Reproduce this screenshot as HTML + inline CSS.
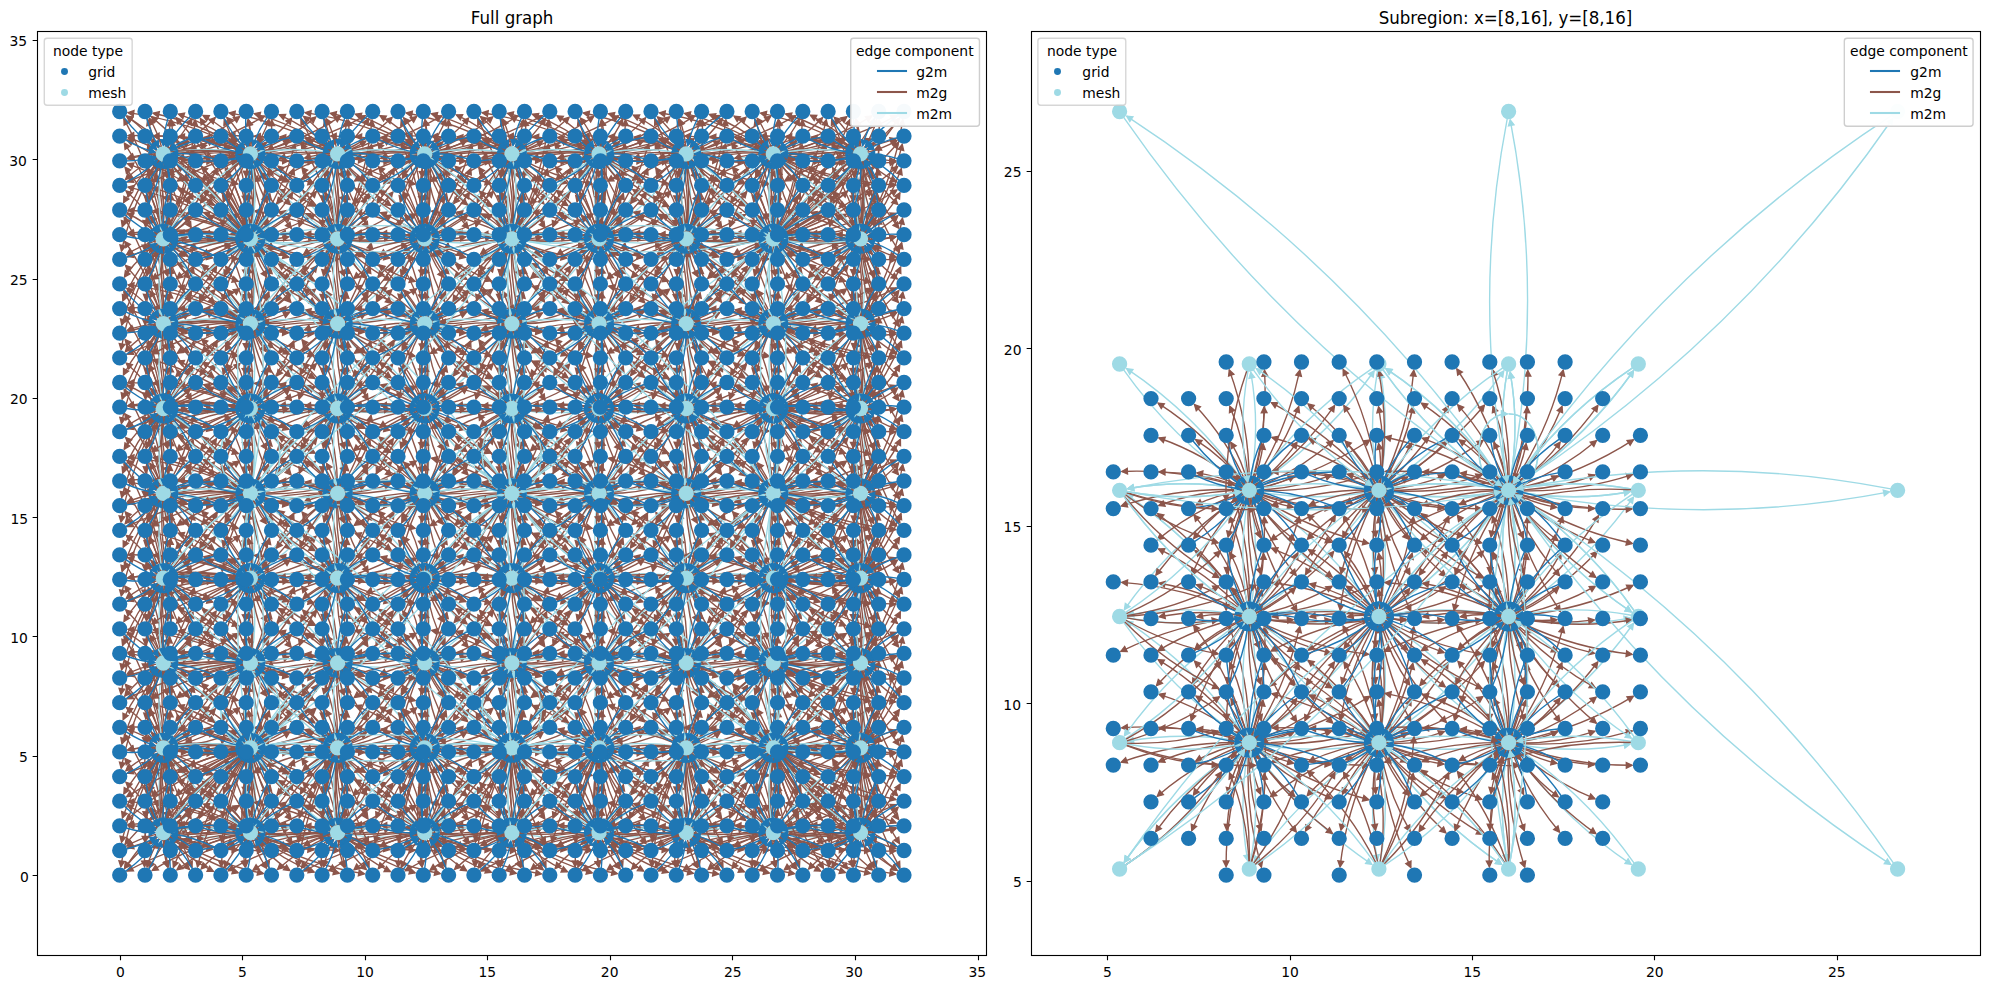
<!DOCTYPE html><html><head><meta charset="utf-8"><title>Graph</title><style>html,body{margin:0;padding:0;background:#fff}</style></head><body><svg width="1989" height="989" viewBox="0 0 1989 989" style="display:block"><defs><marker id="a" markerUnits="userSpaceOnUse" orient="auto" overflow="visible" markerWidth="20" markerHeight="20"><path d="M0 0L-5.56 2.78L-5.56 -2.78Z" fill="#1f77b4" stroke="#1f77b4" stroke-width="1.39" stroke-linejoin="miter"/></marker><marker id="b" markerUnits="userSpaceOnUse" orient="auto" overflow="visible" markerWidth="20" markerHeight="20"><path d="M0 0L-5.56 2.78L-5.56 -2.78Z" fill="#8c564b" stroke="#8c564b" stroke-width="1.39" stroke-linejoin="miter"/></marker><marker id="c" markerUnits="userSpaceOnUse" orient="auto" overflow="visible" markerWidth="20" markerHeight="20"><path d="M0 0L-5.56 2.78L-5.56 -2.78Z" fill="#9edae5" stroke="#9edae5" stroke-width="1.39" stroke-linejoin="miter"/></marker><clipPath id="k0"><rect x="37.35" y="31.33" width="949.05" height="923.94"/></clipPath><clipPath id="k1"><rect x="1030.95" y="31.33" width="949.05" height="923.94"/></clipPath></defs><style>.a{stroke:#1f77b4;marker-end:url(#a)}.ax{stroke:#1f77b4;fill:#1f77b4;stroke-linejoin:miter}.b{stroke:#8c564b;marker-end:url(#b)}.bx{stroke:#8c564b;fill:#8c564b;stroke-linejoin:miter}.c{stroke:#9edae5;marker-end:url(#c)}.cx{stroke:#9edae5;fill:#9edae5;stroke-linejoin:miter}.e{fill:none;stroke-width:1.39}.n{fill:none;stroke-width:15.28;stroke-linecap:round}text{font-family:"DejaVu Sans","Liberation Sans",sans-serif;fill:#000}.t{stroke:#000;stroke-width:1.11;fill:none}</style><rect width="1989" height="989" fill="#fff"/><g clip-path="url(#k0)"><g class="e"><g class="c"><path d="M164.5 825.9q6-35.6 .3-69.7"/><path d="M170.1 833.9q36.8 6.2 72 .3"/><path d="M169.1 828.8q45.3-30.8 76.4-74"/><path d="M169.1 828.8q45.3-30.8 76.4-74"/></g><g class="b"><path d="M157.5 836.6q-19.4 13.8-32.8 31.6"/><path d="M159.5 838.5q-8.5 14-12.4 28.4"/><path d="M163.3 839.6q.4 14.8 4.3 27.5"/><path d="M166.5 838.8q9.6 17.6 22.9 30.5"/><path d="M168 837.7q20.6 21 45.3 33.6"/><path d="M168.8 836.9q32.3 24.2 69.3 35.8"/><path d="M169.2 836.4q44.4 27.1 94 37.1"/><path d="M156.5 834.2q-16.3 4.1-29.6 11.8"/><path d="M157.7 836.8q-4.6 3.7-7.5 7"/></g><g class="bx"><path d="M165 839.4Q165.8 842 166.3 843M166.5 836.8L166.3 843 161.5 839.1Z"/></g><g class="b"><path d="M168.7 837q9.5 6.8 18.9 10.6"/><path d="M169.5 835.9q21.2 10.3 43 13.5"/><path d="M169.7 835.3q33.5 13.3 68 14.9"/><path d="M169.8 835q46 16.1 93.2 15.6"/><path d="M156.7 830.5q-14.7-4.5-28.5-4.7"/></g><g class="bx"><path d="M157.1 829.4Q154.5 828.3 153.2 827.9M157.7 832.2L153.2 827.9 159.4 826.9Z"/><path d="M168.5 828.1Q169.5 827 169.4 827.1M164 830.1L169.4 827.1 168.6 833.3Z"/></g><g class="b"><path d="M170.2 832.3q9.7-.9 17.5-3.5"/><path d="M170.2 833.1q22.4 .7 42.6-4.8"/><path d="M170.2 833.4q35.1 2.9 67.8-5.4"/><path d="M158.4 827.7q-14.5-14.1-31.1-22.7"/><path d="M160.8 826.2q-4.5-10.5-10.5-18.4"/><path d="M165.8 826.2q3.1-8.8 3.9-16.5"/><path d="M169 828.7q12.8-9.4 21.6-20.7"/><path d="M169.9 830.5q24.8-8.9 44.4-24"/><path d="M170.1 831.4q37.3-7.3 68.8-25.8"/><path d="M160.1 826.5q-14-25.5-34.1-44.2"/><path d="M162.3 825.8q-3.7-22.6-13.3-41.7"/><path d="M165.3 826q5.9-20.8 5.4-40.9"/><path d="M167.7 827.4q16.3-20.2 25-42.8"/><path d="M169 828.8q27.8-19.3 47-45.3"/><path d="M161.1 826.1q-12.6-37.5-36.1-67.5"/><path d="M163 825.7q-2-34.9-14.7-65.9"/><path d="M165.1 826q8.5-33.1 6-65.6"/><path d="M167 826.8q19.3-31.7 26.9-66.5"/><path d="M161.9 825.9q-11.1-49.8-37.6-91.5"/><path d="M163.4 825.7q0-47.3-15.4-90.4"/></g><g class="c"><path d="M251.7 825.9q6-35.6 .2-69.7"/><path d="M243.6 831.4q-36.7-6.2-72-.2"/><path d="M257.3 833.9q36.7 6.2 71.9 .3"/><path d="M256.2 828.8q45.4-30.8 76.5-74"/><path d="M246.4 827q-32-44.5-76.1-74.5"/><path d="M251.7 825.9q6-35.6 .2-69.7"/></g><g class="b"><path d="M243.5 833.6q-62.3 8.5-116.3 37.4"/><path d="M243.6 834q-49.6 10.5-91.4 36.5"/><path d="M243.8 834.8q-37.1 12.2-66.8 35"/><path d="M244.3 835.9q-24.8 13.5-43 32.9"/><path d="M245.5 837.6q-13.1 14-21 29.8"/><path d="M248.6 839.4q-3.4 14.2-2.9 27.2"/><path d="M252.4 839.3q5.4 16.2 14.1 28.9"/><path d="M254.6 838.2q15.6 19.4 35.1 32.3"/><path d="M255.7 837.2q27 22.8 58.5 34.9"/><path d="M256.2 836.6q39 25.8 82.9 36.6"/><path d="M256.4 836.1q51.4 28.8 107.9 37.7"/><path d="M243.5 832.3q-60-2.5-115.7 15.5"/><path d="M243.5 832.6q-47.4-.3-90.5 15"/><path d="M243.5 832.9q-34.6 1.9-65.4 14.3"/><path d="M243.5 833.6q-21.9 3.6-40.4 12.9"/><path d="M244 835.3q-9.5 4.3-16.6 9.7"/></g><g class="bx"><path d="M248 839.2Q247.4 841.3 247.2 842M251 837.1L247.2 842 245.5 836.1Z"/></g><g class="b"><path d="M255 837.9q4.9 5 9.3 8.1"/><path d="M256.4 836.2q15.9 8.9 32.1 12.6"/><path d="M256.8 835.5q28 12 56.8 14.4"/><path d="M256.9 835.2q40.5 14.8 82 15.3"/><path d="M243.7 831q-58-13.5-115.6-6.3"/><path d="M243.7 831q-45.4-11-90.3-6.2"/><path d="M243.7 830.9q-32.8-8.4-64.9-5.9"/><path d="M243.8 830.6q-20.2-5.6-39.7-5.1"/><path d="M244 830.1q-7.9-2.8-14.6-3.6"/></g><g class="bx"><path d="M246.9 826.7Q246.6 826.2 247.3 827M249 832.9L247.3 827 253.1 829.1Z"/></g><g class="b"><path d="M257.3 831.5q4.1-1 6.5-2"/><path d="M257.4 832.8q16.7-.1 31.3-4.4"/><path d="M257.3 833.3q29.5 1.9 56.6-5.2"/><path d="M257.3 833.5q42.2 4.2 81.9-5.5"/><path d="M244.1 829.8q-56.2-24.7-115.9-28.2"/><path d="M244.3 829.5q-43.8-21.9-90.8-27.4"/><path d="M244.5 829q-31.4-18.9-65.9-26.1"/><path d="M245.1 828.2q-19.5-15.7-41.5-24.1"/><path d="M246.6 826.9q-8.6-12.1-19-20.5"/><path d="M250.6 825.7q-.2-9-2-16.3"/><path d="M255.2 827.6q8-9.2 12.7-18.7"/><path d="M256.8 829.8q19.3-9.2 33.9-22.7"/><path d="M257.2 831.1q31.7-8.1 57.9-25.2"/><path d="M245.6 827.7q-30.4-30-67.6-47.6"/><path d="M246.5 826.9q-18.8-26.9-44-45.4"/><path d="M248.3 826.1q-8.1-23.9-22.2-42.8"/><path d="M251.1 825.8q1.6-21.5-2.8-41"/><path d="M254 826.7q11.4-20.4 15.9-41.8"/><path d="M255.7 828.2q22.6-19.7 36.9-44.2"/><path d="M256.6 829.5q34.5-18.7 59.9-46.6"/><path d="M249.3 825.8q-6.7-36-24.1-66.5"/><path d="M251.3 825.8q3.8-33.8-3.1-65.6"/><path d="M253.4 826.4q14.4-32.3 17.5-66"/><path d="M254.9 827.4q25.7-31.1 39.1-67.5"/></g><g class="c"><path d="M338.8 825.9q6-35.6 .3-69.7"/><path d="M330.7 831.4q-36.7-6.2-71.9-.2"/><path d="M344.4 833.9q36.7 6.2 72 .3"/><path d="M343.4 828.8q45.3-30.8 76.4-74"/><path d="M333.6 827q-32-44.5-76.1-74.5"/><path d="M333.6 827q-32-44.5-76.1-74.5"/></g><g class="b"><path d="M330.7 833.8q-55.3 9.6-102.5 37"/><path d="M330.8 834.4q-42.6 11.5-77.7 35.8"/><path d="M331.2 835.3q-30.2 13-53.5 34"/><path d="M332 836.8q-18.2 13.9-30.4 31.3"/><path d="M334.1 838.7q-7.4 14-10.4 28"/><path d="M338 839.6q1.4 15 6.2 27.6"/><path d="M341 838.7q10.8 17.9 25.3 30.9"/><path d="M342.5 837.6q21.8 21.3 47.8 33.9"/><path d="M343.1 836.8q33.7 24.5 72 36"/><path d="M343.5 836.3q45.8 27.5 96.8 37.3"/><path d="M330.6 832.4q-52.9-1.2-101.7 15.3"/><path d="M330.6 832.7q-40.2 1-76.5 14.7"/><path d="M330.7 833.3q-27.6 2.9-51.5 13.6"/><path d="M330.8 834.4q-14.9 4.2-26.8 11.5"/><path d="M332.3 837.2q-3.5 3.5-5.5 6.2"/></g><g class="bx"><path d="M340.1 839.1Q341.5 842.1 342.4 843.6M341.8 837.4L342.4 843.6 337.1 840.4Z"/></g><g class="b"><path d="M343.2 836.8q10.7 7.3 21.4 11.1"/><path d="M343.8 835.8q22.6 10.6 45.8 13.7"/><path d="M344 835.3q34.9 13.6 70.8 15"/><path d="M344.1 835q47.4 16.4 96 15.7"/><path d="M330.9 830.9q-38.4-9.5-76.2-6"/><path d="M330.9 830.8q-25.8-6.9-50.9-5.6"/><path d="M331 830.4q-13.3-4.1-25.7-4.5"/></g><g class="bx"><path d="M331.6 829.1Q330.2 828.5 330.2 828.5M334.3 833.1L330.2 828.5 336.4 827.9Z"/><path d="M343.6 829.2Q345.6 827.7 346.3 827M340.5 829L346.3 827 344.5 832.9Z"/></g><g class="b"><path d="M344.5 832.5q11.1-.8 20.2-3.8"/><path d="M344.5 833.1q23.8 1 45.4-4.9"/><path d="M344.5 833.4q36.5 3.2 70.6-5.4"/><path d="M331.5 829.3q-36.9-20.3-76.9-26.8"/><path d="M331.9 828.6q-24.7-17.1-52.2-25.1"/><path d="M332.9 827.6q-13.3-13.8-28.6-22.4"/><path d="M335.5 826q-3.5-10.1-8.5-17.8"/><path d="M340.7 826.5q3.9-8.9 5.4-16.9"/><path d="M343.5 829q14-9.4 23.9-21.2"/><path d="M344.2 830.6q26.2-8.7 47.1-24.2"/><path d="M344.4 831.5q38.8-7.2 71.6-26"/><path d="M333.2 827.3q-23.9-28.3-54.3-46.5"/><path d="M334.6 826.4q-12.8-25.1-31.7-43.9"/><path d="M336.9 825.8q-2.6-22.4-11.2-41.5"/><path d="M339.9 826.2q7-20.8 7.5-41.1"/><path d="M342.2 827.5q17.5-20 27.3-43.1"/><path d="M343.4 828.9q29.2-19.1 49.5-45.5"/><path d="M335.6 826q-11.5-37.2-33.7-67.3"/><path d="M337.5 825.7q-.8-34.7-12.3-65.8"/><path d="M339.6 826.1q9.7-33 8.3-65.7"/><path d="M341.5 826.9q20.6-31.6 29.3-66.7"/></g><g class="c"><path d="M426 825.9q6-35.6 .2-69.7"/><path d="M417.9 831.4q-36.7-6.2-72-.2"/><path d="M431.6 833.9q36.7 6.2 71.9 .3"/><path d="M430.5 828.8q45.4-30.8 76.5-74"/><path d="M420.7 827q-32-44.5-76.1-74.5"/><path d="M430.5 828.8q45.4-30.8 76.5-74"/></g><g class="b"><path d="M417.8 833.6q-60.9 8.7-113.6 37.4"/><path d="M417.9 834.1q-48.2 10.7-88.7 36.4"/><path d="M418.1 834.9q-35.7 12.4-64.1 34.8"/><path d="M418.7 836q-23.4 13.6-40.4 32.7"/><path d="M420.1 837.8q-12 14-18.8 29.5"/><path d="M423.4 839.5q-2.5 14.3-1.2 27.2"/><path d="M427.1 839.2q6.4 16.5 16.2 29.3"/><path d="M429.1 838.1q16.8 19.8 37.5 32.6"/><path d="M430 837.2q28.4 23 61.2 35.1"/><path d="M430.5 836.5q40.4 26.2 85.7 36.8"/><path d="M430.8 836.1q52.6 29.1 110.6 37.8"/><path d="M417.8 832.6q-45.9 0-87.7 14.9"/><path d="M417.8 833q-33.2 2.1-62.6 14.1"/><path d="M417.9 833.8q-20.6 3.7-37.7 12.6"/><path d="M418.4 835.6q-8.2 4.2-14.1 9.2"/></g><g class="bx"><path d="M423.3 839.5Q423.1 841.5 423.1 842M426 836.5L423.1 842 420.5 836.3Z"/></g><g class="b"><path d="M429.6 837.6q5.9 5.5 11.5 8.8"/><path d="M430.8 836.1q17.1 9.3 34.8 12.9"/><path d="M431.1 835.5q29.4 12.3 59.6 14.5"/><path d="M431.2 835.1q41.9 15.2 84.8 15.4"/><path d="M418 831q-44-10.7-87.4-6.1"/><path d="M418 830.8q-31.4-8-62.1-5.7"/><path d="M418.1 830.6q-18.9-5.4-36.9-5.1"/><path d="M418.3 830q-6.5-2.4-11.8-3.2"/></g><g class="bx"><path d="M423.3 825.9Q423.3 825.9 423.9 827.3M423.5 833.5L423.9 827.3 428.6 831.3Z"/></g><g class="b"><path d="M431.6 831.7q5.5-1 9.2-2.5"/><path d="M431.7 832.9q18.1 .1 34.1-4.5"/><path d="M431.6 833.3q30.9 2.2 59.4-5.2"/><path d="M431.6 833.5q43.6 4.5 84.7-5.6"/><path d="M418.9 828.9q-30.2-18.5-63.2-25.9"/><path d="M419.5 828.1q-18.3-15.3-38.9-23.8"/><path d="M421.2 826.7q-7.6-11.7-16.7-20"/><path d="M425.5 825.8q.6-8.9-.6-16.3"/><path d="M429.8 827.9q9.1-9.3 14.8-19.2"/><path d="M431.1 830q20.7-9.2 36.5-23.1"/><path d="M431.5 831.2q33.1-8 60.6-25.4"/><path d="M419.9 827.6q-29-29.7-64.8-47.4"/><path d="M421 826.8q-17.6-26.5-41.5-45.1"/><path d="M422.9 826q-7-23.5-20-42.5"/><path d="M425.8 825.8q2.6-21.3-.8-40.9"/><path d="M428.5 826.9q12.7-20.4 18.2-42.1"/><path d="M430.2 828.4q23.8-19.7 39.3-44.6"/><path d="M430.9 829.6q35.9-18.5 62.6-46.8"/><path d="M422.1 826.3q-16.4-38.5-43.6-68.2"/><path d="M423.8 825.8q-5.5-35.8-21.7-66.4"/><path d="M425.9 825.8q4.9-33.6-.9-65.5"/><path d="M427.9 826.5q15.6-32.2 19.8-66.1"/><path d="M429.4 827.5q26.9-30.9 41.5-67.6"/></g><g class="c"><path d="M513.1 825.9q6-35.6 .3-69.7"/><path d="M505 831.4q-36.7-6.2-71.9-.2"/><path d="M518.7 833.9q36.7 6.2 72 .3"/><path d="M517.7 828.8q45.3-30.8 76.4-74"/><path d="M507.9 827q-32-44.5-76.1-74.5"/><path d="M513.1 825.9q6-35.6 .3-69.7"/></g><g class="b"><path d="M505 833.9q-53.8 9.8-99.7 36.8"/><path d="M505.2 834.5q-41.3 11.7-75 35.6"/><path d="M505.5 835.5q-28.8 13.1-50.8 33.7"/><path d="M506.4 837q-16.8 13.9-28 30.9"/><path d="M508.8 838.9q-6.4 14.1-8.5 27.8"/><path d="M512.7 839.6q2.4 15.2 8.1 27.9"/><path d="M515.5 838.6q12 18.3 27.7 31.2"/><path d="M516.9 837.5q23 21.7 50.4 34.2"/><path d="M517.5 836.8q35 24.8 74.7 36.1"/><path d="M517.8 836.3q47.2 27.8 99.6 37.3"/><path d="M504.9 832.5q-51.5-1-98.9 15.1"/><path d="M504.9 832.8q-38.8 1.2-73.7 14.5"/><path d="M505 833.4q-26.2 3-48.7 13.4"/><path d="M505.2 834.5q-13.6 4.3-24.3 11.2"/><path d="M507.1 837.7q-2.6 3.2-3.9 5.3"/><path d="M515.1 838.8q2.1 3.5 3.7 5.4"/><path d="M517.6 836.6q12 7.7 24.1 11.5"/><path d="M518.1 835.7q24 11 48.6 13.9"/><path d="M518.3 835.3q36.3 13.9 73.6 15"/><path d="M518.4 835q48.8 16.7 98.8 15.7"/><path d="M505.2 830.9q-37-9.2-73.4-5.9"/><path d="M505.2 830.7q-24.4-6.6-48.1-5.4"/><path d="M505.3 830.4q-11.9-3.8-22.9-4.4"/></g><g class="bx"><path d="M506.1 828.8Q505.9 828.6 507 829.2M510.6 834.3L507 829.2 513.2 829.4Z"/><path d="M518.3 830Q518.5 829.9 517.4 830.5M511.2 830.8L517.4 830.5 513.9 835.6Z"/></g><g class="b"><path d="M518.8 832.6q12.5-.7 23-4"/><path d="M518.8 833.2q25.3 1.2 48.2-5"/><path d="M518.8 833.4q37.9 3.5 73.4-5.4"/><path d="M505.9 829.2q-35.6-19.9-74.2-26.6"/><path d="M506.3 828.5q-23.5-16.8-49.5-24.9"/><path d="M507.4 827.4q-12.1-13.3-26.1-21.9"/><path d="M510.3 825.9q-2.6-9.8-6.8-17.4"/><path d="M515.4 826.7q4.9-8.9 7.2-17.2"/><path d="M517.9 829.2q15.3-9.4 26.4-21.6"/><path d="M518.5 830.7q27.6-8.5 49.8-24.4"/><path d="M518.7 831.6q40.2-7 74.4-26.2"/><path d="M507.6 827.2q-22.6-28-51.7-46.2"/><path d="M509.1 826.3q-11.6-24.8-29.3-43.6"/><path d="M511.5 825.7q-1.5-22.1-9-41.3"/><path d="M514.6 826.3q8-20.7 9.5-41.2"/><path d="M516.7 827.7q18.7-20 29.7-43.4"/><path d="M517.8 829.1q30.5-19.1 52.1-45.9"/><path d="M510.1 826q-10.3-36.9-31.2-67.1"/><path d="M512.1 825.7q.3-34.5-10.1-65.7"/><path d="M514.2 826.1q10.8-32.7 10.5-65.7"/><path d="M515.9 827q21.9-31.4 31.7-66.8"/></g><g class="c"><path d="M600.3 825.9q6-35.6 .2-69.7"/><path d="M592.2 831.4q-36.8-6.2-72-.2"/><path d="M605.8 833.9q36.8 6.2 72 .3"/><path d="M604.8 828.8q45.4-30.8 76.5-74"/><path d="M595 827q-32-44.5-76.1-74.5"/><path d="M595 827q-32-44.5-76.1-74.5"/></g><g class="b"><path d="M592.1 833.6q-59.5 9-110.8 37.3"/><path d="M592.2 834.2q-46.8 10.9-85.9 36.2"/><path d="M592.5 835q-34.3 12.5-61.5 34.6"/><path d="M593 836.2q-22 13.7-37.8 32.3"/><path d="M594.6 838.1q-10.7 14-16.6 29"/><path d="M598.1 839.6q-1.5 14.4 .7 27.2"/><path d="M601.7 839.1q7.4 16.8 18.4 29.7"/><path d="M603.5 838q18.1 20.1 40.1 33"/><path d="M604.4 837.1q29.6 23.4 63.9 35.3"/><path d="M604.8 836.5q41.8 26.5 88.5 36.8"/><path d="M605.1 836.1q54 29.4 113.4 37.9"/><path d="M592.1 832.6q-44.5 .2-84.9 14.9"/><path d="M592.1 833.1q-31.8 2.2-59.8 14"/><path d="M592.2 833.9q-19.2 3.9-35 12.4"/><path d="M592.9 835.9q-7 4.1-11.8 8.6"/></g><g class="bx"><path d="M598.7 839.6Q598.8 841.6 598.8 842.1M600.9 836.3L598.8 842.1 595.4 837Z"/></g><g class="b"><path d="M604.1 837.4q7.1 5.9 13.9 9.5"/><path d="M605.1 836q18.5 9.6 37.5 13.1"/><path d="M605.4 835.4q30.8 12.7 62.4 14.7"/><path d="M605.5 835.1q43.3 15.5 87.6 15.5"/><path d="M592.3 830.9q-42.6-10.4-84.6-6"/><path d="M592.3 830.8q-30-7.8-59.3-5.7"/><path d="M592.4 830.6q-17.5-5.1-34.1-5"/><path d="M592.7 829.8q-5.2-2-9.2-2.7"/></g><g class="bx"><path d="M600.4 825.9Q600.4 825.9 600.4 827.4M597.6 832.9L600.4 827.4 603.2 833Z"/></g><g class="b"><path d="M605.9 832q6.9-1.1 12-2.9"/><path d="M606 833q19.6 .3 36.9-4.7"/><path d="M605.9 833.3q32.4 2.4 62.2-5.2"/><path d="M605.9 833.5q45 4.7 87.5-5.6"/><path d="M593.2 828.9q-28.8-18.3-60.4-25.8"/><path d="M593.9 828q-17-15-36.2-23.5"/><path d="M595.8 826.5q-6.5-11.3-14.5-19.4"/><path d="M600.4 825.9q1.4-8.9 .9-16.2"/><path d="M604.3 828.2q10.4-9.3 17-19.7"/><path d="M605.5 830.2q22-9.1 39.1-23.4"/><path d="M605.8 831.3q34.5-7.8 63.4-25.5"/><path d="M594.3 827.6q-27.7-29.4-62.2-47.2"/><path d="M595.4 826.7q-16.3-26.2-38.9-44.8"/><path d="M597.5 825.9q-5.9-23.2-17.8-42.2"/><path d="M600.4 825.9q3.7-21.2 1.3-40.9"/><path d="M603.1 827q13.8-20.2 20.3-42.2"/><path d="M604.6 828.5q25.1-19.5 41.8-44.8"/><path d="M605.3 829.7q37.2-18.4 65.2-47"/><path d="M596.6 826.2q-15.2-38.2-41.1-67.9"/><path d="M598.3 825.8q-4.4-35.5-19.3-66.3"/><path d="M600.4 825.9q6.1-33.5 1.4-65.6"/><path d="M602.4 826.6q16.9-32 22.1-66.2"/><path d="M603.8 827.6q28.2-30.8 44-67.8"/></g><g class="c"><path d="M687.4 825.9q6-35.6 .3-69.7"/><path d="M679.3 831.4q-36.7-6.2-71.9-.2"/><path d="M693 833.9q36.7 6.2 72 .3"/><path d="M692 828.8q45.3-30.8 76.4-74"/><path d="M682.2 827q-32-44.5-76.1-74.5"/><path d="M692 828.8q45.3-30.8 76.4-74"/></g><g class="b"><path d="M679.3 833.9q-52.4 10.1-96.9 36.8"/><path d="M679.5 834.6q-39.9 11.9-72.3 35.4"/><path d="M679.9 835.6q-27.5 13.3-48.2 33.5"/><path d="M680.9 837.2q-15.6 13.9-25.6 30.5"/><path d="M683.5 839.1q-5.4 14.1-6.6 27.5"/><path d="M687.4 839.5q3.4 15.5 10.1 28.2"/><path d="M690 838.4q13.2 18.7 30.1 31.7"/><path d="M691.2 837.4q24.4 22 53.2 34.4"/><path d="M691.8 836.7q36.3 25.2 77.5 36.3"/><path d="M692.1 836.2q48.6 28.1 102.4 37.5"/><path d="M679.2 832.5q-50.1-.8-96.1 15.1"/><path d="M679.2 832.8q-37.4 1.4-70.9 14.5"/><path d="M679.3 833.4q-24.8 3.3-45.9 13.3"/><path d="M679.5 834.8q-12.2 4.3-21.6 10.7"/></g><g class="bx"><path d="M682 838.3Q680.3 841 679.5 842.6M684.4 838.8L679.5 842.6 679.4 836.4Z"/></g><g class="b"><path d="M689.9 838.5q3 4 5.4 6.3"/><path d="M692 836.5q13.2 8.1 26.7 11.9"/><path d="M692.5 835.6q25.2 11.4 51.3 14.1"/><path d="M692.6 835.2q37.7 14.3 76.4 15.2"/><path d="M692.7 835q50.2 17 101.6 15.7"/><path d="M679.5 830.9q-35.6-9-70.6-5.9"/><path d="M679.5 830.7q-23-6.3-45.3-5.4"/><path d="M679.7 830.3q-10.6-3.5-20.2-4.1"/></g><g class="bx"><path d="M680.8 828.2Q678.7 826.9 677.8 826.5M681.7 831.2L677.8 826.5 684 826.1Z"/><path d="M692.8 830.6Q694.3 830.1 694.3 830.1M688.1 830L694.3 830.1 690.5 835Z"/></g><g class="b"><path d="M693.1 832.7q13.9-.5 25.8-4.1"/><path d="M693.1 833.2q26.7 1.4 51-5"/><path d="M693.1 833.4q39.3 3.7 76.2-5.4"/><path d="M680.2 829.1q-34.2-19.5-71.4-26.4"/><path d="M680.7 828.4q-22.2-16.4-46.9-24.6"/><path d="M681.9 827.2q-10.9-12.9-23.7-21.4"/><path d="M685.2 825.8q-1.8-9.5-5.2-17"/><path d="M690.2 827q5.9-9 8.9-17.7"/><path d="M692.3 829.4q16.7-9.3 28.9-22"/><path d="M692.9 830.9q28.9-8.5 52.4-24.8"/><path d="M693 831.7q41.6-6.8 77.1-26.3"/><path d="M682 827.1q-21.3-27.6-49.1-45.9"/><path d="M683.6 826.2q-10.4-24.4-26.9-43.3"/><path d="M686.2 825.7q-.5-21.9-7-41.1"/><path d="M689.2 826.4q9.2-20.5 11.6-41.4"/><path d="M691.2 827.9q20-19.9 32-43.7"/><path d="M692.2 829.2q31.8-18.9 54.6-46.1"/><path d="M684.6 825.9q-9.1-36.6-28.8-66.9"/><path d="M686.6 825.7q1.5-34.2-7.8-65.6"/><path d="M688.7 826.2q12-32.6 12.8-65.8"/><path d="M690.4 827.2q23.1-31.4 34.1-67.1"/></g><g class="c"><path d="M774.6 825.9q5.9-35.6 .2-69.7"/><path d="M766.5 831.4q-36.8-6.2-72-.2"/><path d="M780.1 833.9q36.8 6.2 72 .3"/><path d="M779.1 828.8q45.4-30.8 76.5-74"/><path d="M769.3 827q-32-44.5-76.1-74.5"/><path d="M774.6 825.9q5.9-35.6 .2-69.7"/></g><g class="b"><path d="M766.5 833.7q-58.1 9.2-108.1 37.2"/><path d="M766.6 834.2q-45.5 11.2-83.2 36.1"/><path d="M766.8 835.1q-32.9 12.7-58.7 34.4"/><path d="M767.5 836.4q-20.8 13.7-35.4 32"/><path d="M769.2 838.3q-9.6 14-14.5 28.7"/><path d="M772.9 839.6q-.6 14.6 2.5 27.3"/><path d="M776.3 839q8.5 17.2 20.6 30"/><path d="M778 837.8q19.2 20.6 42.6 33.3"/><path d="M778.8 837q30.9 23.8 66.5 35.5"/><path d="M779.2 836.4q43.1 26.8 91.2 37"/><path d="M779.4 836q55.4 29.7 116.2 38"/><path d="M766.4 832.7q-43.1 .4-82.1 14.8"/><path d="M766.4 833.1q-30.4 2.5-57 13.9"/><path d="M766.5 834q-17.7 4-32.2 12.2"/><path d="M767.4 836.3q-5.7 4-9.5 7.8"/></g><g class="bx"><path d="M774.1 839.6Q774.5 841.8 774.7 842.5M775.8 836.4L774.7 842.5 770.5 837.9Z"/></g><g class="b"><path d="M778.6 837.2q8.3 6.4 16.4 10"/><path d="M779.5 835.9q19.8 10 40.2 13.4"/><path d="M779.7 835.4q32.2 13 65.3 14.7"/><path d="M779.8 835.1q44.7 15.8 90.4 15.5"/><path d="M779.9 834.9q57.2 18.5 115.7 16"/><path d="M766.6 830.9q-41.2-10.1-81.8-6"/><path d="M766.6 830.8q-28.6-7.5-56.5-5.6"/><path d="M766.7 830.5q-16.1-4.7-31.3-4.8"/><path d="M767.1 829.7q-3.9-1.6-6.5-2.3"/></g><g class="bx"><path d="M777.1 826.9Q777.3 826.4 777 827.3M772.5 831.5L777 827.3 777.7 833.5Z"/></g><g class="b"><path d="M780.2 832.2q8.3-1 14.7-3.3"/><path d="M780.3 833q21 .6 39.7-4.7"/><path d="M780.2 833.3q33.8 2.7 65-5.3"/><path d="M780.2 833.5q46.4 5 90.3-5.6"/><path d="M780.2 833.6q59.1 7.4 115.6-5.8"/><path d="M767.6 828.8q-27.5-17.9-57.7-25.6"/><path d="M768.3 827.8q-15.7-14.5-33.6-23.1"/><path d="M770.4 826.4q-5.4-10.9-12.4-19"/><path d="M775.3 826q2.2-8.8 2.4-16.3"/><path d="M778.8 828.5q11.6-9.4 19.3-20.2"/><path d="M779.9 830.3q23.4-8.9 41.7-23.7"/><path d="M780.1 831.4q36-7.6 66.1-25.7"/><path d="M780.2 832q48.6-5.7 91-26.9"/><path d="M780.3 832.3q61.2-3.5 116-27.6"/><path d="M768.7 827.5q-26.4-29-59.5-47"/><path d="M769.9 826.6q-15.1-25.8-36.5-44.5"/><path d="M772 825.9q-4.7-23-15.5-42"/><path d="M775 826q4.8-21 3.3-41"/><path d="M777.6 827.2q15-20.2 22.6-42.5"/><path d="M779 828.7q26.4-19.5 44.4-45.1"/><path d="M779.6 829.8q38.7-18.2 67.9-47.2"/><path d="M771 826.1q-13.9-37.8-38.6-67.7"/><path d="M772.8 825.8q-3.2-35.3-17-66.1"/><path d="M774.9 825.9q7.4-33.2 3.7-65.5"/><path d="M776.8 826.7q18.2-31.9 24.6-66.4"/></g><g class="c"><path d="M861.7 825.9q6-35.6 .3-69.7"/><path d="M853.6 831.4q-36.7-6.2-71.9-.2"/><path d="M856.5 827q-32-44.5-76.1-74.5"/><path d="M856.5 827q-32-44.5-76.1-74.5"/></g><g class="b"><path d="M853.6 834q-51 10.3-94.2 36.6"/><path d="M853.8 834.7q-38.5 12-69.5 35.2"/><path d="M854.2 835.7q-26.1 13.4-45.5 33.2"/><path d="M855.4 837.4q-14.4 14-23.3 30.2"/><path d="M858.2 839.2q-4.4 14.2-4.7 27.4"/><path d="M862.1 839.4q4.3 15.9 12.1 28.6"/><path d="M864.5 838.3q14.4 19.1 32.5 32"/><path d="M853.5 832.5q-48.7-.5-93.3 15.1"/><path d="M853.5 832.9q-36 1.6-68.1 14.3"/><path d="M853.6 833.5q-23.4 3.5-43.2 13.1"/><path d="M853.9 835q-10.8 4.3-19 10.3"/></g><g class="bx"><path d="M857.1 838.8Q856 841.2 855.6 842.3M860 837.9L855.6 842.3 854.8 836.1Z"/></g><g class="b"><path d="M864.7 838.2q3.8 4.5 7.2 7.2"/><path d="M866.4 836.3q14.5 8.5 29.4 12.3"/><path d="M853.8 830.9q-34.2-8.7-67.8-5.9"/><path d="M853.8 830.7q-21.6-6-42.5-5.3"/><path d="M854 830.2q-9.2-3.1-17.4-3.9"/></g><g class="bx"><path d="M855.8 827.6Q854.7 826.6 854.7 826.7M857.9 832L854.7 826.7 860.9 827.4Z"/><path d="M867.2 831.1Q870 830.3 871.2 829.7M865 829.4L871.2 829.7 867.2 834.5Z"/></g><g class="b"><path d="M867.4 832.8q15.4-.3 28.6-4.3"/><path d="M854.5 829.1q-32.8-19.3-68.6-26.3"/><path d="M855.1 828.3q-20.9-16-44.2-24.4"/><path d="M856.4 827.1q-9.8-12.6-21.3-21"/><path d="M860 825.7q-1-9.2-3.5-16.6"/><path d="M864.9 827.3q6.9-9.1 10.8-18.2"/><path d="M866.7 829.6q18-9.3 31.4-22.3"/><path d="M856.4 827q-20-27.2-46.5-45.7"/><path d="M858.1 826.1q-9.2-24.1-24.5-43"/><path d="M860.8 825.7q.6-21.6-4.9-41"/><path d="M863.7 826.6q10.4-20.5 13.8-41.6"/><path d="M865.6 828q21.3-19.8 34.5-43.9"/><path d="M859.1 825.9q-7.9-36.4-26.4-66.8"/><path d="M861.1 825.8q2.7-34.1-5.4-65.7"/><path d="M863.2 826.3q13.3-32.4 15.2-65.9"/><path d="M864.8 827.3q24.4-31.2 36.6-67.3"/><path d="M862.9 826.2q16-44.6 15.9-90.4"/><path d="M864.3 826.9q27.3-43 38-91.3"/></g><g class="c"><path d="M162 754.7q-6 35.6-.2 69.6"/><path d="M164.5 741q6-35.6 .3-69.6"/><path d="M170.1 749.1q36.8 6.2 72 .3"/><path d="M169.1 744q45.3-30.8 76.4-74.1"/><path d="M167.3 753.5q32 44.6 76.1 74.5"/><path d="M170.1 749.1q36.8 6.2 72 .3"/></g><g class="b"><path d="M159.8 753.9q-29.8 53.6-38.9 112.8"/><path d="M161 754.4q-18.3 55.4-16.4 112.2"/><path d="M162.4 754.7q-7 57.4 5.9 112.1"/><path d="M163.7 754.8q4.3 59.6 28.3 112.6"/><path d="M159.4 753.6q-27 41.7-37.9 88.6"/><path d="M160.8 754.3q-15.7 43.2-15.8 87.7"/><path d="M162.5 754.7q-4.7 45.1 5.7 87.5"/><path d="M164.1 754.7q6.3 47.3 27.5 88.3"/><path d="M158.8 753.2q-24 29.9-36.3 64.6"/><path d="M160.5 754.2q-12.9 31.1-15.1 63.2"/><path d="M162.6 754.8q-2.4 32.6 5.5 62.8"/><path d="M164.7 754.6q8.1 35 26.3 64.1"/><path d="M166.3 754.1q19 37.7 48.4 65.9"/><path d="M158 752.4q-20.9 18.5-34.1 41.4"/><path d="M159.9 753.9q-10 19.2-13.5 38.9"/><path d="M163 754.8q-.4 20.3 4.8 38.3"/><path d="M165.8 754.3q9.3 22.8 24.2 40.5"/><path d="M167.4 753.4q20.2 26 46.4 43.2"/><path d="M156.9 750.6q-17.6 8.2-31 20.2"/><path d="M158.7 753q-6.5 8-10.3 15.8"/><path d="M163.9 754.8q1 7.9 3.2 13.9"/><path d="M167.6 753.2q9.7 11.4 20.8 18.8"/><path d="M168.8 752q21 14.9 44 22.1"/><path d="M169.3 751.3q33 18 68.5 24"/><path d="M156.4 747.3q-15.2-.6-28.5 2.5"/></g><g class="bx"><path d="M156.4 748.5Q153.9 748.9 153 749.2M159.1 750.3L153 749.2 157.6 745Z"/><path d="M169.2 751.5Q169.7 751.7 168.8 751.4M164.5 747L168.8 751.4 162.7 752.3Z"/></g><g class="b"><path d="M169.9 749.8q9.3 2.2 17.2 2.3"/><path d="M170 749.5q21.8 4.9 42.5 3.3"/><path d="M170 749.4q34.4 7.5 67.8 3.6"/><path d="M157.6 743.9q-14.6-9.6-29.7-14.3"/><path d="M159.5 742q-4.1-5.6-8-9.2"/><path d="M166.4 741.6q1.6-3.6 2.2-6"/><path d="M169.7 745.1q11.2-5.2 19.5-12.2"/><path d="M170.1 746.7q23.6-4.5 43.4-15.2"/><path d="M170.2 747.4q36.3-2.8 68.3-16.6"/><path d="M159.4 742.1q-14.3-20.4-32.8-34.4"/><path d="M161.8 741.1q-4.2-17.2-12.4-31.2"/><path d="M165.5 741.2q4.7-15.4 4.9-30"/><path d="M168.2 743q14.8-15.2 23.7-32.7"/><path d="M169.4 744.6q26.4-14.6 45.8-35.6"/><path d="M169.9 745.7q38.8-13.3 69.7-37.7"/><path d="M160.7 741.4q-13.3-32.2-35.3-57.1"/><path d="M162.7 740.9q-2.8-29.5-14.1-55.1"/><path d="M165.2 741.2q7.3-27.7 5.7-54.7"/><path d="M167.3 742.2q18-26.5 26.1-55.9"/><path d="M168.6 743.4q29.5-25.5 48.2-57.9"/><path d="M161.6 741.1q-11.8-44.3-37-80.7"/><path d="M163.2 740.9q-.9-41.9-15.1-79.6"/><path d="M165 741.1q10-39.9 6.2-79.2"/><path d="M162.1 741q-9.9-56.6-38.1-104.9"/></g><g class="c"><path d="M249.2 754.7q-6 35.6-.3 69.6"/><path d="M251.7 741q6-35.6 .2-69.6"/><path d="M243.6 746.6q-36.7-6.2-72-.3"/><path d="M257.3 749.1q36.7 6.2 71.9 .3"/><path d="M244.6 751.7q-45.3 30.8-76.4 74"/><path d="M256.2 744q45.4-30.8 76.5-74.1"/><path d="M246.4 742.2q-32-44.6-76.1-74.5"/><path d="M254.4 753.5q32 44.6 76.1 74.5"/><path d="M250.4 671.5C289.6 671.5 289.6 747.8 250.4 747.8 211.2 747.8 211.2 671.5 248.9 671.5"/></g><g class="b"><path d="M244.6 751.7q-71.3 47.6-120 116.4"/><path d="M245.1 752.3q-59.1 49.5-96 115.4"/><path d="M245.7 752.9q-47 51.3-72.3 114.3"/><path d="M246.5 753.6q-35 52.9-49 113.2"/><path d="M247.6 754.2q-23.4 54.6-26.3 112.4"/><path d="M248.9 754.6q-12 56.5-4 112.1"/><path d="M250.3 754.8q-.8 58.6 18.3 112.3"/><path d="M244.3 751q-68.7 36.1-119 93.1"/><path d="M244.6 751.7q-56.2 37.8-94.7 91.8"/><path d="M245.2 752.4q-44.1 39.5-71 90.5"/><path d="M246.1 753.2q-32.2 41.1-47.9 89.2"/><path d="M247.3 754q-20.7 42.6-25.6 88"/><path d="M248.9 754.6q-9.6 44.2-3.9 87.5"/><path d="M250.6 754.8q1.4 46.2 17.7 87.8"/><path d="M252.1 754.6q12.4 48.7 39.9 88.9"/><path d="M243.9 750.2q-66 24.7-117.8 70"/><path d="M244.2 750.9q-53.5 26.4-93.4 68.7"/><path d="M244.6 751.7q-41.1 28-69.4 67.2"/><path d="M245.5 752.7q-29.2 29.4-46.3 65.4"/><path d="M246.8 753.8q-17.8 30.5-24.3 63.7"/><path d="M248.8 754.6q-7 31.9-3.6 62.8"/><path d="M251 754.8q3.4 33.8 16.9 63.4"/><path d="M252.8 754.3q14.1 36.5 38.4 65.1"/><path d="M243.6 749.2q-63.4 13.5-116.8 47.4"/><path d="M243.8 749.8q-50.8 15.3-92 46.2"/><path d="M244 750.6q-38.3 17-67.6 44.7"/><path d="M244.7 751.7q-26.2 18.2-44.1 42.6"/><path d="M246.1 753.2q-14.7 19-22.4 40"/><path d="M248.7 754.6q-4.5 19.6-3.2 38.1"/><path d="M251.8 754.6q5 21.6 15.3 39.3"/><path d="M254 753.8q15.2 24.5 36.2 42.1"/><path d="M255.1 752.9q26.6 27.8 59.4 44.5"/><path d="M243.5 748q-61 2.4-116 25.2"/><path d="M243.5 748.4q-48.3 4.5-90.8 24.5"/><path d="M243.6 749q-35.7 6.4-65.9 23.3"/><path d="M243.8 749.9q-23.1 7.9-41.5 21.5"/><path d="M244.7 751.8q-11.1 8.3-18.7 18"/><path d="M248.4 754.5q-1.9 7.4-2.2 13.6"/><path d="M253.6 754q5.4 9.7 11.9 16.6"/><path d="M255.6 752.5q15.8 13.3 33.3 20.9"/><path d="M256.3 751.5q27.6 16.7 57.5 23.4"/><path d="M243.6 746.8q-58.9-8.7-115.6 3.3"/><path d="M243.6 746.8q-46.2-6.2-90.3 3.3"/><path d="M243.5 746.9q-33.5-3.8-64.9 3.1"/><path d="M243.5 747.2q-20.8-1.6-39.6 2.7"/><path d="M243.5 747.7q-8.1 .3-14.4 1.9"/></g><g class="bx"><path d="M250.4 747.8Q247.9 749.5 247.1 750.7M252.5 747.7L247.1 750.7 247.9 744.5Z"/></g><g class="b"><path d="M257 750.1q3.7 1 6 1.3"/><path d="M257.1 749.6q16.2 3.8 31.2 3"/><path d="M257.2 749.5q28.7 6.3 56.5 3.4"/><path d="M243.9 745.5q-57-19.7-115.7-18.4"/><path d="M244 745.3q-44.5-17-90.5-17.9"/><path d="M244.1 744.9q-32-14.1-65.3-17"/><path d="M244.4 744.3q-19.8-11.1-40.4-15.4"/><path d="M245.4 743q-8.3-7.5-16.9-12"/><path d="M249.9 740.9q-.4-3.6-1-5.5"/><path d="M256.1 743.8q6.2-4.9 10.2-9.8"/><path d="M257.2 746.1q18-5 32.5-14.1"/><path d="M257.3 747.1q30.7-3.6 57.2-16.1"/><path d="M257.4 747.7q43.3-1.7 82.2-17.2"/><path d="M244.7 744q-43-28.1-91.4-39.5"/><path d="M245.1 743.4q-30.8-25.1-66.8-37.9"/><path d="M245.9 742.5q-19.2-21.8-42.9-35.6"/><path d="M247.7 741.5q-8.5-18.5-21-32.6"/><path d="M250.9 740.9q.8-16-2.5-30"/><path d="M254.4 742.1q10-15.2 14.8-31.2"/><path d="M256.2 743.9q21.1-14.9 35.6-34.3"/><path d="M256.9 745.3q33.2-13.9 58.9-36.9"/><path d="M247.2 741.7q-18.2-33.5-45.2-58"/><path d="M248.9 741.1q-7.4-30.6-23.4-55.9"/><path d="M251.2 740.9q2.9-28.3-3-54.6"/><path d="M253.6 741.7q13.2-27 16.9-55.2"/><path d="M255.3 742.8q24.3-25.9 38.1-57"/><path d="M256.2 744q36.2-24.8 61-59"/><path d="M253.2 741.4q16-38.9 18-79.5"/></g><g class="c"><path d="M336.3 754.7q-6 35.6-.2 69.6"/><path d="M338.8 741q6-35.6 .3-69.6"/><path d="M330.7 746.6q-36.7-6.2-71.9-.3"/><path d="M344.4 749.1q36.7 6.2 72 .3"/><path d="M331.8 751.7q-45.4 30.8-76.5 74"/><path d="M343.4 744q45.3-30.8 76.4-74.1"/><path d="M333.6 742.2q-32-44.6-76.1-74.5"/><path d="M341.6 753.5q32 44.6 76.1 74.5"/><path d="M330.7 746.6q-36.7-6.2-71.9-.3"/></g><g class="b"><path d="M334.3 753.9q-28.6 53.9-36.4 112.8"/><path d="M335.5 754.5q-17.1 55.6-13.9 112.1"/><path d="M336.8 754.7q-5.7 57.7 8.4 112.2"/><path d="M338.1 754.8q5.6 59.8 30.9 112.7"/><path d="M333.9 753.7q-25.8 41.8-35.4 88.4"/><path d="M335.3 754.4q-14.5 43.4-13.5 87.6"/><path d="M337 754.8q-3.5 45.2 8.1 87.5"/><path d="M338.6 754.7q7.5 47.5 29.9 88.4"/><path d="M332.2 752.2q-34.5 28.9-56.5 66.3"/><path d="M333.3 753.3q-22.8 30-34 64.4"/><path d="M335 754.3q-11.7 31.2-12.7 63"/><path d="M337.2 754.8q-1.3 32.9 7.7 62.9"/><path d="M339.2 754.6q9.3 35.2 28.7 64.2"/><path d="M340.8 754q20.2 38.1 50.9 66.2"/><path d="M331.5 751.2q-31.5 17.7-54.4 43.6"/><path d="M332.5 752.5q-19.7 18.7-31.8 41.2"/><path d="M334.5 754.1q-8.8 19.2-11.4 38.7"/><path d="M337.6 754.8q.7 20.5 6.9 38.4"/><path d="M340.3 754.2q10.5 23.2 26.6 40.8"/><path d="M341.9 753.3q21.4 26.3 48.9 43.5"/><path d="M330.7 748.7q-41.3 5.6-77 23.9"/><path d="M330.8 749.4q-28.6 7.3-52.2 22.5"/><path d="M331.3 750.8q-16.3 8.3-28.4 19.8"/><path d="M333.4 753.4q-5.5 7.8-8.4 15.2"/><path d="M338.8 754.7q1.8 8.1 4.7 14.3"/><path d="M342.1 753.1q10.9 11.7 23.3 19.2"/><path d="M343.2 751.9q22.3 15.2 46.6 22.4"/><path d="M343.7 751.2q34.3 18.4 71.2 24.2"/><path d="M330.7 747q-26.5-2.5-50.9 3"/><path d="M330.6 747.4q-13.7-.5-25.6 2.4"/></g><g class="bx"><path d="M330.7 748.8Q329.6 749.1 330.1 749M336.2 750.1L330.1 749 334.6 744.7Z"/><path d="M343.8 751Q345.5 751.6 345.9 751.6M341 747.8L345.9 751.6 339.9 753.3Z"/></g><g class="b"><path d="M344.3 749.7q10.6 2.6 19.9 2.6"/><path d="M344.3 749.5q23.2 5.2 45.3 3.3"/><path d="M344.3 749.4q35.8 7.8 70.6 3.7"/><path d="M331.2 745.1q-37.5-15.4-76.5-17.4"/><path d="M331.4 744.6q-25.2-12.5-51.5-16.2"/><path d="M332 743.7q-13.3-9.2-27.1-13.9"/><path d="M334.2 741.7q-3.1-5.1-6.1-8.4"/><path d="M341.4 742q2.3-3.9 3.3-6.6"/><path d="M344.1 745.4q12.5-5.3 22.1-12.7"/><path d="M344.4 746.8q25.1-4.3 46.2-15.4"/><path d="M344.5 747.5q37.7-2.6 71-16.8"/><path d="M332.6 742.9q-24.2-23.2-53.3-36.7"/><path d="M333.9 741.9q-13.1-19.9-30.4-34"/><path d="M336.5 741q-3.2-16.9-10.4-30.8"/><path d="M340.2 741.4q5.7-15.4 6.8-30.2"/><path d="M342.7 743.2q16-15.2 26-33"/><path d="M343.8 744.7q27.8-14.4 48.4-35.8"/><path d="M344.2 745.8q40.2-13.1 72.4-37.9"/><path d="M333.8 742q-23.2-34.8-55.4-58.9"/><path d="M335.2 741.3q-12.1-31.8-32.9-56.8"/><path d="M337.3 740.9q-1.7-29.2-11.9-55"/><path d="M339.8 741.2q8.5-27.4 7.9-54.7"/><path d="M341.8 742.3q19.2-26.4 28.5-56.1"/><path d="M343 743.5q30.8-25.3 50.7-58.1"/><path d="M337.7 740.9q.3-41.6-12.7-79.5"/><path d="M339.5 741.2q11.2-39.7 8.6-79.3"/></g><g class="c"><path d="M423.5 754.7q-6 35.6-.3 69.6"/><path d="M426 741q6-35.6 .2-69.6"/><path d="M417.9 746.6q-36.7-6.2-72-.3"/><path d="M431.6 749.1q36.7 6.2 71.9 .3"/><path d="M418.9 751.7q-45.3 30.8-76.4 74"/><path d="M430.5 744q45.4-30.8 76.5-74.1"/><path d="M420.7 742.2q-32-44.6-76.1-74.5"/><path d="M428.7 753.5q32 44.6 76.1 74.5"/><path d="M431.6 749.1q36.7 6.2 71.9 .3"/></g><g class="b"><path d="M422.1 754.2q-22.2 54.9-23.9 112.4"/><path d="M423.4 754.6q-10.8 56.7-1.6 112.1"/><path d="M424.7 754.8q.5 58.8 20.8 112.4"/><path d="M420.5 753.3q-30.9 41.2-45.4 89"/><path d="M421.8 754.1q-19.5 42.7-23.2 87.9"/><path d="M423.4 754.6q-8.4 44.4-1.5 87.5"/><path d="M425 754.8q2.7 46.5 20.2 87.9"/><path d="M426.5 754.5q13.7 49 42.4 89.1"/><path d="M419.9 752.8q-27.9 29.5-43.8 65.2"/><path d="M421.3 753.9q-16.5 30.7-22 63.5"/><path d="M423.4 754.6q-5.9 32.1-1.4 62.8"/><path d="M425.5 754.7q4.6 34.2 19.2 63.6"/><path d="M427.3 754.3q15.3 36.8 40.9 65.3"/><path d="M418.4 750.7q-36.9 17.1-65 44.5"/><path d="M419.1 751.9q-24.8 18.3-41.6 42.3"/><path d="M420.6 753.4q-13.5 19-20.1 39.7"/><path d="M423.4 754.6q-3.5 19.8-1.3 38.2"/><path d="M426.4 754.6q6 21.8 17.5 39.5"/><path d="M428.4 753.7q16.5 24.9 38.8 42.4"/><path d="M429.5 752.8q27.9 28.1 62 44.8"/><path d="M417.9 749q-34.3 6.6-63.2 23.2"/><path d="M418.2 750.1q-21.8 8-38.9 21.2"/><path d="M419.2 752.1q-9.9 8.2-16.4 17.4"/><path d="M423.3 754.6q-1.1 7.5-.8 13.5"/><path d="M428.2 753.8q6.5 10.1 14 17.2"/><path d="M430 752.3q17.1 13.8 36 21.3"/><path d="M430.6 751.5q28.9 17 60.3 23.5"/><path d="M417.8 747q-32.1-3.6-62.1 3"/><path d="M417.8 747.2q-19.4-1.3-36.8 2.7"/><path d="M417.8 747.9q-6.7 .3-11.6 1.6"/></g><g class="bx"><path d="M424.7 747.8Q423.6 749.7 423.5 750.4M427 745.3L423.5 750.4 421.5 744.5Z"/></g><g class="b"><path d="M431.3 750q5.1 1.3 8.8 1.6"/><path d="M431.4 749.6q17.6 4 34.1 3"/><path d="M431.5 749.5q30.1 6.6 59.3 3.5"/><path d="M418.4 744.9q-30.6-13.9-62.5-16.9"/><path d="M418.8 744.2q-18.5-10.7-37.8-15.1"/><path d="M420 742.8q-7.2-7-14.5-11.4"/></g><g class="bx"><path d="M425.2 740.9Q425.2 737.5 424.9 735.7M422.9 741.5L424.9 735.7 428.4 740.8Z"/></g><g class="b"><path d="M430.6 744.2q7.4-5.1 12.5-10.5"/><path d="M431.5 746.3q19.4-4.9 35.2-14.5"/><path d="M431.6 747.2q32.1-3.4 60-16.2"/><path d="M419.5 743.3q-29.6-24.7-64.1-37.7"/><path d="M420.4 742.4q-18-21.4-40.4-35.4"/><path d="M422.3 741.3q-7.4-18.1-18.8-32.1"/><path d="M425.7 741q1.7-15.8-.7-30"/><path d="M429 742.3q11.1-15.2 16.9-31.6"/><path d="M430.6 744.1q22.4-14.8 38.1-34.7"/><path d="M431.2 745.4q34.6-13.8 61.7-37.1"/><path d="M421.7 741.6q-17-33.1-42.8-57.8"/><path d="M423.4 741q-6.2-30.3-21-55.7"/><path d="M425.8 741q4-28.2-.8-54.6"/><path d="M428.1 741.8q14.4-26.9 19.2-55.4"/><path d="M429.7 743q25.6-25.9 40.6-57.2"/><path d="M427.6 741.5q17.3-38.8 20.5-79.6"/></g><g class="c"><path d="M510.6 754.7q-6 35.6-.2 69.6"/><path d="M513.1 741q6-35.6 .3-69.6"/><path d="M505 746.6q-36.7-6.2-71.9-.3"/><path d="M518.7 749.1q36.7 6.2 72 .3"/><path d="M506.1 751.7q-45.4 30.8-76.5 74"/><path d="M517.7 744q45.3-30.8 76.4-74.1"/><path d="M507.9 742.2q-32-44.6-76.1-74.5"/><path d="M515.9 753.5q32 44.6 76.1 74.5"/><path d="M511.9 671.5C551.1 671.5 551.1 747.8 511.9 747.8 472.7 747.8 472.7 671.5 510.3 671.5"/></g><g class="b"><path d="M508.7 754q-27.3 54-33.9 112.6"/><path d="M509.9 754.5q-15.8 55.8-11.4 112.1"/><path d="M511.3 754.8q-4.5 57.8 10.8 112.1"/><path d="M512.6 754.7q6.8 60.2 33.3 112.8"/><path d="M508.3 753.8q-24.5 42-32.9 88.3"/><path d="M509.8 754.5q-13.2 43.5-11.1 87.5"/><path d="M511.4 754.8q-2.2 45.5 10.6 87.6"/><path d="M513 754.7q8.8 47.8 32.5 88.5"/><path d="M506.6 752.3q-33.2 29-53.9 66.1"/><path d="M507.8 753.4q-21.6 30.2-31.6 64.3"/><path d="M509.5 754.4q-10.5 31.4-10.4 62.9"/><path d="M511.7 754.8q-.1 33.1 10 63"/><path d="M513.7 754.5q10.5 35.6 31.1 64.5"/><path d="M515.2 753.9q21.5 38.5 53.5 66.4"/><path d="M505.8 751.3q-30.1 17.9-51.8 43.4"/><path d="M506.9 752.7q-18.3 18.7-29.3 40.8"/><path d="M509.1 754.2q-7.7 19.3-9.3 38.5"/><path d="M512.3 754.8q1.7 20.7 8.9 38.6"/><path d="M514.8 754.1q11.7 23.5 29 41.1"/><path d="M516.3 753.2q22.7 26.7 51.5 43.8"/><path d="M505 748.7q-39.9 5.9-74.2 23.8"/><path d="M505.1 749.5q-27.2 7.5-49.5 22.3"/><path d="M505.7 751q-15 8.3-25.9 19.4"/><path d="M508.1 753.7q-4.4 7.7-6.6 14.7"/><path d="M513.7 754.6q2.6 8.4 6.3 14.8"/><path d="M516.6 752.9q12.1 12.2 25.7 19.7"/><path d="M517.6 751.8q23.5 15.6 49.3 22.7"/><path d="M518 751.1q35.7 18.8 74 24.3"/><path d="M505 746.9q-37.8-4.6-73.4 3.1"/><path d="M505 747.1q-25.1-2.3-48.1 2.8"/><path d="M504.9 747.5q-12.3-.3-22.8 2.2"/></g><g class="bx"><path d="M505.1 749.3Q502.1 750.3 500.6 751.2M506.8 750.9L500.6 751.2 504.1 746Z"/><path d="M518.2 750.6Q521.3 751.6 523 751.8M517.8 748.4L523 751.8 517.1 753.9Z"/></g><g class="b"><path d="M518.6 749.7q12 2.9 22.7 2.7"/><path d="M518.6 749.5q24.6 5.5 48.1 3.4"/><path d="M518.6 749.4q37.2 8.1 73.4 3.7"/><path d="M505.5 745.1q-36.1-15.2-73.7-17.4"/><path d="M505.7 744.6q-23.8-12.2-48.7-16.1"/><path d="M506.4 743.6q-12-8.8-24.5-13.5"/><path d="M509.1 741.5q-2.3-4.7-4.5-7.6"/><path d="M516.3 742.5q3.1-4.2 4.8-7.4"/><path d="M518.4 745.6q14-5.2 24.7-13.1"/><path d="M518.8 746.9q26.4-4.2 48.8-15.6"/><path d="M518.8 747.5q39.1-2.3 73.8-16.8"/><path d="M507 742.8q-23-22.9-50.7-36.5"/><path d="M508.4 741.8q-11.9-19.6-28-33.6"/><path d="M511.2 740.9q-2.3-16.6-8.4-30.5"/><path d="M514.8 741.6q6.8-15.4 8.8-30.5"/><path d="M517.2 743.4q17.2-15.1 28.3-33.4"/><path d="M518.2 744.9q29.1-14.3 51-36.1"/><path d="M508.2 741.9q-21.9-34.4-52.8-58.7"/><path d="M509.7 741.2q-10.9-31.5-30.5-56.5"/><path d="M511.9 740.9q-.6-29-9.7-54.9"/><path d="M514.3 741.3q9.7-27.3 10.2-54.8"/><path d="M516.2 742.4q20.5-26.3 31-56.3"/><path d="M517.4 743.6q32.1-25.2 53.2-58.3"/><path d="M512.2 740.9q1.5-41.4-10.4-79.4"/><path d="M514 741.2q12.4-39.5 10.9-79.3"/></g><g class="c"><path d="M597.8 754.7q-6 35.6-.3 69.6"/><path d="M600.3 741q6-35.6 .2-69.6"/><path d="M592.2 746.6q-36.8-6.2-72-.3"/><path d="M605.8 749.1q36.8 6.2 72 .3"/><path d="M593.2 751.7q-45.3 30.8-76.4 74"/><path d="M604.8 744q45.4-30.8 76.5-74.1"/><path d="M595 742.2q-32-44.6-76.1-74.5"/><path d="M603 753.5q32 44.6 76.1 74.5"/><path d="M592.2 746.6q-36.8-6.2-72-.3"/></g><g class="b"><path d="M596.5 754.3q-20.9 55-21.4 112.3"/><path d="M597.8 754.7q-9.5 56.9 1 112.1"/><path d="M599.2 754.8q1.7 59.1 23.3 112.4"/><path d="M594.9 753.4q-29.6 41.4-42.9 88.9"/><path d="M596.2 754.2q-18.1 42.9-20.7 87.8"/><path d="M597.8 754.7q-7.1 44.6 1 87.4"/><path d="M599.5 754.8q3.8 46.7 22.6 88"/><path d="M601 754.5q14.9 49.3 44.9 89.2"/><path d="M594.3 752.9q-26.6 29.7-41.3 65.1"/><path d="M595.8 754q-15.3 30.8-19.7 63.4"/><path d="M597.9 754.7q-4.7 32.3 .9 62.8"/><path d="M600.1 754.7q5.7 34.4 21.5 63.7"/><path d="M601.8 754.2q16.5 37.1 43.3 65.5"/><path d="M592.7 750.8q-35.5 17.3-62.3 44.3"/><path d="M593.5 752q-23.5 18.4-39.1 42"/><path d="M595.1 753.6q-12.3 19-17.9 39.4"/><path d="M598 754.7q-2.4 19.9 .8 38.2"/><path d="M601 754.5q7.1 22.1 19.7 39.9"/><path d="M602.9 753.6q17.7 25.3 41.2 42.7"/><path d="M603.9 752.8q29.2 28.4 64.7 44.9"/><path d="M592.2 749.1q-32.8 6.8-60.4 23.1"/><path d="M592.5 750.2q-20.3 8.1-36.2 20.9"/><path d="M593.8 752.4q-8.7 8.1-14.3 16.9"/><path d="M598.3 754.7q-.4 7.6 .5 13.5"/><path d="M602.9 753.6q7.4 10.5 16.1 17.7"/><path d="M604.4 752.2q18.3 14.1 38.6 21.6"/><path d="M605 751.4q30.2 17.4 63 23.7"/><path d="M592.1 747q-30.7-3.3-59.3 3"/><path d="M592.1 747.2q-18-1.1-34 2.6"/><path d="M592.1 748q-5.3 .5-8.9 1.4"/></g><g class="bx"><path d="M599 747.8Q599.3 750 599.6 750.6M599.3 744.4L599.6 750.6 594.5 747.2Z"/></g><g class="b"><path d="M605.7 749.9q6.4 1.6 11.5 1.9"/><path d="M605.8 749.6q18.9 4.3 36.8 3.1"/><path d="M605.8 749.4q31.5 7 62.1 3.6"/><path d="M592.8 744.8q-29.3-13.5-59.8-16.7"/><path d="M593.2 744.1q-17.2-10.3-35.1-14.9"/><path d="M594.5 742.5q-6.1-6.5-12.2-10.7"/></g><g class="bx"><path d="M600.4 741Q600.9 737.6 600.9 735.8M598.1 741.3L600.9 735.8 603.6 741.4Z"/></g><g class="b"><path d="M605.1 744.5q8.7-5.1 14.7-11.1"/><path d="M605.8 746.4q20.8-4.7 38-14.7"/><path d="M605.9 747.3q33.5-3.2 62.7-16.4"/><path d="M593.8 743.2q-28.2-24.3-61.3-37.5"/><path d="M594.8 742.3q-16.7-21.1-37.8-35"/><path d="M596.9 741.2q-6.4-17.8-16.6-31.8"/><path d="M600.4 741q2.7-15.6 1.1-29.9"/><path d="M603.5 742.6q12.4-15.3 19.2-32"/><path d="M605 744.3q23.7-14.8 40.7-35"/><path d="M605.6 745.5q36-13.6 64.3-37.3"/><path d="M596.1 741.5q-15.7-32.8-40.2-57.5"/><path d="M598 741q-5.1-30-18.8-55.5"/><path d="M600.4 741q5.1-27.9 1.3-54.6"/><path d="M602.6 741.9q15.6-26.7 21.5-55.5"/><path d="M604.1 743.1q26.9-25.7 43.2-57.4"/></g><g class="c"><path d="M684.9 754.7q-6 35.6-.2 69.6"/><path d="M687.4 741q6-35.6 .3-69.6"/><path d="M679.3 746.6q-36.7-6.2-71.9-.3"/><path d="M693 749.1q36.7 6.2 72 .3"/><path d="M680.4 751.7q-45.4 30.8-76.5 74"/><path d="M692 744q45.3-30.8 76.4-74.1"/><path d="M682.2 742.2q-32-44.6-76.1-74.5"/><path d="M690.2 753.5q32 44.6 76.1 74.5"/><path d="M693 749.1q36.7 6.2 72 .3"/></g><g class="b"><path d="M683.1 754.1q-26 54.2-31.4 112.5"/><path d="M684.4 754.5q-14.6 56.1-9 112.2"/><path d="M685.7 754.8q-3.2 58.1 13.4 112.2"/><path d="M687 754.7q8.1 60.4 35.9 112.9"/><path d="M682.8 753.9q-23.3 42.2-30.5 88.2"/><path d="M684.3 754.5q-12 43.8-8.7 87.5"/><path d="M685.9 754.8q-1 45.7 13 87.6"/><path d="M687.5 754.7q10 48.1 34.9 88.6"/><path d="M681 752.5q-31.8 29.1-51.4 65.8"/><path d="M682.2 753.5q-20.3 30.3-29.1 64.1"/><path d="M684.1 754.5q-9.4 31.5-8.2 62.9"/><path d="M686.3 754.8q1 33.3 12.2 63.1"/><path d="M688.2 754.5q11.7 35.8 33.5 64.6"/><path d="M689.6 753.9q22.8 38.7 56.1 66.6"/><path d="M680.2 751.4q-28.8 18-49.2 43.1"/><path d="M681.4 752.9q-17.1 18.8-27 40.5"/><path d="M683.8 754.3q-6.7 19.5-7.4 38.4"/><path d="M686.9 754.7q2.8 21 11 38.9"/><path d="M689.3 754q12.9 23.8 31.4 41.4"/><path d="M690.7 753.1q24 27 54.1 44"/><path d="M679.3 748.8q-38.5 6-71.4 23.7"/><path d="M679.5 749.7q-25.9 7.6-46.8 22"/><path d="M680.1 751.3q-13.6 8.3-23.5 18.9"/><path d="M682.9 754q-3.5 7.6-5 14.2"/><path d="M688.5 754.4q3.5 8.8 8 15.4"/><path d="M691.1 752.7q13.3 12.6 28.2 20.2"/><path d="M691.9 751.7q24.9 16 52.1 22.9"/><path d="M692.3 751.1q37.1 19 76.8 24.4"/><path d="M679.3 746.9q-36.3-4.3-70.6 3.1"/><path d="M679.3 747.1q-23.7-2-45.3 2.8"/><path d="M679.2 747.5q-10.9 0-20 2.2"/></g><g class="bx"><path d="M679.6 750.1Q677.9 750.9 677.6 751.1M683.8 750.3L677.6 751.1 680.7 745.7Z"/><path d="M692.6 750.4Q693.7 750.7 693.3 750.6M688.5 746.6L693.3 750.6 687.2 752Z"/></g><g class="b"><path d="M692.9 749.7q13.4 3.1 25.6 2.7"/><path d="M692.9 749.5q26 5.8 50.9 3.4"/><path d="M692.9 749.4q38.6 8.4 76.2 3.7"/><path d="M679.8 745q-34.7-14.8-70.9-17.2"/><path d="M680.1 744.5q-22.5-11.8-46-15.9"/><path d="M680.8 743.4q-10.7-8.4-21.9-13"/><path d="M684.1 741.2q-1.7-4.2-3.2-6.8"/><path d="M691.1 743q4.1-4.5 6.4-8.3"/><path d="M692.8 745.8q15.3-5.2 27.3-13.5"/><path d="M693.1 747q27.8-4 51.6-15.8"/><path d="M693.1 747.6q40.5-2.1 76.6-17"/><path d="M680.7 743.5q-33.5-25.7-72.2-38.3"/><path d="M681.4 742.8q-21.7-22.6-48.1-36.3"/><path d="M682.9 741.7q-10.7-19.2-25.6-33.3"/><path d="M685.9 740.9q-1.3-16.4-6.4-30.3"/><path d="M689.5 741.7q7.8-15.3 10.7-30.6"/><path d="M691.7 743.6q18.5-15.1 30.7-33.7"/><path d="M692.5 745q30.5-14.2 53.7-36.4"/><path d="M682.7 741.8q-20.7-34.1-50.3-58.4"/><path d="M684.2 741.2q-9.7-31.2-28.1-56.4"/><path d="M686.4 740.9q.6-28.8-7.4-54.8"/><path d="M688.9 741.4q10.8-27.2 12.4-54.9"/><path d="M690.7 742.6q21.8-26.2 33.3-56.6"/><path d="M691.8 743.7q33.5-25 55.8-58.5"/><path d="M688.5 741.3q13.6-39.3 13.3-79.4"/></g><g class="c"><path d="M772.1 754.7q-6 35.6-.3 69.6"/><path d="M774.6 741q5.9-35.6 .2-69.6"/><path d="M766.5 746.6q-36.8-6.2-72-.3"/><path d="M780.1 749.1q36.8 6.2 72 .3"/><path d="M767.5 751.7q-45.3 30.8-76.4 74"/><path d="M779.1 744q45.4-30.8 76.5-74.1"/><path d="M769.3 742.2q-32-44.6-76.1-74.5"/><path d="M777.3 753.5q32 44.6 76.1 74.5"/></g><g class="cx"><path d="M773.3 747.8Q773.3 747.8 771.8 747.8M766.2 745.1L771.8 747.8 766.2 750.6Z"/></g><g class="b"><path d="M770.9 754.4q-19.6 55.2-18.8 112.2"/><path d="M772.3 754.7q-8.3 57.1 3.4 112.1"/><path d="M773.6 754.8q3 59.3 25.8 112.5"/><path d="M774.8 754.6q14.4 61.8 48.6 113.5"/><path d="M775.9 754.3q25.9 64.5 71.8 114.6"/><path d="M776.7 753.9q37.6 67.3 95.5 115.8"/><path d="M777.3 753.5q49.6 70.1 119.7 116.9"/><path d="M769.3 753.5q-28.3 41.5-40.3 88.7"/><path d="M770.7 754.3q-16.9 43-18.3 87.7"/><path d="M772.3 754.7q-5.9 44.8 3.4 87.5"/><path d="M774 754.8q5 47 25 88.1"/><path d="M775.4 754.5q16.2 49.5 47.4 89.3"/><path d="M776.5 754q27.6 52.4 70.6 90.8"/><path d="M777.3 753.5q39.4 55.3 94.4 92.3"/><path d="M777.9 753.1q51.3 58.1 118.6 93.5"/><path d="M768.7 753.1q-25.3 29.7-38.8 64.8"/><path d="M770.3 754.1q-14.1 31-17.3 63.3"/><path d="M772.4 754.7q-3.5 32.5 3.2 62.9"/><path d="M774.6 754.7q6.9 34.6 23.9 63.9"/><path d="M776.2 754.2q17.8 37.4 45.9 65.7"/><path d="M777.3 753.5q29.2 40.4 69.1 67.6"/><path d="M778 752.9q41 43.4 93.1 69.2"/><path d="M778.5 752.5q53.1 46.3 117.6 70.4"/><path d="M767.1 750.9q-34.2 17.5-59.7 44.1"/><path d="M767.9 752.2q-22.2 18.5-36.6 41.7"/><path d="M769.7 753.8q-11.1 19.1-15.7 39.1"/><path d="M772.7 754.7q-1.4 20.1 2.8 38.3"/><path d="M775.6 754.4q8.2 22.5 21.9 40.2"/><path d="M777.3 753.5q19 25.6 43.8 42.9"/><path d="M778.3 752.7q30.4 28.8 67.3 45.1"/><path d="M778.8 752.1q42.5 31.8 91.8 46.7"/><path d="M779.1 751.6q54.7 34.8 116.6 47.9"/><path d="M766.5 749.2q-31.4 7-57.7 22.9"/><path d="M766.9 750.4q-19 8.2-33.6 20.5"/><path d="M768.4 752.7q-7.6 8-12.2 16.3"/><path d="M773.3 754.8q.3 7.7 1.8 13.6"/><path d="M777.4 753.4q8.6 10.9 18.5 18.3"/><path d="M778.8 752.1q19.6 14.5 41.2 21.9"/><path d="M779.3 751.3q31.6 17.7 65.8 23.9"/><path d="M779.6 750.9q43.9 20.6 90.7 25"/><path d="M779.7 750.6q56.4 23.4 115.8 25.7"/><path d="M766.4 747q-29.3-3-56.5 3"/><path d="M766.4 747.3q-16.6-.9-31.2 2.5"/><path d="M766.4 748.2q-3.9 .5-6.1 1.1"/></g><g class="bx"><path d="M773.3 747.8Q775 750.3 776.2 751.1M773.1 745.7L776.2 751.1 770.1 750.4Z"/></g><g class="b"><path d="M780 749.8q7.8 2 14.3 2.2"/><path d="M780.1 749.5q20.3 4.7 39.6 3.2"/><path d="M780.1 749.4q32.9 7.3 64.9 3.6"/><path d="M780.1 749.4q45.6 9.8 90.2 3.8"/><path d="M780.1 749.3q58.2 12.4 115.5 3.9"/><path d="M766.9 745.2q-40.3-16.1-82.1-17.7"/><path d="M767.1 744.8q-27.9-13.2-57-16.6"/><path d="M767.5 744q-15.8-10-32.3-14.6"/><path d="M769.1 742.3q-5-6.1-10-10"/><path d="M775.6 741.3q1-3.5 1.3-5.5"/><path d="M779.6 744.8q9.9-5.2 17.1-11.6"/><path d="M780.2 746.6q22.2-4.7 40.6-15"/><path d="M780.3 747.4q34.8-3 65.4-16.6"/><path d="M780.3 747.8q47.5-.9 90.5-17.4"/><path d="M780.3 748.1q60.2 1.3 115.7-17.9"/><path d="M768.2 743.1q-26.9-23.9-58.7-37.2"/><path d="M769.3 742.2q-15.5-20.7-35.3-34.7"/><path d="M771.5 741.1q-5.3-17.5-14.4-31.4"/><path d="M775.1 741.1q3.7-15.5 3-29.9"/><path d="M778.1 742.8q13.5-15.2 21.3-32.3"/><path d="M779.4 744.4q25.1-14.6 43.2-35.3"/><path d="M779.9 745.6q37.4-13.4 67-37.5"/><path d="M780.1 746.3q49.9-11.7 91.6-38.9"/><path d="M769.3 742.2q-25.7-35.5-60.6-59.4"/><path d="M770.6 741.5q-14.5-32.5-37.8-57.3"/><path d="M772.5 740.9q-3.9-29.7-16.4-55.3"/><path d="M775 741.1q6.2-27.8 3.5-54.6"/><path d="M777.1 742q16.8-26.6 23.9-55.7"/><path d="M778.5 743.2q28.2-25.6 45.7-57.6"/><path d="M773.1 740.9q-2.1-42.1-17.5-79.7"/></g><g class="c"><path d="M859.2 754.7q-6 35.6-.2 69.6"/><path d="M861.7 741q6-35.6 .3-69.6"/><path d="M853.6 746.6q-36.7-6.2-71.9-.3"/><path d="M854.7 751.7q-45.4 30.8-76.5 74"/><path d="M856.5 742.2q-32-44.6-76.1-74.5"/><path d="M853.6 746.6q-36.7-6.2-71.9-.3"/></g><g class="b"><path d="M857.5 754.1q-24.7 54.5-28.8 112.5"/><path d="M858.8 754.6q-13.3 56.2-6.5 112.1"/><path d="M860.2 754.8q-2 58.3 15.8 112.3"/><path d="M861.5 754.7q9.3 60.7 38.4 113"/><path d="M857.2 754q-21.9 42.3-28 88"/><path d="M858.7 754.6q-10.7 43.9-6.2 87.4"/><path d="M860.4 754.8q.2 46 15.4 87.7"/><path d="M862 754.6q11.2 48.4 37.4 88.8"/><path d="M855.4 752.6q-30.5 29.2-48.8 65.6"/><path d="M856.7 753.7q-19 30.4-26.8 63.8"/><path d="M858.6 754.5q-8.2 31.7-5.9 62.9"/><path d="M860.8 754.8q2.2 33.6 14.6 63.2"/><path d="M862.7 754.4q12.9 36.2 35.9 64.9"/><path d="M854.6 751.6q-27.4 18.1-46.6 42.8"/><path d="M855.9 753.1q-15.9 18.8-24.7 40.2"/><path d="M858.4 754.5q-5.6 19.5-5.3 38.2"/><path d="M861.5 754.7q3.9 21.3 13.2 39"/><path d="M863.8 753.9q14.1 24.2 33.8 41.8"/><path d="M853.6 748.9q-37.1 6.2-68.7 23.5"/><path d="M853.8 749.8q-24.5 7.7-44.1 21.7"/><path d="M854.6 751.5q-12.4 8.3-21.1 18.5"/><path d="M857.8 754.3q-2.7 7.5-3.5 13.8"/><path d="M863.2 754.2q4.5 9.2 10 16"/><path d="M865.5 752.6q14.5 13 30.8 20.5"/><path d="M853.6 746.9q-34.9-4.1-67.8 3.1"/><path d="M853.6 747.1q-22.3-1.8-42.5 2.8"/><path d="M853.5 747.6q-9.5 .1-17.2 2"/></g><g class="bx"><path d="M854.4 751.2Q853.9 751.5 854.6 750.9M860.6 749.3L854.6 750.9 856.9 745.1Z"/><path d="M867 750.2Q869.4 750.9 870.3 751M865.3 747.4L870.3 751 864.4 752.8Z"/></g><g class="b"><path d="M867.2 749.6q14.8 3.5 28.4 2.9"/><path d="M854.1 745q-33.3-14.5-68.1-17.2"/><path d="M854.4 744.4q-21.1-11.4-43.2-15.7"/><path d="M855.3 743.2q-9.5-7.9-19.4-12.5"/><path d="M859.1 741q-1-3.8-1.9-6.1"/><path d="M865.8 743.4q5.1-4.7 8.2-9"/><path d="M867.2 746q16.6-5.1 29.9-13.9"/><path d="M855.1 743.5q-32.2-25.4-69.5-38.2"/><path d="M855.9 742.6q-20.5-22.1-45.6-35.9"/><path d="M857.5 741.6q-9.7-18.9-23.3-32.9"/><path d="M860.6 740.9q-.3-16.2-4.5-30.2"/><path d="M864.1 741.9q8.9-15.3 12.8-30.9"/><path d="M866.1 743.8q19.8-15 33.2-34.1"/><path d="M857.1 741.8q-19.4-33.8-47.8-58.3"/><path d="M858.7 741.1q-8.5-30.9-25.7-56.1"/><path d="M861 740.9q1.7-28.5-5.2-54.7"/><path d="M863.4 741.5q12-27 14.7-55"/><path d="M865.2 742.7q23-26.1 35.7-56.8"/><path d="M861.2 740.9q3.9-40.9-5.6-79.3"/><path d="M863 741.4q14.8-39.2 15.7-79.5"/><path d="M864.5 742.2q26-37.8 37.4-80.6"/><path d="M864 741.9q29-49.7 38.6-104.7"/></g><g class="c"><path d="M162 669.8q-6 35.6-.2 69.7"/><path d="M164.5 656.2q6-35.6 .3-69.7"/><path d="M170.1 664.3q36.8 6.1 72 .2"/><path d="M169.1 659.2q45.3-30.8 76.4-74.1"/><path d="M167.3 668.7q32 44.5 76.1 74.4"/><path d="M167.3 668.7q32 44.5 76.1 74.4"/></g><g class="b"><path d="M159.6 668.9q-28.3 47-38.4 99.3"/><path d="M160.9 669.5q-16.8 48.7-16.1 98.6"/><path d="M159.1 668.6q-25.4 35.1-37.1 75.2"/><path d="M160.7 669.4q-14.2 36.5-15.5 74"/><path d="M162.6 669.9q-3.4 38.2 5.5 73.8"/><path d="M164.4 669.8q7.3 40.5 26.9 74.8"/><path d="M158.4 668q-22.3 23.5-35.2 51.5"/><path d="M160.2 669.2q-11.3 24.5-14.3 49.7"/><path d="M162.8 669.9q-1.2 25.8 5.1 49.2"/><path d="M165.2 669.7q8.9 28.1 25.3 50.8"/><path d="M166.9 668.9q19.7 31.2 47.3 53.2"/><path d="M157.4 666.7q-19.1 12.7-32.5 29.3"/><path d="M159.4 668.7q-8.2 12.8-12.1 25.8"/><path d="M163.4 669.9q.5 13.4 4.1 24.8"/><path d="M166.7 669q9.7 16.3 22.5 28.1"/><path d="M168.2 667.9q20.6 19.7 45 31.3"/><path d="M168.9 667.1q32.4 22.9 69.1 33.3"/><path d="M156.4 664.1q-16 3.2-29.2 9.9"/><path d="M157.4 666.6q-4.1 2.8-6.6 5.2"/></g><g class="bx"><path d="M165.5 669.6Q166 670.9 166 670.7M165.9 664.5L166 670.7 161 667.1Z"/></g><g class="b"><path d="M169 666.9q9.4 5.8 18.4 8.8"/><path d="M169.6 665.9q21.3 9.2 42.8 11.4"/><path d="M169.8 665.4q33.7 12.2 67.9 12.6"/><path d="M156.8 660.4q-14.6-5.4-28.6-6.5"/></g><g class="bx"><path d="M157.6 659Q154.7 657.2 152.9 656.4M156.9 661.2L152.9 656.4 159.2 656.1Z"/><path d="M167.8 657.8Q169.2 655.7 169.7 654.8M164.8 658.7L169.7 654.8 169.8 661Z"/></g><g class="b"><path d="M170.2 662.1q9.9-1.7 17.7-5.1"/><path d="M170.2 663.1q22.7-.3 42.7-6.9"/><path d="M170.2 663.5q35.4 1.8 67.9-7.6"/><path d="M158.6 657.8q-14.4-15.3-31.4-25"/><path d="M161 656.4q-4.4-11.8-10.9-20.8"/><path d="M165.7 656.5q3.4-10.1 4.2-19.2"/><path d="M168.8 658.8q13.2-10.5 22.1-23"/><path d="M169.8 660.6q25.1-10 44.7-26.3"/><path d="M170.1 661.6q37.6-8.6 69-28.2"/><path d="M160.2 656.8q-13.8-26.8-34.3-46.8"/><path d="M162.4 656.1q-3.5-24-13.5-44.4"/><path d="M165.3 656.3q6.2-22.2 5.4-43.7"/><path d="M167.6 657.6q16.6-21.4 25.3-45.4"/><path d="M169 659q28.1-20.5 47.1-47.8"/><path d="M161.2 656.4q-12.5-38.9-36.3-70.2"/><path d="M163 656.1q-1.7-36.4-14.7-68.7"/><path d="M165.1 656.3q8.8-34.4 6-68.3"/><path d="M166.9 657.1q19.7-33.1 27.1-69.2"/><path d="M161.9 656.2q-10.8-51.1-37.6-94.2"/><path d="M163.4 656.1q.3-48.8-15.5-93.2"/></g><g class="c"><path d="M249.2 669.8q-6 35.6-.3 69.7"/><path d="M251.7 656.2q6-35.6 .2-69.7"/><path d="M243.6 661.7q-36.7-6.2-72-.2"/><path d="M257.3 664.3q36.7 6.1 71.9 .2"/><path d="M244.6 666.8q-45.3 30.8-76.4 74.1"/><path d="M256.2 659.2q45.4-30.8 76.5-74.1"/><path d="M246.4 657.3q-32-44.5-76.1-74.4"/><path d="M254.4 668.7q32 44.5 76.1 74.4"/><path d="M249.2 669.8q-6 35.6-.3 69.7"/></g><g class="b"><path d="M247.1 669.1q-19.1 35.8-25 74.4"/><path d="M248.8 669.8q-8.1 37.3-3.7 73.7"/><path d="M250.8 669.9q2.5 39.4 17.3 74.3"/><path d="M244.3 666.3q-39.6 21.8-68.4 54.6"/><path d="M245 667.4q-27.5 23.1-45.1 52.6"/><path d="M246.5 668.7q-16.1 24-23.4 50.4"/><path d="M248.8 669.7q-5.7 25.1-3.5 49.2"/><path d="M251.4 669.9q4.3 27 16.1 49.9"/><path d="M253.4 669.3q14.8 29.8 37.3 52.1"/><path d="M254.7 668.5q26 32.9 60.2 54.4"/><path d="M243.5 663.7q-62 7.3-116.3 35"/><path d="M243.6 664.2q-49.4 9.3-91.3 34.1"/><path d="M243.7 664.9q-36.7 11.1-66.6 32.7"/><path d="M244.2 666q-24.4 12.3-42.7 30.6"/><path d="M245.4 667.8q-12.8 12.8-20.6 27.3"/><path d="M248.6 669.7q-3.1 12.8-2.8 24.5"/><path d="M252.6 669.6q5.4 14.8 13.8 26.3"/><path d="M254.8 668.4q15.6 18.1 34.7 29.9"/><path d="M255.8 667.4q27.1 21.5 58.3 32.5"/><path d="M243.5 662.5q-59.8-3.8-115.7 13"/><path d="M243.5 662.7q-47.1-1.5-90.4 12.6"/><path d="M243.5 663q-34.4 .7-65.3 12"/><path d="M243.5 663.6q-21.7 2.6-40.2 10.8"/><path d="M243.8 665.1q-9.1 3.4-16 8"/></g><g class="bx"><path d="M247.8 669.4Q247.6 670.3 247.7 669.7M251.8 665L247.7 669.7 246.4 663.6Z"/></g><g class="b"><path d="M255.4 667.8q4.6 4 8.6 6.3"/><path d="M256.6 666.2q15.9 7.8 31.8 10.6"/><path d="M256.9 665.6q28.1 10.9 56.7 12.2"/><path d="M257 665.3q40.6 13.7 81.9 13"/><path d="M243.7 661.2q-57.8-14.8-115.6-8.7"/><path d="M243.7 661.1q-45.1-12.2-90.2-8.5"/><path d="M243.8 660.9q-32.6-9.5-65-8"/><path d="M243.9 660.6q-20.1-6.7-39.8-7.2"/><path d="M244.2 659.9q-7.9-3.6-14.9-5.1"/></g><g class="bx"><path d="M248.1 656.5Q247.2 654.9 247.1 654.7M248 660.8L247.1 654.7 252.6 657.6Z"/></g><g class="b"><path d="M257.1 661q4.4-1.6 7.2-3.1"/><path d="M257.4 662.8q16.9-1.1 31.5-6.3"/><path d="M257.4 663.3q29.7 .8 56.6-7.3"/><path d="M244.2 660q-56-25.9-116-30.6"/><path d="M244.3 659.7q-43.6-23.1-90.9-29.8"/><path d="M244.6 659.2q-31.3-20.2-66-28.5"/><path d="M245.3 658.3q-19.5-16.9-41.8-26.3"/><path d="M246.8 657q-8.6-13.3-19.4-22.8"/><path d="M250.7 656.1q-.1-10.5-2.2-19.1"/><path d="M255 657.8q8.4-10.4 13.3-21.2"/><path d="M256.6 659.9q19.7-10.3 34.3-25"/><path d="M257.1 661.2q32.1-9.3 58.1-27.5"/><path d="M245.7 657.9q-30.2-31.3-67.7-50"/><path d="M246.7 657.1q-18.7-28.2-44.3-47.9"/><path d="M248.5 656.3q-8-25.1-22.5-45.3"/><path d="M251.1 656.1q1.9-22.9-2.8-43.7"/><path d="M253.9 657q11.8-21.7 16.2-44.5"/><path d="M255.6 658.4q22.9-21 37.2-46.8"/><path d="M256.5 659.6q34.9-19.8 60.1-49"/><path d="M249.3 656.1q-6.5-37.4-24.2-69.2"/><path d="M251.3 656.1q4.1-35.2-3.2-68.3"/><path d="M253.3 656.7q14.8-33.6 17.6-68.7"/><path d="M254.9 657.6q26-32.3 39.2-70"/></g><g class="c"><path d="M336.3 669.8q-6 35.6-.2 69.7"/><path d="M338.8 656.2q6-35.6 .3-69.7"/><path d="M330.7 661.7q-36.7-6.2-71.9-.2"/><path d="M344.4 664.3q36.7 6.1 72 .2"/><path d="M331.8 666.8q-45.4 30.8-76.5 74.1"/><path d="M343.4 659.2q45.3-30.8 76.4-74.1"/><path d="M333.6 657.3q-32-44.5-76.1-74.4"/><path d="M341.6 668.7q32 44.5 76.1 74.4"/><path d="M331.8 666.8q-45.4 30.8-76.5 74.1"/></g><g class="b"><path d="M335.2 669.5q-13 36.6-13.2 73.9"/><path d="M337.1 669.9q-2.2 38.4 7.9 73.9"/><path d="M331.8 666.8q-32.8 22.7-55.4 53.6"/><path d="M332.9 668.1q-21.1 23.6-32.9 51.3"/><path d="M334.8 669.4q-10.2 24.5-12.2 49.4"/><path d="M337.4 669.9q-.1 26 7.3 49.4"/><path d="M339.8 669.6q10 28.5 27.6 51.1"/><path d="M341.3 668.8q21 31.5 49.9 53.5"/><path d="M331.1 665.4q-29.9 11.9-53.2 31.7"/><path d="M331.8 666.9q-17.7 12.7-30 28.9"/><path d="M334 669q-7.1 12.7-10.1 25.4"/><path d="M338.1 669.9q1.5 13.6 6 25"/><path d="M341.2 668.9q10.9 16.7 24.9 28.4"/><path d="M342.6 667.8q21.9 20 47.6 31.5"/><path d="M343.2 667q33.8 23.3 71.9 33.6"/><path d="M330.6 662.9q-40-.3-76.4 12.3"/><path d="M330.6 663.3q-27.3 1.8-51.3 11.4"/><path d="M330.8 664.3q-14.7 3.2-26.6 9.6"/><path d="M332 667.1q-3 2.5-4.6 4.3"/></g><g class="bx"><path d="M340.6 669.2Q341.7 671 342 671.5M341 665.4L342 671.5 336.5 668.6Z"/></g><g class="b"><path d="M343.4 666.7q10.7 6.3 21.1 9.3"/><path d="M343.9 665.8q22.7 9.6 45.6 11.6"/><path d="M344.1 665.4q35.1 12.5 70.7 12.7"/><path d="M330.9 661q-38.2-10.7-76.2-8.2"/><path d="M331 660.8q-25.7-8-51-7.6"/><path d="M331.2 660.3q-13.3-5.1-25.9-6.3"/></g><g class="bx"><path d="M332.2 658.6Q330.4 657.4 329.8 657.1M333.3 662.2L329.8 657.1 336 657.3Z"/><path d="M343 658.7Q345.4 656.3 346.5 654.7M341.1 657.7L346.5 654.7 345.7 660.8Z"/></g><g class="b"><path d="M344.5 662.3q11.3-1.7 20.5-5.4"/><path d="M344.5 663.1q24.1-.1 45.5-6.9"/><path d="M344.5 663.5q36.8 2 70.7-7.7"/><path d="M332.1 658.7q-24.7-18.3-52.5-27.4"/><path d="M333.1 657.7q-13.3-15-29-24.6"/><path d="M335.8 656.3q-3.6-11.5-9-20.4"/><path d="M340.5 656.7q4.4-10.1 5.8-19.5"/><path d="M343.3 659.1q14.4-10.5 24.4-23.5"/><path d="M344.1 660.7q26.5-9.8 47.4-26.5"/><path d="M344.4 661.6q39-8.3 71.7-28.3"/><path d="M333.3 657.5q-23.7-29.6-54.5-48.9"/><path d="M334.7 656.7q-12.6-26.5-31.9-46.5"/><path d="M337 656.1q-2.4-23.8-11.4-44.2"/><path d="M339.9 656.5q7.3-22.1 7.6-43.9"/><path d="M342.1 657.8q17.9-21.3 27.6-45.7"/><path d="M343.3 659.1q29.5-20.4 49.8-48"/><path d="M335.7 656.3q-11.3-38.6-33.8-69.9"/><path d="M337.6 656q-.6-36.1-12.5-68.5"/><path d="M339.6 656.4q10-34.3 8.3-68.4"/><path d="M341.4 657.2q20.9-32.9 29.5-69.4"/></g><g class="c"><path d="M423.5 669.8q-6 35.6-.3 69.7"/><path d="M426 656.2q6-35.6 .2-69.7"/><path d="M417.9 661.7q-36.7-6.2-72-.2"/><path d="M431.6 664.3q36.7 6.1 71.9 .2"/><path d="M418.9 666.8q-45.3 30.8-76.4 74.1"/><path d="M430.5 659.2q45.4-30.8 76.5-74.1"/><path d="M420.7 657.3q-32-44.5-76.1-74.4"/><path d="M428.7 668.7q32 44.5 76.1 74.4"/><path d="M428.7 668.7q32 44.5 76.1 74.4"/></g><g class="b"><path d="M421.5 669.2q-17.8 36-22.5 74.3"/><path d="M425.3 669.9q3.7 39.6 19.7 74.4"/><path d="M419.5 667.5q-26.2 23.2-42.7 52.4"/><path d="M421 668.8q-14.9 24.2-21.1 50.2"/><path d="M423.4 669.8q-4.6 25.2-1.4 49.1"/><path d="M426 669.8q5.4 27.3 18.3 50.2"/><path d="M427.9 669.2q16 30.1 39.7 52.4"/><path d="M429.1 668.4q27.3 33.2 62.8 54.6"/><path d="M418.1 665q-35.4 11.2-63.9 32.5"/><path d="M418.6 666.2q-23.1 12.4-40.1 30.2"/><path d="M419.9 668q-11.5 12.8-18.4 26.9"/><path d="M423.3 669.8q-2.1 12.9-1 24.4"/><path d="M427.3 669.5q6.4 15.1 15.8 26.7"/><path d="M429.3 668.2q16.8 18.6 37.2 30.4"/><path d="M430.2 667.3q28.4 21.9 60.9 32.8"/><path d="M417.8 663.1q-33 .9-62.5 11.9"/><path d="M417.8 663.7q-20.3 2.8-37.4 10.6"/><path d="M418.2 665.4q-7.8 3.4-13.5 7.4"/></g><g class="bx"><path d="M423.3 669.8Q423.3 670.5 423.3 669.6M426.5 664.2L423.3 669.6 421 663.8Z"/></g><g class="b"><path d="M430 667.5q5.7 4.5 10.9 7.1"/><path d="M430.9 666.1q17.3 8.2 34.6 10.8"/><path d="M431.2 665.6q29.5 11.1 59.5 12.3"/><path d="M431.3 665.3q42 13.9 84.7 13"/><path d="M418.1 660.9q-31.2-9.2-62.2-7.9"/><path d="M418.2 660.6q-18.7-6.4-37-7.1"/><path d="M418.6 659.7q-6.6-3.2-12.3-4.6"/></g><g class="bx"><path d="M424.1 656.1Q423.8 654.7 423.8 654.9M423.1 661L423.8 654.9 428.3 659.2Z"/></g><g class="b"><path d="M431.5 661.4q5.8-1.7 9.7-3.8"/><path d="M431.7 662.8q18.4-.8 34.3-6.4"/><path d="M431.7 663.4q31.1 1 59.4-7.4"/><path d="M419 659.1q-30-19.8-63.3-28.3"/><path d="M419.7 658.2q-18.2-16.5-39.2-26"/><path d="M421.4 656.9q-7.5-13-17.1-22.3"/><path d="M425.5 656.1q.8-10.3-.6-19"/><path d="M429.6 658q9.6-10.4 15.3-21.6"/><path d="M431 660.1q21.1-10.3 36.9-25.3"/><path d="M431.5 661.3q33.4-9.1 60.8-27.7"/><path d="M420.1 657.8q-28.9-30.9-65.1-49.8"/><path d="M421.1 657q-17.4-27.8-41.7-47.6"/><path d="M423 656.3q-6.9-24.9-20.2-45.1"/><path d="M425.8 656.1q2.9-22.6-.8-43.6"/><path d="M428.4 657.1q13-21.6 18.4-44.6"/><path d="M430.1 658.6q24.2-20.9 39.6-47.1"/><path d="M430.9 659.8q36.2-19.8 62.7-49.3"/><path d="M423.8 656.1q-5.3-37.1-21.8-69.1"/><path d="M425.9 656.1q5.2-35-.9-68.3"/><path d="M427.8 656.8q16-33.5 20-68.8"/></g><g class="c"><path d="M510.6 669.8q-6 35.6-.2 69.7"/><path d="M513.1 656.2q6-35.6 .3-69.7"/><path d="M505 661.7q-36.7-6.2-71.9-.2"/><path d="M518.7 664.3q36.7 6.1 72 .2"/><path d="M506.1 666.8q-45.4 30.8-76.5 74.1"/><path d="M517.7 659.2q45.3-30.8 76.4-74.1"/><path d="M507.9 657.3q-32-44.5-76.1-74.4"/><path d="M515.9 668.7q32 44.5 76.1 74.4"/><path d="M510.6 669.8q-6 35.6-.2 69.7"/></g><g class="b"><path d="M509.7 669.6q-11.8 36.8-10.8 73.9"/><path d="M511.6 669.9q-1 38.7 10.2 74"/><path d="M506.2 667q-31.5 22.7-52.8 53.3"/><path d="M507.3 668.2q-19.8 23.8-30.4 51.2"/><path d="M509.4 669.5q-9.1 24.6-10 49.3"/><path d="M512 669.9q1 26.3 9.5 49.5"/><path d="M514.3 669.5q11.2 28.8 30 51.4"/><path d="M515.8 668.7q22.2 31.9 52.4 53.7"/><path d="M505.4 665.6q-28.5 12-50.5 31.4"/><path d="M506.3 667.1q-16.5 12.8-27.6 28.5"/><path d="M508.7 669.2q-6 12.7-8.2 25.1"/><path d="M512.9 669.9q2.4 13.9 7.8 25.2"/><path d="M515.7 668.8q12 17 27.3 28.8"/><path d="M517 667.7q23.2 20.4 50.2 31.8"/><path d="M504.9 662.9q-38.6 0-73.6 12.2"/><path d="M504.9 663.4q-25.9 2-48.5 11.3"/><path d="M505.1 664.5q-13.3 3.3-23.9 9.2"/></g><g class="bx"><path d="M506.8 667.7Q504.7 669.8 503.9 670.9M509.4 668.1L503.9 670.9 505 664.8Z"/><path d="M515.6 668.8Q517.4 671.2 518.3 672.2M516.5 666.3L518.3 672.2 512.5 670.1Z"/></g><g class="b"><path d="M517.8 666.6q12 6.7 23.7 9.6"/><path d="M518.2 665.8q24.1 9.9 48.4 11.7"/><path d="M518.4 665.4q36.5 12.7 73.5 12.7"/><path d="M505.2 661q-36.8-10.4-73.4-8.2"/><path d="M505.3 660.8q-24.3-7.7-48.2-7.6"/><path d="M505.5 660.2q-11.9-4.7-23.1-6"/></g><g class="bx"><path d="M506.8 658.2Q506 657.6 506.5 657.9M509.4 663.4L506.5 657.9 512.6 658.8Z"/><path d="M517.8 659.4Q518.7 658.8 518.3 659.2M512.2 660.5L518.3 659.2 515.7 664.8Z"/></g><g class="b"><path d="M518.8 662.4q12.7-1.5 23.2-5.6"/><path d="M518.8 663.2q25.5 .1 48.3-7.1"/><path d="M518.8 663.5q38.2 2.3 73.5-7.7"/><path d="M506 659.3q-35.4-21.1-74.3-28.9"/><path d="M506.5 658.7q-23.4-18-49.8-27.2"/><path d="M507.6 657.5q-12.1-14.5-26.5-24.2"/><path d="M510.5 656.2q-2.6-11.2-7.1-20"/><path d="M515.3 657q5.3-10.2 7.5-19.9"/><path d="M517.8 659.3q15.7-10.5 26.7-23.9"/><path d="M518.5 660.8q27.8-9.7 50-26.7"/><path d="M518.7 661.7q40.4-8.1 74.5-28.5"/><path d="M507.7 657.4q-22.4-29.2-51.9-48.7"/><path d="M509.2 656.6q-11.5-26.2-29.5-46.2"/><path d="M511.6 656.1q-1.4-23.5-9.2-44.1"/><path d="M514.5 656.6q8.4-22 9.7-44"/><path d="M516.6 657.9q19.1-21.2 29.9-45.9"/><path d="M517.7 659.3q30.8-20.3 52.3-48.3"/><path d="M510.2 656.3q-10.1-38.3-31.4-69.8"/><path d="M512.1 656.1q.6-35.9-10.1-68.5"/><path d="M514.1 656.4q11.2-34.1 10.7-68.4"/><path d="M515.9 657.3q22.1-32.8 31.9-69.5"/></g><g class="c"><path d="M597.8 669.8q-6 35.6-.3 69.7"/><path d="M600.3 656.2q6-35.6 .2-69.7"/><path d="M592.2 661.7q-36.8-6.2-72-.2"/><path d="M605.8 664.3q36.8 6.1 72 .2"/><path d="M593.2 666.8q-45.3 30.8-76.4 74.1"/><path d="M604.8 659.2q45.4-30.8 76.5-74.1"/><path d="M595 657.3q-32-44.5-76.1-74.4"/><path d="M603 668.7q32 44.5 76.1 74.4"/><path d="M593.2 666.8q-45.3 30.8-76.4 74.1"/></g><g class="b"><path d="M596 669.3q-16.6 36.1-20.2 74.2"/><path d="M599.8 669.9q4.9 39.9 22.1 74.5"/><path d="M593 666.5q-36.8 22.2-63.2 54.2"/><path d="M593.9 667.7q-24.9 23.3-40.2 52.1"/><path d="M595.5 669q-13.7 24.2-18.8 49.9"/><path d="M598 669.9q-3.5 25.4 .8 49.1"/><path d="M600.5 669.8q6.6 27.5 20.7 50.3"/><path d="M602.3 669.1q17.3 30.5 42.3 52.7"/><path d="M592.4 665.1q-34 11.4-61.2 32.3"/><path d="M592.9 666.3q-21.7 12.6-37.5 30"/><path d="M594.5 668.3q-10.4 12.7-16.2 26.5"/><path d="M598.1 669.9q-1.2 13 .7 24.4"/><path d="M601.9 669.3q7.5 15.6 18 27.2"/><path d="M603.7 668.1q18.1 19 39.8 30.7"/><path d="M604.5 667.2q29.8 22.2 63.7 33"/><path d="M592.1 662.8q-44.3-1-84.8 12.5"/><path d="M592.1 663.1q-31.6 1.2-59.7 11.8"/><path d="M592.1 663.9q-18.8 2.8-34.7 10.3"/><path d="M592.7 665.8q-6.6 3.2-11.1 6.7"/></g><g class="bx"><path d="M598.9 669.9Q599 670.6 598.9 669.7M601 663.9L598.9 669.7 595.5 664.5Z"/></g><g class="b"><path d="M604.5 667.3q6.9 5 13.3 7.7"/><path d="M605.3 666q18.6 8.6 37.3 11.1"/><path d="M605.5 665.5q30.9 11.5 62.3 12.4"/><path d="M592.4 660.9q-29.8-8.9-59.4-7.9"/><path d="M592.5 660.5q-17.3-6.1-34.2-6.9"/><path d="M593 659.5q-5.3-2.8-9.6-4"/></g><g class="bx"><path d="M600.4 656.2Q600.5 654.8 600.5 655M598 660.7L600.5 655 603.6 660.4Z"/></g><g class="b"><path d="M605.8 661.7q7.2-1.8 12.4-4.3"/><path d="M606 662.9q19.8-.7 37-6.6"/><path d="M606 663.4q32.5 1.3 62.2-7.5"/><path d="M593.3 659q-28.6-19.4-60.5-28.1"/><path d="M594.1 658.1q-16.9-16.1-36.6-25.7"/><path d="M596 656.7q-6.4-12.5-15-21.8"/><path d="M600.4 656.2q1.7-10.2 1-19"/><path d="M604.1 658.3q10.8-10.5 17.5-22.1"/><path d="M605.4 660.3q22.4-10.2 39.4-25.7"/><path d="M605.8 661.4q34.8-8.9 63.5-27.9"/><path d="M594.4 657.8q-27.5-30.7-62.4-49.7"/><path d="M595.6 657q-16.2-27.5-39.3-47.4"/><path d="M597.6 656.2q-5.8-24.6-18-44.8"/><path d="M600.4 656.2q4-22.5 1.3-43.6"/><path d="M603 657.3q14.1-21.6 20.6-44.9"/><path d="M604.5 658.7q25.5-20.8 42.1-47.3"/><path d="M605.2 659.9q37.6-19.6 65.4-49.5"/><path d="M598.4 656.1q-4.2-36.9-19.5-69"/><path d="M600.4 656.2q6.4-34.8 1.4-68.3"/><path d="M602.3 656.9q17.2-33.4 22.3-69"/></g><g class="c"><path d="M684.9 669.8q-6 35.6-.2 69.7"/><path d="M687.4 656.2q6-35.6 .3-69.7"/><path d="M679.3 661.7q-36.7-6.2-71.9-.2"/><path d="M693 664.3q36.7 6.1 72 .2"/><path d="M680.4 666.8q-45.4 30.8-76.5 74.1"/><path d="M692 659.2q45.3-30.8 76.4-74.1"/><path d="M682.2 657.3q-32-44.5-76.1-74.4"/><path d="M690.2 668.7q32 44.5 76.1 74.4"/><path d="M690.2 668.7q32 44.5 76.1 74.4"/></g><g class="b"><path d="M684.2 669.6q-10.6 37-8.5 73.9"/><path d="M686.1 669.9q.2 38.9 12.6 74.1"/><path d="M680.6 667.1q-30.2 22.9-50.3 53.1"/><path d="M681.8 668.4q-18.5 23.8-28.1 50.9"/><path d="M683.9 669.6q-7.9 24.8-7.8 49.2"/><path d="M686.6 669.9q2.1 26.5 11.6 49.6"/><path d="M688.8 669.4q12.4 29.2 32.4 51.6"/><path d="M690.2 668.7q23.5 32.2 55 53.9"/><path d="M679.4 664.7q-39.5 10.7-72 33.1"/><path d="M679.8 665.7q-27.1 12.1-47.9 31.1"/><path d="M680.7 667.3q-15.2 12.8-25.2 28.2"/><path d="M683.4 669.4q-5 12.7-6.4 24.8"/><path d="M687.6 669.8q3.4 14.2 9.7 25.6"/><path d="M690.2 668.6q13.2 17.4 29.7 29.3"/><path d="M691.4 667.6q24.5 20.8 52.9 32.1"/><path d="M679.2 662.9q-37.2 .3-70.8 12.2"/><path d="M679.2 663.5q-24.5 2.2-45.7 11.1"/><path d="M679.4 664.7q-11.9 3.3-21.2 8.8"/></g><g class="bx"><path d="M681.7 668.3Q680.5 670 680.2 670.5M685.4 667.1L680.2 670.5 680.6 664.3Z"/></g><g class="b"><path d="M690.4 668.5q2.7 2.9 4.5 4.4"/><path d="M692.2 666.4q13.2 7.1 26.4 10"/><path d="M692.6 665.7q25.4 10.2 51.1 11.9"/><path d="M692.7 665.4q37.9 13 76.3 12.8"/><path d="M679.5 661q-35.4-10.1-70.6-8.2"/><path d="M679.6 660.7q-22.9-7.3-45.4-7.4"/><path d="M679.9 660.1q-10.6-4.3-20.4-5.7"/></g><g class="bx"><path d="M681.7 657.7Q679.3 655.3 677.6 654.3M680.8 659.6L677.6 654.3 683.8 654.9Z"/><path d="M692.5 660.1Q694.4 659 694.9 658.7M688.8 659.5L694.9 658.7 691.9 664.1Z"/></g><g class="b"><path d="M693.1 662.5q14.2-1.3 26-5.9"/><path d="M693.1 663.2q26.9 .4 51.1-7.1"/><path d="M693.1 663.5q39.6 2.6 76.3-7.7"/><path d="M680.3 659.3q-34-20.8-71.5-28.8"/><path d="M680.8 658.6q-22-17.7-47.1-27"/><path d="M682.1 657.4q-10.9-14.2-24.1-23.8"/><path d="M685.3 656.1q-1.7-10.9-5.4-19.6"/><path d="M690 657.2q6.3-10.2 9.4-20.2"/><path d="M692.2 659.5q17-10.5 29.2-24.2"/><path d="M692.8 661q29.3-9.6 52.7-27"/><path d="M693 661.8q41.8-8 77.2-28.7"/><path d="M682.2 657.3q-21.2-28.9-49.4-48.4"/><path d="M683.7 656.5q-10.3-25.8-27.1-45.9"/><path d="M686.2 656.1q-.3-23.3-7.1-43.9"/><path d="M689.1 656.7q9.5-21.9 11.8-44.1"/><path d="M691.1 658.1q20.3-21.2 32.3-46.2"/><path d="M692.1 659.4q32.1-20.2 54.9-48.6"/><path d="M684.7 656.2q-8.9-38-29-69.6"/><path d="M686.6 656.1q1.8-35.7-7.8-68.5"/><path d="M688.7 656.5q12.3-33.9 12.9-68.5"/><path d="M690.3 657.4q23.5-32.6 34.3-69.7"/></g><g class="c"><path d="M772.1 669.8q-6 35.6-.3 69.7"/><path d="M774.6 656.2q5.9-35.6 .2-69.7"/><path d="M766.5 661.7q-36.8-6.2-72-.2"/><path d="M780.1 664.3q36.8 6.1 72 .2"/><path d="M767.5 666.8q-45.3 30.8-76.4 74.1"/><path d="M779.1 659.2q45.4-30.8 76.5-74.1"/><path d="M769.3 657.3q-32-44.5-76.1-74.4"/><path d="M777.3 668.7q32 44.5 76.1 74.4"/><path d="M772.1 669.8q-6 35.6-.3 69.7"/></g><g class="b"><path d="M770.5 669.3q-15.4 36.3-17.8 74.2"/><path d="M774.3 669.9q6.1 40.1 24.5 74.6"/><path d="M767.4 666.6q-35.5 22.3-60.6 54"/><path d="M768.3 667.8q-23.6 23.4-37.7 51.8"/><path d="M770 669.1q-12.5 24.3-16.6 49.8"/><path d="M772.5 669.9q-2.3 25.6 3 49.2"/><path d="M775.1 669.7q7.7 27.9 22.9 50.6"/><path d="M776.8 669q18.5 30.8 44.8 52.9"/><path d="M777.8 668.3q29.9 33.9 68.2 55"/><path d="M766.7 665.2q-32.6 11.6-58.5 32.1"/><path d="M767.3 666.5q-20.4 12.6-34.9 29.6"/><path d="M769.1 668.5q-9.3 12.8-14.1 26.1"/><path d="M772.9 669.9q-.3 13.2 2.4 24.6"/><path d="M776.5 669.2q8.6 15.9 20.2 27.6"/><path d="M778.1 668q19.4 19.3 42.4 31"/><path d="M778.9 667.2q31.1 22.5 66.4 33.1"/><path d="M779.3 666.6q43.2 25.6 91.1 34.6"/><path d="M779.5 666.2q55.6 28.5 116.1 35.6"/><path d="M766.4 662.8q-42.9-.7-82 12.4"/><path d="M766.4 663.2q-30.2 1.4-56.9 11.7"/><path d="M766.4 664q-17.4 3-31.9 10.1"/><path d="M767.1 666.2q-5.2 3-8.7 6"/></g><g class="bx"><path d="M774.4 669.8Q774.7 670.7 774.5 670.1M775.5 664L774.5 670.1 770.2 665.6Z"/></g><g class="b"><path d="M778.9 667.1q8.2 5.4 15.9 8.3"/><path d="M779.6 666q19.9 8.8 40.1 11.2"/><path d="M779.8 665.5q32.3 11.8 65.1 12.5"/><path d="M779.9 665.2q44.8 14.6 90.4 13.2"/><path d="M780 665.1q57.3 17.2 115.6 13.5"/><path d="M766.7 661.1q-41-11.3-81.9-8.4"/><path d="M766.7 660.9q-28.4-8.6-56.6-7.9"/><path d="M766.9 660.5q-16.1-5.8-31.5-6.8"/><path d="M767.5 659.3q-4.2-2.3-7.1-3.4"/></g><g class="bx"><path d="M776.5 656.8Q777.1 655.2 777.2 654.9M773.3 659.8L777.2 654.9 778.7 661Z"/></g><g class="b"><path d="M780.2 661.9q8.5-1.8 15-4.7"/><path d="M780.3 663q21.2-.5 39.8-6.7"/><path d="M780.3 663.4q33.9 1.6 65-7.5"/><path d="M780.2 663.6q46.7 3.9 90.4-7.9"/><path d="M780.2 663.8q59.3 6.2 115.6-8.2"/><path d="M767.7 658.9q-27.3-19.1-57.9-27.9"/><path d="M768.5 658q-15.7-15.8-34-25.4"/><path d="M770.7 656.6q-5.5-12.2-12.9-21.4"/><path d="M775.2 656.3q2.6-10.1 2.6-19"/><path d="M778.7 658.6q11.9-10.5 19.7-22.6"/><path d="M779.8 660.4q23.7-10.1 42-25.9"/><path d="M780.1 661.5q36.2-8.8 66.3-28"/><path d="M780.2 662.1q48.9-6.9 91.1-29.3"/><path d="M780.3 662.5q61.5-4.8 116.1-30.1"/><path d="M768.8 657.7q-26.2-30.3-59.7-49.4"/><path d="M770.1 656.9q-15.1-27.2-36.8-47.1"/><path d="M772.2 656.1q-4.7-24.2-15.8-44.6"/><path d="M775 656.3q5.1-22.4 3.4-43.7"/><path d="M777.5 657.4q15.4-21.4 22.9-45.1"/><path d="M778.9 658.8q26.8-20.6 44.6-47.5"/><path d="M779.6 660q38.9-19.4 68-49.7"/><path d="M771.1 656.4q-13.7-39.2-38.8-70.3"/><path d="M772.9 656.1q-3-36.6-17.1-68.9"/><path d="M774.9 656.2q7.6-34.6 3.7-68.3"/><path d="M776.8 657q18.4-33.2 24.7-69.1"/></g><g class="c"><path d="M859.2 669.8q-6 35.6-.2 69.7"/><path d="M861.7 656.2q6-35.6 .3-69.7"/><path d="M853.6 661.7q-36.7-6.2-71.9-.2"/><path d="M854.7 666.8q-45.4 30.8-76.5 74.1"/><path d="M856.5 657.3q-32-44.5-76.1-74.4"/><path d="M854.7 666.8q-45.4 30.8-76.5 74.1"/></g><g class="b"><path d="M860.3 669.9q-.8 51.5 15.6 98.7"/><path d="M861.7 669.8q10.4 53.9 37.9 99.5"/><path d="M856.9 669q-20.3 35.7-27.3 74.6"/><path d="M858.7 669.7q-9.4 37.2-6.1 73.8"/><path d="M860.6 669.9q1.3 39.1 15 74.2"/><path d="M862.3 669.7q12.2 41.6 36.7 75.4"/><path d="M855 667.2q-28.8 23-47.7 52.9"/><path d="M856.3 668.5q-17.3 24-25.7 50.7"/><path d="M858.5 669.7q-6.8 24.9-5.6 49.1"/><path d="M861.2 669.9q3.2 26.7 13.8 49.8"/><path d="M863.3 669.3q13.6 29.5 34.8 51.9"/><path d="M853.8 664.8q-38.2 10.9-69.4 32.9"/><path d="M854.1 665.9q-25.7 12.2-45.2 30.8"/><path d="M855.2 667.6q-13.9 12.8-22.9 27.7"/><path d="M858.2 669.5q-4.1 12.8-4.6 24.7"/><path d="M862.3 669.7q4.4 14.5 11.7 25.9"/><path d="M864.7 668.5q14.4 17.8 32.2 29.6"/><path d="M853.5 663q-35.8 .5-68 12.1"/><path d="M853.5 663.5q-23 2.4-42.9 11"/><path d="M853.8 664.9q-10.5 3.4-18.6 8.4"/></g><g class="bx"><path d="M856.8 668.9Q856.2 670.2 856.2 670M861 666L856.2 670 855.9 663.8Z"/></g><g class="b"><path d="M865.2 668.1q3.5 3.5 6.3 5.4"/><path d="M866.6 666.3q14.5 7.5 29.1 10.3"/><path d="M853.8 661q-34-9.8-67.8-8.1"/><path d="M853.9 660.7q-21.5-7.1-42.6-7.3"/><path d="M854.2 660q-9.3-4-17.6-5.4"/></g><g class="bx"><path d="M856.8 657.1Q855.3 655.1 854.6 654.5M856.8 660.3L854.6 654.5 860.6 656.2Z"/><path d="M867 660.6Q870.1 659.2 871.7 658.2M865.6 658.8L871.7 658.2 868.5 663.5Z"/></g><g class="b"><path d="M867.4 662.7q15.6-1.3 28.8-6.1"/><path d="M854.6 659.2q-32.7-20.4-68.8-28.6"/><path d="M855.2 658.4q-20.8-17.2-44.4-26.6"/><path d="M856.6 657.2q-9.7-13.7-21.7-23.3"/><path d="M860.2 656.1q-.9-10.7-3.8-19.4"/><path d="M864.7 657.5q7.3-10.3 11.3-20.7"/><path d="M866.6 659.7q18.3-10.4 31.7-24.6"/><path d="M856.6 657.2q-20-28.5-46.8-48.1"/><path d="M858.3 656.4q-9.2-25.5-24.8-45.6"/><path d="M860.9 656.1q.7-23.1-5-43.8"/><path d="M863.7 656.8q10.6-21.8 13.9-44.2"/><path d="M865.5 658.2q21.6-21 34.8-46.4"/><path d="M859.2 656.2q-7.7-37.7-26.6-69.4"/><path d="M861.1 656.1q3-35.4-5.5-68.4"/><path d="M863.2 656.6q13.5-33.8 15.2-68.6"/><path d="M864.8 657.5q24.7-32.5 36.7-69.9"/><path d="M862.9 656.5q16.3-45.9 16-93.1"/><path d="M864.2 657.1q27.7-44.3 38.2-93.9"/></g><g class="c"><path d="M162 585q-6 35.6-.2 69.6"/><path d="M164.5 571.3q6-35.6 .3-69.6"/><path d="M170.1 579.4q36.8 6.2 72 .3"/><path d="M169.1 574.3q45.3-30.8 76.4-74.1"/><path d="M167.3 583.8q32 44.6 76.1 74.5"/><path d="M169.1 574.3q45.3-30.8 76.4-74.1"/></g><g class="b"><path d="M159.8 584.2q-29.5 52.3-38.8 110.1"/><path d="M159.4 583.9q-26.7 40.4-37.8 85.9"/><path d="M160.8 584.6q-15.4 41.9-15.8 84.9"/><path d="M162.5 585q-4.4 43.7 5.7 84.8"/><path d="M158.8 583.4q-23.7 28.7-36.2 62"/><path d="M160.5 584.5q-12.7 29.7-15 60.4"/><path d="M162.7 585.1q-2.2 31.3 5.3 60.1"/><path d="M164.8 584.9q8.3 33.6 26.1 61.4"/><path d="M166.4 584.3q19.2 36.5 48.2 63.4"/><path d="M157.9 582.5q-20.5 17.4-33.9 39"/><path d="M159.8 584.2q-9.6 17.8-13.3 36.2"/><path d="M163 585.1q-.1 18.9 4.8 35.6"/><path d="M165.9 584.6q9.5 21.4 24 37.9"/><path d="M167.6 583.6q20.3 24.7 46 40.8"/><path d="M168.4 582.8q31.9 27.9 69.9 42.9"/><path d="M156.8 580.6q-17.3 7.2-30.6 18"/><path d="M158.5 583.1q-6.1 6.8-9.7 13.5"/><path d="M164.1 585q1.1 6.6 2.9 11.3"/><path d="M167.9 583.3q9.7 10.2 20.3 16.6"/><path d="M169 582.1q21 13.7 43.7 19.9"/><path d="M169.4 581.4q33.1 16.8 68.4 21.7"/><path d="M156.4 577.2q-15-1.6-28.4 .7"/></g><g class="bx"><path d="M156.3 577.8Q154.1 577.9 153.4 578M159.2 580L153.4 578 158.5 574.5Z"/><path d="M170.1 579.5Q170.2 579.5 168.8 579.5M163.2 576.8L168.8 579.5 163.2 582.3Z"/></g><g class="b"><path d="M170.1 579.5q9.3 1.5 17.1 .9"/><path d="M170.1 579.5q21.9 3.9 42.4 1.3"/><path d="M170.1 579.5q34.5 6.4 67.7 1.4"/><path d="M157.8 573.9q-14.5-10.7-30-16.3"/><path d="M159.9 572.1q-4.3-6.8-8.7-11.4"/><path d="M166.2 571.9q2-5 2.7-8.6"/><path d="M169.5 575.1q11.6-6.3 20.1-14.2"/><path d="M170.1 576.7q23.9-5.5 43.6-17.3"/><path d="M170.2 577.5q36.5-3.9 68.4-18.9"/><path d="M159.6 572.3q-14.2-21.6-33.2-36.8"/><path d="M161.9 571.3q-4.1-18.5-12.6-33.7"/><path d="M165.4 571.5q5-16.8 5.1-32.7"/><path d="M168.1 573.2q15.1-16.4 24-35.2"/><path d="M169.3 574.7q26.8-15.7 46.1-38"/><path d="M169.8 575.8q39.1-14.4 69.9-40"/><path d="M160.8 571.6q-13.1-33.4-35.5-59.6"/><path d="M162.8 571.2q-2.6-30.8-14.3-57.8"/><path d="M165.2 571.5q7.6-29 5.8-57.4"/><path d="M167.2 572.4q18.4-27.8 26.4-58.5"/><path d="M168.5 573.6q29.9-26.7 48.4-60.5"/><path d="M161.6 571.4q-11.6-45.7-37.1-83.4"/><path d="M163.3 571.2q-.7-43.2-15.2-82.3"/><path d="M165 571.4q10.2-41.2 6.2-82"/><path d="M162.2 571.3q-9.7-58-38.2-107.6"/></g><g class="c"><path d="M249.2 585q-6 35.6-.3 69.6"/><path d="M251.7 571.3q6-35.6 .2-69.6"/><path d="M243.6 576.9q-36.7-6.2-72-.3"/><path d="M257.3 579.4q36.7 6.2 71.9 .3"/><path d="M244.6 582q-45.3 30.8-76.4 74.1"/><path d="M256.2 574.3q45.4-30.8 76.5-74.1"/><path d="M246.4 572.5q-32-44.6-76.1-74.5"/><path d="M254.4 583.8q32 44.6 76.1 74.5"/><path d="M251.7 571.3q6-35.6 .2-69.6"/></g><g class="b"><path d="M245.4 582.9q-28.9 28.1-46.1 62.9"/><path d="M246.8 584.1q-17.5 29.2-24.2 61"/><path d="M248.8 584.9q-6.8 30.5-3.6 60.1"/><path d="M251.1 585.1q3.5 32.5 16.7 60.7"/><path d="M252.9 584.6q14.3 35.2 38.2 62.5"/><path d="M243.7 579.9q-50.5 14.2-91.8 43.9"/><path d="M244 580.7q-38 15.8-67.4 42.3"/><path d="M244.6 581.9q-25.8 17-43.9 40.1"/><path d="M245.9 583.4q-14.3 17.7-22 37.4"/><path d="M248.7 584.9q-4.3 18.2-3.2 35.4"/><path d="M252 584.9q5 20.2 15 36.7"/><path d="M254.1 584q15.4 23.3 36 39.6"/><path d="M255.3 583.1q26.6 26.5 59.1 42.1"/><path d="M243.5 578.2q-60.8 1.1-115.9 22.8"/><path d="M243.5 578.5q-48.1 3.3-90.8 22.1"/><path d="M243.5 579.1q-35.3 5.2-65.7 21"/><path d="M243.7 580q-22.8 6.8-41.2 19.3"/><path d="M244.5 581.8q-10.7 7.2-18.2 15.8"/><path d="M248.3 584.8q-1.6 6.1-1.9 10.9"/><path d="M253.9 584.2q5.3 8.4 11.3 14.2"/><path d="M255.8 582.5q15.8 12.2 33 18.8"/><path d="M256.4 581.6q27.7 15.5 57.3 21.1"/><path d="M243.6 576.9q-58.7-9.8-115.6 1"/><path d="M243.6 577q-46-7.4-90.3 .9"/><path d="M243.6 577q-33.3-4.9-65 .9"/><path d="M243.6 577.1q-20.7-2.6-39.7 .8"/><path d="M243.5 577.4q-7.9-.5-14.2 .5"/></g><g class="bx"><path d="M250.4 578.1Q248.2 578.4 247.6 578.8M253.8 578.5L247.6 578.8 251.1 573.6Z"/></g><g class="b"><path d="M257.2 579.5q3.7 .5 5.8 .5"/><path d="M257.2 579.5q16.3 2.8 31.2 1.2"/><path d="M257.2 579.5q29 5.3 56.5 1.3"/><path d="M243.9 575.7q-56.7-21-115.7-20.9"/><path d="M244 575.4q-44.2-18.2-90.5-20.2"/><path d="M244.2 575q-31.9-15.3-65.4-19.2"/><path d="M244.6 574.4q-19.7-12.3-40.7-17.6"/><path d="M245.7 573q-8.4-8.6-17.4-14"/><path d="M250.2 571.2q-.5-4.9-1.4-8.2"/><path d="M255.8 573.8q6.7-5.9 11-11.9"/><path d="M257.1 576.1q18.3-6 32.9-16.2"/><path d="M257.3 577.2q30.9-4.7 57.3-18.3"/><path d="M257.4 577.8q43.6-2.8 82.2-19.5"/><path d="M244.7 574.2q-42.7-29.4-91.4-41.9"/><path d="M245.2 573.6q-30.7-26.3-66.9-40.4"/><path d="M246.1 572.7q-19.1-23-43.2-38.1"/><path d="M247.9 571.7q-8.5-19.8-21.4-35.1"/><path d="M251 571.2q.9-17.3-2.7-32.7"/><path d="M254.3 572.4q10.4-16.6 15.1-33.9"/><path d="M256.1 574.1q21.4-16.1 35.9-36.8"/><path d="M256.8 575.4q33.6-15.1 59.2-39.2"/><path d="M247.3 571.9q-18-34.7-45.4-60.5"/><path d="M249 571.4q-7.2-32-23.6-58.6"/><path d="M251.3 571.3q3-29.8-3.1-57.4"/><path d="M253.5 571.9q13.5-28.3 17.1-57.8"/><path d="M255.2 573.1q24.6-27.3 38.4-59.6"/></g><g class="c"><path d="M336.3 585q-6 35.6-.2 69.6"/><path d="M338.8 571.3q6-35.6 .3-69.6"/><path d="M330.7 576.9q-36.7-6.2-71.9-.3"/><path d="M344.4 579.4q36.7 6.2 72 .3"/><path d="M331.8 582q-45.4 30.8-76.5 74.1"/><path d="M343.4 574.3q45.3-30.8 76.4-74.1"/><path d="M333.6 572.5q-32-44.6-76.1-74.5"/><path d="M341.6 583.8q32 44.6 76.1 74.5"/><path d="M333.6 572.5q-32-44.6-76.1-74.5"/></g><g class="b"><path d="M333.2 583.6q-22.4 28.7-33.7 61.7"/><path d="M335 584.6q-11.5 29.9-12.7 60.3"/><path d="M337.2 585.1q-1 31.5 7.6 60.2"/><path d="M339.3 584.9q9.5 33.9 28.5 61.6"/><path d="M340.9 584.3q20.4 36.7 50.7 63.6"/><path d="M331.4 581.3q-31.2 16.6-54.2 41.2"/><path d="M332.3 582.7q-19.2 17.5-31.4 38.6"/><path d="M334.4 584.3q-8.5 18-11.2 36.1"/><path d="M337.7 585.1q.9 19.1 6.7 35.7"/><path d="M340.5 584.5q10.6 21.8 26.2 38.2"/><path d="M342 583.5q21.5 25.1 48.6 41.1"/><path d="M330.7 578.8q-41.1 4.4-76.9 21.6"/><path d="M330.8 579.5q-28.4 6.2-52 20.2"/><path d="M331.2 580.8q-16 7.3-28.1 17.7"/><path d="M333.2 583.5q-5 6.6-7.8 12.8"/><path d="M339 584.9q1.9 6.9 4.3 11.8"/><path d="M342.4 583.2q10.8 10.5 22.8 17.1"/><path d="M343.4 582q22.3 14.1 46.4 20.2"/><path d="M343.7 581.3q34.5 17.2 71.2 21.9"/><path d="M330.7 577.1q-26.3-3.6-50.8 .8"/><path d="M330.7 577.2q-13.6-1.3-25.6 .7"/></g><g class="bx"><path d="M330.6 578Q329.8 578.1 330.5 578M336.3 580.1L330.5 578 335.7 574.6Z"/><path d="M344.4 579.5Q345.9 579.6 345.9 579.6M340.2 577.2L345.9 579.6 340.5 582.7Z"/></g><g class="b"><path d="M344.4 579.5q10.7 1.7 19.9 1"/><path d="M344.4 579.5q23.3 4.2 45.2 1.3"/><path d="M344.4 579.5q35.9 6.7 70.5 1.4"/><path d="M331.3 575.2q-37.4-16.6-76.6-19.7"/><path d="M331.5 574.7q-25-13.6-51.6-18.4"/><path d="M332.2 573.7q-13.3-10.2-27.4-15.9"/><path d="M334.6 571.9q-3.3-6.4-6.8-10.7"/><path d="M341.2 572.2q2.7-5.1 4-9.1"/><path d="M343.9 575.3q12.9-6.2 22.6-14.7"/><path d="M344.4 576.8q25.3-5.4 46.3-17.5"/><path d="M344.5 577.6q37.9-3.7 71.1-19.1"/><path d="M332.8 573.1q-24.2-24.5-53.6-39.2"/><path d="M334.1 572.2q-13-21.3-30.7-36.5"/><path d="M336.6 571.3q-3.1-18.3-10.6-33.5"/><path d="M340.1 571.7q6-16.8 7-33"/><path d="M342.6 573.3q16.4-16.3 26.3-35.4"/><path d="M343.7 574.9q28.1-15.6 48.7-38.3"/><path d="M333.9 572.2q-23-36.1-55.6-61.4"/><path d="M335.3 571.6q-11.9-33.2-33.1-59.4"/><path d="M337.4 571.2q-1.5-30.6-12.1-57.7"/><path d="M339.7 571.5q8.8-28.8 8.1-57.4"/><path d="M341.7 572.5q19.6-27.6 28.7-58.7"/><path d="M342.9 573.7q31.2-26.6 50.9-60.7"/><path d="M337.8 571.2q.5-43-12.9-82.2"/></g><g class="c"><path d="M423.5 585q-6 35.6-.3 69.6"/><path d="M426 571.3q6-35.6 .2-69.6"/><path d="M417.9 576.9q-36.7-6.2-72-.3"/><path d="M431.6 579.4q36.7 6.2 71.9 .3"/><path d="M418.9 582q-45.3 30.8-76.4 74.1"/><path d="M430.5 574.3q45.4-30.8 76.5-74.1"/><path d="M420.7 572.5q-32-44.6-76.1-74.5"/><path d="M428.7 583.8q32 44.6 76.1 74.5"/><path d="M430.5 574.3q45.4-30.8 76.5-74.1"/></g><g class="b"><path d="M419.8 583q-27.6 28.3-43.6 62.7"/><path d="M421.3 584.2q-16.3 29.3-21.9 60.8"/><path d="M423.4 585q-5.7 30.7-1.4 60"/><path d="M425.6 585q4.7 32.8 19.1 60.9"/><path d="M427.4 584.6q15.5 35.4 40.7 62.6"/><path d="M418.3 580.8q-36.6 16-64.7 42.1"/><path d="M419 582q-24.5 17.2-41.3 39.9"/><path d="M420.5 583.6q-13.1 17.8-19.8 37.1"/><path d="M423.4 585q-3.3 18.4-1.3 35.4"/><path d="M426.6 584.8q6.1 20.5 17.1 37"/><path d="M428.6 583.9q16.5 23.6 38.4 39.9"/><path d="M429.7 583q27.9 26.9 61.8 42.3"/><path d="M417.8 579.1q-33.9 5.5-62.9 21"/><path d="M418.1 580.1q-21.4 6.9-38.5 19"/><path d="M419 582.1q-9.5 7.2-15.9 15.3"/><path d="M423.3 585q-.9 6.1-.7 10.7"/><path d="M428.6 583.9q6.3 8.9 13.4 14.9"/><path d="M430.2 582.4q17.1 12.6 35.6 19.1"/><path d="M430.8 581.6q29 15.8 60 21.2"/><path d="M417.9 577q-31.9-4.7-62.2 .9"/><path d="M417.9 577.1q-19.3-2.3-36.8 .8"/><path d="M417.8 577.5q-6.5-.3-11.4 .4"/></g><g class="bx"><path d="M424.7 578.1Q423.9 578.7 424.2 578.2M429.6 575.2L424.2 578.2 425.1 572.1Z"/></g><g class="b"><path d="M431.5 579.5q5.1 .7 8.6 .6"/><path d="M431.5 579.5q17.7 3.1 34 1.2"/><path d="M431.5 579.5q30.4 5.5 59.3 1.4"/><path d="M418.5 575q-30.5-15-62.6-19.1"/><path d="M419 574.3q-18.4-11.9-38.1-17.3"/><path d="M420.3 572.8q-7.3-8.1-15.1-13.4"/><path d="M425.3 571.2q.1-4.8-.4-8"/><path d="M430.4 574.1q7.8-6 13.1-12.4"/><path d="M431.4 576.3q19.7-5.9 35.6-16.5"/><path d="M431.6 577.3q32.3-4.5 60.1-18.5"/><path d="M419.6 573.5q-29.4-26-64.3-40.1"/><path d="M420.5 572.6q-17.8-22.7-40.6-37.8"/><path d="M422.4 571.6q-7.3-19.5-19.1-34.7"/><path d="M425.7 571.3q1.9-17.2-.7-32.7"/><path d="M428.8 572.6q11.6-16.5 17.4-34.2"/><path d="M430.5 574.3q22.8-16.1 38.5-37.2"/><path d="M431.2 575.5q34.9-14.9 61.8-39.4"/><path d="M421.8 571.9q-16.9-34.5-43-60.4"/><path d="M423.5 571.3q-6-31.7-21.2-58.3"/><path d="M425.8 571.3q4.2-29.5-.8-57.3"/><path d="M428 572.1q14.7-28.2 19.4-58.1"/><path d="M429.6 573.2q25.9-27.1 40.9-59.8"/></g><g class="c"><path d="M510.6 585q-6 35.6-.2 69.6"/><path d="M513.1 571.3q6-35.6 .3-69.6"/><path d="M505 576.9q-36.7-6.2-71.9-.3"/><path d="M518.7 579.4q36.7 6.2 72 .3"/><path d="M506.1 582q-45.4 30.8-76.5 74.1"/><path d="M517.7 574.3q45.3-30.8 76.4-74.1"/><path d="M507.9 572.5q-32-44.6-76.1-74.5"/><path d="M515.9 583.8q32 44.6 76.1 74.5"/><path d="M513.1 571.3q6-35.6 .3-69.6"/></g><g class="b"><path d="M507.7 583.7q-21.2 28.9-31.4 61.6"/><path d="M509.5 584.7q-10.3 30-10.4 60.2"/><path d="M511.8 585.1q.1 31.7 9.9 60.3"/><path d="M513.8 584.8q10.6 34.2 30.9 61.8"/><path d="M515.3 584.2q21.6 37.1 53.3 63.8"/><path d="M505.8 581.4q-29.8 16.7-51.6 41"/><path d="M506.8 582.9q-18 17.5-29 38.3"/><path d="M509.1 584.5q-7.5 18-9.2 35.8"/><path d="M512.4 585.1q1.9 19.3 8.7 35.9"/><path d="M515 584.4q11.8 22.1 28.6 38.6"/><path d="M516.4 583.4q22.8 25.4 51.3 41.3"/><path d="M505 578.9q-39.6 4.6-74.1 21.4"/><path d="M505.1 579.6q-27 6.4-49.3 20"/><path d="M505.6 581.1q-14.6 7.2-25.5 17.2"/><path d="M507.9 583.9q-4 6.4-6.1 12.2"/><path d="M513.9 584.8q2.6 7.2 5.9 12.3"/><path d="M516.9 583q12 11 25.2 17.5"/><path d="M517.7 581.9q23.7 14.4 49.1 20.4"/><path d="M518.1 581.3q35.8 17.5 73.9 22"/><path d="M505 577q-37.5-5.8-73.3 .9"/><path d="M505 577.1q-24.9-3.4-48 .8"/><path d="M505 577.3q-12.2-1.1-22.7 .6"/></g><g class="bx"><path d="M504.9 578.3Q502 578.6 500.7 579.1M506.8 580L500.7 579.1 505.2 574.7Z"/><path d="M518.7 579.5Q521.6 579.8 523 579.7M517.2 577.4L523 579.7 517.7 582.9Z"/></g><g class="b"><path d="M518.7 579.5q12.1 2 22.7 1"/><path d="M518.7 579.5q24.7 4.4 48 1.3"/><path d="M518.7 579.5q37.3 6.9 73.3 1.4"/><path d="M505.6 575.2q-36-16.3-73.8-19.7"/><path d="M505.9 574.6q-23.7-13.3-48.9-18.2"/><path d="M506.6 573.6q-12-9.9-24.8-15.5"/><path d="M509.5 571.6q-2.5-5.9-5.2-9.9"/><path d="M516 572.6q3.6-5.3 5.5-9.8"/><path d="M518.3 575.6q14.3-6.3 25.1-15.2"/><path d="M518.7 576.9q26.7-5.2 49.1-17.7"/><path d="M518.8 577.6q39.4-3.4 73.9-19.1"/><path d="M507.2 573q-22.9-24.1-51-38.9"/><path d="M508.6 572q-11.9-20.8-28.3-36.1"/><path d="M511.3 571.2q-2.1-18-8.6-33.2"/><path d="M514.8 571.8q7-16.6 8.9-33.1"/><path d="M517.1 573.5q17.6-16.3 28.7-35.8"/><path d="M518.1 575q29.4-15.5 51.3-38.5"/><path d="M508.3 572.2q-21.8-35.8-53-61.3"/><path d="M509.8 571.5q-10.8-32.8-30.7-59.2"/><path d="M511.9 571.2q-.3-30.4-9.8-57.6"/><path d="M514.3 571.6q9.9-28.7 10.3-57.5"/><path d="M516.2 572.7q20.8-27.6 31.1-59"/><path d="M517.3 573.8q32.5-26.4 53.5-60.9"/></g><g class="c"><path d="M597.8 585q-6 35.6-.3 69.6"/><path d="M600.3 571.3q6-35.6 .2-69.6"/><path d="M592.2 576.9q-36.8-6.2-72-.3"/><path d="M605.8 579.4q36.8 6.2 72 .3"/><path d="M593.2 582q-45.3 30.8-76.4 74.1"/><path d="M604.8 574.3q45.4-30.8 76.5-74.1"/><path d="M595 572.5q-32-44.6-76.1-74.5"/><path d="M603 583.8q32 44.6 76.1 74.5"/><path d="M595 572.5q-32-44.6-76.1-74.5"/></g><g class="b"><path d="M594.2 583.2q-26.2 28.4-41.1 62.4"/><path d="M595.8 584.3q-15.1 29.5-19.6 60.7"/><path d="M597.9 585q-4.5 30.9 .9 60.1"/><path d="M600.1 585q5.9 33 21.4 61"/><path d="M601.9 584.5q16.6 35.8 43.1 62.9"/><path d="M592.7 580.9q-35.3 16.2-62.1 41.9"/><path d="M593.4 582.2q-23.2 17.2-38.8 39.6"/><path d="M595 583.8q-11.9 17.8-17.6 36.8"/><path d="M598 585q-2.2 18.6 .8 35.4"/><path d="M601.1 584.8q7.3 20.8 19.5 37.2"/><path d="M603.1 583.8q17.7 24 40.9 40.2"/><path d="M604 582.9q29.3 27.2 64.5 42.6"/><path d="M592.2 579.2q-32.6 5.7-60.3 20.8"/><path d="M592.4 580.3q-20 7-35.8 18.7"/><path d="M593.6 582.5q-8.3 7-13.7 14.6"/><path d="M598.4 585.1q-.3 6.1 .4 10.7"/><path d="M603.2 583.7q7.4 9.3 15.6 15.5"/><path d="M604.6 582.3q18.4 13 38.3 19.4"/><path d="M605.1 581.5q30.4 16.2 62.8 21.4"/><path d="M592.2 577q-30.5-4.4-59.3 .9"/><path d="M592.1 577.2q-17.8-2.1-33.9 .7"/><path d="M592.1 577.6q-5.1-.2-8.6 .3"/></g><g class="bx"><path d="M599 578.1Q599.6 579 599.1 578.7M596 573.3L599.1 578.7 593 578Z"/></g><g class="b"><path d="M605.8 579.5q6.5 1 11.5 .8"/><path d="M605.8 579.5q19.1 3.3 36.8 1.2"/><path d="M605.8 579.5q31.8 5.8 62.1 1.4"/><path d="M592.9 574.9q-29.2-14.6-59.9-19"/><path d="M593.4 574.1q-17.2-11.4-35.4-16.9"/><path d="M594.9 572.6q-6.3-7.7-12.9-12.8"/><path d="M600.4 571.3q.7-4.7 .6-7.9"/><path d="M604.9 574.5q9.1-6.1 15.3-13.1"/><path d="M605.8 576.5q21.1-5.9 38.2-16.9"/><path d="M605.9 577.4q33.7-4.4 62.9-18.7"/><path d="M594 573.4q-28.1-25.6-61.6-39.9"/><path d="M595 572.5q-16.6-22.3-38.1-37.5"/><path d="M597 571.5q-6.2-19.2-16.9-34.4"/><path d="M600.4 571.3q2.9-17 1.2-32.6"/><path d="M603.4 572.8q12.7-16.5 19.5-34.5"/><path d="M604.9 574.4q24.1-15.9 41-37.4"/><path d="M605.5 575.6q36.3-14.7 64.5-39.6"/><path d="M596.2 571.8q-15.6-34.1-40.4-60.1"/><path d="M598.1 571.3q-5-31.4-18.9-58.2"/><path d="M600.4 571.3q5.3-29.3 1.4-57.3"/><path d="M602.6 572.2q15.9-28.1 21.6-58.2"/><path d="M604 573.3q27.3-26.9 43.4-60"/></g><g class="c"><path d="M684.9 585q-6 35.6-.2 69.6"/><path d="M687.4 571.3q6-35.6 .3-69.6"/><path d="M679.3 576.9q-36.7-6.2-71.9-.3"/><path d="M693 579.4q36.7 6.2 72 .3"/><path d="M680.4 582q-45.4 30.8-76.5 74.1"/><path d="M692 574.3q45.3-30.8 76.4-74.1"/><path d="M682.2 572.5q-32-44.6-76.1-74.5"/><path d="M690.2 583.8q32 44.6 76.1 74.5"/><path d="M692 574.3q45.3-30.8 76.4-74.1"/></g><g class="b"><path d="M680.9 582.7q-31.5 27.8-51.1 63.2"/><path d="M682.1 583.8q-19.9 29-28.9 61.4"/><path d="M684.1 584.8q-9.1 30.2-8.2 60.1"/><path d="M686.3 585.1q1.3 32 12.2 60.4"/><path d="M688.3 584.8q11.8 34.5 33.3 62"/><path d="M680.1 581.6q-28.4 16.8-48.9 40.7"/><path d="M681.3 583.1q-16.8 17.5-26.7 38"/><path d="M683.7 584.6q-6.3 18.1-7.2 35.7"/><path d="M687 585q3 19.7 10.8 36.2"/><path d="M689.5 584.2q12.9 22.6 31 39"/><path d="M690.8 583.3q24.1 25.8 53.9 41.6"/><path d="M679.3 578.9q-38.2 4.9-71.3 21.4"/><path d="M679.4 579.7q-25.6 6.5-46.6 19.8"/><path d="M680 581.3q-13.3 7.3-23 16.8"/><path d="M682.8 584.2q-3.2 6.3-4.6 11.7"/><path d="M688.8 584.6q3.4 7.6 7.5 13"/><path d="M691.3 582.8q13.3 11.4 27.8 18"/><path d="M692.1 581.8q25 14.8 51.8 20.7"/><path d="M692.4 581.2q37.2 17.9 76.7 22.1"/><path d="M679.3 577q-36.1-5.5-70.5 .9"/><path d="M679.3 577.1q-23.5-3.1-45.2 .8"/><path d="M679.3 577.3q-10.8-.9-19.9 .6"/></g><g class="bx"><path d="M679.2 578.7Q677.8 579 677.8 579M684 579.8L677.8 579 682.1 574.6Z"/><path d="M693 579.5Q693.8 579.6 693.1 579.6M687.8 576.4L693.1 579.6 687.4 582Z"/></g><g class="b"><path d="M693 579.5q13.5 2.3 25.5 1.1"/><path d="M693 579.5q26.1 4.7 50.8 1.3"/><path d="M679.9 575.1q-34.6-15.9-71-19.5"/><path d="M680.2 574.6q-22.4-13-46.1-18.1"/><path d="M681.1 573.4q-10.8-9.4-22.3-15"/><path d="M684.4 571.4q-1.7-5.5-3.7-9.2"/><path d="M690.8 573q4.6-5.5 7.2-10.5"/><path d="M692.7 575.8q15.6-6.2 27.6-15.6"/><path d="M693 577q28.1-5 51.8-17.9"/><path d="M693.1 577.7q40.8-3.3 76.7-19.3"/><path d="M681.6 572.9q-21.6-23.8-48.4-38.6"/><path d="M683.1 571.9q-10.7-20.5-26-35.8"/><path d="M685.9 571.2q-1-17.7-6.5-33"/><path d="M689.4 572q8.2-16.6 11-33.3"/><path d="M691.5 573.7q18.9-16.2 31.1-36.1"/><path d="M692.4 575.2q30.9-15.4 53.9-38.8"/><path d="M682.8 572.1q-20.6-35.4-50.5-61"/><path d="M684.3 571.5q-9.6-32.6-28.3-59"/><path d="M686.5 571.2q.8-30.1-7.6-57.5"/><path d="M688.8 571.7q11.1-28.5 12.5-57.6"/><path d="M690.6 572.8q22.1-27.5 33.6-59.2"/><path d="M691.7 574q33.8-26.4 56-61.2"/><path d="M688.5 571.6q13.9-40.7 13.3-82.1"/></g><g class="c"><path d="M772.1 585q-6 35.6-.3 69.6"/><path d="M774.6 571.3q5.9-35.6 .2-69.6"/><path d="M766.5 576.9q-36.8-6.2-72-.3"/><path d="M780.1 579.4q36.8 6.2 72 .3"/><path d="M767.5 582q-45.3 30.8-76.4 74.1"/><path d="M779.1 574.3q45.4-30.8 76.5-74.1"/><path d="M769.3 572.5q-32-44.6-76.1-74.5"/><path d="M777.3 583.8q32 44.6 76.1 74.5"/><path d="M774.6 571.3q5.9-35.6 .2-69.6"/></g><g class="b"><path d="M768.7 583.3q-25 28.5-38.7 62.2"/><path d="M770.3 584.4q-13.8 29.6-17.3 60.6"/><path d="M772.5 585q-3.4 31.1 3.1 60.1"/><path d="M774.7 585q7 33.3 23.7 61.2"/><path d="M776.3 584.4q17.9 36.1 45.7 63.2"/><path d="M767 581.1q-33.9 16.2-59.4 41.6"/><path d="M767.8 582.4q-21.8 17.3-36.3 39.2"/><path d="M769.6 584q-10.8 17.8-15.5 36.5"/><path d="M772.7 585.1q-1.2 18.7 2.7 35.4"/><path d="M775.7 584.7q8.4 21.1 21.7 37.6"/><path d="M777.5 583.7q19 24.3 43.5 40.5"/><path d="M778.4 582.9q30.6 27.5 67.2 42.7"/><path d="M778.9 582.3q42.6 30.5 91.6 44.3"/><path d="M766.5 579.3q-31.2 5.8-57.5 20.6"/><path d="M766.8 580.5q-18.7 7-33.3 18.3"/><path d="M768.2 582.8q-7.2 6.9-11.7 14"/><path d="M773.4 585.1q.4 6.3 1.6 10.9"/><path d="M777.7 583.5q8.5 9.8 18 16.1"/><path d="M779 582.2q19.7 13.3 41 19.7"/><path d="M779.4 581.5q31.8 16.5 65.6 21.5"/><path d="M779.6 581q44.1 19.4 90.7 22.7"/><path d="M779.8 580.7q56.5 22.3 115.8 23.4"/><path d="M766.5 577q-29.1-4.1-56.5 .9"/><path d="M766.4 577.2q-16.4-1.8-31.1 .7"/><path d="M766.4 577.7q-3.7 0-5.8 .2"/></g><g class="bx"><path d="M773.3 578.1Q775.3 579.3 776 579.3M770.8 575.9L776 579.3 770.2 581.5Z"/></g><g class="b"><path d="M780.1 579.5q7.9 1.2 14.3 .8"/><path d="M780.1 579.5q20.5 3.6 39.6 1.2"/><path d="M780.1 579.5q33.2 6.1 65 1.4"/><path d="M780.1 579.5q45.8 8.6 90.3 1.5"/><path d="M780.1 579.5q58.5 11.1 115.6 1.5"/><path d="M767 575.3q-40.1-17.2-82.2-20"/><path d="M767.2 574.9q-27.8-14.4-57.2-18.9"/><path d="M767.7 574q-15.8-11.1-32.6-16.6"/><path d="M769.5 572.3q-5.2-7.2-10.7-12"/><path d="M775.5 571.6q1.3-4.8 1.6-8.2"/><path d="M779.4 574.8q10.3-6.2 17.7-13.7"/><path d="M780.1 576.6q22.5-5.7 40.9-17.1"/><path d="M780.2 577.4q35.2-4.1 65.6-18.7"/><path d="M780.3 577.9q47.8-2.1 90.6-19.7"/><path d="M780.3 578.2q60.5 .1 115.8-20.3"/><path d="M768.3 573.3q-26.7-25.2-58.9-39.7"/><path d="M769.4 572.4q-15.4-22-35.6-37.2"/><path d="M771.7 571.4q-5.2-18.8-14.8-34"/><path d="M775.1 571.4q3.9-16.9 3.1-32.7"/><path d="M777.9 573q13.9-16.5 21.8-34.9"/><path d="M779.3 574.6q25.4-15.8 43.5-37.7"/><path d="M779.8 575.7q37.7-14.6 67.2-39.8"/><path d="M780.1 576.5q50.2-12.9 91.7-41.4"/><path d="M770.7 571.7q-14.4-33.8-38-59.9"/><path d="M772.6 571.2q-3.8-31.1-16.6-58"/><path d="M775 571.4q6.4-29.2 3.5-57.3"/><path d="M777.1 572.3q17.1-27.9 24-58.4"/><path d="M778.4 573.5q28.6-26.9 45.9-60.3"/></g><g class="c"><path d="M859.2 585q-6 35.6-.2 69.6"/><path d="M861.7 571.3q6-35.6 .3-69.6"/><path d="M853.6 576.9q-36.7-6.2-71.9-.3"/><path d="M854.7 582q-45.4 30.8-76.5 74.1"/><path d="M856.5 572.5q-32-44.6-76.1-74.5"/><path d="M856.5 572.5q-32-44.6-76.1-74.5"/></g><g class="b"><path d="M861.5 585q9.5 59.3 38.3 110.3"/><path d="M858.7 584.9q-10.5 42.6-6.2 84.7"/><path d="M860.4 585.1q.5 44.6 15.3 85"/><path d="M862 584.9q11.4 47 37.3 86.1"/><path d="M855.3 582.8q-30.2 28-48.6 63"/><path d="M856.6 583.9q-18.7 29.1-26.5 61.2"/><path d="M858.6 584.8q-7.9 30.4-5.9 60.1"/><path d="M860.9 585.1q2.4 32.2 14.4 60.5"/><path d="M862.8 584.7q13 34.8 35.7 62.2"/><path d="M854.5 581.7q-27.1 16.9-46.4 40.4"/><path d="M855.8 583.3q-15.5 17.6-24.4 37.6"/><path d="M858.4 584.8q-5.3 18.1-5.2 35.5"/><path d="M861.7 585q4 19.9 12.9 36.4"/><path d="M864 584.1q14.1 22.9 33.5 39.3"/><path d="M853.6 579q-36.8 5.1-68.5 21.2"/><path d="M853.7 579.8q-24.1 6.7-43.8 19.6"/><path d="M854.4 581.6q-12 7.2-20.6 16.2"/><path d="M857.7 584.5q-2.4 6.2-3.2 11.2"/><path d="M863.5 584.4q4.4 8 9.4 13.6"/><path d="M865.7 582.7q14.6 11.8 30.4 18.4"/><path d="M853.6 577q-34.7-5.2-67.7 .9"/><path d="M853.6 577.1q-22.1-2.8-42.4 .8"/><path d="M853.6 577.4q-9.4-.7-17.1 .5"/></g><g class="bx"><path d="M853.6 579.4Q853.5 579.5 854.9 578.9M861.1 579.4L854.9 578.9 859 574.2Z"/><path d="M867.3 579.5Q869.5 579.8 870.3 579.8M864.8 576.9L870.3 579.8 864.6 582.5Z"/></g><g class="b"><path d="M867.3 579.5q14.9 2.5 28.3 1.1"/><path d="M854.2 575.1q-33.2-15.7-68.2-19.4"/><path d="M854.6 574.5q-21.1-12.6-43.5-17.8"/><path d="M855.6 573.2q-9.6-9-19.9-14.5"/><path d="M859.4 571.3q-1.1-5.2-2.5-8.7"/><path d="M865.5 573.4q5.6-5.7 9-11.1"/><path d="M867.1 576q16.9-6.2 30.2-15.9"/><path d="M855.2 573.6q-32-26.6-69.7-40.5"/><path d="M856 572.8q-20.3-23.4-45.8-38.3"/><path d="M857.6 571.8q-9.5-20.2-23.6-35.4"/><path d="M860.6 571.2q0-17.5-4.6-32.9"/><path d="M864 572.2q9.3-16.6 13.1-33.6"/><path d="M866 573.9q20.1-16.2 33.5-36.5"/><path d="M857.2 572q-19.3-35.1-48-60.8"/><path d="M858.8 571.4q-8.4-32.2-25.9-58.7"/><path d="M861 571.2q2-29.9-5.3-57.4"/><path d="M863.3 571.8q12.4-28.4 14.8-57.7"/><path d="M865.1 572.9q23.3-27.3 35.9-59.3"/><path d="M861.2 571.2q4.2-42.2-5.6-82"/><path d="M863 571.7q15.1-40.5 15.7-82.2"/><path d="M864.4 572.4q26.4-39 37.6-83.2"/><path d="M864 572.2q29.2-51 38.7-107.5"/></g><g class="c"><path d="M162 500.1q-6 35.6-.2 69.7"/><path d="M164.5 486.5q6-35.6 .3-69.7"/><path d="M170.1 494.6q36.8 6.2 72 .2"/><path d="M169.1 489.5q45.3-30.8 76.4-74.1"/><path d="M167.3 499q32 44.5 76.1 74.4"/><path d="M170.1 494.6q36.8 6.2 72 .2"/></g><g class="b"><path d="M159.6 499.2q-28 45.6-38.3 96.6"/><path d="M160.9 499.8q-16.6 47.3-16.1 95.9"/><path d="M159.1 498.8q-25.1 33.8-37 72.6"/><path d="M160.6 499.7q-13.8 35.1-15.3 71.3"/><path d="M162.6 500.2q-3.2 36.8 5.5 71.1"/><path d="M164.5 500.1q7.5 39.1 26.7 72.1"/><path d="M158.3 498.2q-22 22.3-35 49"/><path d="M160.2 499.5q-11 23.1-14.2 46.9"/><path d="M162.8 500.2q-1 24.5 5.1 46.5"/><path d="M165.4 499.9q9 26.9 25 48.3"/><path d="M167 499.1q19.9 29.9 47.1 50.7"/><path d="M157.3 496.8q-18.7 11.5-32.1 26.9"/><path d="M159.2 498.9q-7.7 11.6-11.7 23.2"/><path d="M163.5 500.2q.7 12.1 3.9 22.1"/><path d="M166.9 499.2q9.7 15 22.1 25.7"/><path d="M168.4 498q20.7 18.5 44.7 29"/><path d="M169 497.2q32.6 21.7 69 31"/><path d="M156.4 494q-15.8 2.2-29 8"/><path d="M157 496.4q-3.6 2-5.6 3.6"/></g><g class="bx"><path d="M166.1 499.7Q166.2 499.8 165.5 498.6M165.1 492.4L165.5 498.6 160.3 495.2Z"/></g><g class="b"><path d="M169.3 496.8q9.3 4.9 18 7"/><path d="M169.7 495.9q21.4 8.1 42.7 9.4"/><path d="M169.8 495.5q33.9 11 67.9 10.4"/><path d="M157 490.3q-14.6-6.4-28.9-8.4"/><path d="M158.1 488.7q-3.3-2.6-5.5-3.9"/></g><g class="bx"><path d="M167.3 487.7Q167.4 487.5 166.7 488.7M161.6 492.2L166.7 488.7 166.4 494.9Z"/></g><g class="b"><path d="M170.1 491.9q10.2-2.5 18.1-6.7"/><path d="M170.2 493.1q22.9-1.4 42.8-8.9"/><path d="M170.2 493.5q35.6 .7 68-9.8"/><path d="M158.8 488q-14.4-16.6-31.8-27.3"/><path d="M161.3 486.7q-4.5-13.2-11.4-23.4"/><path d="M165.7 486.8q3.7-11.5 4.3-22"/><path d="M168.7 488.9q13.6-11.6 22.4-25.3"/><path d="M169.7 490.7q25.4-11.1 45-28.6"/><path d="M170 491.7q37.9-9.7 69.2-30.5"/><path d="M160.3 487q-13.7-28.1-34.5-49.3"/><path d="M162.5 486.4q-3.4-25.4-13.7-47.1"/><path d="M165.3 486.7q6.4-23.6 5.5-46.5"/><path d="M167.5 487.8q17-22.6 25.5-48"/><path d="M168.9 489.2q28.4-21.8 47.4-50.3"/><path d="M161.3 486.6q-12.3-40.2-36.5-72.7"/><path d="M163.1 486.4q-1.6-37.8-14.9-71.4"/><path d="M165.1 486.6q9.1-35.8 6-71"/><path d="M166.9 487.4q20-34.4 27.2-71.9"/><path d="M162 486.5q-10.6-52.5-37.8-96.8"/><path d="M163.4 486.4q.6-50.1-15.5-95.9"/></g><g class="c"><path d="M249.2 500.1q-6 35.6-.3 69.7"/><path d="M251.7 486.5q6-35.6 .2-69.7"/><path d="M243.6 492q-36.7-6.2-72-.2"/><path d="M257.3 494.6q36.7 6.2 71.9 .2"/><path d="M244.6 497.1q-45.3 30.8-76.4 74.1"/><path d="M256.2 489.5q45.4-30.8 76.5-74.1"/><path d="M246.4 487.6q-32-44.5-76.1-74.4"/><path d="M254.4 499q32 44.5 76.1 74.4"/><path d="M250.4 416.9C289.6 416.9 289.6 493.3 250.4 493.3 211.2 493.3 211.2 416.9 248.9 416.9"/></g><g class="b"><path d="M247 499.4q-18.8 34.5-24.8 71.7"/><path d="M248.8 500.1q-7.8 36-3.7 71"/><path d="M250.8 500.2q2.8 38 17.2 71.6"/><path d="M244.2 496.5q-39.2 20.6-68.2 52.1"/><path d="M244.9 497.6q-27.1 21.8-44.9 50"/><path d="M246.4 498.9q-15.8 22.8-23.2 47.8"/><path d="M248.7 500q-5.3 23.8-3.4 46.4"/><path d="M251.5 500.2q4.5 25.6 15.9 47.2"/><path d="M253.5 499.5q15 28.5 37.1 49.6"/><path d="M254.8 498.7q26.1 31.6 60 51.9"/><path d="M243.5 493.9q-61.8 6.1-116.2 32.6"/><path d="M243.6 494.4q-49.2 8-91.2 31.6"/><path d="M243.7 495q-36.5 9.9-66.4 30.4"/><path d="M244.1 496.1q-24.1 11.2-42.4 28.3"/><path d="M245.2 497.9q-12.3 11.7-20.1 24.9"/><path d="M248.5 500q-2.8 11.5-2.6 21.8"/><path d="M252.8 499.8q5.5 13.5 13.4 23.8"/><path d="M255 498.5q15.7 17 34.4 27.7"/><path d="M255.9 497.5q27.2 20.3 58.1 30.3"/><path d="M243.5 492.7q-59.5-5-115.6 10.6"/><path d="M243.5 492.8q-46.9-2.6-90.4 10.3"/><path d="M243.5 493.1q-34.2-.4-65.2 9.8"/><path d="M243.5 493.6q-21.5 1.6-40 8.8"/><path d="M243.7 495q-8.8 2.5-15.5 6.2"/></g><g class="bx"><path d="M247.6 499.6Q246.6 502.5 246.4 504.1M249.9 498.9L246.4 504.1 244.4 498.2Z"/></g><g class="b"><path d="M255.9 497.6q4.3 3.1 7.8 4.7"/><path d="M256.7 496.2q16 6.8 31.7 8.6"/><path d="M257 495.7q28.2 9.7 56.6 10"/><path d="M257 495.4q40.8 12.5 81.9 10.7"/><path d="M243.8 491.4q-57.6-16-115.6-11.2"/><path d="M243.8 491.2q-45-13.3-90.3-10.8"/><path d="M243.9 491q-32.5-10.6-65.1-10.2"/><path d="M244 490.6q-20-7.8-39.9-9.2"/><path d="M244.5 489.7q-8-4.5-15.4-6.6"/></g><g class="bx"><path d="M248.8 486.6Q247.8 483.7 247 482.3M247.4 488.5L247 482.3 252.2 485.7Z"/></g><g class="b"><path d="M256.9 490.7q4.8-2.3 7.9-4.5"/><path d="M257.3 492.7q17.3-2 31.8-8.2"/><path d="M257.4 493.4q29.9-.3 56.7-9.5"/><path d="M257.4 493.7q42.6 1.9 81.9-10.1"/><path d="M244.2 490.2q-55.8-27.2-116-33.1"/><path d="M244.4 489.8q-43.4-24.3-91-32.1"/><path d="M244.8 489.3q-31.3-21.3-66.3-30.8"/><path d="M245.4 488.5q-19.4-18.1-42-28.7"/><path d="M247.1 487.2q-8.7-14.6-19.9-25.2"/><path d="M250.8 486.4q.1-11.9-2.3-21.8"/><path d="M254.8 487.9q8.9-11.5 13.7-23.6"/><path d="M256.5 490q20.1-11.5 34.7-27.3"/><path d="M257.1 491.3q32.3-10.4 58.3-29.8"/><path d="M245.8 488.1q-30-32.6-67.9-52.5"/><path d="M246.8 487.4q-18.6-29.5-44.5-50.4"/><path d="M248.6 486.6q-7.9-26.5-22.7-48"/><path d="M251.2 486.4q2.1-24.2-3-46.4"/><path d="M253.8 487.2q12.2-23 16.4-47.1"/><path d="M255.5 488.6q23.3-22.2 37.5-49.3"/><path d="M256.4 489.8q35.2-21.1 60.4-51.5"/><path d="M249.4 486.4q-6.3-38.7-24.3-71.9"/><path d="M251.3 486.4q4.4-36.6-3.2-71"/><path d="M253.3 487q15.1-35 17.7-71.4"/></g><g class="c"><path d="M336.3 500.1q-6 35.6-.2 69.7"/><path d="M338.8 486.5q6-35.6 .3-69.7"/><path d="M330.7 492q-36.7-6.2-71.9-.2"/><path d="M344.4 494.6q36.7 6.2 72 .2"/><path d="M331.8 497.1q-45.4 30.8-76.5 74.1"/><path d="M343.4 489.5q45.3-30.8 76.4-74.1"/><path d="M333.6 487.6q-32-44.5-76.1-74.4"/><path d="M341.6 499q32 44.5 76.1 74.4"/><path d="M330.7 492q-36.7-6.2-71.9-.2"/></g><g class="b"><path d="M335.1 499.8q-12.6 35.3-13 71.2"/><path d="M337.1 500.2q-2 37.1 7.9 71.2"/><path d="M339 500.1q8.7 39.3 29.1 72.3"/><path d="M331.7 497q-32.5 21.4-55.1 51.1"/><path d="M332.8 498.3q-20.7 22.4-32.6 48.8"/><path d="M334.7 499.6q-9.8 23.2-12 46.8"/><path d="M337.5 500.3q0 24.6 7.2 46.6"/><path d="M339.9 499.9q10.2 27.1 27.4 48.5"/><path d="M341.5 499.1q21 30.2 49.6 50.9"/><path d="M331 495.6q-29.5 10.7-52.9 29.3"/><path d="M331.7 497q-17.4 11.6-29.6 26.6"/><path d="M333.9 499.2q-6.7 11.5-9.8 22.8"/><path d="M338.3 500.2q1.6 12.3 5.7 22.3"/><path d="M341.4 499.1q10.9 15.4 24.5 26.1"/><path d="M342.8 497.9q21.9 18.9 47.3 29.3"/><path d="M343.3 497.2q34 22 71.7 31.1"/><path d="M330.6 493q-39.8-1.4-76.3 10"/><path d="M330.6 493.4q-27.1 .7-51.1 9.2"/><path d="M330.7 494.2q-14.4 2.3-26.2 7.7"/></g><g class="bx"><path d="M331.6 496.9Q329.2 498.6 328.1 499.6M334.1 497.9L328.1 499.6 330.4 493.8Z"/><path d="M341.3 499.2Q341.9 500 341.5 499.5M340.1 493.5L341.5 499.5 335.8 497.1Z"/></g><g class="b"><path d="M343.7 496.6q10.6 5.3 20.7 7.5"/><path d="M344 495.9q22.8 8.4 45.5 9.5"/><path d="M344.2 495.5q35.2 11.3 70.6 10.4"/><path d="M331 491.1q-38-11.8-76.3-10.5"/><path d="M331.1 490.8q-25.6-9.1-51.1-9.7"/><path d="M331.4 490.2q-13.3-6-26.2-8.1"/></g><g class="bx"><path d="M332.7 488.3Q330.5 486.3 329.3 485.5M332.3 490.9L329.3 485.5 335.5 486.4Z"/><path d="M342.5 488.4Q343.1 487.6 342.8 488.1M337.2 490.8L342.8 488.1 341.6 494.2Z"/></g><g class="b"><path d="M344.4 492.1q11.6-2.5 20.8-7.1"/><path d="M344.5 493.1q24.3-1.1 45.6-9"/><path d="M344.5 493.6q37 .9 70.8-9.9"/><path d="M332.2 488.9q-24.6-19.6-52.7-29.8"/><path d="M333.3 487.8q-13.2-16.2-29.3-26.9"/><path d="M336 486.5q-3.5-12.8-9.4-22.9"/><path d="M340.4 487q4.7-11.5 6.1-22.2"/><path d="M343.2 489.2q14.8-11.7 24.8-25.8"/><path d="M344.1 490.8q26.7-11 47.6-28.8"/><path d="M344.3 491.8q39.3-9.6 71.9-30.7"/><path d="M333.4 487.7q-23.6-30.9-54.7-51.4"/><path d="M334.8 486.9q-12.5-27.8-32.1-49"/><path d="M337.1 486.4q-2.3-25.1-11.5-46.9"/><path d="M339.9 486.7q7.6-23.4 7.6-46.5"/><path d="M342 488q18.2-22.6 27.9-48.3"/><path d="M343.3 489.3q29.8-21.6 49.9-50.5"/><path d="M337.6 486.4q-.4-37.5-12.5-71.3"/><path d="M339.6 486.7q10.3-35.7 8.4-71.1"/><path d="M341.3 487.5q21.3-34.3 29.7-72.1"/></g><g class="c"><path d="M423.5 500.1q-6 35.6-.3 69.7"/><path d="M426 486.5q6-35.6 .2-69.7"/><path d="M417.9 492q-36.7-6.2-72-.2"/><path d="M431.6 494.6q36.7 6.2 71.9 .2"/><path d="M418.9 497.1q-45.3 30.8-76.4 74.1"/><path d="M430.5 489.5q45.4-30.8 76.5-74.1"/><path d="M420.7 487.6q-32-44.5-76.1-74.4"/><path d="M428.7 499q32 44.5 76.1 74.4"/><path d="M431.6 494.6q36.7 6.2 71.9 .2"/></g><g class="b"><path d="M421.5 499.5q-17.5 34.6-22.5 71.6"/><path d="M425.3 500.2q4 38.3 19.6 71.7"/><path d="M419.4 497.7q-25.9 22-42.4 49.8"/><path d="M420.9 499.1q-14.6 22.8-20.9 47.5"/><path d="M423.4 500.1q-4.3 23.9-1.3 46.4"/><path d="M426.1 500.1q5.6 25.9 18.1 47.5"/><path d="M428 499.4q16.1 28.8 39.5 49.9"/><path d="M429.2 498.6q27.4 32 62.6 52.1"/><path d="M418 495.1q-35.1 10.1-63.7 30.2"/><path d="M418.4 496.3q-22.7 11.3-39.7 27.9"/><path d="M419.8 498.2q-11.2 11.6-18 24.5"/><path d="M423.3 500.1q-1.9 11.6-1 21.7"/><path d="M427.5 499.7q6.4 13.8 15.4 24.3"/><path d="M429.5 498.4q16.9 17.3 36.9 28"/><path d="M430.3 497.5q28.5 20.6 60.8 30.4"/><path d="M417.8 493.1q-32.8-.1-62.4 9.7"/><path d="M417.8 493.7q-20 1.7-37.3 8.6"/><path d="M418.1 495.2q-7.5 2.5-13 5.8"/></g><g class="bx"><path d="M423.3 500.1Q423.1 502.8 423.2 504.1M425.5 498.3L423.2 504.1 420 498.8Z"/></g><g class="b"><path d="M430.4 497.4q5.5 3.5 10.2 5.4"/><path d="M431.1 496.1q17.3 7.1 34.4 8.9"/><path d="M431.3 495.6q29.6 10.1 59.4 10.1"/><path d="M418.2 491q-31.1-10.4-62.3-10.2"/><path d="M418.3 490.6q-18.6-7.5-37.1-9.1"/><path d="M418.9 489.5q-6.7-4.1-12.7-6.1"/></g><g class="bx"><path d="M424.5 486.4Q424.2 483.7 423.8 482.5M422.9 488.6L423.8 482.5 428.1 486.9Z"/></g><g class="b"><path d="M431.3 491.1q6.1-2.5 10.4-5.2"/><path d="M431.7 492.8q18.6-1.9 34.4-8.4"/><path d="M431.7 493.4q31.3 0 59.5-9.6"/><path d="M431.7 493.7q44 2.2 84.7-10.2"/><path d="M419.1 489.2q-29.9-21-63.5-30.6"/><path d="M419.9 488.4q-18.2-17.8-39.5-28.4"/><path d="M421.7 487.1q-7.6-14.3-17.7-24.8"/><path d="M425.6 486.4q1-11.7-.7-21.7"/><path d="M429.4 488.2q10-11.6 15.8-24.1"/><path d="M430.9 490.2q21.4-11.4 37.2-27.7"/><path d="M431.4 491.4q33.7-10.2 61-30"/><path d="M420.2 488.1q-28.8-32.3-65.3-52.4"/><path d="M421.3 487.3q-17.4-29.2-42-50.2"/><path d="M423.1 486.5q-6.7-26.2-20.4-47.7"/><path d="M425.8 486.4q3.2-24-.8-46.3"/><path d="M428.3 487.4q13.4-22.9 18.7-47.3"/><path d="M430 488.7q24.5-22 39.9-49.5"/><path d="M430.8 489.9q36.5-20.9 63-51.7"/><path d="M423.9 486.4q-5.1-38.5-22-71.8"/><path d="M425.9 486.5q5.5-36.4-.9-71.1"/><path d="M427.8 487.1q16.3-34.8 20.1-71.5"/></g><g class="c"><path d="M510.6 500.1q-6 35.6-.2 69.7"/><path d="M513.1 486.5q6-35.6 .3-69.7"/><path d="M505 492q-36.7-6.2-71.9-.2"/><path d="M518.7 494.6q36.7 6.2 72 .2"/><path d="M506.1 497.1q-45.4 30.8-76.5 74.1"/><path d="M517.7 489.5q45.3-30.8 76.4-74.1"/><path d="M507.9 487.6q-32-44.5-76.1-74.4"/><path d="M515.9 499q32 44.5 76.1 74.4"/><path d="M511.9 416.9C551.1 416.9 551.1 493.3 511.9 493.3 472.7 493.3 472.7 416.9 510.3 416.9"/></g><g class="b"><path d="M508 499q-22.6 34.1-32.1 72.3"/><path d="M509.6 499.9q-11.4 35.4-10.7 71.1"/><path d="M511.6 500.2q-.8 37.3 10.2 71.3"/><path d="M513.5 500.1q9.9 39.6 31.6 72.4"/><path d="M506.1 497.2q-31.1 21.5-52.5 50.8"/><path d="M507.2 498.5q-19.4 22.4-30.2 48.5"/><path d="M509.3 499.8q-8.7 23.3-9.8 46.6"/><path d="M512.1 500.2q1.1 24.9 9.3 46.8"/><path d="M514.4 499.8q11.3 27.4 29.8 48.7"/><path d="M515.9 499q22.3 30.5 52.2 51.1"/><path d="M505.1 494.8q-40.7 9.3-74.7 30.8"/><path d="M505.3 495.7q-28.1 10.8-50.2 29.1"/><path d="M506.1 497.2q-16.1 11.6-27.2 26.2"/><path d="M508.6 499.4q-5.7 11.5-7.9 22.5"/><path d="M513 500.2q2.6 12.5 7.5 22.5"/><path d="M515.9 498.9q12.1 15.8 26.9 26.5"/><path d="M517.2 497.8q23.2 19.2 50 29.5"/><path d="M517.7 497.1q35.2 22.4 74.4 31.3"/><path d="M504.9 493q-38.4-1.1-73.5 10"/><path d="M504.9 493.4q-25.7 .9-48.3 9.2"/><path d="M505 494.3q-13 2.4-23.5 7.5"/></g><g class="bx"><path d="M506.3 497.5Q504.9 498.8 504.6 499.1M510.5 496.9L504.6 499.1 506.4 493.1Z"/><path d="M516.2 498.7Q517.6 500.1 517.8 500.4M515.5 494.6L517.8 500.4 511.8 498.8Z"/></g><g class="b"><path d="M518 496.5q12 5.7 23.4 7.8"/><path d="M518.4 495.8q24.1 8.8 48.2 9.7"/><path d="M518.5 495.5q36.6 11.6 73.4 10.5"/><path d="M505.3 491.1q-36.6-11.6-73.5-10.5"/><path d="M505.4 490.8q-24.2-8.8-48.3-9.6"/><path d="M505.7 490.1q-11.9-5.7-23.4-7.8"/></g><g class="bx"><path d="M507.5 487.9Q506.2 486.5 505.9 486.2M508.2 492L505.9 486.2 511.9 487.9Z"/><path d="M517.4 489.1Q518.8 487.8 519.1 487.5M513.3 489.7L519.1 487.5 517.3 493.5Z"/></g><g class="b"><path d="M518.7 492.3q13-2.4 23.6-7.4"/><path d="M518.8 493.2q25.7-.9 48.4-9.2"/><path d="M518.8 493.6q38.4 1.2 73.6-10"/><path d="M506.1 489.5q-35.3-22.4-74.5-31.3"/><path d="M506.6 488.8q-23.3-19.2-50-29.5"/><path d="M507.8 487.7q-12-15.8-26.9-26.5"/><path d="M510.7 486.5q-2.5-12.6-7.5-22.6"/><path d="M515.2 487.2q5.6-11.5 7.9-22.5"/><path d="M517.6 489.4q16.1-11.6 27.2-26.2"/><path d="M518.4 490.9q28.2-10.8 50.3-29"/><path d="M518.7 491.8q40.7-9.3 74.6-30.8"/><path d="M507.9 487.6q-22.4-30.5-52.2-51.1"/><path d="M509.3 486.8q-11.3-27.4-29.7-48.7"/><path d="M511.7 486.4q-1.2-24.9-9.4-46.8"/><path d="M514.4 486.9q8.8-23.4 9.9-46.7"/><path d="M516.5 488.1q19.5-22.4 30.2-48.5"/><path d="M517.6 489.4q31.2-21.5 52.6-50.8"/><path d="M510.3 486.5q-9.9-39.6-31.6-72.4"/><path d="M512.1 486.4q.8-37.3-10.2-71.3"/><path d="M514.1 486.7q11.5-35.4 10.7-71.1"/><path d="M515.8 487.6q22.5-34.1 32.1-72.2"/></g><g class="c"><path d="M597.8 500.1q-6 35.6-.3 69.7"/><path d="M600.3 486.5q6-35.6 .2-69.7"/><path d="M592.2 492q-36.8-6.2-72-.2"/><path d="M605.8 494.6q36.8 6.2 72 .2"/><path d="M593.2 497.1q-45.3 30.8-76.4 74.1"/><path d="M604.8 489.5q45.4-30.8 76.5-74.1"/><path d="M595 487.6q-32-44.5-76.1-74.4"/><path d="M603 499q32 44.5 76.1 74.4"/><path d="M592.2 492q-36.8-6.2-72-.2"/></g><g class="b"><path d="M596 499.5q-16.3 34.9-20.1 71.6"/><path d="M599.8 500.2q5.2 38.5 22 71.8"/><path d="M593 496.7q-36.6 20.9-63 51.7"/><path d="M593.8 497.9q-24.6 22.1-39.9 49.5"/><path d="M595.4 499.2q-13.3 22.9-18.6 47.4"/><path d="M598 500.2q-3.2 24 .8 46.4"/><path d="M600.6 500.1q6.7 26.2 20.5 47.7"/><path d="M602.5 499.3q17.3 29.2 42 50.2"/><path d="M592.3 495.2q-33.7 10.3-61 30"/><path d="M592.8 496.4q-21.3 11.4-37.2 27.7"/><path d="M594.3 498.4q-9.9 11.6-15.8 24.1"/><path d="M598.2 500.2q-1.1 11.7 .6 21.7"/><path d="M602.1 499.5q7.5 14.3 17.6 24.8"/><path d="M603.9 498.3q18.1 17.7 39.5 28.3"/><path d="M604.6 497.4q29.9 21 63.5 30.6"/><path d="M592.1 492.9q-44.1-2.2-84.8 10.2"/><path d="M592.1 493.2q-31.4 0-59.6 9.6"/><path d="M592.1 493.8q-18.6 1.9-34.5 8.4"/><path d="M592.4 495.5q-6.1 2.5-10.3 5.2"/></g><g class="bx"><path d="M599.2 500.2Q599.6 503 600 504.1M600.9 498L600 504.1 595.6 499.7Z"/></g><g class="b"><path d="M604.8 497.1q6.8 4.1 12.8 6.1"/><path d="M605.4 496q18.7 7.5 37.2 9.1"/><path d="M605.6 495.6q31 10.4 62.2 10.2"/><path d="M592.4 491.2q-42.2-12.8-84.7-10.7"/><path d="M592.5 491q-29.7-10.1-59.5-10.1"/><path d="M592.7 490.5q-17.3-7.1-34.4-8.8"/><path d="M593.4 489.2q-5.6-3.5-10.3-5.4"/></g><g class="bx"><path d="M600.4 486.5Q600.7 483.8 600.6 482.5M598.3 488.3L600.6 482.5 603.8 487.8Z"/></g><g class="b"><path d="M605.7 491.4q7.5-2.5 12.9-5.8"/><path d="M606 492.9q20-1.7 37.2-8.6"/><path d="M606 493.5q32.7 .1 62.3-9.7"/><path d="M593.5 489.1q-28.6-20.6-60.8-30.4"/><path d="M594.3 488.2q-16.9-17.3-36.9-28"/><path d="M596.3 486.9q-6.5-13.8-15.5-24.2"/><path d="M600.4 486.5q1.9-11.6 1-21.7"/><path d="M604 488.4q11.1-11.6 17.9-24.4"/><path d="M605.3 490.3q22.7-11.3 39.8-27.9"/><path d="M605.7 491.5q35.1-10.1 63.7-30.2"/><path d="M594.6 488q-27.5-32-62.7-52.1"/><path d="M595.7 487.2q-16.1-28.8-39.5-49.9"/><path d="M597.7 486.5q-5.6-25.9-18.2-47.5"/><path d="M600.4 486.5q4.3-23.9 1.3-46.4"/><path d="M602.9 487.5q14.5-22.8 20.9-47.5"/><path d="M604.4 488.9q25.8-22 42.4-49.8"/><path d="M598.4 486.4q-3.9-38.3-19.6-71.7"/><path d="M600.4 486.5q6.7-36.2 1.4-71"/><path d="M602.2 487.2q17.6-34.7 22.5-71.7"/></g><g class="c"><path d="M684.9 500.1q-6 35.6-.2 69.7"/><path d="M687.4 486.5q6-35.6 .3-69.7"/><path d="M679.3 492q-36.7-6.2-71.9-.2"/><path d="M693 494.6q36.7 6.2 72 .2"/><path d="M680.4 497.1q-45.4 30.8-76.5 74.1"/><path d="M692 489.5q45.3-30.8 76.4-74.1"/><path d="M682.2 487.6q-32-44.5-76.1-74.4"/><path d="M690.2 499q32 44.5 76.1 74.4"/><path d="M693 494.6q36.7 6.2 72 .2"/></g><g class="b"><path d="M682.4 499.2q-21.2 34.2-29.6 72"/><path d="M684.1 499.9q-10.2 35.7-8.3 71.1"/><path d="M686.1 500.3q.4 37.4 12.6 71.3"/><path d="M680.5 497.3q-29.8 21.6-50 50.6"/><path d="M681.7 498.6q-18.2 22.6-27.8 48.3"/><path d="M683.9 499.9q-7.6 23.4-7.7 46.5"/><path d="M686.7 500.2q2.2 25.1 11.5 46.9"/><path d="M688.9 499.7q12.5 27.8 32.2 49"/><path d="M690.3 498.9q23.6 30.9 54.8 51.4"/><path d="M679.4 494.8q-39.3 9.6-71.9 30.7"/><path d="M679.7 495.8q-26.8 11-47.6 28.8"/><path d="M680.6 497.4q-14.8 11.7-24.8 25.8"/><path d="M683.3 499.6q-4.7 11.5-6.1 22.2"/><path d="M687.8 500.1q3.5 12.8 9.4 22.9"/><path d="M690.4 498.8q13.3 16.2 29.4 26.9"/><path d="M691.5 497.7q24.6 19.6 52.7 29.8"/><path d="M679.2 493q-37-.9-70.7 9.9"/><path d="M679.2 493.5q-24.2 1.1-45.6 9"/><path d="M679.3 494.5q-11.6 2.5-20.8 7.1"/></g><g class="bx"><path d="M681.3 498.2Q680.6 499 681 498.5M686.5 495.8L681 498.5 682.1 492.4Z"/><path d="M691 498.3Q693.2 500.3 694.4 501.1M691.5 495.7L694.4 501.1 688.3 500.2Z"/></g><g class="b"><path d="M692.4 496.4q13.3 6 26.1 8.1"/><path d="M692.7 495.8q25.5 9.1 51 9.7"/><path d="M692.8 495.5q38 11.8 76.3 10.5"/><path d="M679.6 491.1q-35.2-11.3-70.7-10.4"/><path d="M679.7 490.7q-22.8-8.4-45.5-9.5"/><path d="M680.1 490q-10.6-5.3-20.7-7.5"/></g><g class="bx"><path d="M682.5 487.4Q681.9 486.6 682.2 487.1M683.7 493.1L682.2 487.1 687.9 489.6Z"/><path d="M692.1 489.7Q694.6 488 695.7 487M689.7 488.7L695.7 487 693.4 492.8Z"/></g><g class="b"><path d="M693.1 492.4q14.4-2.3 26.2-7.7"/><path d="M693.1 493.3q27.1-.8 51.2-9.3"/><path d="M693.1 493.6q39.8 1.4 76.4-10"/><path d="M680.4 489.4q-33.9-22-71.7-31.1"/><path d="M681 488.7q-22-18.9-47.4-29.2"/><path d="M682.3 487.5q-10.9-15.4-24.5-26"/><path d="M685.5 486.4q-1.6-12.3-5.7-22.3"/><path d="M689.9 487.4q6.6-11.5 9.7-22.8"/><path d="M692 489.6q17.4-11.6 29.7-26.6"/><path d="M692.7 491.1q29.6-10.7 53-29.4"/><path d="M682.3 487.6q-21.1-30.2-49.6-51"/><path d="M683.9 486.8q-10.2-27.2-27.4-48.5"/><path d="M686.3 486.4q-.1-24.7-7.2-46.6"/><path d="M689 487q9.9-23.2 12-46.8"/><path d="M691 488.3q20.7-22.4 32.6-48.8"/><path d="M692 489.6q32.5-21.4 55.2-51.1"/><path d="M684.8 486.5q-8.7-39.3-29.2-72.2"/><path d="M686.6 486.4q2-37-7.8-71.2"/><path d="M688.6 486.8q12.7-35.3 13.1-71.2"/></g><g class="c"><path d="M772.1 500.1q-6 35.6-.3 69.7"/><path d="M774.6 486.5q5.9-35.6 .2-69.7"/><path d="M766.5 492q-36.8-6.2-72-.2"/><path d="M780.1 494.6q36.8 6.2 72 .2"/><path d="M767.5 497.1q-45.3 30.8-76.4 74.1"/><path d="M779.1 489.5q45.4-30.8 76.5-74.1"/><path d="M769.3 487.6q-32-44.5-76.1-74.4"/><path d="M777.3 499q32 44.5 76.1 74.4"/></g><g class="cx"><path d="M773.3 493.3Q773.3 493.3 771.8 493.3M766.2 490.5L771.8 493.3 766.2 496.1Z"/></g><g class="b"><path d="M770.5 499.6q-15.1 35-17.8 71.4"/><path d="M772.4 500.2q-4.3 36.6 3.2 71"/><path d="M774.3 500.2q6.4 38.8 24.4 71.9"/><path d="M767.3 496.8q-35.2 21.1-60.3 51.5"/><path d="M768.2 498q-23.2 22.2-37.4 49.3"/><path d="M769.9 499.4q-12.1 23-16.3 47.1"/><path d="M772.6 500.2q-2.1 24.2 2.9 46.4"/><path d="M775.2 500q7.8 26.5 22.7 48"/><path d="M776.9 499.2q18.6 29.5 44.6 50.4"/><path d="M778 498.5q30 32.6 67.9 52.5"/><path d="M766.7 495.3q-32.3 10.4-58.3 29.8"/><path d="M767.2 496.6q-20 11.5-34.6 27.3"/><path d="M768.9 498.7q-8.8 11.5-13.7 23.6"/><path d="M773 500.2q-.2 11.9 2.3 21.9"/><path d="M776.7 499.4q8.6 14.6 19.8 25.2"/><path d="M778.3 498.1q19.4 18.1 42.1 28.7"/><path d="M779 497.3q31.2 21.3 66.2 30.8"/><path d="M779.3 496.8q43.5 24.3 91 32.2"/><path d="M779.5 496.4q55.8 27.2 116.1 33.1"/><path d="M766.4 492.9q-42.6-1.9-82 10.1"/><path d="M766.4 493.2q-29.9 .3-56.8 9.5"/><path d="M766.4 493.9q-17.2 2.1-31.7 8.2"/><path d="M766.9 495.9q-4.9 2.3-8 4.5"/></g><g class="bx"><path d="M774.9 500.1Q776 502.9 776.8 504.3M776.4 498.1L776.8 504.3 771.6 500.9Z"/></g><g class="b"><path d="M779.2 496.9q8.1 4.5 15.4 6.6"/><path d="M779.7 496q20.1 7.8 40 9.2"/><path d="M779.9 495.6q32.4 10.6 65.1 10.2"/><path d="M780 495.4q44.9 13.3 90.3 10.8"/><path d="M780 495.2q57.6 16 115.6 11.2"/><path d="M766.7 491.2q-40.8-12.5-81.9-10.7"/><path d="M766.8 490.9q-28.3-9.7-56.7-10"/><path d="M767 490.4q-15.9-6.8-31.6-8.6"/><path d="M767.9 489q-4.4-3.1-7.8-4.7"/></g><g class="bx"><path d="M776.2 487Q777.1 484.1 777.3 482.5M773.8 487.7L777.3 482.5 779.4 488.4Z"/></g><g class="b"><path d="M780.1 491.7q8.8-2.6 15.5-6.3"/><path d="M780.3 493q21.4-1.5 40-8.8"/><path d="M780.3 493.5q34.1 .4 65.1-9.8"/><path d="M780.2 493.8q46.9 2.6 90.4-10.3"/><path d="M780.2 494q59.6 4.9 115.7-10.7"/><path d="M767.8 489.1q-27.2-20.3-58-30.2"/><path d="M768.7 488.1q-15.6-17-34.3-27.7"/><path d="M770.9 486.8q-5.4-13.5-13.3-23.8"/><path d="M775.2 486.6q2.8-11.5 2.7-21.8"/><path d="M778.5 488.7q12.4-11.6 20.2-24.9"/><path d="M779.7 490.5q24-11.2 42.3-28.2"/><path d="M780.1 491.6q36.4-9.9 66.4-30.4"/><path d="M780.2 492.3q49.1-8.1 91.2-31.7"/><path d="M780.2 492.7q61.8-6 116.2-32.6"/><path d="M769 487.9q-26.2-31.6-60-51.9"/><path d="M770.2 487.1q-14.9-28.5-37-49.6"/><path d="M772.3 486.4q-4.5-25.6-16-47.2"/><path d="M775 486.6q5.4-23.7 3.4-46.4"/><path d="M777.4 487.7q15.7-22.8 23.2-47.8"/><path d="M778.8 489q27.2-21.8 44.9-50"/><path d="M779.5 490.2q39.3-20.7 68.3-52.2"/><path d="M772.9 486.4q-2.7-38-17.2-71.5"/><path d="M774.9 486.5q7.9-35.9 3.7-71"/><path d="M776.7 487.3q18.8-34.6 24.9-71.8"/></g><g class="c"><path d="M859.2 500.1q-6 35.6-.2 69.7"/><path d="M861.7 486.5q6-35.6 .3-69.7"/><path d="M853.6 492q-36.7-6.2-71.9-.2"/><path d="M854.7 497.1q-45.4 30.8-76.5 74.1"/><path d="M856.5 487.6q-32-44.5-76.1-74.4"/><path d="M853.6 492q-36.7-6.2-71.9-.2"/></g><g class="b"><path d="M860.3 500.2q-.5 50.1 15.6 96"/><path d="M861.8 500.1q10.6 52.5 37.7 96.8"/><path d="M856.9 499.3q-20 34.3-27.3 71.9"/><path d="M858.7 500q-9.1 35.8-6.1 71.1"/><path d="M860.7 500.2q1.5 37.8 14.8 71.5"/><path d="M862.4 500q12.4 40.2 36.5 72.7"/><path d="M854.9 497.4q-28.5 21.8-47.5 50.3"/><path d="M856.2 498.8q-17 22.6-25.5 48"/><path d="M858.5 500q-6.5 23.5-5.6 46.4"/><path d="M861.2 500.2q3.4 25.4 13.8 47.1"/><path d="M863.4 499.6q13.7 28.1 34.6 49.3"/><path d="M853.7 494.9q-37.9 9.7-69.1 30.6"/><path d="M854.1 496q-25.5 11.1-45 28.5"/><path d="M855.1 497.7q-13.6 11.6-22.5 25.3"/><path d="M858.1 499.8q-3.7 11.5-4.4 22"/><path d="M862.5 500q4.4 13.1 11.3 23.3"/><path d="M864.9 498.6q14.4 16.6 31.8 27.3"/><path d="M853.5 493.1q-35.5-.7-67.9 9.8"/><path d="M853.5 493.6q-22.8 1.3-42.8 8.9"/><path d="M853.7 494.7q-10.2 2.6-18.2 6.7"/></g><g class="bx"><path d="M856.4 499Q856.3 499.1 857 497.9M862.2 494.4L857 497.9 857.3 491.7Z"/></g><g class="b"><path d="M865.6 497.9q3.3 2.6 5.6 3.9"/><path d="M866.7 496.3q14.6 6.4 28.9 8.4"/><path d="M853.9 491.1q-33.8-11-67.9-10.4"/><path d="M854 490.7q-21.4-8.1-42.7-9.4"/><path d="M854.5 489.8q-9.4-4.9-18.1-7"/></g><g class="bx"><path d="M857.7 487Q857.6 486.8 858.3 488M858.6 494.2L858.3 488 863.4 491.4Z"/></g><g class="b"><path d="M866.7 490.2q3.6-2 5.6-3.6"/><path d="M867.4 492.6q15.8-2.2 29-8"/><path d="M854.7 489.4q-32.5-21.7-68.9-31"/><path d="M855.4 488.6q-20.7-18.5-44.7-29"/><path d="M856.9 487.4q-9.8-15-22.2-25.7"/><path d="M860.3 486.4q-.8-12.1-4-22"/><path d="M864.5 487.7q7.8-11.5 11.7-23.2"/><path d="M866.5 489.8q18.7-11.5 32.1-26.9"/><path d="M856.7 487.5q-19.8-29.9-47-50.7"/><path d="M858.4 486.7q-9-26.8-25.1-48.3"/><path d="M860.9 486.4q1-24.4-5.1-46.5"/><path d="M863.6 487.1q11-23.1 14.2-46.9"/><path d="M865.4 488.4q22-22.2 35-49"/><path d="M859.3 486.5q-7.6-39.1-26.8-72.1"/><path d="M861.2 486.4q3.1-36.8-5.6-71.1"/><path d="M863.1 486.9q13.9-35.1 15.4-71.3"/><path d="M864.7 487.8q25-33.8 36.9-72.6"/><path d="M862.8 486.8q16.6-47.3 16.1-95.8"/><path d="M864.2 487.4q27.9-45.6 38.2-96.6"/></g><g class="c"><path d="M162 415.3q-6 35.6-.2 69.6"/><path d="M164.5 401.6q6-35.6 .3-69.6"/><path d="M170.1 409.7q36.8 6.2 72 .3"/><path d="M169.1 404.6q45.3-30.8 76.4-74"/><path d="M167.3 414.1q32 44.6 76.1 74.5"/><path d="M167.3 414.1q32 44.6 76.1 74.5"/></g><g class="b"><path d="M159.8 414.5q-29.3 50.9-38.8 107.4"/><path d="M159.3 414.2q-26.4 39-37.6 83.2"/><path d="M160.8 414.9q-15.1 40.5-15.8 82.2"/><path d="M162.5 415.4q-4.2 42.3 5.7 82"/><path d="M158.7 413.7q-23.4 27.3-36 59.3"/><path d="M160.4 414.8q-12.3 28.4-14.8 57.7"/><path d="M162.7 415.4q-1.9 29.9 5.3 57.4"/><path d="M164.9 415.2q8.4 32.2 25.9 58.8"/><path d="M166.5 414.6q19.3 35.1 48 60.8"/><path d="M157.8 412.7q-20.2 16.2-33.5 36.5"/><path d="M159.7 414.4q-9.2 16.6-13 33.6"/><path d="M163.1 415.4q.1 17.5 4.6 32.9"/><path d="M166.1 414.8q9.6 20.2 23.6 35.4"/><path d="M167.7 413.8q20.4 23.4 45.8 38.4"/><path d="M168.6 413q32 26.6 69.6 40.5"/><path d="M156.7 410.6q-17 6.2-30.3 15.9"/><path d="M158.2 413.2q-5.6 5.7-9 11.2"/><path d="M164.3 415.3q1.1 5.2 2.5 8.7"/><path d="M168.2 413.4q9.6 9 19.8 14.5"/><path d="M169.2 412.2q21 12.5 43.4 17.7"/><path d="M169.5 411.5q33.3 15.7 68.3 19.4"/><path d="M156.5 407.1q-14.9-2.5-28.4-1.1"/></g><g class="bx"><path d="M156.5 407.1Q154.2 406.8 153.5 406.8M159 409.7L153.5 406.8 159.1 404.2Z"/><path d="M170.1 407.2Q170.2 407.1 168.9 407.7M162.7 407.2L168.9 407.7 164.8 412.4Z"/></g><g class="b"><path d="M170.2 409.3q9.3 .6 17.1-.6"/><path d="M170.1 409.5q22.1 2.8 42.5-.8"/><path d="M170.1 409.6q34.8 5.2 67.8-.9"/><path d="M158 403.9q-14.5-11.8-30.4-18.4"/><path d="M160.2 402.2q-4.3-7.9-9.3-13.6"/><path d="M166.1 402.1q2.3-6.2 3.1-11.2"/><path d="M169.3 405.1q12-7.3 20.6-16.3"/><path d="M170 406.8q24.2-6.7 43.9-19.6"/><path d="M170.2 407.6q36.8-5 68.5-21.2"/><path d="M159.7 402.5q-14.1-22.9-33.4-39.3"/><path d="M162.1 401.6q-4-19.9-12.9-36.4"/><path d="M165.4 401.8q5.3-18.1 5.2-35.5"/><path d="M168 403.4q15.5-17.7 24.3-37.7"/><path d="M169.2 404.9q27.1-16.9 46.4-40.4"/><path d="M169.8 406q39.3-15.6 70.1-42.5"/><path d="M160.9 401.9q-13-34.8-35.7-62.2"/><path d="M162.9 401.5q-2.4-32.2-14.5-60.5"/><path d="M165.2 401.8q7.9-30.4 5.8-60.1"/><path d="M167.1 402.7q18.7-29.1 26.6-61.2"/><path d="M168.4 403.8q30.2-28 48.6-63"/><path d="M161.7 401.7q-11.4-47-37.2-86.1"/><path d="M163.3 401.5q-.4-44.6-15.3-85"/><path d="M165 401.7q10.5-42.6 6.3-84.7"/><path d="M162.2 401.6q-9.5-59.3-38.3-110.3"/></g><g class="c"><path d="M249.2 415.3q-6 35.6-.3 69.6"/><path d="M251.7 401.6q6-35.6 .2-69.6"/><path d="M243.6 407.2q-36.7-6.2-72-.3"/><path d="M257.3 409.7q36.7 6.2 71.9 .3"/><path d="M244.6 412.3q-45.3 30.8-76.4 74.1"/><path d="M256.2 404.6q45.4-30.8 76.5-74"/><path d="M246.4 402.8q-32-44.6-76.1-74.5"/><path d="M254.4 414.1q32 44.6 76.1 74.5"/><path d="M249.2 415.3q-6 35.6-.3 69.6"/></g><g class="b"><path d="M245.3 413.1q-28.5 26.9-45.9 60.3"/><path d="M246.7 414.3q-17.1 27.9-24 58.4"/><path d="M248.8 415.2q-6.5 29.2-3.6 57.4"/><path d="M251.1 415.4q3.8 31.1 16.6 58"/><path d="M253 414.9q14.4 33.8 38 59.9"/><path d="M243.7 410.1q-50.2 12.9-91.7 41.4"/><path d="M243.9 410.9q-37.7 14.6-67.2 39.9"/><path d="M244.5 412q-25.5 15.9-43.6 37.7"/><path d="M245.8 413.7q-13.9 16.4-21.7 34.8"/><path d="M248.7 415.2q-4 16.9-3.1 32.7"/><path d="M252.1 415.2q5.2 18.8 14.7 34.1"/><path d="M254.3 414.2q15.4 22 35.6 37.2"/><path d="M255.4 413.3q26.8 25.2 58.9 39.7"/><path d="M243.5 408.4q-60.5-.1-115.8 20.3"/><path d="M243.5 408.7q-47.8 2.1-90.7 19.7"/><path d="M243.5 409.2q-35.1 4.1-65.6 18.7"/><path d="M243.7 410q-22.5 5.7-41 17.1"/><path d="M244.4 411.8q-10.4 6.2-17.7 13.7"/><path d="M248.2 415.1q-1.2 4.7-1.6 8.1"/><path d="M254.2 414.3q5.2 7.2 10.7 12"/><path d="M256 412.6q15.8 11.1 32.7 16.6"/><path d="M256.5 411.8q27.8 14.3 57.2 18.8"/><path d="M243.6 407.1q-58.4-11.1-115.5-1.5"/><path d="M243.6 407.1q-45.8-8.6-90.2-1.4"/><path d="M243.6 407.1q-33.1-6.1-64.9-1.4"/><path d="M243.6 407.1q-20.5-3.6-39.6-1.2"/><path d="M243.6 407.1q-7.8-1.2-14.2-.8"/></g><g class="bx"><path d="M250.4 408.5Q248.5 407.4 247.8 407.3M252.9 410.7L247.8 407.3 253.6 405.2Z"/></g><g class="b"><path d="M257.4 408.9q3.6 .1 5.8-.2"/><path d="M257.3 409.4q16.4 1.9 31.2-.7"/><path d="M257.3 409.6q29.1 4.1 56.5-.9"/><path d="M244 405.9q-56.6-22.2-115.8-23.3"/><path d="M244.1 405.6q-44.1-19.4-90.6-22.6"/><path d="M244.3 405.2q-31.7-16.6-65.6-21.6"/><path d="M244.8 404.4q-19.7-13.3-41-19.7"/><path d="M246 403.1q-8.5-9.7-17.9-16.1"/><path d="M250.3 401.5q-.4-6.3-1.6-10.9"/><path d="M255.6 403.8q7.1-6.9 11.6-14"/><path d="M257 406.2q18.6-7.1 33.2-18.4"/><path d="M257.3 407.3q31.1-5.8 57.5-20.6"/><path d="M244.8 404.3q-42.6-30.5-91.6-44.3"/><path d="M245.3 403.7q-30.5-27.5-67.1-42.7"/><path d="M246.2 402.9q-19-24.3-43.4-40.5"/><path d="M248 401.9q-8.3-21.1-21.6-37.6"/><path d="M251 401.5q1.2-18.7-2.7-35.4"/><path d="M254.2 402.6q10.7-17.8 15.4-36.5"/><path d="M256 404.3q21.8-17.3 36.2-39.3"/><path d="M256.7 405.6q33.9-16.3 59.5-41.7"/><path d="M247.4 402.2q-17.9-36.1-45.6-63.1"/><path d="M249.1 401.6q-7.1-33.3-23.7-61.2"/><path d="M251.3 401.6q3.3-31.1-3.1-60.1"/><path d="M253.5 402.2q13.8-29.6 17.2-60.5"/><path d="M255.1 403.3q25-28.5 38.6-62.2"/></g><g class="c"><path d="M336.3 415.3q-6 35.6-.2 69.6"/><path d="M338.8 401.6q6-35.6 .3-69.6"/><path d="M330.7 407.2q-36.7-6.2-71.9-.3"/><path d="M344.4 409.7q36.7 6.2 72 .3"/><path d="M331.8 412.3q-45.4 30.8-76.5 74.1"/><path d="M343.4 404.6q45.3-30.8 76.4-74"/><path d="M333.6 402.8q-32-44.6-76.1-74.5"/><path d="M341.6 414.1q32 44.6 76.1 74.5"/><path d="M331.8 412.3q-45.4 30.8-76.5 74.1"/></g><g class="b"><path d="M335.2 415q-13.8 40.7-13.3 82.1"/><path d="M332 412.7q-33.8 26.3-56 61.1"/><path d="M333.1 413.8q-22.1 27.5-33.5 59.2"/><path d="M334.9 414.9q-11.1 28.5-12.5 57.6"/><path d="M337.3 415.4q-.8 30.1 7.5 57.5"/><path d="M339.4 415.2q9.6 32.5 28.3 58.9"/><path d="M341 414.5q20.5 35.5 50.5 61"/><path d="M331.3 411.5q-30.8 15.3-53.9 38.7"/><path d="M332.2 412.9q-18.9 16.2-31.1 36.1"/><path d="M334.3 414.6q-8.1 16.6-10.9 33.3"/><path d="M337.8 415.4q1.1 17.8 6.6 33"/><path d="M340.6 414.7q10.7 20.5 26 35.8"/><path d="M342.2 413.7q21.6 23.8 48.3 38.6"/><path d="M330.6 408.9q-40.7 3.3-76.7 19.3"/><path d="M330.7 409.6q-28.1 5.1-51.8 18"/><path d="M331.1 410.8q-15.7 6.2-27.7 15.6"/><path d="M332.9 413.6q-4.5 5.5-7.1 10.5"/><path d="M339.3 415.2q1.8 5.5 3.8 9.2"/><path d="M342.7 413.2q10.8 9.5 22.3 15"/><path d="M343.5 412.1q22.4 12.9 46.2 18"/><path d="M343.8 411.5q34.7 16 71.1 19.5"/><path d="M330.8 407.1q-26.1-4.7-50.9-1.3"/><path d="M330.8 407.1q-13.5-2.3-25.6-1.1"/></g><g class="bx"><path d="M330.8 407.1Q329.9 407 330.6 407M336 410.2L330.6 407 336.3 404.6Z"/><path d="M344.5 407.9Q346 407.6 345.9 407.6M339.8 406.8L345.9 407.6 341.6 412.1Z"/></g><g class="b"><path d="M344.5 409.3q10.7 .9 19.9-.6"/><path d="M344.4 409.5q23.5 3.1 45.3-.8"/><path d="M344.4 409.6q36.2 5.5 70.6-.9"/><path d="M331.4 405.4q-37.3-17.9-76.7-22.1"/><path d="M331.7 404.8q-25-14.8-51.9-20.7"/><path d="M332.4 403.8q-13.2-11.4-27.8-18"/><path d="M335 402q-3.5-7.5-7.5-12.9"/><path d="M341 402.4q3.1-6.3 4.6-11.6"/><path d="M343.8 405.3q13.3-7.3 23-16.8"/><path d="M344.3 406.9q25.6-6.5 46.6-19.8"/><path d="M344.5 407.7q38.2-4.9 71.3-21.4"/><path d="M332.9 403.3q-24.1-25.8-53.8-41.6"/><path d="M334.2 402.4q-12.9-22.6-31-39"/><path d="M336.7 401.6q-2.9-19.7-10.8-36.2"/><path d="M340 402q6.4-18.1 7.2-35.7"/><path d="M342.5 403.5q16.7-17.5 26.6-38"/><path d="M343.6 405q28.5-16.8 49-40.6"/><path d="M335.4 401.9q-11.8-34.5-33.3-62.1"/><path d="M337.4 401.5q-1.2-32-12.1-60.4"/><path d="M339.7 401.8q9.1-30.1 8.1-60.1"/><path d="M341.6 402.8q19.9-29 28.9-61.4"/><path d="M342.8 403.9q31.5-27.8 51.2-63.2"/></g><g class="c"><path d="M423.5 415.3q-6 35.6-.3 69.6"/><path d="M426 401.6q6-35.6 .2-69.6"/><path d="M417.9 407.2q-36.7-6.2-72-.3"/><path d="M431.6 409.7q36.7 6.2 71.9 .3"/><path d="M418.9 412.3q-45.3 30.8-76.4 74.1"/><path d="M430.5 404.6q45.4-30.8 76.5-74"/><path d="M420.7 402.8q-32-44.6-76.1-74.5"/><path d="M428.7 414.1q32 44.6 76.1 74.5"/><path d="M428.7 414.1q32 44.6 76.1 74.5"/></g><g class="b"><path d="M419.7 413.3q-27.2 27-43.3 60"/><path d="M421.2 414.4q-15.9 28.1-21.7 58.2"/><path d="M423.4 415.3q-5.4 29.3-1.4 57.3"/><path d="M425.7 415.3q4.9 31.4 18.9 58.2"/><path d="M427.5 414.8q15.6 34.1 40.5 60.1"/><path d="M418.3 411q-36.4 14.8-64.6 39.7"/><path d="M418.9 412.2q-24.1 15.9-41 37.4"/><path d="M420.3 413.9q-12.7 16.4-19.5 34.4"/><path d="M423.4 415.3q-3 17-1.2 32.6"/><path d="M426.7 415.1q6.3 19.2 16.9 34.4"/><path d="M428.8 414.1q16.6 22.3 38.1 37.5"/><path d="M429.8 413.2q28.1 25.6 61.6 39.9"/><path d="M417.8 409.2q-33.7 4.4-62.8 18.7"/><path d="M418 410.2q-21.1 5.8-38.2 16.8"/><path d="M418.8 412.1q-9 6.2-15.3 13.1"/><path d="M423.3 415.3q-.6 4.7-.6 7.9"/><path d="M428.9 414q6.2 7.7 12.8 12.8"/><path d="M430.4 412.5q17.1 11.4 35.3 16.9"/><path d="M430.9 411.7q29.1 14.7 59.9 19"/><path d="M417.9 407.1q-31.7-5.8-62.1-1.4"/><path d="M417.9 407.1q-19.1-3.3-36.8-1.2"/><path d="M417.9 407.1q-6.4-1-11.4-.7"/></g><g class="bx"><path d="M424.7 408.5Q424.2 407.6 424.6 407.9M427.8 413.3L424.6 407.9 430.8 408.6Z"/></g><g class="b"><path d="M431.6 409q5.2 .2 8.7-.3"/><path d="M431.6 409.5q17.8 2 34-.8"/><path d="M431.6 409.6q30.5 4.4 59.3-.9"/><path d="M418.6 405.1q-30.3-16.2-62.8-21.4"/><path d="M419.1 404.3q-18.3-13-38.3-19.4"/><path d="M420.6 402.9q-7.4-9.3-15.7-15.5"/><path d="M425.4 401.5q.2-6.1-.5-10.7"/><path d="M430.2 404.2q8.3-7.1 13.7-14.7"/><path d="M431.3 406.3q20.1-7 35.9-18.7"/><path d="M431.6 407.4q32.6-5.7 60.2-20.8"/><path d="M419.7 403.7q-29.3-27.2-64.5-42.6"/><path d="M420.7 402.8q-17.8-24-41-40.2"/><path d="M422.6 401.9q-7.2-20.9-19.4-37.3"/><path d="M425.7 401.6q2.2-18.6-.7-35.4"/><path d="M428.7 402.8q11.9-17.8 17.6-36.8"/><path d="M430.4 404.4q23.1-17.2 38.8-39.5"/><path d="M431.1 405.7q35.2-16.1 62.1-41.9"/><path d="M421.9 402.1q-16.7-35.8-43.2-62.9"/><path d="M423.6 401.6q-5.9-33-21.4-61"/><path d="M425.8 401.6q4.5-30.9-.8-60.1"/><path d="M428 402.3q15-29.5 19.5-60.7"/><path d="M429.5 403.4q26.3-28.3 41.1-62.4"/></g><g class="c"><path d="M510.6 415.3q-6 35.6-.2 69.6"/><path d="M513.1 401.6q6-35.6 .3-69.6"/><path d="M505 407.2q-36.7-6.2-71.9-.3"/><path d="M518.7 409.7q36.7 6.2 72 .3"/><path d="M506.1 412.3q-45.4 30.8-76.5 74.1"/><path d="M517.7 404.6q45.3-30.8 76.4-74"/><path d="M507.9 402.8q-32-44.6-76.1-74.5"/><path d="M515.9 414.1q32 44.6 76.1 74.5"/><path d="M510.6 415.3q-6 35.6-.2 69.6"/></g><g class="b"><path d="M511.5 415.4q-1.8 42.7 10.4 82.1"/><path d="M506.4 412.8q-32.4 26.4-53.4 60.9"/><path d="M507.6 413.9q-20.8 27.6-31.1 59"/><path d="M509.5 415q-10 28.7-10.3 57.5"/><path d="M511.8 415.4q.4 30.4 9.8 57.6"/><path d="M513.9 415.1q10.8 32.8 30.7 59.2"/><path d="M515.4 414.4q21.8 35.8 53.1 61.3"/><path d="M505.7 411.6q-29.5 15.5-51.3 38.5"/><path d="M506.7 413.1q-17.6 16.3-28.7 35.8"/><path d="M509 414.8q-7.1 16.6-9 33.1"/><path d="M512.5 415.4q2 18 8.5 33.2"/><path d="M515.2 414.6q11.8 20.8 28.3 36.1"/><path d="M516.6 413.6q22.9 24.1 51 38.9"/><path d="M505 409q-39.4 3.5-74 19.1"/><path d="M505 409.7q-26.7 5.2-49 17.8"/><path d="M505.4 411.1q-14.2 6.2-25 15.1"/><path d="M507.7 414q-3.6 5.3-5.5 9.8"/><path d="M514.3 415q2.5 5.9 5.2 9.9"/><path d="M517.1 413q12 9.9 24.9 15.5"/><path d="M517.9 412q23.7 13.3 48.9 18.2"/><path d="M518.2 411.4q35.9 16.3 73.8 19.7"/><path d="M505.1 407.1q-24.7-4.4-48.1-1.3"/><path d="M505.1 407.1q-12.1-2-22.7-1"/></g><g class="bx"><path d="M505.1 407.1Q502.2 406.8 500.8 407M506.6 409.2L500.8 407 506.1 403.7Z"/><path d="M518.8 408.3Q521.7 408 523 407.6M516.9 406.6L523 407.6 518.6 411.9Z"/></g><g class="b"><path d="M518.8 409.3q12.1 1.2 22.7-.6"/><path d="M518.7 409.5q24.9 3.4 48.1-.8"/><path d="M505.7 405.3q-35.9-17.5-73.9-21.9"/><path d="M506 404.7q-23.6-14.4-49.1-20.4"/><path d="M506.9 403.6q-12.1-11-25.3-17.5"/><path d="M509.8 401.8q-2.6-7.1-5.8-12.3"/><path d="M515.8 402.7q4.1-6.4 6.1-12.1"/><path d="M518.2 405.6q14.6-7.3 25.5-17.3"/><path d="M518.7 407q26.9-6.4 49.2-20"/><path d="M518.8 407.8q39.6-4.7 74-21.5"/><path d="M507.3 403.2q-22.8-25.4-51.2-41.3"/><path d="M508.7 402.3q-11.7-22.2-28.6-38.6"/><path d="M511.4 401.5q-1.9-19.3-8.8-35.9"/><path d="M514.7 402.1q7.4-18 9.2-35.8"/><path d="M517 403.7q17.9-17.5 29-38.3"/><path d="M518 405.2q29.8-16.7 51.5-41"/><path d="M509.9 401.8q-10.6-34.2-30.9-61.8"/><path d="M512 401.5q-.2-31.7-9.9-60.3"/><path d="M514.2 401.9q10.3-30 10.4-60.2"/><path d="M516.1 402.9q21.2-28.8 31.3-61.6"/></g><g class="c"><path d="M597.8 415.3q-6 35.6-.3 69.6"/><path d="M600.3 401.6q6-35.6 .2-69.6"/><path d="M592.2 407.2q-36.8-6.2-72-.3"/><path d="M605.8 409.7q36.8 6.2 72 .3"/><path d="M593.2 412.3q-45.3 30.8-76.4 74.1"/><path d="M604.8 404.6q45.4-30.8 76.5-74"/><path d="M595 402.8q-32-44.6-76.1-74.5"/><path d="M603 414.1q32 44.6 76.1 74.5"/><path d="M593.2 412.3q-45.3 30.8-76.4 74.1"/></g><g class="b"><path d="M594.1 413.4q-25.9 27.1-40.8 59.8"/><path d="M595.7 414.6q-14.7 28.1-19.4 58"/><path d="M597.9 415.3q-4.2 29.5 .9 57.4"/><path d="M600.2 415.3q6.1 31.7 21.2 58.4"/><path d="M602 414.7q16.8 34.5 42.9 60.4"/><path d="M592.6 411.1q-34.9 14.9-61.9 39.5"/><path d="M593.3 412.3q-22.8 16.1-38.5 37.2"/><path d="M594.9 414.1q-11.5 16.5-17.3 34.1"/><path d="M598.1 415.3q-2 17.2 .7 32.7"/><path d="M601.3 415q7.3 19.5 19.1 34.7"/><path d="M603.2 414q17.9 22.7 40.7 37.8"/><path d="M604.2 413.1q29.4 26 64.2 40.1"/><path d="M592.1 409.3q-32.3 4.5-60 18.5"/><path d="M592.3 410.3q-19.7 6-35.5 16.6"/><path d="M593.3 412.5q-7.8 6-13 12.5"/><path d="M598.5 415.4q-.1 4.8 .3 8"/><path d="M603.5 413.8q7.3 8.1 15 13.4"/><path d="M604.8 412.4q18.4 11.8 38 17.2"/><path d="M605.2 411.6q30.5 15 62.7 19.2"/><path d="M592.2 407.1q-30.3-5.5-59.3-1.3"/><path d="M592.2 407.1q-17.7-3.1-34-1.2"/><path d="M592.2 407.1q-5-.7-8.6-.6"/></g><g class="bx"><path d="M599 408.5Q599.9 407.9 599.5 408.4M594.1 411.4L599.5 408.4 598.7 414.5Z"/></g><g class="b"><path d="M605.9 409.1q6.6 .3 11.5-.4"/><path d="M605.9 409.5q19.2 2.3 36.8-.8"/><path d="M605.9 409.6q31.9 4.7 62.1-.9"/><path d="M593 405q-29-15.8-60.1-21.2"/><path d="M593.5 404.2q-17-12.6-35.6-19.1"/><path d="M595.2 402.7q-6.3-8.9-13.4-14.9"/><path d="M600.4 401.7q.9-6.1 .7-10.8"/><path d="M604.7 404.5q9.5-7.2 15.9-15.2"/><path d="M605.7 406.5q21.4-6.9 38.5-19"/><path d="M605.9 407.5q34-5.5 63-20.9"/><path d="M594.1 403.6q-28-26.9-61.8-42.3"/><path d="M595.1 402.7q-16.5-23.6-38.4-39.9"/><path d="M597.2 401.8q-6.1-20.5-17.2-37"/><path d="M600.4 401.7q3.2-18.4 1.2-35.5"/><path d="M603.3 403q13.1-17.7 19.8-37.1"/><path d="M604.8 404.6q24.4-17.1 41.3-39.9"/><path d="M605.4 405.8q36.6-16 64.8-42.1"/><path d="M596.3 402.1q-15.4-35.5-40.6-62.7"/><path d="M598.1 401.6q-4.7-32.8-19-60.9"/><path d="M600.4 401.7q5.6-30.8 1.4-60.1"/><path d="M602.5 402.4q16.2-29.3 21.8-60.8"/><path d="M603.9 403.6q27.6-28.3 43.6-62.7"/></g><g class="c"><path d="M684.9 415.3q-6 35.6-.2 69.6"/><path d="M687.4 401.6q6-35.6 .3-69.6"/><path d="M679.3 407.2q-36.7-6.2-71.9-.3"/><path d="M693 409.7q36.7 6.2 72 .3"/><path d="M680.4 412.3q-45.4 30.8-76.5 74.1"/><path d="M692 404.6q45.3-30.8 76.4-74"/><path d="M682.2 402.8q-32-44.6-76.1-74.5"/><path d="M690.2 414.1q32 44.6 76.1 74.5"/><path d="M690.2 414.1q32 44.6 76.1 74.5"/></g><g class="b"><path d="M686 415.4q-.6 43 12.8 82.2"/><path d="M680.8 412.9q-31.1 26.6-50.9 60.7"/><path d="M682.1 414.1q-19.6 27.7-28.8 58.7"/><path d="M684 415.1q-8.8 28.8-8 57.4"/><path d="M686.4 415.4q1.5 30.6 12 57.7"/><path d="M688.4 415q12 33.2 33.1 59.4"/><path d="M689.8 414.4q23.1 36.1 55.7 61.4"/><path d="M680 411.7q-28.1 15.6-48.6 38.3"/><path d="M681.1 413.3q-16.3 16.3-26.3 35.5"/><path d="M683.6 414.9q-6 16.8-7 33"/><path d="M687.1 415.3q3.1 18.3 10.6 33.5"/><path d="M689.7 414.5q13 21.2 30.7 36.4"/><path d="M691 413.5q24.1 24.5 53.6 39.2"/><path d="M679.3 409q-38 3.7-71.2 19.1"/><path d="M679.4 409.8q-25.3 5.4-46.4 17.6"/><path d="M679.8 411.3q-12.9 6.2-22.5 14.7"/><path d="M682.6 414.4q-2.8 5.1-4 9.1"/><path d="M689.1 414.8q3.3 6.3 6.9 10.6"/><path d="M691.5 412.9q13.3 10.3 27.5 15.9"/><path d="M692.2 411.9q25.1 13.6 51.7 18.4"/><path d="M692.5 411.4q37.3 16.6 76.6 19.7"/><path d="M679.4 407.1q-36-6.6-70.6-1.4"/><path d="M679.4 407.1q-23.3-4.2-45.3-1.3"/><path d="M679.4 407.1q-10.7-1.7-19.9-1"/></g><g class="bx"><path d="M679.4 407.1Q677.9 407 677.9 407M683.6 409.4L677.9 407 683.3 403.9Z"/><path d="M693.1 408.6Q694 408.6 693.3 408.6M687.5 406.5L693.3 408.6 688.1 412Z"/></g><g class="b"><path d="M693.1 409.4q13.6 1.3 25.5-.7"/><path d="M693 409.5q26.3 3.7 50.9-.8"/><path d="M680 405.3q-34.5-17.2-71.1-21.9"/><path d="M680.4 404.6q-22.3-14.1-46.4-20.2"/><path d="M681.4 403.5q-10.9-10.6-22.8-17.2"/><path d="M684.7 401.7q-1.8-6.9-4.3-11.8"/><path d="M690.6 403.1q5-6.6 7.8-12.8"/><path d="M692.6 405.8q15.9-7.3 28-17.7"/><path d="M693 407.1q28.4-6.2 52-20.2"/><path d="M693.1 407.8q41-4.4 76.8-21.6"/><path d="M681.7 403.1q-21.5-25-48.6-41"/><path d="M683.3 402.2q-10.6-21.9-26.3-38.3"/><path d="M686 401.5q-.8-19.1-6.7-35.7"/><path d="M689.3 402.3q8.5-18 11.2-36"/><path d="M691.4 403.9q19.3-17.4 31.4-38.6"/><path d="M692.4 405.3q31.1-16.5 54.1-41.2"/><path d="M682.9 402.3q-20.4-36.7-50.7-63.5"/><path d="M684.4 401.7q-9.4-33.9-28.5-61.6"/><path d="M686.5 401.5q1-31.5-7.6-60.2"/><path d="M688.8 402q11.4-29.9 12.6-60.3"/><path d="M690.5 403.1q22.5-28.8 33.8-61.8"/></g><g class="c"><path d="M772.1 415.3q-6 35.6-.3 69.6"/><path d="M774.6 401.6q5.9-35.6 .2-69.6"/><path d="M766.5 407.2q-36.8-6.2-72-.3"/><path d="M780.1 409.7q36.8 6.2 72 .3"/><path d="M767.5 412.3q-45.3 30.8-76.4 74.1"/><path d="M779.1 404.6q45.4-30.8 76.5-74"/><path d="M769.3 402.8q-32-44.6-76.1-74.5"/><path d="M777.3 414.1q32 44.6 76.1 74.5"/><path d="M772.1 415.3q-6 35.6-.3 69.6"/></g><g class="b"><path d="M768.6 413.5q-24.7 27.3-38.4 59.6"/><path d="M770.2 414.7q-13.5 28.3-17.1 57.8"/><path d="M772.5 415.4q-3.1 29.7 3.1 57.3"/><path d="M774.7 415.3q7.3 31.9 23.6 58.5"/><path d="M776.4 414.7q18.1 34.7 45.5 60.5"/><path d="M766.9 411.2q-33.5 15.1-59.2 39.3"/><path d="M767.7 412.5q-21.5 16.1-36 36.8"/><path d="M769.5 414.2q-10.4 16.6-15.2 33.9"/><path d="M772.8 415.4q-1 17.3 2.6 32.7"/><path d="M775.9 414.9q8.4 19.8 21.3 35.1"/><path d="M777.6 413.9q19.2 23.1 43.3 38.1"/><path d="M778.5 413.1q30.7 26.2 67 40.3"/><path d="M779 412.5q42.8 29.3 91.5 41.8"/><path d="M766.4 408.8q-43.6 2.8-82.3 19.5"/><path d="M766.4 409.4q-30.9 4.7-57.3 18.3"/><path d="M766.7 410.5q-18.4 6-32.9 16.2"/><path d="M767.9 412.8q-6.7 5.9-10.9 11.9"/><path d="M773.6 415.4q.5 4.9 1.3 8.2"/><path d="M778 413.6q8.4 8.6 17.4 14"/><path d="M779.1 412.2q19.8 12.3 40.8 17.6"/><path d="M779.5 411.6q31.9 15.3 65.5 19.2"/><path d="M779.7 411.2q44.3 18.2 90.6 20.2"/><path d="M779.8 410.9q56.8 21 115.7 20.9"/><path d="M766.5 407.1q-28.9-5.3-56.5-1.3"/><path d="M766.5 407.1q-16.3-2.8-31.1-1.1"/><path d="M766.5 407.1q-3.6-.5-5.8-.5"/></g><g class="bx"><path d="M773.3 408.5Q775.6 408.2 776.2 407.9M770 408.1L776.2 407.9 772.7 413Z"/></g><g class="b"><path d="M780.2 409.2q8 .5 14.3-.5"/><path d="M780.2 409.5q20.6 2.6 39.6-.8"/><path d="M780.2 409.6q33.3 4.9 64.9-.9"/><path d="M780.2 409.7q46 7.3 90.2-1"/><path d="M780.2 409.7q58.6 9.9 115.5-1"/><path d="M767.3 405q-27.6-15.5-57.3-21.1"/><path d="M767.9 404.1q-15.8-12.2-33-18.8"/><path d="M769.8 402.4q-5.3-8.4-11.3-14.2"/><path d="M775.4 401.8q1.6-6.1 1.9-10.8"/><path d="M779.2 404.8q10.7-7.2 18.2-15.8"/><path d="M780 406.6q22.8-6.8 41.2-19.2"/><path d="M780.2 407.5q35.4-5.2 65.8-21"/><path d="M780.3 408.1q48-3.3 90.7-22.1"/><path d="M780.3 408.4q60.7-1.1 115.9-22.8"/><path d="M768.5 403.5q-26.7-26.5-59.2-42.1"/><path d="M769.6 402.6q-15.3-23.3-35.9-39.6"/><path d="M771.8 401.7q-5.1-20.2-15-36.7"/><path d="M775.1 401.7q4.2-18.2 3.1-35.4"/><path d="M777.8 403.2q14.3-17.7 22.1-37.4"/><path d="M779.2 404.7q25.8-17 43.8-40.1"/><path d="M779.8 405.9q38-15.8 67.4-42.3"/><path d="M780 406.7q50.5-14.2 91.9-43.9"/><path d="M770.8 402q-14.2-35.1-38.2-62.5"/><path d="M772.7 401.5q-3.6-32.4-16.8-60.7"/><path d="M774.9 401.7q6.8-30.5 3.7-60.1"/><path d="M777 402.6q17.4-29.3 24.2-61.1"/><path d="M778.4 403.7q28.8-28.1 46.1-62.8"/></g><g class="c"><path d="M859.2 415.3q-6 35.6-.2 69.6"/><path d="M861.7 401.6q6-35.6 .3-69.6"/><path d="M853.6 407.2q-36.7-6.2-71.9-.3"/><path d="M854.7 412.3q-45.4 30.8-76.5 74.1"/><path d="M856.5 402.8q-32-44.6-76.1-74.5"/><path d="M854.7 412.3q-45.4 30.8-76.5 74.1"/></g><g class="b"><path d="M861.6 415.3q9.7 58 38.2 107.6"/><path d="M858.7 415.2q-10.2 41.2-6.2 82"/><path d="M860.5 415.4q.6 43.2 15.2 82.3"/><path d="M862.1 415.2q11.6 45.7 37.1 83.4"/><path d="M855.2 413q-29.8 26.7-48.4 60.5"/><path d="M856.5 414.2q-18.3 27.8-26.3 58.5"/><path d="M858.6 415.1q-7.7 29-5.8 57.4"/><path d="M860.9 415.4q2.7 30.9 14.4 57.8"/><path d="M862.9 415q13.2 33.4 35.5 59.6"/><path d="M853.9 410.8q-39.1 14.4-69.9 40.1"/><path d="M854.4 411.9q-26.7 15.7-46.1 38"/><path d="M855.6 413.5q-15.1 16.4-24 35.1"/><path d="M858.3 415.1q-5 16.8-5 32.8"/><path d="M861.8 415.3q4.1 18.5 12.6 33.7"/><path d="M864.2 414.3q14.2 21.6 33.1 36.9"/><path d="M853.6 409.1q-36.6 3.9-68.4 18.9"/><path d="M853.7 409.9q-23.9 5.6-43.6 17.3"/><path d="M854.2 411.5q-11.6 6.3-20 14.2"/><path d="M857.5 414.8q-1.9 4.9-2.7 8.5"/><path d="M863.9 414.5q4.2 6.8 8.7 11.4"/><path d="M865.9 412.7q14.6 10.7 30.1 16.3"/><path d="M853.7 407.1q-34.6-6.4-67.8-1.4"/><path d="M853.7 407.1q-21.9-3.9-42.5-1.2"/><path d="M853.7 407.1q-9.3-1.5-17.1-.9"/></g><g class="bx"><path d="M853.7 407.1Q853.6 407.1 855 407.1M860.6 409.8L855 407.1 860.5 404.3Z"/><path d="M867.4 408.8Q869.7 408.7 870.4 408.7M864.5 406.6L870.4 408.7 865.2 412.1Z"/></g><g class="b"><path d="M867.3 409.4q15.1 1.6 28.4-.7"/><path d="M854.3 405.2q-33.1-16.8-68.3-21.7"/><path d="M854.7 404.5q-20.9-13.7-43.6-19.9"/><path d="M855.8 403.3q-9.6-10.2-20.3-16.6"/><path d="M859.7 401.6q-1.1-6.6-2.9-11.3"/><path d="M865.3 403.5q6-6.8 9.6-13.4"/><path d="M867 406q17.3-7.2 30.6-18"/><path d="M856.2 403q-20.3-24.7-46.1-40.8"/><path d="M857.8 402q-9.5-21.4-23.9-37.9"/><path d="M860.7 401.5q.1-18.9-4.7-35.6"/><path d="M863.9 402.4q9.6-17.8 13.3-36.2"/><path d="M865.9 404.1q20.5-17.4 33.8-39"/><path d="M857.3 402.3q-19.1-36.5-48.2-63.4"/><path d="M858.9 401.7q-8.2-33.6-26.1-61.4"/><path d="M861.1 401.5q2.1-31.3-5.4-60.1"/><path d="M863.3 402.1q12.6-29.7 14.9-60.4"/><path d="M865 403.2q23.7-28.6 36.2-62"/><path d="M861.3 401.6q4.4-43.7-5.7-84.8"/><path d="M863 402q15.3-41.9 15.8-84.9"/><path d="M864.4 402.7q26.7-40.3 37.7-85.9"/><path d="M863.9 402.4q29.6-52.3 38.9-110.1"/></g><g class="c"><path d="M162 330.4q-6 35.6-.2 69.7"/><path d="M164.5 316.8q6-35.6 .3-69.7"/><path d="M170.1 324.9q36.8 6.2 72 .2"/><path d="M169.1 319.8q45.3-30.8 76.4-74.1"/><path d="M167.3 329.3q32 44.5 76.1 74.5"/><path d="M169.1 319.8q45.3-30.8 76.4-74.1"/></g><g class="b"><path d="M159.5 329.5q-27.6 44.3-38.1 93.9"/><path d="M160.9 330.1q-16.3 46-16 93.1"/><path d="M159 329.1q-24.7 32.5-36.8 69.9"/><path d="M160.6 330q-13.6 33.8-15.3 68.6"/><path d="M162.6 330.5q-2.9 35.5 5.5 68.4"/><path d="M164.6 330.4q7.7 37.7 26.6 69.4"/><path d="M158.2 328.4q-21.6 21-34.7 46.5"/><path d="M160.1 329.8q-10.7 21.8-14 44.2"/><path d="M162.9 330.6q-.8 23 5 43.7"/><path d="M165.5 330.2q9.1 25.5 24.8 45.6"/><path d="M167.2 329.4q19.9 28.5 46.8 48.1"/><path d="M157.2 326.9q-18.4 10.4-31.8 24.6"/><path d="M159.1 329.1q-7.4 10.3-11.3 20.7"/><path d="M163.6 330.6q.9 10.6 3.8 19.3"/><path d="M167.1 329.4q9.8 13.8 21.7 23.3"/><path d="M168.5 328.2q20.8 17.2 44.5 26.6"/><path d="M169.1 327.4q32.7 20.5 68.8 28.6"/><path d="M156.3 324q-15.5 1.2-28.7 6.1"/></g><g class="bx"><path d="M156.8 326Q153.6 327.4 152 328.4M158.2 327.8L152 328.4 155.3 323.1Z"/><path d="M166.9 329.5Q168.4 331.5 169.2 332.2M166.9 326.4L169.2 332.2 163.2 330.5Z"/></g><g class="b"><path d="M169.5 326.6q9.3 4 17.7 5.4"/><path d="M169.8 325.9q21.5 7.1 42.6 7.3"/><path d="M169.9 325.6q34 9.9 67.8 8.1"/><path d="M157.2 320.3q-14.6-7.5-29.1-10.3"/><path d="M158.6 318.5q-3.6-3.5-6.4-5.4"/></g><g class="bx"><path d="M166.9 317.7Q167.6 316.5 167.5 316.6M162.8 320.6L167.5 316.6 167.9 322.8Z"/></g><g class="b"><path d="M170 321.7q10.5-3.4 18.5-8.4"/><path d="M170.2 323.1q23.1-2.4 43-11"/><path d="M170.2 323.6q35.8-.4 68.1-12.1"/><path d="M159 318.1q-14.4-17.8-32.1-29.6"/><path d="M161.5 316.9q-4.4-14.5-11.7-25.9"/><path d="M165.6 317.1q4-12.8 4.6-24.7"/><path d="M168.5 319.1q14-12.8 22.9-27.8"/><path d="M169.6 320.8q25.8-12.3 45.3-30.9"/><path d="M170 321.8q38.2-10.9 69.3-32.9"/><path d="M160.5 317.3q-13.6-29.5-34.9-51.9"/><path d="M162.6 316.7q-3.2-26.7-13.9-49.8"/><path d="M165.2 317q6.8-25 5.7-49.2"/><path d="M167.5 318.1q17.3-24 25.7-50.7"/><path d="M168.8 319.4q28.8-23 47.7-52.9"/><path d="M161.4 316.9q-12.2-41.6-36.6-75.4"/><path d="M163.1 316.7q-1.3-39.1-14.9-74.1"/><path d="M165.1 316.9q9.3-37.2 6.1-73.8"/><path d="M166.8 317.6q20.3-35.7 27.4-74.6"/><path d="M162 316.8q-10.4-53.9-37.8-99.5"/><path d="M163.5 316.7q.7-51.5-15.6-98.7"/></g><g class="c"><path d="M249.2 330.4q-6 35.6-.3 69.7"/><path d="M251.7 316.8q6-35.6 .2-69.7"/><path d="M243.6 322.4q-36.7-6.2-72-.3"/><path d="M257.3 324.9q36.7 6.2 71.9 .2"/><path d="M244.6 327.5q-45.3 30.8-76.4 74"/><path d="M256.2 319.8q45.4-30.8 76.5-74.1"/><path d="M246.4 317.9q-32-44.5-76.1-74.4"/><path d="M254.4 329.3q32 44.5 76.1 74.5"/><path d="M251.7 316.8q6-35.6 .2-69.7"/></g><g class="b"><path d="M247 329.6q-18.5 33.2-24.7 69.1"/><path d="M248.8 330.4q-7.6 34.6-3.7 68.3"/><path d="M250.9 330.5q2.9 36.7 17.1 68.9"/><path d="M252.6 330.2q13.8 39.2 38.8 70.3"/><path d="M244.2 326.6q-39 19.5-68.1 49.7"/><path d="M244.9 327.8q-26.9 20.6-44.7 47.5"/><path d="M246.3 329.2q-15.4 21.4-23 45.1"/><path d="M248.7 330.4q-5.1 22.3-3.3 43.6"/><path d="M251.6 330.5q4.6 24.2 15.7 44.6"/><path d="M253.7 329.8q15 27.1 36.8 47"/><path d="M254.9 328.9q26.3 30.3 59.8 49.4"/><path d="M243.5 324.1q-61.5 4.8-116.1 30.1"/><path d="M243.5 324.5q-48.8 6.9-91 29.3"/><path d="M243.7 325.1q-36.3 8.8-66.3 28.1"/><path d="M244 326.2q-23.8 10.1-42.1 26"/><path d="M245.1 328q-12 10.5-19.8 22.6"/><path d="M248.5 330.3q-2.5 10.1-2.5 19"/><path d="M253.1 330q5.4 12.2 12.9 21.4"/><path d="M255.2 328.7q15.7 15.7 34 25.3"/><path d="M256.1 327.7q27.3 19.1 57.8 27.9"/><path d="M243.5 322.8q-59.3-6.2-115.6 8.2"/><path d="M243.5 323q-46.6-3.9-90.3 7.9"/><path d="M243.5 323.2q-33.9-1.6-65.1 7.5"/><path d="M243.5 323.6q-21.2 .5-39.9 6.7"/><path d="M243.6 324.7q-8.6 1.8-15.1 4.7"/></g><g class="bx"><path d="M247.2 329.8Q246.6 331.4 246.5 331.7M250.5 326.9L246.5 331.7 245 325.7Z"/></g><g class="b"><path d="M256.3 327.3q4.1 2.3 7.1 3.4"/><path d="M256.9 326.1q16 5.8 31.4 6.8"/><path d="M257 325.7q28.5 8.7 56.6 7.9"/><path d="M243.8 321.6q-57.4-17.3-115.6-13.6"/><path d="M243.8 321.4q-44.8-14.6-90.3-13.2"/><path d="M243.9 321.1q-32.3-11.8-65.1-12.5"/><path d="M244.2 320.6q-20-8.8-40.1-11.2"/><path d="M244.8 319.5q-8.1-5.4-15.8-8.2"/></g><g class="bx"><path d="M249.3 316.8Q249.1 315.9 249.3 316.5M248.2 322.6L249.3 316.5 253.5 321Z"/></g><g class="b"><path d="M256.6 320.4q5.3-3 8.7-6"/><path d="M257.3 322.6q17.5-3 32-10.1"/><path d="M257.4 323.4q30.1-1.4 56.8-11.7"/><path d="M257.4 323.8q42.8 .7 82-12.4"/><path d="M244.3 320.4q-55.6-28.5-116.1-35.5"/><path d="M244.5 320q-43.3-25.6-91.1-34.6"/><path d="M244.9 319.5q-31.1-22.6-66.4-33.2"/><path d="M245.6 318.6q-19.3-19.3-42.3-31"/><path d="M247.3 317.4q-8.6-15.9-20.3-27.6"/><path d="M250.8 316.7q.4-13.2-2.4-24.6"/><path d="M254.7 318.1q9.2-12.8 14.1-26.1"/><path d="M256.4 320.1q20.4-12.6 35-29.6"/><path d="M257 321.4q32.6-11.6 58.5-32.1"/><path d="M245.9 318.4q-29.9-34-68.1-55.1"/><path d="M247 317.6q-18.5-30.8-44.8-52.9"/><path d="M248.7 316.9q-7.7-27.9-23-50.6"/><path d="M251.2 316.7q2.3-25.6-3-49.1"/><path d="M253.7 317.5q12.5-24.3 16.6-49.8"/><path d="M255.4 318.8q23.6-23.4 37.7-51.8"/><path d="M256.4 320q35.5-22.3 60.5-54"/><path d="M249.5 316.7q-6.1-40.1-24.5-74.6"/><path d="M251.4 316.7q4.6-37.9-3.3-73.8"/><path d="M253.2 317.3q15.4-36.3 17.9-74.1"/></g><g class="c"><path d="M336.3 330.4q-6 35.6-.2 69.7"/><path d="M338.8 316.8q6-35.6 .3-69.7"/><path d="M330.7 322.4q-36.7-6.2-71.9-.3"/><path d="M344.4 324.9q36.7 6.2 72 .2"/><path d="M331.8 327.5q-45.4 30.8-76.5 74"/><path d="M343.4 319.8q45.3-30.8 76.4-74.1"/><path d="M333.6 317.9q-32-44.5-76.1-74.4"/><path d="M341.6 329.3q32 44.5 76.1 74.5"/><path d="M333.6 317.9q-32-44.5-76.1-74.4"/></g><g class="b"><path d="M333.4 329.2q-23.4 32.6-34.3 69.7"/><path d="M335.1 330.1q-12.4 33.9-13 68.5"/><path d="M337.1 330.5q-1.7 35.7 7.8 68.5"/><path d="M339.1 330.4q8.9 38 29 69.6"/><path d="M331.6 327.2q-32.1 20.2-54.9 48.6"/><path d="M332.7 328.5q-20.4 21.2-32.3 46.2"/><path d="M334.7 329.9q-9.6 21.9-11.9 44.1"/><path d="M337.5 330.6q.3 23.2 7.1 43.8"/><path d="M340 330.1q10.3 25.8 27.2 45.9"/><path d="M341.6 329.3q21.2 28.9 49.4 48.4"/><path d="M330.9 325.7q-29.2 9.5-52.6 27"/><path d="M331.6 327.1q-17.1 10.5-29.3 24.3"/><path d="M333.7 329.4q-6.3 10.2-9.3 20.2"/><path d="M338.4 330.5q1.7 10.9 5.4 19.6"/><path d="M341.7 329.2q10.8 14.2 24 23.8"/><path d="M342.9 328.1q22.1 17.6 47.1 26.9"/><path d="M343.4 327.3q34.1 20.8 71.6 28.8"/><path d="M330.7 323.1q-39.6-2.6-76.3 7.7"/><path d="M330.6 323.4q-26.8-.4-51 7.1"/><path d="M330.6 324.1q-14.1 1.3-25.9 5.9"/></g><g class="bx"><path d="M331.3 326.5Q329.3 327.6 328.8 328M334.9 327.1L328.8 328 331.8 322.5Z"/><path d="M342 328.9Q344.5 331.3 346.1 332.4M343 327L346.1 332.4 339.9 331.7Z"/></g><g class="b"><path d="M343.9 326.5q10.6 4.3 20.4 5.7"/><path d="M344.1 325.9q22.9 7.4 45.4 7.4"/><path d="M344.2 325.6q35.4 10.1 70.6 8.2"/><path d="M331 321.3q-37.8-13.1-76.3-12.9"/><path d="M331.2 320.9q-25.4-10.2-51.2-11.9"/><path d="M331.6 320.2q-13.3-7.1-26.4-10"/><path d="M333.3 318.1q-2.6-2.9-4.4-4.4"/></g><g class="bx"><path d="M342.1 318.3Q343.3 316.6 343.6 316.1M338.4 319.5L343.6 316.1 343.1 322.3Z"/></g><g class="b"><path d="M344.3 322q11.9-3.4 21.2-8.9"/><path d="M344.5 323.1q24.5-2.1 45.7-11.1"/><path d="M344.5 323.7q37.2-.3 70.8-12.2"/><path d="M332.4 319q-24.5-20.8-53-32"/><path d="M333.5 318q-13.2-17.4-29.7-29.3"/><path d="M336.2 316.8q-3.5-14.2-9.8-25.5"/><path d="M340.3 317.2q5.1-12.7 6.4-24.8"/><path d="M343 319.3q15.2-12.8 25.2-28.2"/><path d="M344 320.9q27.1-12.1 47.8-31.1"/><path d="M344.3 321.9q39.6-10.7 72.1-33.1"/><path d="M333.6 317.9q-23.5-32.1-55-53.9"/><path d="M335 317.2q-12.4-29.2-32.4-51.6"/><path d="M337.2 316.7q-2.1-26.5-11.7-49.6"/><path d="M339.8 317q7.9-24.7 7.8-49.2"/><path d="M341.9 318.2q18.6-23.8 28.1-50.8"/><path d="M343.2 319.5q30.1-22.9 50.2-53.1"/><path d="M337.6 316.7q-.1-38.9-12.6-74.1"/><path d="M339.6 317q10.5-37 8.4-73.9"/><path d="M341.3 317.7q21.6-35.5 29.8-74.7"/></g><g class="c"><path d="M423.5 330.4q-6 35.6-.3 69.7"/><path d="M426 316.8q6-35.6 .2-69.7"/><path d="M417.9 322.4q-36.7-6.2-72-.3"/><path d="M431.6 324.9q36.7 6.2 71.9 .2"/><path d="M418.9 327.5q-45.3 30.8-76.4 74"/><path d="M430.5 319.8q45.4-30.8 76.5-74.1"/><path d="M420.7 317.9q-32-44.5-76.1-74.4"/><path d="M428.7 329.3q32 44.5 76.1 74.5"/><path d="M430.5 319.8q45.4-30.8 76.5-74.1"/></g><g class="b"><path d="M421.4 329.7q-17.2 33.4-22.3 69"/><path d="M423.4 330.4q-6.5 34.8-1.4 68.3"/><path d="M425.4 330.5q4.1 36.9 19.5 69"/><path d="M418.5 326.7q-37.5 19.6-65.4 49.5"/><path d="M419.3 327.9q-25.5 20.8-42.2 47.3"/><path d="M420.8 329.3q-14.2 21.6-20.7 44.9"/><path d="M423.4 330.4q-4.1 22.5-1.3 43.7"/><path d="M426.2 330.4q5.7 24.6 17.9 44.9"/><path d="M428.2 329.7q16.2 27.5 39.2 47.3"/><path d="M429.3 328.8q27.6 30.7 62.4 49.7"/><path d="M418 325.2q-34.8 8.9-63.6 27.9"/><path d="M418.3 326.4q-22.3 10.1-39.4 25.6"/><path d="M419.6 328.3q-10.7 10.5-17.5 22.1"/><path d="M423.3 330.4q-1.6 10.2-.9 19"/><path d="M427.7 329.9q6.5 12.6 15 21.8"/><path d="M429.6 328.5q17 16.1 36.6 25.7"/><path d="M430.4 327.6q28.7 19.4 60.6 28.1"/><path d="M417.8 323.2q-32.5-1.3-62.3 7.5"/><path d="M417.8 323.7q-19.8 .7-37.1 6.6"/><path d="M417.9 325q-7.1 1.7-12.4 4.2"/></g><g class="bx"><path d="M423.3 330.4Q423.2 331.8 423.2 331.6M425.7 326L423.2 331.6 420.2 326.2Z"/></g><g class="b"><path d="M430.7 327.1q5.4 2.8 9.7 4"/><path d="M431.2 326.1q17.4 6.1 34.2 6.9"/><path d="M431.3 325.7q29.9 8.9 59.4 7.9"/><path d="M418.3 321.1q-31-11.5-62.4-12.4"/><path d="M418.5 320.6q-18.6-8.6-37.3-11.1"/><path d="M419.3 319.3q-6.9-4.9-13.4-7.7"/></g><g class="bx"><path d="M424.8 316.7Q424.8 316 424.9 316.9M422.7 322.7L424.9 316.9 428.3 322.1Z"/></g><g class="b"><path d="M431.1 320.8q6.5-3.2 11-6.7"/><path d="M431.6 322.8q18.9-2.9 34.7-10.4"/><path d="M431.7 323.5q31.5-1.2 59.6-11.8"/><path d="M431.7 323.9q44.2 .9 84.8-12.6"/><path d="M419.2 319.4q-29.7-22.2-63.7-33"/><path d="M420 318.5q-18.1-19-39.7-30.7"/><path d="M421.9 317.3q-7.5-15.5-18-27.2"/><path d="M425.6 316.7q1.3-13-.6-24.4"/><path d="M429.3 318.4q10.3-12.8 16.2-26.6"/><path d="M430.8 320.3q21.7-12.6 37.5-30"/><path d="M431.3 321.5q34.1-11.4 61.3-32.3"/><path d="M421.4 317.5q-17.2-30.5-42.3-52.6"/><path d="M423.2 316.8q-6.5-27.5-20.6-50.3"/><path d="M425.8 316.8q3.4-25.5-.8-49.2"/><path d="M428.3 317.6q13.7-24.2 18.8-49.9"/><path d="M429.9 319q24.9-23.4 40.1-52.1"/><path d="M430.7 320.1q36.9-22.2 63.2-54.2"/><path d="M424 316.7q-4.9-39.9-22.1-74.5"/><path d="M427.7 317.4q16.6-36.2 20.2-74.3"/></g><g class="c"><path d="M510.6 330.4q-6 35.6-.2 69.7"/><path d="M513.1 316.8q6-35.6 .3-69.7"/><path d="M505 322.4q-36.7-6.2-71.9-.3"/><path d="M518.7 324.9q36.7 6.2 72 .2"/><path d="M506.1 327.5q-45.4 30.8-76.5 74"/><path d="M517.7 319.8q45.3-30.8 76.4-74.1"/><path d="M507.9 317.9q-32-44.5-76.1-74.4"/><path d="M515.9 329.3q32 44.5 76.1 74.5"/><path d="M513.1 316.8q6-35.6 .3-69.7"/></g><g class="b"><path d="M507.9 329.3q-22.2 32.8-31.9 69.6"/><path d="M509.6 330.2q-11.2 34.1-10.6 68.4"/><path d="M511.7 330.6q-.6 35.8 10.1 68.4"/><path d="M513.5 330.4q10.2 38.2 31.5 69.7"/><path d="M506 327.4q-30.8 20.2-52.3 48.3"/><path d="M507.1 328.7q-19 21.2-29.9 45.9"/><path d="M509.3 330q-8.5 22-9.7 44"/><path d="M512.1 330.6q1.4 23.5 9.2 44"/><path d="M514.5 330q11.5 26.2 29.5 46.2"/><path d="M516 329.2q22.5 29.2 52 48.7"/><path d="M505 324.9q-40.4 8.2-74.4 28.5"/><path d="M505.3 325.8q-27.9 9.7-50 26.7"/><path d="M506 327.3q-15.7 10.5-26.8 23.9"/><path d="M508.5 329.7q-5.3 10.1-7.6 19.8"/><path d="M513.2 330.4q2.6 11.2 7.2 20"/><path d="M516.2 329.1q12 14.5 26.5 24.2"/><path d="M517.3 328q23.4 18 49.8 27.2"/><path d="M517.8 327.3q35.4 21.1 74.3 28.9"/><path d="M504.9 323.1q-38.1-2.3-73.4 7.7"/><path d="M504.9 323.4q-25.4-.1-48.2 7.1"/><path d="M504.9 324.2q-12.7 1.5-23.2 5.7"/></g><g class="bx"><path d="M505.9 327.2Q505.1 327.8 505.5 327.4M511.5 326.1L505.5 327.4 508.1 321.8Z"/><path d="M516.9 328.4Q517.7 329.1 517.3 328.8M514.4 323.3L517.3 328.8 511.2 327.8Z"/></g><g class="b"><path d="M518.2 326.4q12 4.7 23.2 6"/><path d="M518.5 325.9q24.2 7.6 48.1 7.5"/><path d="M518.5 325.6q36.8 10.4 73.5 8.2"/><path d="M505.4 321.2q-36.5-12.7-73.6-12.7"/><path d="M505.5 320.8q-24-9.8-48.4-11.7"/><path d="M505.9 320q-11.9-6.6-23.7-9.6"/></g><g class="bx"><path d="M508.1 317.8Q506.4 315.4 505.4 314.4M507.2 320.3L505.4 314.4 511.2 316.5Z"/><path d="M517 318.9Q519 316.8 519.9 315.7M514.3 318.5L519.9 315.7 518.8 321.8Z"/></g><g class="b"><path d="M518.7 322.2q13.2-3.4 23.8-9.3"/><path d="M518.8 323.2q25.9-2 48.5-11.3"/><path d="M518.8 323.7q38.6 0 73.6-12.2"/><path d="M506.7 318.9q-23.1-20.4-50.2-31.8"/><path d="M508 317.8q-12-17-27.3-28.8"/><path d="M510.9 316.7q-2.5-13.8-7.8-25.2"/><path d="M515 317.4q6.1-12.7 8.3-25.1"/><path d="M517.5 319.5q16.5-12.8 27.6-28.5"/><path d="M518.3 321q28.5-11.9 50.5-31.4"/><path d="M508 317.9q-22.2-31.9-52.4-53.7"/><path d="M509.5 317.1q-11.2-28.8-30-51.4"/><path d="M511.8 316.7q-1-26.3-9.5-49.5"/><path d="M514.4 317.1q9-24.6 9.9-49.3"/><path d="M516.4 318.4q19.8-23.8 30.5-51.1"/><path d="M517.6 319.6q31.4-22.7 52.8-53.3"/><path d="M512.2 316.7q1-38.6-10.3-74"/><path d="M514.1 317q11.7-36.8 10.8-73.8"/></g><g class="c"><path d="M597.8 330.4q-6 35.6-.3 69.7"/><path d="M600.3 316.8q6-35.6 .2-69.7"/><path d="M592.2 322.4q-36.8-6.2-72-.3"/><path d="M605.8 324.9q36.8 6.2 72 .2"/><path d="M593.2 327.5q-45.3 30.8-76.4 74"/><path d="M604.8 319.8q45.4-30.8 76.5-74.1"/><path d="M595 317.9q-32-44.5-76.1-74.4"/><path d="M603 329.3q32 44.5 76.1 74.5"/><path d="M595 317.9q-32-44.5-76.1-74.4"/></g><g class="b"><path d="M595.9 329.8q-16 33.5-19.9 68.8"/><path d="M597.9 330.5q-5.3 35 .9 68.3"/><path d="M599.9 330.5q5.3 37.1 21.8 69.1"/><path d="M592.9 326.9q-36.2 19.7-62.8 49.2"/><path d="M593.7 328.1q-24.2 20.8-39.7 47"/><path d="M595.3 329.5q-13 21.6-18.4 44.7"/><path d="M598 330.5q-3 22.7 .8 43.6"/><path d="M600.7 330.3q6.9 24.9 20.2 45.1"/><path d="M602.6 329.6q17.5 27.8 41.8 47.6"/><path d="M603.7 328.8q28.9 31 65.1 49.8"/><path d="M592.3 325.3q-33.4 9.1-60.8 27.7"/><path d="M592.7 326.5q-21 10.3-36.8 25.4"/><path d="M594.2 328.6q-9.6 10.4-15.4 21.6"/><path d="M598.2 330.5q-.8 10.3 .6 19"/><path d="M602.3 329.7q7.6 13 17.2 22.4"/><path d="M604.1 328.4q18.2 16.5 39.1 26"/><path d="M604.8 327.5q30 19.8 63.3 28.3"/><path d="M592.1 323.3q-31.1-1.1-59.5 7.4"/><path d="M592.1 323.8q-18.4 .8-34.3 6.4"/><path d="M592.3 325.2q-5.8 1.8-9.8 3.8"/></g><g class="bx"><path d="M599.6 330.5Q600 331.9 599.9 331.7M600.7 325.6L599.9 331.7 595.4 327.4Z"/></g><g class="b"><path d="M605.1 326.9q6.7 3.2 12.3 4.6"/><path d="M605.5 326q18.8 6.4 37 7.1"/><path d="M605.7 325.7q31.2 9.2 62.1 8"/><path d="M592.5 321.3q-42.1-13.9-84.8-13"/><path d="M592.6 321q-29.6-11.1-59.6-12.2"/><path d="M592.8 320.5q-17.2-8.2-34.5-10.8"/><path d="M593.8 319.1q-5.8-4.5-10.9-7.1"/></g><g class="bx"><path d="M600.4 316.8Q600.5 316.2 600.4 317.1M597.2 322.4L600.4 317.1 602.8 322.8Z"/></g><g class="b"><path d="M605.5 321.2q7.9-3.4 13.5-7.4"/><path d="M605.9 322.9q20.3-2.8 37.5-10.6"/><path d="M606 323.5q32.9-.9 62.4-11.9"/><path d="M593.6 319.3q-28.4-21.9-61-32.8"/><path d="M594.5 318.4q-16.9-18.6-37.2-30.3"/><path d="M596.5 317.2q-6.5-15.2-15.9-26.8"/><path d="M600.4 316.8q2.2-12.9 1.1-24.4"/><path d="M603.8 318.6q11.6-12.8 18.4-26.9"/><path d="M605.2 320.4q23.1-12.4 40.1-30.2"/><path d="M605.7 321.6q35.4-11.2 63.9-32.5"/><path d="M594.7 318.2q-27.3-33.2-62.8-54.6"/><path d="M595.9 317.4q-16-30.1-39.8-52.4"/><path d="M597.8 316.8q-5.4-27.3-18.4-50.2"/><path d="M600.4 316.8q4.5-25.2 1.3-49.1"/><path d="M602.8 317.8q14.9-24.1 21.1-50.2"/><path d="M604.3 319.1q26.2-23.2 42.6-52.3"/><path d="M598.5 316.7q-3.8-39.6-19.7-74.4"/><path d="M602.2 317.4q17.9-35.9 22.6-74.3"/></g><g class="c"><path d="M684.9 330.4q-6 35.6-.2 69.7"/><path d="M687.4 316.8q6-35.6 .3-69.7"/><path d="M679.3 322.4q-36.7-6.2-71.9-.3"/><path d="M693 324.9q36.7 6.2 72 .2"/><path d="M680.4 327.5q-45.4 30.8-76.5 74"/><path d="M692 319.8q45.3-30.8 76.4-74.1"/><path d="M682.2 317.9q-32-44.5-76.1-74.4"/><path d="M690.2 329.3q32 44.5 76.1 74.5"/><path d="M692 319.8q45.3-30.8 76.4-74.1"/></g><g class="b"><path d="M682.4 329.4q-21 32.9-29.5 69.4"/><path d="M684.1 330.3q-9.9 34.2-8.3 68.3"/><path d="M686.2 330.6q.6 36.1 12.4 68.5"/><path d="M688 330.3q11.3 38.6 33.9 70"/><path d="M680.4 327.5q-29.5 20.4-49.7 48"/><path d="M681.6 328.9q-17.8 21.3-27.5 45.6"/><path d="M683.9 330.2q-7.3 22.1-7.6 43.8"/><path d="M686.7 330.5q2.5 23.8 11.4 44.2"/><path d="M689 329.9q12.7 26.5 32 46.5"/><path d="M690.4 329.1q23.8 29.6 54.6 48.9"/><path d="M679.4 325q-39.1 8.3-71.8 28.3"/><path d="M679.6 325.9q-26.5 9.9-47.3 26.5"/><path d="M680.4 327.6q-14.4 10.5-24.3 23.4"/><path d="M683.2 329.9q-4.3 10.1-5.8 19.5"/><path d="M688 330.3q3.5 11.5 9 20.4"/><path d="M690.6 328.9q13.3 15 29 24.6"/><path d="M691.7 327.9q24.7 18.3 52.4 27.4"/><path d="M692.1 327.2q36.8 21.5 77.1 29.1"/><path d="M679.2 323.1q-36.7-2-70.6 7.7"/><path d="M679.2 323.5q-24 .1-45.4 7"/><path d="M679.3 324.3q-11.4 1.7-20.5 5.4"/></g><g class="bx"><path d="M680.7 327.9Q678.3 330.3 677.2 331.9M682.6 328.9L677.2 331.9 678.1 325.8Z"/><path d="M691.6 328Q693.4 329.2 694 329.5M690.5 324.4L694 329.5 687.8 329.3Z"/></g><g class="b"><path d="M692.6 326.3q13.3 5.1 25.9 6.3"/><path d="M692.8 325.8q25.6 8 50.9 7.7"/><path d="M692.8 325.6q38.2 10.7 76.3 8.2"/><path d="M679.7 321.2q-35.1-12.4-70.8-12.7"/><path d="M679.8 320.8q-22.6-9.6-45.6-11.6"/><path d="M680.3 319.9q-10.6-6.3-21-9.2"/></g><g class="bx"><path d="M683.1 317.4Q682 315.6 681.7 315.1M682.7 321.3L681.7 315.1 687.2 318Z"/></g><g class="b"><path d="M691.8 319.5q3-2.5 4.5-4.3"/><path d="M693 322.3q14.7-3.2 26.5-9.5"/><path d="M693.1 323.3q27.3-1.8 51.3-11.4"/><path d="M693.1 323.8q40.1 .2 76.4-12.4"/><path d="M680.5 319.6q-33.8-23.2-71.8-33.5"/><path d="M681.1 318.8q-21.9-20-47.6-31.5"/><path d="M682.5 317.7q-10.8-16.6-24.9-28.4"/><path d="M685.6 316.7q-1.5-13.6-5.9-24.9"/><path d="M689.7 317.7q7.1-12.8 10.2-25.5"/><path d="M691.9 319.7q17.8-12.7 30-28.9"/><path d="M692.7 321.2q29.8-11.9 53.1-31.7"/><path d="M682.4 317.8q-20.9-31.5-49.8-53.4"/><path d="M684 317q-10.1-28.5-27.7-51.1"/><path d="M686.3 316.7q.2-26-7.3-49.3"/><path d="M689 317.3q10.1-24.6 12.1-49.5"/><path d="M690.9 318.5q21-23.6 32.8-51.3"/><path d="M691.9 319.8q32.9-22.6 55.4-53.6"/><path d="M684.8 316.8q-8.5-40.7-29.3-74.9"/><path d="M686.7 316.7q2.2-38.4-7.9-73.9"/><path d="M688.6 317.1q13-36.6 13.1-73.9"/></g><g class="c"><path d="M772.1 330.4q-6 35.6-.3 69.7"/><path d="M774.6 316.8q5.9-35.6 .2-69.7"/><path d="M766.5 322.4q-36.8-6.2-72-.3"/><path d="M780.1 324.9q36.8 6.2 72 .2"/><path d="M767.5 327.5q-45.3 30.8-76.4 74"/><path d="M779.1 319.8q45.4-30.8 76.5-74.1"/><path d="M769.3 317.9q-32-44.5-76.1-74.4"/><path d="M777.3 329.3q32 44.5 76.1 74.5"/><path d="M774.6 316.8q5.9-35.6 .2-69.7"/></g><g class="b"><path d="M768.9 329q-26 32.3-39.2 70"/><path d="M770.4 329.9q-14.8 33.7-17.6 68.7"/><path d="M772.4 330.5q-4.1 35.2 3.2 68.3"/><path d="M774.4 330.5q6.5 37.4 24.2 69.2"/><path d="M767.2 327q-34.8 19.8-60.1 49"/><path d="M768.1 328.2q-22.9 21-37.2 46.8"/><path d="M769.9 329.6q-11.9 21.7-16.2 44.5"/><path d="M772.6 330.5q-1.8 22.9 2.9 43.7"/><path d="M775.3 330.3q8 25.1 22.5 45.3"/><path d="M777.1 329.5q18.7 28.2 44.2 47.9"/><path d="M778.1 328.7q30.1 31.3 67.7 50.1"/><path d="M766.6 325.4q-32 9.3-58.1 27.5"/><path d="M767.1 326.7q-19.7 10.4-34.3 25"/><path d="M768.8 328.9q-8.5 10.3-13.3 21.1"/><path d="M773.1 330.6q0 10.4 2.1 19"/><path d="M776.9 329.6q8.6 13.3 19.4 22.8"/><path d="M778.5 328.3q19.5 16.9 41.8 26.3"/><path d="M779.1 327.5q31.4 20.1 66.1 28.4"/><path d="M779.4 326.9q43.6 23.1 90.9 29.8"/><path d="M779.6 326.6q56 25.9 116 30.6"/><path d="M766.4 323q-42.4-3-81.9 7.9"/><path d="M766.4 323.3q-29.7-.8-56.7 7.3"/><path d="M766.4 323.9q-17 1-31.5 6.2"/><path d="M766.7 325.6q-4.5 1.6-7.2 3.1"/></g><g class="bx"><path d="M775.7 330.1Q776.5 331.7 776.6 331.9M775.7 325.8L776.6 331.9 771.2 329Z"/></g><g class="b"><path d="M779.5 326.8q8 3.5 15 5"/><path d="M779.8 326q20.2 6.7 39.8 7.2"/><path d="M780 325.7q32.6 9.5 65 8"/><path d="M780 325.5q45.2 12.2 90.3 8.5"/><path d="M780 325.4q57.8 14.8 115.6 8.8"/><path d="M766.8 321.3q-40.7-13.7-82-13"/><path d="M766.9 321q-28.2-10.9-56.8-12.2"/><path d="M767.2 320.4q-15.9-7.8-31.9-10.6"/><path d="M768.3 318.8q-4.6-4-8.5-6.3"/></g><g class="bx"><path d="M775.9 317.2Q776.2 316.3 776 316.9M772 321.6L776 316.9 777.4 323Z"/></g><g class="b"><path d="M779.9 321.5q9.2-3.4 16-8"/><path d="M780.2 323q21.7-2.6 40.2-10.8"/><path d="M780.3 323.6q34.4-.7 65.2-12"/><path d="M780.3 323.9q47.1 1.5 90.4-12.6"/><path d="M780.2 324.1q59.8 3.8 115.7-13"/><path d="M768 319.2q-27.2-21.5-58.3-32.5"/><path d="M768.9 318.3q-15.6-18.2-34.7-30"/><path d="M771.1 317q-5.4-14.8-13.7-26.3"/><path d="M775.2 316.9q3.1-12.8 2.8-24.5"/><path d="M778.4 318.8q12.7-12.8 20.6-27.3"/><path d="M779.6 320.6q24.4-12.3 42.6-30.6"/><path d="M780 321.7q36.8-11 66.6-32.7"/><path d="M780.2 322.4q49.3-9.3 91.3-34.1"/><path d="M780.2 322.9q62.1-7.3 116.3-35"/><path d="M769.1 318.1q-26-32.9-60.2-54.4"/><path d="M770.3 317.3q-14.8-29.7-37.3-52.1"/><path d="M772.4 316.7q-4.4-27-16.2-49.9"/><path d="M775 316.9q5.6-25.1 3.5-49.2"/><path d="M777.3 317.9q16.1-24 23.4-50.4"/><path d="M778.7 319.2q27.5-23.1 45.2-52.6"/><path d="M779.4 320.3q39.6-21.8 68.5-54.6"/><path d="M773 316.7q-2.6-39.4-17.4-74.2"/><path d="M776.7 317.5q19.1-35.8 25-74.4"/></g><g class="c"><path d="M859.2 330.4q-6 35.6-.2 69.7"/><path d="M861.7 316.8q6-35.6 .3-69.7"/><path d="M853.6 322.4q-36.7-6.2-71.9-.3"/><path d="M854.7 327.5q-45.4 30.8-76.5 74"/><path d="M856.5 317.9q-32-44.5-76.1-74.4"/><path d="M856.5 317.9q-32-44.5-76.1-74.4"/></g><g class="b"><path d="M860.3 330.6q-.2 48.7 15.5 93.1"/><path d="M861.8 330.4q10.8 51.2 37.7 94.2"/><path d="M856.8 329.5q-19.7 33.1-27.1 69.2"/><path d="M858.6 330.3q-8.7 34.5-6 68.3"/><path d="M860.7 330.6q1.8 36.3 14.8 68.7"/><path d="M862.5 330.3q12.5 38.8 36.3 70.1"/><path d="M854.8 327.6q-28.1 20.6-47.2 47.8"/><path d="M856.1 329q-16.6 21.4-25.2 45.4"/><path d="M858.5 330.3q-6.2 22.2-5.5 43.7"/><path d="M861.3 330.5q3.6 24 13.6 44.4"/><path d="M863.5 329.8q13.9 26.9 34.4 46.8"/><path d="M853.7 325.1q-37.6 8.5-69 28.1"/><path d="M854 326.1q-25.1 9.9-44.7 26.2"/><path d="M854.9 327.8q-13.2 10.5-22 23"/><path d="M858 330.1q-3.4 10.1-4.1 19.2"/><path d="M862.7 330.2q4.5 11.8 10.9 20.9"/><path d="M865.1 328.8q14.5 15.3 31.5 25"/><path d="M853.5 323.2q-35.3-1.8-67.8 7.5"/><path d="M853.5 323.5q-22.6 .3-42.6 6.9"/><path d="M853.6 324.5q-9.9 1.7-17.8 5.1"/></g><g class="bx"><path d="M855.9 328.9Q854.5 330.9 854.1 331.8M859 327.9L854.1 331.8 853.9 325.6Z"/><path d="M866.1 327.6Q869.1 329.4 870.8 330.2M866.8 325.4L870.8 330.2 864.6 330.5Z"/></g><g class="b"><path d="M866.9 326.2q14.6 5.4 28.7 6.5"/><path d="M854 321.2q-33.7-12.2-68-12.6"/><path d="M854.2 320.7q-21.3-9.2-42.9-11.4"/><path d="M854.7 319.7q-9.4-5.8-18.4-8.8"/></g><g class="bx"><path d="M858.3 317Q857.7 315.7 857.8 315.9M857.8 322.1L857.8 315.9 862.8 319.6Z"/></g><g class="b"><path d="M866.4 320q4.1-2.8 6.5-5.2"/><path d="M867.3 322.5q16.1-3.2 29.3-9.9"/><path d="M854.9 319.5q-32.5-22.9-69.2-33.3"/><path d="M855.5 318.7q-20.6-19.7-44.9-31.2"/><path d="M857.1 317.6q-9.7-16.3-22.6-28.1"/><path d="M860.4 316.7q-.6-13.4-4.2-24.7"/><path d="M864.4 317.9q8.1-12.8 12.1-25.8"/><path d="M866.3 319.9q19.1-12.7 32.5-29.3"/><path d="M856.8 317.7q-19.7-31.2-47.3-53.2"/><path d="M858.5 317q-8.9-28.2-25.3-50.9"/><path d="M860.9 316.7q1.3-25.8-5.1-49.2"/><path d="M863.5 317.4q11.4-24.4 14.4-49.6"/><path d="M865.3 318.7q22.4-23.6 35.3-51.6"/><path d="M859.3 316.8q-7.3-40.5-26.9-74.8"/><path d="M861.2 316.7q3.4-38.2-5.6-73.8"/><path d="M863.1 317.2q14.2-36.5 15.5-74"/><path d="M864.6 318q25.4-35.1 37.1-75.2"/><path d="M862.8 317.1q16.9-48.6 16.1-98.6"/><path d="M864.1 317.7q28.3-47 38.4-99.3"/></g><g class="c"><path d="M162 245.6q-6 35.6-.2 69.7"/><path d="M164.5 231.9q6-35.5 .3-69.6"/><path d="M170.1 240q36.8 6.2 72 .3"/><path d="M169.1 234.9q45.3-30.8 76.4-74"/><path d="M167.3 244.5q32 44.5 76.1 74.4"/><path d="M170.1 240q36.8 6.2 72 .3"/></g><g class="b"><path d="M159.7 244.7q-28.9 49.7-38.6 104.8"/><path d="M159.3 244.4q-26.1 37.8-37.5 80.6"/><path d="M160.7 245.2q-14.8 39.2-15.6 79.5"/><path d="M162.5 245.7q-3.9 40.9 5.7 79.3"/><path d="M158.6 243.9q-23 26.1-35.7 56.8"/><path d="M160.4 245.1q-12 27.1-14.7 55"/><path d="M162.7 245.7q-1.7 28.6 5.3 54.7"/><path d="M165 245.5q8.6 30.9 25.7 56.1"/><path d="M166.7 244.8q19.4 33.8 47.7 58.3"/><path d="M157.7 242.8q-19.8 15-33.2 34.1"/><path d="M159.6 244.7q-8.9 15.3-12.7 30.9"/><path d="M163.2 245.7q.2 16.2 4.5 30.2"/><path d="M166.3 245q9.6 18.9 23.3 33"/><path d="M167.9 244q20.4 22.1 45.5 35.9"/><path d="M168.7 243.2q32.1 25.3 69.4 38.1"/><path d="M156.6 240.6q-16.7 5.1-29.9 13.9"/><path d="M157.9 243.2q-5 4.7-8.2 9"/><path d="M164.6 245.6q1 3.8 2 6.1"/><path d="M168.5 243.4q9.5 7.9 19.3 12.5"/><path d="M169.3 242.2q21.1 11.5 43.2 15.7"/><path d="M169.6 241.6q33.4 14.5 68.1 17.2"/><path d="M156.6 237q-14.8-3.5-28.4-2.9"/></g><g class="bx"><path d="M156.7 236.4Q154.4 235.7 153.4 235.6M158.5 239.3L153.4 235.6 159.4 233.8Z"/><path d="M169.4 235.4Q169.8 235.1 169.1 235.7M163.1 237.3L169.1 235.7 166.8 241.5Z"/></g><g class="b"><path d="M170.2 239q9.5-.1 17.2-2"/><path d="M170.2 239.5q22.2 1.8 42.5-2.8"/><path d="M170.2 239.7q34.9 4.1 67.7-3.1"/><path d="M158.2 234q-14.5-13-30.7-20.5"/><path d="M160.5 232.4q-4.4-9.2-9.9-16"/><path d="M165.9 232.4q2.7-7.5 3.6-13.9"/><path d="M169.2 235.1q12.3-8.3 21-18.5"/><path d="M169.9 236.8q24.5-7.7 44.2-21.7"/><path d="M170.1 237.7q37.1-6.2 68.7-23.5"/><path d="M159.9 232.7q-14-24.2-33.8-41.7"/><path d="M162.2 231.9q-3.9-21.2-13.1-39"/><path d="M165.4 232.1q5.5-19.5 5.2-38.2"/><path d="M167.9 233.6q15.8-18.9 24.6-40.3"/><path d="M169.1 235q27.5-18.1 46.7-42.8"/><path d="M161 232.2q-12.8-36.2-35.9-64.9"/><path d="M162.9 231.8q-2.2-33.6-14.5-63.2"/><path d="M165.1 232.1q8.3-31.7 5.9-62.9"/><path d="M167.1 232.9q19-30.4 26.7-63.8"/><path d="M168.4 234q30.5-29.2 48.8-65.6"/><path d="M161.8 232q-11.2-48.4-37.4-88.8"/><path d="M163.3 231.8q-.2-45.9-15.3-87.7"/><path d="M165 232.1q10.8-44 6.3-87.5"/><path d="M166.5 232.6q22-42.3 28.1-88"/><path d="M162.3 231.9q-9.3-60.7-38.4-113"/><path d="M163.6 231.8q2-58.3-15.9-112.2"/><path d="M164.9 232q13.3-56.2 6.5-112.1"/><path d="M166.2 232.5q24.7-54.4 28.9-112.5"/></g><g class="c"><path d="M249.2 245.6q-6 35.6-.3 69.7"/><path d="M251.7 231.9q6-35.5 .2-69.6"/><path d="M243.6 237.5q-36.7-6.2-72-.2"/><path d="M257.3 240q36.7 6.2 71.9 .3"/><path d="M244.6 242.6q-45.3 30.8-76.4 74.1"/><path d="M256.2 234.9q45.4-30.8 76.5-74"/><path d="M246.4 233.1q-32-44.5-76.1-74.5"/><path d="M254.4 244.5q32 44.5 76.1 74.4"/></g><g class="cx"><path d="M250.4 238.8Q250.4 238.8 250.4 240.3M247.6 245.9L250.4 240.3 253.2 245.9Z"/></g><g class="b"><path d="M250.7 245.7q2.1 42.1 17.5 79.7"/><path d="M245.2 243.4q-28.2 25.6-45.6 57.7"/><path d="M246.6 244.6q-16.8 26.6-23.8 55.7"/><path d="M248.8 245.5q-6.2 27.8-3.6 54.6"/><path d="M251.2 245.7q4 29.7 16.5 55.3"/><path d="M253.2 245.2q14.5 32.4 37.7 57.2"/><path d="M254.4 244.4q25.8 35.5 60.7 59.4"/><path d="M243.7 240.3q-50 11.7-91.6 38.9"/><path d="M243.9 241q-37.4 13.4-67.1 37.5"/><path d="M244.4 242.2q-25.1 14.6-43.3 35.3"/><path d="M245.7 243.8q-13.5 15.3-21.4 32.3"/><path d="M248.6 245.5q-3.6 15.5-3 30"/><path d="M252.3 245.5q5.2 17.5 14.4 31.4"/><path d="M254.5 244.4q15.5 20.7 35.3 34.7"/><path d="M255.5 243.5q26.9 24 58.7 37.3"/><path d="M243.5 238.6q-60.3-1.4-115.8 17.9"/><path d="M243.5 238.8q-47.6 1-90.6 17.4"/><path d="M243.5 239.3q-34.9 2.9-65.5 16.5"/><path d="M243.6 240q-22.2 4.7-40.7 15"/><path d="M244.2 241.8q-10 5.2-17.1 11.6"/><path d="M248.1 245.3q-.9 3.5-1.2 5.5"/><path d="M254.6 244.3q5 6.1 10 10"/><path d="M256.2 242.6q15.8 10 32.4 14.6"/><path d="M256.7 241.8q27.9 13.2 57 16.6"/><path d="M256.8 241.4q40.3 16.1 82.1 17.7"/><path d="M243.6 237.3q-58.2-12.4-115.5-3.9"/><path d="M243.7 237.2q-45.6-9.7-90.3-3.7"/><path d="M243.7 237.2q-33-7.2-65-3.6"/><path d="M243.7 237.1q-20.4-4.7-39.6-3.2"/><path d="M243.8 236.8q-7.9-2-14.4-2.2"/></g><g class="bx"><path d="M250.4 238.8Q248.7 236.3 247.5 235.5M250.7 240.9L247.5 235.5 253.7 236.2Z"/></g><g class="b"><path d="M257.4 238.4q3.8-.5 6-1.1"/><path d="M257.3 239.3q16.6 .9 31.3-2.5"/><path d="M257.3 239.6q29.3 3.1 56.5-3"/><path d="M244 236q-56.3-23.4-115.8-25.7"/><path d="M244.2 235.7q-43.9-20.6-90.7-25"/><path d="M244.4 235.3q-31.6-17.7-65.7-23.9"/><path d="M244.9 234.5q-19.6-14.5-41.2-21.9"/><path d="M246.3 233.2q-8.6-10.9-18.4-18.3"/><path d="M250.5 231.8q-.3-7.7-1.9-13.6"/><path d="M255.4 233.9q7.5-8 12.2-16.3"/><path d="M256.9 236.2q19-8.2 33.5-20.5"/><path d="M257.2 237.4q31.5-7 57.7-22.9"/><path d="M244.6 235q-54.7-34.8-116.6-47.9"/><path d="M244.9 234.5q-42.4-31.8-91.7-46.7"/><path d="M245.4 233.9q-30.4-28.8-67.3-45.1"/><path d="M246.4 233.1q-18.9-25.6-43.8-42.9"/><path d="M248.2 232.2q-8.3-22.5-22-40.2"/><path d="M251.1 231.9q1.4-20.1-2.8-38.3"/><path d="M254.1 232.9q11.1-19.1 15.7-39.2"/><path d="M255.8 234.4q22.2-18.5 36.6-41.7"/><path d="M256.7 235.7q34.2-17.5 59.6-44.1"/><path d="M245.2 234.2q-53-46.4-117.5-70.5"/><path d="M245.7 233.7q-41-43.4-93-69.2"/><path d="M246.4 233.1q-29.1-40.4-69-67.6"/><path d="M247.5 232.5q-17.7-37.5-45.8-65.8"/><path d="M249.2 231.9q-6.9-34.6-23.9-63.8"/><path d="M251.3 231.9q3.6-32.5-3.1-62.9"/><path d="M253.4 232.5q14.2-30.9 17.4-63.3"/><path d="M255 233.6q25.3-29.8 38.8-64.9"/><path d="M245.9 233.5q-51.4-58.1-118.6-93.5"/><path d="M246.4 233.1q-39.3-55.3-94.3-92.3"/><path d="M247.2 232.6q-27.6-52.4-70.5-90.8"/><path d="M248.3 232.2q-16.2-49.6-47.4-89.4"/><path d="M249.8 231.9q-5.1-47-25.1-88.2"/><path d="M251.4 231.9q5.9-44.8-3.3-87.5"/><path d="M253.1 232.3q16.9-43 18.2-87.7"/><path d="M254.4 233.1q28.3-41.5 40.4-88.7"/><path d="M246.5 233.1q-49.6-70.1-119.7-116.9"/><path d="M247.1 232.7q-37.7-67.3-95.5-115.8"/><path d="M247.9 232.3q-25.9-64.5-71.8-114.6"/><path d="M248.9 232q-14.3-61.8-48.5-113.4"/><path d="M250.1 231.8q-3-59.3-25.8-112.5"/><path d="M251.5 231.9q8.3-57.1-3.5-112.1"/><path d="M252.8 232.3q19.6-55.3 18.9-112.3"/></g><g class="c"><path d="M336.3 245.6q-6 35.6-.2 69.7"/><path d="M338.8 231.9q6-35.5 .3-69.6"/><path d="M330.7 237.5q-36.7-6.2-71.9-.2"/><path d="M344.4 240q36.7 6.2 72 .3"/><path d="M331.8 242.6q-45.4 30.8-76.5 74.1"/><path d="M343.4 234.9q45.3-30.8 76.4-74"/><path d="M333.6 233.1q-32-44.5-76.1-74.5"/><path d="M341.6 244.5q32 44.5 76.1 74.4"/><path d="M330.7 237.5q-36.7-6.2-71.9-.2"/></g><g class="b"><path d="M335.2 245.3q-13.5 39.3-13.2 79.4"/><path d="M337 245.7q-2.7 41.1 8 79.3"/><path d="M332 242.9q-33.5 25-55.9 58.5"/><path d="M333.1 244q-21.8 26.2-33.4 56.6"/><path d="M334.9 245.2q-10.8 27.2-12.4 54.9"/><path d="M337.3 245.7q-.6 28.8 7.5 54.8"/><path d="M339.5 245.4q9.8 31.2 28.1 56.4"/><path d="M341.1 244.8q20.7 34.1 50.3 58.4"/><path d="M331.2 241.6q-30.5 14.2-53.6 36.4"/><path d="M332.1 243q-18.5 15.1-30.8 33.7"/><path d="M334.2 244.9q-7.8 15.3-10.7 30.7"/><path d="M337.9 245.7q1.2 16.4 6.4 30.3"/><path d="M340.8 244.9q10.8 19.2 25.6 33.3"/><path d="M342.3 243.9q21.7 22.5 48.1 36.2"/><path d="M343 243.1q33.5 25.7 72.2 38.3"/><path d="M330.6 239q-40.5 2.1-76.6 17"/><path d="M330.7 239.6q-27.8 4-51.6 15.8"/><path d="M330.9 240.8q-15.2 5.2-27.2 13.5"/><path d="M332.6 243.7q-4 4.4-6.3 8.2"/><path d="M339.7 245.4q1.6 4.2 3.1 6.8"/><path d="M342.9 243.2q10.8 8.4 21.9 13"/><path d="M343.7 242.1q22.4 11.8 45.9 15.9"/><path d="M343.9 241.6q34.8 14.8 70.9 17.2"/><path d="M330.8 237.1q-25.9-5.8-50.8-3.4"/><path d="M330.9 237q-13.4-3.2-25.6-2.8"/></g><g class="bx"><path d="M331.1 236.2Q330.1 235.9 330.5 236M335.3 240L330.5 236 336.5 234.6Z"/><path d="M344.2 236.6Q345.8 235.7 346.1 235.5M340 236.3L346.1 235.5 343.1 240.9Z"/></g><g class="b"><path d="M344.5 239.1q10.9 0 20-2.2"/><path d="M344.5 239.5q23.6 2.1 45.3-2.8"/><path d="M344.5 239.7q36.3 4.3 70.5-3.1"/><path d="M331.4 235.5q-37-19-76.8-24.4"/><path d="M331.8 234.9q-24.9-16-52-22.9"/><path d="M332.7 233.9q-13.3-12.6-28.2-20.2"/><path d="M335.3 232.2q-3.5-8.8-8.1-15.4"/><path d="M340.8 232.6q3.6-7.6 5.1-14.2"/><path d="M343.6 235.3q13.7-8.3 23.5-18.9"/><path d="M344.3 236.9q25.8-7.6 46.8-21.9"/><path d="M344.5 237.8q38.4-6 71.4-23.7"/><path d="M333.1 233.5q-24-27-54.1-44"/><path d="M334.4 232.6q-12.8-23.8-31.3-41.4"/><path d="M336.8 231.9q-2.8-21-11-38.8"/><path d="M340 232.3q6.7-19.4 7.3-38.4"/><path d="M342.4 233.7q17.1-18.8 26.9-40.5"/><path d="M343.5 235.2q28.8-18 49.2-43.1"/><path d="M334.1 232.7q-22.7-38.7-56-66.5"/><path d="M335.5 232.1q-11.6-35.8-33.5-64.6"/><path d="M337.5 231.8q-1.1-33.3-12.3-63.1"/><path d="M339.7 232.2q9.4-31.6 8.2-62.9"/><path d="M341.5 233.1q20.3-30.3 29.2-64.1"/><path d="M342.8 234.2q31.8-29.2 51.3-65.9"/><path d="M336.2 232q-9.9-48.1-34.9-88.7"/><path d="M337.8 231.8q1-45.7-12.9-87.6"/><path d="M339.5 232.1q12-43.8 8.7-87.5"/><path d="M341 232.7q23.2-42.1 30.5-88.1"/><path d="M336.7 231.9q-8-60.4-35.8-112.9"/><path d="M338 231.8q3.3-58-13.3-112.2"/><path d="M339.4 232.1q14.5-56.1 8.9-112.1"/><path d="M340.6 232.5q26-54.2 31.4-112.5"/></g><g class="c"><path d="M423.5 245.6q-6 35.6-.3 69.7"/><path d="M426 231.9q6-35.5 .2-69.6"/><path d="M417.9 237.5q-36.7-6.2-72-.2"/><path d="M431.6 240q36.7 6.2 71.9 .3"/><path d="M418.9 242.6q-45.3 30.8-76.4 74.1"/><path d="M430.5 234.9q45.4-30.8 76.5-74"/><path d="M420.7 233.1q-32-44.5-76.1-74.5"/><path d="M428.7 244.5q32 44.5 76.1 74.4"/><path d="M431.6 240q36.7 6.2 71.9 .3"/></g><g class="b"><path d="M425.2 245.7q3.3 42.4 19.9 79.8"/><path d="M419.6 243.5q-26.8 25.7-43.1 57.5"/><path d="M421.1 244.7q-15.5 26.7-21.5 55.5"/><path d="M423.4 245.6q-5.1 28-1.4 54.6"/><path d="M425.8 245.6q5.1 30.1 18.7 55.5"/><path d="M427.6 245.1q15.8 32.8 40.3 57.5"/><path d="M418.2 241.1q-36 13.6-64.3 37.3"/><path d="M418.8 242.3q-23.8 14.8-40.7 35"/><path d="M420.2 244.1q-12.3 15.2-19.1 31.9"/><path d="M423.4 245.6q-2.7 15.7-1.2 29.9"/><path d="M426.9 245.4q6.3 17.8 16.6 31.8"/><path d="M428.9 244.3q16.7 21.1 37.9 35.1"/><path d="M429.9 243.4q28.2 24.3 61.4 37.5"/><path d="M417.8 239.3q-33.5 3.2-62.7 16.4"/><path d="M417.9 240.2q-20.8 4.8-37.9 14.7"/><path d="M418.6 242.1q-8.6 5.1-14.7 11.1"/></g><g class="bx"><path d="M423.3 245.6Q422.9 249 422.9 250.8M425.7 245.3L422.9 250.8 420.1 245.3Z"/></g><g class="b"><path d="M429.2 244.1q6.1 6.5 12.2 10.7"/><path d="M430.6 242.5q17.1 10.4 35 14.9"/><path d="M431 241.8q29.3 13.5 59.8 16.7"/><path d="M418 237.2q-31.6-7-62.2-3.6"/><path d="M418 237.1q-19-4.4-36.8-3.2"/><path d="M418.1 236.7q-6.5-1.6-11.6-1.9"/></g><g class="bx"><path d="M424.7 238.8Q424.4 236.6 424.1 236M424.5 242.2L424.1 236 429.3 239.4Z"/></g><g class="b"><path d="M431.7 238.6q5.2-.5 8.8-1.4"/><path d="M431.6 239.4q18 1.1 34.1-2.6"/><path d="M431.6 239.6q30.7 3.3 59.4-3"/><path d="M418.8 235.2q-30.3-17.3-63-23.7"/><path d="M419.3 234.4q-18.3-14.1-38.6-21.6"/><path d="M420.9 233q-7.5-10.5-16.2-17.7"/><path d="M425.4 231.9q.5-7.6-.5-13.5"/><path d="M430 234.2q8.7-8.1 14.3-16.9"/><path d="M431.2 236.4q20.4-8.1 36.2-20.9"/><path d="M431.5 237.5q32.9-6.8 60.5-23"/><path d="M419.8 233.9q-29.1-28.5-64.6-45"/><path d="M420.8 233q-17.6-25.2-41.2-42.6"/><path d="M422.7 232.1q-7.1-22.1-19.6-39.9"/><path d="M425.7 231.9q2.5-19.9-.7-38.2"/><path d="M428.6 233q12.3-19 17.9-39.4"/><path d="M430.3 234.6q23.5-18.4 39-42"/><path d="M431 235.8q35.6-17.3 62.3-44.3"/><path d="M422 232.4q-16.5-37.1-43.4-65.5"/><path d="M423.7 231.9q-5.7-34.4-21.5-63.7"/><path d="M425.8 231.9q4.8-32.2-.8-62.8"/><path d="M427.9 232.6q15.4-30.8 19.7-63.4"/><path d="M429.4 233.7q26.7-29.7 41.4-65"/><path d="M422.8 232.1q-15-49.3-44.9-89.2"/><path d="M424.2 231.8q-3.8-46.7-22.6-88"/><path d="M425.9 231.9q7.1-44.6-.9-87.4"/><path d="M427.5 232.4q18.2-42.8 20.7-87.8"/><path d="M428.8 233.2q29.6-41.4 42.9-88.9"/><path d="M424.6 231.8q-1.8-59.1-23.3-112.4"/><path d="M425.9 231.9q9.6-56.9-.9-112.1"/><path d="M427.3 232.3q20.8-55 21.3-112.3"/></g><g class="c"><path d="M510.6 245.6q-6 35.6-.2 69.7"/><path d="M513.1 231.9q6-35.5 .3-69.6"/><path d="M505 237.5q-36.7-6.2-71.9-.2"/><path d="M518.7 240q36.7 6.2 72 .3"/><path d="M506.1 242.6q-45.4 30.8-76.5 74.1"/><path d="M517.7 234.9q45.3-30.8 76.4-74"/><path d="M507.9 233.1q-32-44.5-76.1-74.5"/><path d="M515.9 244.5q32 44.5 76.1 74.4"/></g><g class="cx"><path d="M511.9 238.8Q511.9 238.8 511.9 240.3M509.1 245.9L511.9 240.3 514.7 245.9Z"/></g><g class="b"><path d="M509.7 245.4q-12.3 39.5-10.9 79.3"/><path d="M511.5 245.7q-1.5 41.4 10.4 79.4"/><path d="M506.4 243q-32.2 25.2-53.3 58.3"/><path d="M507.5 244.2q-20.5 26.3-30.9 56.3"/><path d="M509.4 245.3q-9.6 27.3-10.1 54.8"/><path d="M511.9 245.7q.5 29 9.7 54.9"/><path d="M514 245.4q11 31.5 30.5 56.5"/><path d="M515.5 244.7q22 34.4 52.9 58.7"/><path d="M505.6 241.7q-29.1 14.3-51 36.2"/><path d="M506.5 243.2q-17.2 15.1-28.3 33.4"/><path d="M508.9 245.1q-6.7 15.3-8.8 30.4"/><path d="M512.6 245.7q2.2 16.6 8.3 30.5"/><path d="M515.3 244.8q12 19.6 28 33.7"/><path d="M516.7 243.8q23 22.9 50.7 36.5"/><path d="M504.9 239.1q-39.1 2.3-73.8 16.8"/><path d="M505 239.7q-26.4 4.2-48.9 15.6"/><path d="M505.3 241q-13.9 5.3-24.7 13.1"/><path d="M507.4 244.1q-3.1 4.2-4.7 7.4"/><path d="M514.6 245.1q2.4 4.7 4.6 7.6"/><path d="M517.4 243q11.9 8.8 24.4 13.5"/><path d="M518 242.1q23.8 12.1 48.7 16"/><path d="M518.2 241.5q36.2 15.2 73.7 17.4"/><path d="M505.1 237.2q-37.2-8.1-73.4-3.7"/><path d="M505.1 237.1q-24.5-5.5-48-3.3"/><path d="M505.2 236.9q-12-2.9-22.8-2.6"/></g><g class="bx"><path d="M505.5 236Q502.5 235 500.8 234.9M506 238.3L500.8 234.9 506.6 232.7Z"/><path d="M518.7 237.3Q521.7 236.3 523.2 235.4M517 235.7L523.2 235.4 519.7 240.6Z"/></g><g class="b"><path d="M518.8 239.2q12.3 .2 22.8-2.3"/><path d="M518.8 239.5q25 2.3 48.1-2.8"/><path d="M518.8 239.7q37.7 4.6 73.3-3.1"/><path d="M505.8 235.5q-35.7-18.7-74.1-24.3"/><path d="M506.2 234.8q-23.6-15.6-49.4-22.6"/><path d="M507.1 233.7q-12-12.2-25.7-19.7"/><path d="M510.1 232.1q-2.7-8.5-6.4-14.9"/><path d="M515.6 232.9q4.5-7.7 6.7-14.7"/><path d="M518 235.6q15-8.3 26-19.4"/><path d="M518.6 237.1q27.3-7.5 49.5-22.3"/><path d="M518.8 237.9q39.8-5.8 74.2-23.8"/><path d="M507.5 233.4q-22.7-26.7-51.5-43.8"/><path d="M508.9 232.5q-11.7-23.5-28.9-41.1"/><path d="M511.5 231.8q-1.8-20.7-9-38.6"/><path d="M514.6 232.4q7.8-19.3 9.4-38.5"/><path d="M516.8 233.9q18.4-18.7 29.4-40.8"/><path d="M517.9 235.3q30.1-17.8 51.8-43.4"/><path d="M508.6 232.7q-21.5-38.4-53.5-66.4"/><path d="M510 232.1q-10.4-35.6-31.1-64.5"/><path d="M512 231.8q.1-33.1-10-63"/><path d="M514.2 232.2q10.6-31.4 10.5-62.9"/><path d="M516 233.2q21.5-30.2 31.5-64.2"/><path d="M517.2 234.3q33.1-29 53.9-66.1"/><path d="M510.7 231.9q-8.7-47.8-32.4-88.5"/><path d="M512.3 231.8q2.2-45.5-10.5-87.6"/><path d="M514 232.2q13.2-43.6 11-87.6"/><path d="M515.4 232.8q24.5-42 33-88.3"/><path d="M511.2 231.9q-6.8-60.2-33.4-112.8"/><path d="M512.5 231.9q4.5-57.9-10.9-112.2"/><path d="M513.8 232.1q15.8-55.8 11.5-112.1"/><path d="M515.1 232.6q27.2-54 33.8-112.6"/></g><g class="c"><path d="M597.8 245.6q-6 35.6-.3 69.7"/><path d="M600.3 231.9q6-35.5 .2-69.6"/><path d="M592.2 237.5q-36.8-6.2-72-.2"/><path d="M605.8 240q36.8 6.2 72 .3"/><path d="M593.2 242.6q-45.3 30.8-76.4 74.1"/><path d="M604.8 234.9q45.4-30.8 76.5-74"/><path d="M595 233.1q-32-44.5-76.1-74.5"/><path d="M603 244.5q32 44.5 76.1 74.4"/><path d="M592.2 237.5q-36.8-6.2-72-.2"/></g><g class="b"><path d="M596.1 245.1q-17.2 38.8-20.4 79.6"/><path d="M594.1 243.6q-25.6 25.9-40.7 57.3"/><path d="M595.6 244.8q-14.3 26.9-19.2 55.4"/><path d="M597.9 245.6q-3.9 28.2 .9 54.6"/><path d="M600.3 245.6q6.3 30.3 21 55.7"/><path d="M602.1 245q17 33.1 42.7 57.8"/><path d="M592.5 241.2q-34.6 13.8-61.6 37.1"/><path d="M593.2 242.5q-22.5 14.8-38.2 34.7"/><path d="M594.8 244.3q-11.2 15.2-17 31.6"/><path d="M598.1 245.7q-1.7 15.8 .7 29.9"/><path d="M601.5 245.3q7.4 18.1 18.7 32.1"/><path d="M603.4 244.2q17.9 21.4 40.3 35.4"/><path d="M604.3 243.3q29.5 24.7 64 37.7"/><path d="M592.1 239.4q-32 3.4-59.9 16.2"/><path d="M592.2 240.3q-19.4 4.9-35.2 14.5"/><path d="M593.1 242.4q-7.4 5.1-12.4 10.5"/></g><g class="bx"><path d="M598.6 245.7Q598.6 249.1 598.8 251M600.8 245.1L598.8 251 595.3 245.8Z"/></g><g class="b"><path d="M603.8 243.8q7.2 7 14.5 11.4"/><path d="M604.9 242.4q18.5 10.7 37.8 15.2"/><path d="M605.3 241.7q30.6 13.9 62.6 16.9"/><path d="M592.3 237.2q-30.2-6.7-59.3-3.6"/><path d="M592.3 237q-17.6-4-34-3"/><path d="M592.4 236.6q-5.1-1.3-8.8-1.6"/></g><g class="bx"><path d="M599 238.8Q600.1 236.9 600.2 236.2M596.7 241.3L600.2 236.2 602.2 242.1Z"/></g><g class="b"><path d="M606 238.7q6.6-.3 11.6-1.6"/><path d="M605.9 239.4q19.4 1.3 36.9-2.7"/><path d="M605.9 239.7q32.1 3.5 62.2-3.1"/><path d="M593.1 235.2q-28.9-17.1-60.2-23.6"/><path d="M593.7 234.3q-17-13.8-35.9-21.3"/><path d="M595.5 232.8q-6.4-10.1-14-17.2"/><path d="M600.4 232q1.2-7.5 .8-13.5"/><path d="M604.5 234.5q9.9-8.2 16.5-17.4"/><path d="M605.6 236.5q21.7-8 38.8-21.1"/><path d="M605.9 237.6q34.2-6.6 63.1-23.2"/><path d="M594.2 233.8q-27.8-28.1-62-44.8"/><path d="M595.3 232.9q-16.4-24.9-38.7-42.3"/><path d="M597.3 232q-6-21.8-17.4-39.5"/><path d="M600.4 232q3.5-19.8 1.2-38.2"/><path d="M603.2 233.2q13.4-19 20.1-39.7"/><path d="M604.7 234.7q24.8-18.3 41.6-42.3"/><path d="M605.4 235.9q36.9-17.1 64.9-44.5"/><path d="M596.4 232.3q-15.2-36.8-40.8-65.3"/><path d="M598.2 231.9q-4.5-34.1-19.2-63.6"/><path d="M600.4 232q5.9-32.1 1.4-62.8"/><path d="M602.4 232.7q16.6-30.7 22-63.5"/><path d="M603.9 233.8q27.9-29.5 43.8-65.2"/><path d="M597.2 232.1q-13.7-49-42.4-89.1"/><path d="M598.7 231.8q-2.6-46.4-20.2-87.9"/><path d="M600.4 232q8.3-44.4 1.5-87.5"/><path d="M602 232.5q19.4-42.7 23.1-87.9"/><path d="M603.3 233.3q30.8-41.2 45.3-89"/><path d="M599 231.8q-.5-58.8-20.8-112.4"/><path d="M600.4 232q10.8-56.7 1.5-112.1"/><path d="M601.7 232.4q22.1-54.9 23.8-112.4"/></g><g class="c"><path d="M684.9 245.6q-6 35.6-.2 69.7"/><path d="M687.4 231.9q6-35.5 .3-69.6"/><path d="M679.3 237.5q-36.7-6.2-71.9-.2"/><path d="M693 240q36.7 6.2 72 .3"/><path d="M680.4 242.6q-45.4 30.8-76.5 74.1"/><path d="M692 234.9q45.3-30.8 76.4-74"/><path d="M682.2 233.1q-32-44.5-76.1-74.5"/><path d="M690.2 244.5q32 44.5 76.1 74.4"/><path d="M693 240q36.7 6.2 72 .3"/></g><g class="b"><path d="M686 245.7q-.3 41.6 12.8 79.5"/><path d="M680.7 243.1q-30.8 25.4-50.7 58.1"/><path d="M682 244.3q-19.3 26.4-28.5 56.1"/><path d="M684 245.4q-8.5 27.5-8 54.7"/><path d="M686.4 245.7q1.7 29.3 12 55"/><path d="M688.5 245.3q12.2 31.8 32.9 56.8"/><path d="M689.9 244.6q23.2 34.8 55.5 58.9"/><path d="M679.5 240.8q-40.1 13.1-72.4 37.9"/><path d="M680 241.9q-27.8 14.4-48.5 35.8"/><path d="M681 243.4q-16 15.2-26 33"/><path d="M683.6 245.2q-5.7 15.4-6.8 30.2"/><path d="M687.3 245.6q3.2 16.9 10.3 30.9"/><path d="M689.9 244.7q13 19.9 30.3 34"/><path d="M691.1 243.7q24.3 23.2 53.4 36.8"/><path d="M679.2 239.1q-37.7 2.6-71 16.8"/><path d="M679.3 239.8q-25 4.4-46.1 15.4"/><path d="M679.7 241.2q-12.6 5.3-22.1 12.7"/><path d="M682.3 244.6q-2.2 3.9-3.3 6.6"/><path d="M689.5 244.9q3.2 5.1 6.2 8.4"/><path d="M691.8 242.9q13.2 9.2 27 13.9"/><path d="M692.3 242q25.2 12.5 51.5 16.2"/><path d="M692.6 241.5q37.5 15.4 76.4 17.5"/><path d="M679.4 237.2q-35.7-7.8-70.5-3.6"/><path d="M679.4 237.1q-23.1-5.2-45.2-3.3"/><path d="M679.5 236.9q-10.6-2.6-20-2.5"/></g><g class="bx"><path d="M680 235.7Q678.2 235 677.9 235M682.8 238.8L677.9 235 683.8 233.3Z"/><path d="M693 237.8Q694.1 237.5 693.7 237.6M687.6 236.5L693.7 237.6 689.1 241.9Z"/></g><g class="b"><path d="M693.1 239.2q13.7 .5 25.6-2.3"/><path d="M693.1 239.6q26.4 2.5 50.9-2.9"/><path d="M693.1 239.7q39.1 4.9 76.2-3.1"/><path d="M680.1 235.4q-34.3-18.4-71.3-24.1"/><path d="M680.5 234.7q-22.2-15.2-46.6-22.4"/><path d="M681.6 233.5q-10.9-11.7-23.2-19.2"/><path d="M685 231.9q-1.9-8.1-4.8-14.3"/><path d="M690.4 233.3q5.4-7.9 8.4-15.3"/><path d="M692.4 235.8q16.3-8.3 28.5-19.8"/><path d="M692.9 237.2q28.7-7.3 52.3-22.5"/><path d="M693.1 237.9q41.2-5.6 76.9-23.9"/><path d="M681.9 233.3q-21.4-26.3-48.9-43.5"/><path d="M683.4 232.4q-10.5-23.2-26.5-40.8"/><path d="M686.1 231.8q-.7-20.5-6.8-38.4"/><path d="M689.2 232.5q8.9-19.2 11.5-38.6"/><path d="M691.3 234.1q19.6-18.7 31.7-41.1"/><path d="M692.3 235.5q31.5-17.8 54.4-43.7"/><path d="M683 232.6q-20.3-38.1-50.9-66.2"/><path d="M684.5 232q-9.2-35.2-28.7-64.2"/><path d="M686.6 231.8q1.2-32.9-7.7-62.9"/><path d="M688.7 232.3q11.8-31.2 12.8-63"/><path d="M690.5 233.3q22.7-30 33.9-64.4"/><path d="M691.6 234.4q34.4-28.8 56.4-66.3"/><path d="M685.2 231.9q-7.5-47.5-30-88.4"/><path d="M686.8 231.9q3.4-45.3-8.1-87.6"/><path d="M688.4 232.2q14.5-43.4 13.5-87.6"/><path d="M689.9 232.9q25.7-41.8 35.4-88.4"/><path d="M685.6 231.9q-5.5-59.9-30.8-112.8"/><path d="M686.9 231.9q5.8-57.6-8.4-112.2"/><path d="M688.3 232.2q17-55.7 13.9-112.2"/><path d="M689.5 232.7q28.5-53.9 36.4-112.8"/></g><g class="c"><path d="M772.1 245.6q-6 35.6-.3 69.7"/><path d="M774.6 231.9q5.9-35.5 .2-69.6"/><path d="M766.5 237.5q-36.8-6.2-72-.2"/><path d="M780.1 240q36.8 6.2 72 .3"/><path d="M767.5 242.6q-45.3 30.8-76.4 74.1"/><path d="M779.1 234.9q45.4-30.8 76.5-74"/><path d="M769.3 233.1q-32-44.5-76.1-74.5"/><path d="M777.3 244.5q32 44.5 76.1 74.4"/></g><g class="cx"><path d="M773.3 238.8Q773.3 238.8 772.2 239.9M766.3 241.8L772.2 239.9 770.3 245.8Z"/></g><g class="b"><path d="M770.6 245.2q-16 39-18 79.5"/><path d="M767.5 242.6q-36.1 24.8-61 59"/><path d="M768.5 243.8q-24.3 25.9-38.2 57"/><path d="M770.2 245q-13.2 26.9-17 55.1"/><path d="M772.5 245.7q-2.8 28.3 3.1 54.6"/><path d="M774.8 245.6q7.4 30.5 23.4 55.8"/><path d="M776.5 244.9q18.2 33.5 45.3 58"/><path d="M766.9 241.4q-33.3 13.8-59 36.8"/><path d="M767.6 242.7q-21.1 14.9-35.7 34.3"/><path d="M769.4 244.5q-10.1 15.2-14.9 31.2"/><path d="M772.8 245.7q-.7 16 2.6 30"/><path d="M776.1 245.2q8.5 18.5 21 32.5"/><path d="M777.8 244.1q19.2 21.8 42.9 35.7"/><path d="M778.6 243.2q30.9 25.1 66.8 38"/><path d="M779.1 242.6q42.9 28.1 91.4 39.5"/><path d="M766.4 238.9q-43.4 1.7-82.2 17.2"/><path d="M766.4 239.5q-30.6 3.6-57.1 16.1"/><path d="M766.6 240.5q-18 5-32.6 14.1"/><path d="M767.7 242.8q-6.2 4.9-10.3 9.8"/><path d="M773.8 245.7q.5 3.6 1 5.6"/><path d="M778.3 243.6q8.4 7.5 16.9 12"/><path d="M779.3 242.3q19.8 11.1 40.5 15.4"/><path d="M779.6 241.7q32 14.1 65.4 17"/><path d="M779.8 241.3q44.4 17 90.4 17.9"/><path d="M779.9 241.1q56.9 19.7 115.7 18.5"/><path d="M766.6 237.2q-28.8-6.4-56.5-3.5"/><path d="M766.6 237q-16.2-3.8-31.2-3"/><path d="M766.7 236.5q-3.7-1-6-1.2"/></g><g class="bx"><path d="M773.3 238.8Q775.8 237.1 776.7 236M771.2 239L776.7 236 775.8 242.1Z"/></g><g class="b"><path d="M780.3 238.9q8-.3 14.4-1.9"/><path d="M780.2 239.5q20.9 1.5 39.7-2.8"/><path d="M780.2 239.7q33.5 3.8 65-3.1"/><path d="M780.2 239.8q46.2 6.2 90.3-3.3"/><path d="M780.2 239.9q58.9 8.6 115.5-3.4"/><path d="M767.4 235.1q-27.5-16.7-57.4-23.3"/><path d="M768.1 234.2q-15.7-13.4-33.3-21"/><path d="M770.2 232.6q-5.4-9.6-12-16.6"/><path d="M775.4 232.1q1.9-7.4 2.1-13.6"/><path d="M779 234.8q11.2-8.3 18.8-17.9"/><path d="M779.9 236.7q23.1-7.9 41.5-21.5"/><path d="M780.2 237.7q35.6-6.5 65.9-23.4"/><path d="M780.2 238.2q48.4-4.5 90.9-24.5"/><path d="M780.3 238.6q61-2.4 115.9-25.2"/><path d="M768.6 233.7q-26.5-27.8-59.4-44.5"/><path d="M769.8 232.8q-15.3-24.5-36.3-42.1"/><path d="M771.9 232q-4.9-21.6-15.2-39.3"/><path d="M775 232.1q4.6-19.7 3.3-38.2"/><path d="M777.7 233.4q14.7-18.9 22.4-40"/><path d="M779.1 234.9q26.1-18.2 44.1-42.6"/><path d="M779.7 236q38.3-17 67.6-44.7"/><path d="M780 236.8q50.8-15.3 92-46.2"/><path d="M780.1 237.4q63.4-13.4 116.8-47.4"/><path d="M770.9 232.3q-14.1-36.5-38.4-65.1"/><path d="M772.7 231.9q-3.3-33.9-16.8-63.4"/><path d="M774.9 232q7.1-31.9 3.7-62.8"/><path d="M776.9 232.8q17.8-30.5 24.4-63.7"/><path d="M778.3 233.9q29.2-29.4 46.3-65.4"/><path d="M779.1 234.9q41.2-28 69.4-67.2"/><path d="M779.6 235.8q53.5-26.5 93.4-68.8"/><path d="M779.8 236.4q66-24.7 117.9-70"/><path d="M771.7 232q-12.5-48.7-39.9-88.9"/><path d="M773.2 231.8q-1.4-46.2-17.8-87.8"/><path d="M774.9 232q9.5-44.2 3.8-87.4"/><path d="M776.4 232.6q20.7-42.5 25.6-88"/><path d="M777.7 233.4q32.2-41.1 47.9-89.2"/><path d="M778.5 234.2q44.1-39.5 71-90.5"/><path d="M779.1 234.9q56.3-37.8 94.8-91.8"/><path d="M779.5 235.6q68.6-36.1 119-93.1"/><path d="M773.5 231.8q.7-58.6-18.4-112.3"/><path d="M774.8 232q12.1-56.5 4-112.1"/><path d="M776.1 232.4q23.4-54.6 26.4-112.4"/><path d="M777.2 233q35.1-52.9 49.1-113.2"/><path d="M778.1 233.7q46.9-51.2 72.2-114.3"/><path d="M778.7 234.4q59.1-49.5 95.9-115.4"/><path d="M779.1 235q71.4-47.7 120.1-116.5"/></g><g class="c"><path d="M859.2 245.6q-6 35.6-.2 69.7"/><path d="M861.7 231.9q6-35.5 .3-69.6"/><path d="M853.6 237.5q-36.7-6.2-71.9-.2"/><path d="M854.7 242.6q-45.4 30.8-76.5 74.1"/><path d="M856.5 233.1q-32-44.5-76.1-74.5"/><path d="M853.6 237.5q-36.7-6.2-71.9-.2"/></g><g class="b"><path d="M861.6 245.6q10 56.6 38.1 104.9"/><path d="M858.7 245.5q-9.9 39.9-6.2 79.2"/><path d="M860.5 245.7q.9 41.9 15.2 79.6"/><path d="M862.2 245.5q11.8 44.3 36.9 80.8"/><path d="M855.1 243.2q-29.5 25.5-48.1 57.9"/><path d="M856.5 244.5q-18 26.5-26.2 55.8"/><path d="M858.6 245.5q-7.4 27.6-5.8 54.6"/><path d="M861 245.7q2.8 29.5 14.2 55.1"/><path d="M863 245.2q13.3 32.2 35.3 57.1"/><path d="M853.9 240.9q-38.8 13.3-69.8 37.7"/><path d="M854.3 242q-26.4 14.6-45.8 35.6"/><path d="M855.5 243.6q-14.7 15.2-23.6 32.7"/><path d="M858.3 245.4q-4.7 15.4-4.9 30"/><path d="M861.9 245.6q4.3 17.1 12.4 31.1"/><path d="M864.3 244.5q14.3 20.4 32.9 34.4"/><path d="M853.5 239.2q-36.2 2.8-68.2 16.6"/><path d="M853.6 239.9q-23.6 4.5-43.4 15.2"/><path d="M854.1 241.5q-11.2 5.3-19.6 12.2"/><path d="M857.4 245q-1.6 3.6-2.2 6"/><path d="M864.3 244.6q4 5.6 8 9.2"/><path d="M866.2 242.8q14.5 9.5 29.7 14.2"/><path d="M853.7 237.2q-34.3-7.5-67.7-3.6"/><path d="M853.7 237.1q-21.7-4.9-42.4-3.3"/><path d="M853.8 236.8q-9.2-2.2-17.2-2.3"/></g><g class="bx"><path d="M854.6 235.1Q854 234.9 854.9 235.2M859.3 239.6L854.9 235.2 861.1 234.4Z"/><path d="M867.4 238.1Q869.8 237.7 870.7 237.4M864.6 236.3L870.7 237.4 866.1 241.6Z"/></g><g class="b"><path d="M867.4 239.3q15.2 .6 28.4-2.5"/><path d="M854.4 235.4q-32.9-18.1-68.5-24.1"/><path d="M854.9 234.6q-20.9-14.9-43.9-22.1"/><path d="M856.1 233.4q-9.7-11.4-20.8-18.8"/><path d="M859.9 231.9q-1.1-7.9-3.3-14"/><path d="M865.1 233.6q6.5-8 10.2-15.8"/><path d="M866.8 236q17.7-8.2 31-20.2"/><path d="M856.3 233.2q-20.2-26-46.3-43.2"/><path d="M858 232.3q-9.4-22.8-24.3-40.5"/><path d="M860.8 231.8q.3-20.3-4.9-38.3"/><path d="M863.8 232.7q10-19.2 13.6-38.9"/><path d="M865.7 234.3q20.9-18.6 34.2-41.5"/><path d="M857.4 232.5q-19-37.7-48.4-65.9"/><path d="M859 232q-8.1-35-26.3-64.1"/><path d="M861.1 231.9q2.4-32.7-5.4-62.9"/><path d="M863.2 232.4q13-31.1 15.1-63.1"/><path d="M864.9 233.4q24.1-29.9 36.4-64.6"/><path d="M859.6 231.9q-6.3-47.3-27.5-88.3"/><path d="M861.3 231.9q4.6-45.1-5.8-87.5"/><path d="M862.9 232.3q15.7-43.2 15.9-87.7"/><path d="M864.3 233q27-41.7 37.9-88.6"/><path d="M860 231.8q-4.2-59.6-28.3-112.6"/><path d="M861.4 231.9q7-57.4-5.9-112.1"/><path d="M862.7 232.2q18.4-55.4 16.4-112.2"/><path d="M863.9 232.7q29.9-53.6 38.9-112.8"/></g><g class="c"><path d="M162 160.8q-6 35.6-.2 69.6"/><path d="M170.1 155.2q36.8 6.2 72 .2"/><path d="M167.3 159.6q32 44.5 76.1 74.5"/><path d="M167.3 159.6q32 44.5 76.1 74.5"/></g><g class="b"><path d="M159.5 159.7q-27.4 43-38 91.3"/><path d="M160.9 160.4q-16 44.6-16 90.4"/><path d="M158.9 159.3q-24.4 31.2-36.6 67.3"/><path d="M160.5 160.3q-13.2 32.5-15.1 65.9"/><path d="M162.6 160.8q-2.6 34.1 5.5 65.7"/><path d="M164.6 160.7q7.9 36.4 26.5 66.8"/><path d="M158.1 158.6q-21.2 19.8-34.4 43.9"/><path d="M160 160.1q-10.3 20.4-13.8 41.5"/><path d="M162.9 160.9q-.5 21.6 4.9 41"/><path d="M165.6 160.5q9.3 24.1 24.6 43"/><path d="M167.3 159.6q20.1 27.3 46.6 45.7"/><path d="M157 157q-18 9.3-31.3 22.3"/><path d="M158.9 159.3q-6.9 9.1-10.8 18.2"/><path d="M163.7 160.9q1 9.2 3.5 16.6"/><path d="M167.4 159.5q9.7 12.6 21.2 21"/><path d="M168.7 158.3q20.8 16.1 44.2 24.4"/><path d="M169.2 157.5q32.8 19.3 68.7 26.4"/><path d="M156.3 153.9q-15.3 .2-28.5 4.2"/></g><g class="bx"><path d="M156.5 155.5Q153.8 156.4 152.6 156.9M158.8 157.2L152.6 156.9 156.5 152.1Z"/><path d="M168 159.1Q169.1 160 169 159.9M165.8 154.6L169 159.9 162.8 159.2Z"/></g><g class="b"><path d="M169.8 156.4q9.2 3.1 17.3 3.9"/><path d="M169.9 155.9q21.7 6 42.5 5.3"/><path d="M170 155.7q34.2 8.7 67.8 5.9"/><path d="M157.4 150.3q-14.6-8.5-29.4-12.3"/><path d="M159.1 148.4q-3.9-4.5-7.3-7.2"/></g><g class="bx"><path d="M166.6 147.8Q167.8 145.4 168.1 144.3M163.7 148.7L168.1 144.3 169 150.5Z"/></g><g class="b"><path d="M169.8 151.6q10.9-4.3 19.1-10.3"/><path d="M170.2 153.1q23.3-3.5 43.1-13.1"/><path d="M170.2 153.7q36.1-1.6 68.2-14.3"/><path d="M170.2 154.1q48.8 .5 93.3-15.1"/><path d="M159.2 148.3q-14.3-19.1-32.5-32"/><path d="M161.6 147.2q-4.3-15.8-12-28.5"/><path d="M165.5 147.4q4.4-14.2 4.8-27.4"/><path d="M168.4 149.2q14.3-14 23.3-30.2"/><path d="M169.5 150.9q26.1-13.4 45.6-33.2"/><path d="M169.9 151.9q38.5-12 69.6-35.2"/><path d="M170.1 152.6q51.1-10.3 94.2-36.6"/></g><g class="c"><path d="M249.2 160.8q-6 35.6-.3 69.6"/><path d="M243.6 152.7q-36.7-6.2-72-.3"/><path d="M257.3 155.2q36.7 6.2 71.9 .2"/><path d="M244.6 157.8q-45.3 30.8-76.4 74"/><path d="M254.4 159.6q32 44.5 76.1 74.5"/><path d="M249.2 160.8q-6 35.6-.3 69.6"/></g><g class="b"><path d="M246.9 159.9q-18.1 31.9-24.5 66.4"/><path d="M248.8 160.7q-7.3 33.2-3.7 65.5"/><path d="M250.9 160.9q3.2 35.2 17 66.1"/><path d="M252.7 160.5q13.9 37.8 38.6 67.7"/><path d="M244.1 156.8q-38.6 18.2-67.8 47.2"/><path d="M244.8 157.9q-26.5 19.5-44.4 45.1"/><path d="M246.2 159.4q-15.1 20.2-22.7 42.5"/><path d="M248.7 160.7q-4.8 21-3.3 40.9"/><path d="M251.7 160.8q4.8 22.9 15.5 41.9"/><path d="M253.8 160q15.2 25.8 36.5 44.5"/><path d="M255 159.1q26.4 29.1 59.6 47"/><path d="M243.5 154.3q-61.3 3.6-116 27.6"/><path d="M243.5 154.7q-48.6 5.7-90.9 26.8"/><path d="M243.6 155.3q-35.9 7.5-66.1 25.6"/><path d="M243.9 156.3q-23.4 8.9-41.8 23.7"/><path d="M244.9 158.1q-11.5 9.4-19.2 20.3"/><path d="M248.5 160.6q-2.3 8.8-2.4 16.3"/><path d="M253.3 160.2q5.5 11 12.4 19"/><path d="M255.4 158.8q15.7 14.5 33.7 23.1"/><path d="M256.2 157.8q27.4 17.9 57.6 25.6"/><path d="M243.5 153q-59.1-7.4-115.5 5.8"/><path d="M243.5 153.1q-46.4-5-90.3 5.6"/><path d="M243.5 153.3q-33.7-2.7-65 5.3"/><path d="M243.5 153.6q-21-.5-39.8 4.7"/><path d="M243.5 154.4q-8.3 1-14.7 3.3"/></g><g class="bx"><path d="M246.6 159.7Q246.4 160.3 246.7 159.3M251.3 155.1L246.7 159.3 246.1 153.1Z"/></g><g class="b"><path d="M256.7 157q3.9 1.6 6.5 2.2"/><path d="M257 156.1q16.1 4.7 31.3 4.8"/><path d="M257.1 155.8q28.6 7.5 56.5 5.7"/><path d="M257.1 155.7q41.2 10.1 81.9 6"/><path d="M243.8 151.7q-57.1-18.5-115.6-16"/><path d="M243.9 151.5q-44.6-15.7-90.4-15.5"/><path d="M244 151.2q-32.1-13-65.2-14.7"/><path d="M244.3 150.7q-19.9-10-40.3-13.3"/><path d="M245.1 149.5q-8.2-6.5-16.3-10.1"/></g><g class="bx"><path d="M249.7 147Q249.3 144.8 249.1 144.1M247.9 150.3L249.1 144.1 253.3 148.7Z"/></g><g class="b"><path d="M256.3 150.3q5.8-3.9 9.5-7.8"/><path d="M257.2 152.6q17.8-4 32.3-12.1"/><path d="M257.4 153.5q30.3-2.5 56.9-13.9"/><path d="M257.4 154q43.1-.5 82.1-14.8"/><path d="M244.3 150.6q-55.4-29.7-116.2-38"/><path d="M244.6 150.2q-43.1-26.8-91.3-37"/><path d="M245 149.6q-31-23.8-66.6-35.5"/><path d="M245.8 148.8q-19.3-20.6-42.7-33.3"/><path d="M247.5 147.6q-8.6-17.2-20.6-30"/><path d="M250.9 147q.5-14.6-2.5-27.3"/><path d="M254.5 148.3q9.7-14 14.5-28.7"/><path d="M256.3 150.2q20.7-13.7 35.3-32"/><path d="M256.9 151.5q33-12.7 58.8-34.4"/><path d="M257.2 152.4q45.5-11.2 83.2-36.1"/><path d="M257.3 152.9q58.1-9.2 108-37.2"/></g><g class="c"><path d="M336.3 160.8q-6 35.6-.2 69.6"/><path d="M330.7 152.7q-36.7-6.2-71.9-.3"/><path d="M344.4 155.2q36.7 6.2 72 .2"/><path d="M331.8 157.8q-45.4 30.8-76.5 74"/><path d="M341.6 159.6q32 44.5 76.1 74.5"/><path d="M331.8 157.8q-45.4 30.8-76.5 74"/></g><g class="b"><path d="M333.4 159.5q-23.2 31.3-34.2 67"/><path d="M335.1 160.4q-12.1 32.6-12.9 65.8"/><path d="M337.2 160.9q-1.5 34.2 7.7 65.6"/><path d="M339.1 160.7q9.1 36.6 28.9 66.9"/><path d="M331.6 157.4q-31.9 18.9-54.7 46.1"/><path d="M332.6 158.7q-20 19.9-32.1 43.7"/><path d="M334.6 160.2q-9.2 20.6-11.7 41.4"/><path d="M337.6 160.9q.5 21.9 7 41.1"/><path d="M340.2 160.4q10.4 24.4 26.8 43.3"/><path d="M341.7 159.5q21.3 27.6 49.2 46"/><path d="M330.7 155q-41.5 6.7-77.1 26.2"/><path d="M330.9 155.8q-29 8.4-52.5 24.7"/><path d="M331.4 157.2q-16.6 9.3-28.8 22"/><path d="M333.6 159.6q-5.9 9-8.9 17.7"/><path d="M338.6 160.8q1.8 9.5 5.1 17"/><path d="M341.9 159.4q10.9 12.9 23.6 21.4"/><path d="M343.1 158.2q22.1 16.4 46.8 24.6"/><path d="M343.5 157.5q34.2 19.6 71.4 26.5"/><path d="M330.7 153.2q-39.4-3.7-76.3 5.4"/><path d="M330.6 153.4q-26.6-1.4-50.9 5.1"/><path d="M330.6 153.9q-13.9 .5-25.7 4.2"/></g><g class="bx"><path d="M330.9 156Q329.5 156.6 329.5 156.6M335.7 156.6L329.5 156.6 333.3 151.6Z"/><path d="M342.9 158.4Q345 159.7 346 160.2M342 155.4L346 160.2 339.8 160.5Z"/></g><g class="b"><path d="M344.1 156.3q10.6 3.5 20.1 4.1"/><path d="M344.2 155.9q23 6.3 45.3 5.4"/><path d="M344.3 155.7q35.6 9 70.6 5.9"/><path d="M331 151.6q-50.2-17-101.6-15.7"/><path d="M331.1 151.4q-37.7-14.3-76.4-15.2"/><path d="M331.3 151q-25.3-11.4-51.3-14.1"/><path d="M331.8 150.1q-13.3-8.1-26.8-11.9"/><path d="M333.8 148.1q-2.9-4-5.3-6.3"/></g><g class="bx"><path d="M341.7 148.3Q343.5 145.6 344.2 144M339.3 147.9L344.2 144 344.4 150.2Z"/></g><g class="b"><path d="M344.2 151.8q12.2-4.3 21.6-10.7"/><path d="M344.5 153.2q24.7-3.3 45.9-13.3"/><path d="M344.5 153.8q37.5-1.4 70.9-14.5"/><path d="M344.5 154.1q50.2 .8 96.1-15.1"/><path d="M331.6 150.4q-48.6-28.1-102.3-37.5"/><path d="M331.9 149.9q-36.3-25.2-77.5-36.3"/><path d="M332.5 149.2q-24.4-22-53.1-34.4"/><path d="M333.7 148.2q-13.1-18.7-30-31.7"/><path d="M336.3 147.1q-3.3-15.5-10-28.2"/><path d="M340.2 147.5q5.4-14.1 6.6-27.5"/><path d="M342.9 149.4q15.6-13.9 25.6-30.5"/><path d="M343.9 151q27.4-13.3 48.1-33.5"/><path d="M344.3 152q39.8-11.8 72.2-35.4"/><path d="M344.4 152.7q52.5-10.1 97-36.8"/></g><g class="c"><path d="M423.5 160.8q-6 35.6-.3 69.6"/><path d="M417.9 152.7q-36.7-6.2-72-.3"/><path d="M431.6 155.2q36.7 6.2 71.9 .2"/><path d="M418.9 157.8q-45.3 30.8-76.4 74"/><path d="M428.7 159.6q32 44.5 76.1 74.5"/><path d="M428.7 159.6q32 44.5 76.1 74.5"/></g><g class="b"><path d="M421.4 160q-16.9 32-22.2 66.3"/><path d="M423.4 160.7q-6.2 33.5-1.4 65.6"/><path d="M425.5 160.8q4.3 35.5 19.3 66.3"/><path d="M427.2 160.4q15.1 38.2 41.1 67.9"/><path d="M418.5 156.9q-37.3 18.4-65.2 47"/><path d="M419.2 158.1q-25.2 19.5-41.9 44.8"/><path d="M420.7 159.6q-13.8 20.2-20.4 42.3"/><path d="M423.4 160.7q-3.8 21.2-1.3 40.9"/><path d="M426.3 160.7q5.9 23.2 17.7 42.2"/><path d="M428.3 159.9q16.3 26.2 39 44.8"/><path d="M429.4 159.1q27.7 29.3 62.2 47.1"/><path d="M417.9 155.3q-34.5 7.8-63.3 25.6"/><path d="M418.2 156.4q-22 9.1-39.1 23.4"/><path d="M419.4 158.4q-10.3 9.3-17 19.7"/><path d="M423.3 160.7q-1.4 8.9-.9 16.3"/><path d="M428 160.1q6.4 11.3 14.5 19.4"/><path d="M429.8 158.6q17 15 36.3 23.5"/><path d="M430.5 157.7q28.8 18.3 60.4 25.8"/><path d="M417.8 153.1q-45-4.7-87.5 5.6"/><path d="M417.8 153.3q-32.3-2.4-62.2 5.2"/><path d="M417.8 153.6q-19.6-.3-37 4.7"/><path d="M417.8 154.6q-6.9 1.1-11.9 2.9"/></g><g class="bx"><path d="M423.3 160.7Q423.3 160.8 423.3 159.2M426.1 153.7L423.3 159.2 420.6 153.7Z"/></g><g class="b"><path d="M431.1 156.8q5.2 2 9.1 2.7"/><path d="M431.3 156q17.5 5.1 34.1 5"/><path d="M431.4 155.8q30 7.8 59.4 5.7"/><path d="M431.5 155.7q42.5 10.4 84.6 6"/><path d="M418.2 151.5q-43.2-15.5-87.6-15.4"/><path d="M418.3 151.2q-30.7-12.7-62.4-14.6"/><path d="M418.6 150.6q-18.5-9.6-37.5-13.1"/><path d="M419.6 149.2q-7-5.9-13.9-9.4"/></g><g class="bx"><path d="M425 147Q425 145 424.9 144.5M422.8 150.3L424.9 144.5 428.3 149.7Z"/></g><g class="b"><path d="M430.9 150.7q6.9-4.1 11.7-8.6"/><path d="M431.6 152.7q19.1-3.9 34.9-12.4"/><path d="M431.7 153.6q31.8-2.3 59.7-14.1"/><path d="M431.7 154q44.5-.2 84.9-14.9"/><path d="M418.7 150.6q-54.1-29.4-113.5-38"/><path d="M418.9 150.1q-41.7-26.5-88.5-36.8"/><path d="M419.3 149.5q-29.6-23.4-63.8-35.3"/><path d="M420.2 148.7q-18-20.2-40.1-33"/><path d="M422.1 147.5q-7.5-16.8-18.4-29.6"/><path d="M425.6 147.1q1.5-14.5-.6-27.2"/><path d="M429.1 148.5q10.8-14 16.6-29"/><path d="M430.7 150.4q22.1-13.7 37.8-32.3"/><path d="M431.3 151.6q34.3-12.5 61.4-34.6"/><path d="M431.5 152.4q46.9-10.9 85.9-36.2"/><path d="M431.6 153q59.5-9 110.8-37.3"/></g><g class="c"><path d="M510.6 160.8q-6 35.6-.2 69.6"/><path d="M505 152.7q-36.7-6.2-71.9-.3"/><path d="M518.7 155.2q36.7 6.2 72 .2"/><path d="M506.1 157.8q-45.4 30.8-76.5 74"/><path d="M515.9 159.6q32 44.5 76.1 74.5"/><path d="M510.6 160.8q-6 35.6-.2 69.6"/></g><g class="b"><path d="M507.8 159.6q-21.8 31.4-31.7 66.9"/><path d="M509.6 160.5q-10.9 32.7-10.6 65.7"/><path d="M511.7 160.9q-.3 34.5 10 65.7"/><path d="M513.6 160.7q10.3 36.9 31.3 67"/><path d="M505.9 157.5q-30.4 19.1-52 45.9"/><path d="M507 158.9q-18.7 20-29.6 43.4"/><path d="M509.2 160.3q-8.1 20.7-9.5 41.3"/><path d="M512.2 160.9q1.6 22.1 9.1 41.3"/><path d="M514.7 160.3q11.6 24.8 29.2 43.6"/><path d="M516.2 159.4q22.5 28 51.7 46.2"/><path d="M505 155q-40.1 7-74.3 26.2"/><path d="M505.2 155.9q-27.5 8.5-49.7 24.5"/><path d="M505.9 157.4q-15.4 9.4-26.4 21.6"/><path d="M508.3 159.9q-4.9 8.9-7.1 17.2"/><path d="M513.4 160.7q2.7 9.8 6.8 17.4"/><path d="M516.4 159.2q12.1 13.4 26.1 21.9"/><path d="M517.4 158.1q23.5 16.8 49.6 24.9"/><path d="M517.9 157.4q35.5 19.9 74.1 26.6"/><path d="M505 153.2q-38-3.4-73.5 5.4"/><path d="M504.9 153.5q-25.2-1.3-48.1 4.9"/><path d="M504.9 154q-12.5 .7-23 4"/></g><g class="bx"><path d="M505.5 156.6Q505.2 156.7 506.3 156.1M512.5 155.9L506.3 156.1 509.8 151Z"/><path d="M517.6 157.8Q517.9 158 516.7 157.4M513.1 152.3L516.7 157.4 510.5 157.2Z"/></g><g class="b"><path d="M518.4 156.3q12 3.7 22.9 4.3"/><path d="M518.5 155.9q24.4 6.6 48.1 5.4"/><path d="M518.6 155.7q37 9.3 73.4 5.9"/><path d="M505.3 151.6q-48.8-16.7-98.8-15.7"/><path d="M505.4 151.3q-36.3-13.9-73.6-15"/><path d="M505.6 150.9q-23.9-11-48.5-13.9"/><path d="M506.2 150q-12-7.7-24.1-11.5"/><path d="M508.7 147.8q-2.1-3.5-3.7-5.4"/><path d="M516.6 148.9q2.6-3.1 3.9-5.3"/><path d="M518.6 152.1q13.5-4.3 24.2-11.2"/><path d="M518.8 153.3q26.1-3.1 48.7-13.5"/><path d="M518.8 153.8q38.9-1.1 73.7-14.5"/><path d="M518.8 154.1q51.6 1.1 98.9-15.1"/><path d="M505.9 150.3q-47.2-27.8-99.5-37.3"/><path d="M506.3 149.8q-35-24.8-74.8-36.1"/><path d="M506.9 149.1q-23.1-21.7-50.5-34.2"/><path d="M508.2 148q-12-18.3-27.6-31.2"/><path d="M511 147q-2.3-15.2-8.1-27.8"/><path d="M514.9 147.7q6.4-14 8.5-27.8"/><path d="M517.3 149.6q16.9-13.9 28-30.9"/><path d="M518.2 151.2q28.8-13.2 50.8-33.8"/><path d="M518.6 152.1q41.2-11.7 75-35.6"/><path d="M518.7 152.8q53.9-9.9 99.7-36.9"/></g><g class="c"><path d="M597.8 160.8q-6 35.6-.3 69.6"/><path d="M592.2 152.7q-36.8-6.2-72-.3"/><path d="M605.8 155.2q36.8 6.2 72 .2"/><path d="M593.2 157.8q-45.3 30.8-76.4 74"/><path d="M603 159.6q32 44.5 76.1 74.5"/><path d="M593.2 157.8q-45.3 30.8-76.4 74"/></g><g class="b"><path d="M594.4 159.1q-27 30.9-41.5 67.6"/><path d="M595.9 160.1q-15.7 32.2-19.8 66.1"/><path d="M597.9 160.8q-5 33.6 .9 65.5"/><path d="M600 160.8q5.5 35.8 21.7 66.4"/><path d="M592.8 157q-35.9 18.5-62.5 46.8"/><path d="M593.6 158.3q-23.9 19.6-39.4 44.5"/><path d="M595.2 159.7q-12.6 20.4-18.1 42.1"/><path d="M598 160.8q-2.7 21.3 .8 40.9"/><path d="M600.9 160.6q7 23.5 19.9 42.5"/><path d="M602.8 159.8q17.5 26.5 41.4 45.1"/><path d="M603.8 159q29 29.7 64.9 47.4"/><path d="M592.2 155.4q-33.1 8-60.6 25.4"/><path d="M592.6 156.6q-20.7 9.2-36.5 23.1"/><path d="M594 158.7q-9.2 9.3-14.9 19.2"/><path d="M598.3 160.8q-.6 9 .5 16.3"/><path d="M602.6 159.9q7.5 11.7 16.7 20"/><path d="M604.2 158.5q18.3 15.3 38.9 23.8"/><path d="M604.9 157.7q30.1 18.5 63.1 26"/><path d="M592.1 153.1q-43.6-4.5-84.6 5.6"/><path d="M592.1 153.3q-30.9-2.2-59.4 5.2"/><path d="M592.1 153.7q-18.2-.1-34.2 4.5"/><path d="M592.1 154.9q-5.4 1-9.2 2.5"/></g><g class="bx"><path d="M600.4 160.7Q600.4 160.8 599.8 159.3M600.2 153.1L599.8 159.3 595.1 155.3Z"/></g><g class="b"><path d="M605.4 156.6q6.5 2.4 11.9 3.2"/><path d="M605.7 156q18.8 5.4 36.8 5.1"/><path d="M605.7 155.8q31.4 8 62.2 5.7"/><path d="M605.7 155.7q44 10.6 87.5 6.1"/><path d="M592.5 151.5q-41.8-15.2-84.8-15.4"/><path d="M592.7 151.1q-29.4-12.3-59.7-14.5"/><path d="M593 150.5q-17.2-9.3-34.8-12.8"/><path d="M594.1 149q-5.9-5.5-11.5-8.8"/></g><g class="bx"><path d="M600.4 147.1Q600.7 145.1 600.7 144.6M597.7 150.1L600.7 144.6 603.3 150.3Z"/></g><g class="b"><path d="M605.3 151q8.3-4.2 14.1-9.2"/><path d="M605.9 152.9q20.5-3.8 37.7-12.7"/><path d="M606 153.6q33.2-2 62.5-14.1"/><path d="M606 154q45.9 0 87.7-14.9"/><path d="M593 150.5q-52.7-29.1-110.7-37.8"/><path d="M593.2 150.1q-40.3-26.2-85.7-36.7"/><path d="M593.7 149.5q-28.3-23.1-61.2-35.2"/><path d="M594.6 148.5q-16.7-19.8-37.5-32.6"/><path d="M596.7 147.4q-6.4-16.5-16.2-29.3"/><path d="M600.4 147.1q2.4-14.3 1.1-27.2"/><path d="M603.7 148.8q11.9-14 18.8-29.4"/><path d="M605.1 150.6q23.4-13.6 40.4-32.7"/><path d="M605.6 151.8q35.7-12.5 64.1-34.9"/><path d="M605.8 152.5q48.3-10.7 88.7-36.4"/><path d="M605.9 153q60.9-8.7 113.6-37.4"/></g><g class="c"><path d="M684.9 160.8q-6 35.6-.2 69.6"/><path d="M679.3 152.7q-36.7-6.2-71.9-.3"/><path d="M693 155.2q36.7 6.2 72 .2"/><path d="M680.4 157.8q-45.4 30.8-76.5 74"/><path d="M690.2 159.6q32 44.5 76.1 74.5"/><path d="M690.2 159.6q32 44.5 76.1 74.5"/></g><g class="b"><path d="M682.3 159.7q-20.6 31.6-29.3 66.7"/><path d="M684.1 160.6q-9.7 32.9-8.3 65.6"/><path d="M686.2 160.9q.9 34.7 12.4 65.8"/><path d="M688.1 160.6q11.5 37.2 33.7 67.3"/><path d="M680.3 157.7q-29.1 19.2-49.5 45.5"/><path d="M681.5 159.1q-17.5 20-27.3 43.1"/><path d="M683.8 160.5q-7 20.7-7.4 41"/><path d="M686.8 160.8q2.7 22.4 11.2 41.6"/><path d="M689.2 160.2q12.7 25.1 31.6 43.9"/><path d="M690.6 159.3q23.8 28.3 54.3 46.5"/><path d="M679.3 155.1q-38.7 7.2-71.6 26"/><path d="M679.5 156q-26.1 8.7-47 24.2"/><path d="M680.3 157.6q-14.1 9.4-23.9 21.2"/><path d="M683.1 160.2q-4 8.8-5.5 16.8"/><path d="M688.2 160.6q3.5 10.1 8.6 17.8"/><path d="M690.9 159.1q13.2 13.7 28.5 22.3"/><path d="M691.8 158q24.8 17.2 52.2 25.2"/><path d="M692.2 157.4q36.9 20.2 76.9 26.7"/><path d="M679.3 153.2q-36.6-3.2-70.7 5.4"/><path d="M679.2 153.5q-23.8-1-45.3 4.9"/><path d="M679.2 154.2q-11.1 .7-20.2 3.7"/></g><g class="bx"><path d="M680.2 157.4Q678.1 158.9 677.4 159.7M683.3 157.6L677.4 159.7 679.3 153.7Z"/><path d="M692.1 157.5Q693.5 158.2 693.6 158.2M689.4 153.5L693.6 158.2 687.4 158.7Z"/></g><g class="b"><path d="M692.7 156.2q13.4 4.1 25.7 4.5"/><path d="M692.8 155.9q25.8 6.8 51 5.5"/><path d="M692.9 155.7q38.4 9.5 76.2 6"/><path d="M679.6 151.6q-47.4-16.4-96-15.7"/><path d="M679.7 151.3q-34.9-13.6-70.8-14.9"/><path d="M680 150.8q-22.6-10.6-45.8-13.7"/><path d="M680.6 149.8q-10.7-7.3-21.5-11.1"/></g><g class="bx"><path d="M683.6 147.5Q682.2 144.5 681.3 143M682 149.2L681.3 143 686.6 146.2Z"/></g><g class="b"><path d="M691.4 149.4q3.5-3.5 5.5-6.2"/><path d="M692.9 152.3q15-4.2 26.9-11.5"/><path d="M693.1 153.3q27.6-2.8 51.4-13.6"/><path d="M693.1 153.9q40.3-1 76.5-14.7"/><path d="M693.1 154.2q53 1.2 101.7-15.3"/><path d="M680.3 150.3q-45.9-27.5-96.8-37.3"/><path d="M680.6 149.8q-33.6-24.5-72-36"/><path d="M681.3 149q-21.8-21.3-47.9-33.9"/><path d="M682.7 147.9q-10.8-17.9-25.2-30.9"/><path d="M685.7 147q-1.3-15-6.1-27.6"/><path d="M689.6 147.9q7.5-14 10.5-28"/><path d="M691.8 149.8q18.1-13.8 30.4-31.3"/><path d="M692.6 151.3q30.2-13 53.4-34"/><path d="M692.9 152.2q42.7-11.5 77.7-35.8"/><path d="M693 152.8q55.3-9.6 102.5-37"/></g><g class="c"><path d="M772.1 160.8q-6 35.6-.3 69.6"/><path d="M766.5 152.7q-36.8-6.2-72-.3"/><path d="M780.1 155.2q36.8 6.2 72 .2"/><path d="M767.5 157.8q-45.3 30.8-76.4 74"/><path d="M777.3 159.6q32 44.5 76.1 74.5"/><path d="M772.1 160.8q-6 35.6-.3 69.6"/></g><g class="b"><path d="M768.8 159.2q-25.6 31.1-39 67.5"/><path d="M770.4 160.2q-14.5 32.3-17.5 66"/><path d="M772.4 160.8q-3.8 33.9 3.2 65.6"/><path d="M774.5 160.8q6.7 36 24 66.5"/><path d="M767.2 157.1q-34.6 18.7-59.9 46.6"/><path d="M768 158.4q-22.5 19.7-36.9 44.2"/><path d="M769.8 159.9q-11.5 20.4-16 41.8"/><path d="M772.6 160.8q-1.6 21.5 2.9 41"/><path d="M775.4 160.6q8.1 23.8 22.2 42.7"/><path d="M777.2 159.7q18.8 26.9 44 45.4"/><path d="M778.2 158.9q30.3 30.1 67.5 47.6"/><path d="M766.6 155.5q-31.8 8.1-57.9 25.2"/><path d="M767 156.8q-19.3 9.2-33.9 22.7"/><path d="M768.6 159q-8 9.2-12.8 18.7"/><path d="M773.2 160.9q.1 9 2 16.3"/><path d="M777.2 159.7q8.6 12.1 18.9 20.5"/><path d="M778.6 158.4q19.6 15.7 41.6 24.1"/><path d="M779.2 157.6q31.5 18.9 65.9 26.2"/><path d="M779.5 157.1q43.8 21.9 90.8 27.4"/><path d="M779.7 156.8q56.1 24.7 115.9 28.2"/><path d="M766.4 153.1q-42.2-4.2-81.8 5.6"/><path d="M766.4 153.3q-29.5-1.9-56.6 5.2"/><path d="M766.4 153.8q-16.8 .1-31.4 4.4"/><path d="M766.5 155.2q-4.1 .9-6.6 2"/></g><g class="bx"><path d="M776.8 159.9Q777.2 160.4 776.5 159.6M774.7 153.7L776.5 159.6 770.7 157.5Z"/></g><g class="b"><path d="M779.8 156.5q7.8 2.8 14.6 3.6"/><path d="M780 156q20.2 5.6 39.7 5.2"/><path d="M780 155.8q32.8 8.3 65 5.8"/><path d="M780 155.6q45.4 11 90.3 6.2"/><path d="M780.1 155.6q58 13.5 115.5 6.3"/><path d="M766.8 151.5q-40.4-14.9-82-15.4"/><path d="M767 151.1q-28-12-56.9-14.4"/><path d="M767.4 150.4q-15.9-8.9-32.1-12.6"/><path d="M768.7 148.7q-4.8-5-9.3-8"/></g><g class="bx"><path d="M775.7 147.4Q776.4 145.3 776.5 144.6M772.8 149.5L776.5 144.6 778.2 150.5Z"/></g><g class="b"><path d="M779.8 151.3q9.5-4.3 16.5-9.7"/><path d="M780.2 153q21.9-3.6 40.4-12.9"/><path d="M780.3 153.7q34.6-1.9 65.3-14.3"/><path d="M780.3 154.1q47.3 .2 90.5-15"/><path d="M780.3 154.3q60 2.5 115.7-15.5"/><path d="M767.3 150.5q-51.3-28.8-107.9-37.7"/><path d="M767.6 150q-39-25.8-83-36.6"/><path d="M768.1 149.4q-27-22.8-58.5-34.9"/><path d="M769.1 148.4q-15.6-19.4-35-32.3"/><path d="M771.3 147.3q-5.3-16.2-14.1-28.9"/><path d="M775.1 147.2q3.4-14.2 3-27.2"/><path d="M778.2 149q13.1-14 21-29.8"/><path d="M779.5 150.7q24.7-13.5 42.9-32.9"/><path d="M779.9 151.9q37.1-12.3 66.9-35.1"/><path d="M780.1 152.6q49.7-10.5 91.5-36.5"/><path d="M780.2 153.1q62.3-8.5 116.4-37.5"/></g><g class="c"><path d="M859.2 160.8q-6 35.6-.2 69.6"/><path d="M853.6 152.7q-36.7-6.2-71.9-.3"/><path d="M854.7 157.8q-45.4 30.8-76.5 74"/><path d="M854.7 157.8q-45.4 30.8-76.5 74"/></g><g class="b"><path d="M860.4 160.9q-.1 47.3 15.4 90.4"/><path d="M861.9 160.7q11 49.8 37.5 91.5"/><path d="M856.8 159.8q-19.4 31.7-27 66.5"/><path d="M858.6 160.6q-8.5 33.1-5.9 65.6"/><path d="M860.8 160.9q2 35 14.6 65.9"/><path d="M862.6 160.5q12.7 37.6 36.1 67.5"/><path d="M854.7 157.8q-27.8 19.3-46.9 45.3"/><path d="M856 159.2q-16.2 20.2-25 42.9"/><path d="M858.4 160.6q-5.9 20.8-5.3 40.9"/><path d="M861.4 160.8q3.7 22.6 13.4 41.7"/><path d="M863.7 160.1q13.9 25.5 34 44.2"/><path d="M853.6 155.2q-37.3 7.4-68.8 25.8"/><path d="M853.9 156.1q-24.8 8.9-44.4 24"/><path d="M854.8 157.9q-12.8 9.4-21.6 20.7"/><path d="M857.9 160.4q-3 8.8-3.9 16.5"/><path d="M862.9 160.4q4.5 10.5 10.5 18.4"/><path d="M865.3 158.9q14.5 14.2 31.1 22.8"/><path d="M853.6 153.2q-35.2-2.9-67.9 5.4"/><path d="M853.5 153.5q-22.4-.7-42.5 4.9"/><path d="M853.5 154.3q-9.7 .9-17.4 3.5"/></g><g class="bx"><path d="M855.2 158.5Q854.3 159.6 854.3 159.5M859.8 156.5L854.3 159.5 855.2 153.3Z"/><path d="M866.6 157.2Q869.2 158.3 870.5 158.7M866 154.4L870.5 158.7 864.4 159.8Z"/></g><g class="b"><path d="M867.1 156.1q14.7 4.5 28.4 4.7"/><path d="M853.9 151.6q-46-16.1-93.2-15.6"/><path d="M854.1 151.3q-33.6-13.3-68.1-14.9"/><path d="M854.3 150.8q-21.2-10.4-43-13.6"/><path d="M855 149.7q-9.5-6.9-18.9-10.7"/></g><g class="bx"><path d="M858.8 147.2Q857.9 144.7 857.4 143.6M857.2 149.8L857.4 143.6 862.3 147.5Z"/></g><g class="b"><path d="M866.1 149.9q4.6-3.8 7.4-7.1"/><path d="M867.2 152.4q16.4-4.1 29.6-11.8"/><path d="M854.6 150.2q-44.5-27.1-94-37.1"/><path d="M855 149.7q-32.3-24.1-69.3-35.7"/><path d="M855.7 148.9q-20.5-20.9-45.2-33.6"/><path d="M857.3 147.8q-9.7-17.6-23-30.5"/><path d="M860.5 147q-.4-14.8-4.3-27.4"/><path d="M864.3 148.1q8.5-14 12.4-28.3"/><path d="M866.2 150q19.5-13.8 32.9-31.6"/></g><g class="c"><path d="M251.8 741q22.8-120.4 .2-239.4"/><path d="M257.2 749.2q123.9 23.5 246.3 .3"/><path d="M256.2 744q149.5-98.2 250.8-243.7"/><path d="M244.6 751.7q-45.3 30.8-76.4 74"/><path d="M249.2 754.7q-6 35.6-.3 69.6"/><path d="M254.4 753.5q32 44.6 76.1 74.5"/><path d="M243.6 746.6q-36.7-6.2-72-.3"/><path d="M250.4 671.5C289.6 671.5 289.6 747.8 250.4 747.8 211.2 747.8 211.2 671.5 248.9 671.5"/><path d="M257.3 749.1q36.7 6.2 71.9 .3"/><path d="M246.4 742.2q-32-44.6-76.1-74.5"/><path d="M251.7 741q6-35.6 .2-69.6"/><path d="M256.2 744q45.4-30.8 76.5-74.1"/><path d="M513.2 741q22.8-120.4 .3-239.4"/><path d="M505.1 746.5q-123.9-23.5-246.3-.3"/><path d="M518.7 749.2q123.9 23.5 246.3 .3"/><path d="M517.7 744q149.4-98.2 250.8-243.7"/><path d="M507.9 742.1q-102.2-146.7-250.4-244.1"/><path d="M506.1 751.7q-45.4 30.8-76.5 74"/><path d="M510.6 754.7q-6 35.6-.2 69.6"/><path d="M515.9 753.5q32 44.6 76.1 74.5"/><path d="M505 746.6q-36.7-6.2-71.9-.3"/><path d="M511.9 671.5C551.1 671.5 551.1 747.8 511.9 747.8 472.7 747.8 472.7 671.5 510.3 671.5"/><path d="M518.7 749.1q36.7 6.2 72 .3"/><path d="M507.9 742.2q-32-44.6-76.1-74.5"/><path d="M513.1 741q6-35.6 .3-69.6"/><path d="M517.7 744q45.3-30.8 76.4-74.1"/><path d="M774.6 741q22.8-120.4 .3-239.4"/><path d="M766.5 746.5q-123.9-23.5-246.3-.3"/><path d="M769.4 742.1q-102.3-146.7-250.4-244.1"/><path d="M767.5 751.7q-45.3 30.8-76.4 74"/><path d="M772.1 754.7q-6 35.6-.3 69.6"/><path d="M777.3 753.5q32 44.6 76.1 74.5"/><path d="M766.5 746.6q-36.8-6.2-72-.3"/><path d="M780.1 749.1q36.8 6.2 72 .3"/><path d="M769.3 742.2q-32-44.6-76.1-74.5"/><path d="M774.6 741q5.9-35.6 .2-69.6"/><path d="M779.1 744q45.4-30.8 76.5-74.1"/><path d="M249.1 500.1q-22.8 120.5-.3 239.4"/><path d="M251.8 486.5q22.8-120.5 .2-239.4"/><path d="M257.2 494.6q123.9 23.5 246.3 .3"/><path d="M256.2 489.5q149.5-98.3 250.8-243.7"/><path d="M254.4 499q102.2 146.8 250.4 244.2"/><path d="M244.6 497.1q-45.3 30.8-76.4 74.1"/><path d="M249.2 500.1q-6 35.6-.3 69.7"/><path d="M254.4 499q32 44.5 76.1 74.4"/><path d="M243.6 492q-36.7-6.2-72-.2"/><path d="M250.4 416.9C289.6 416.9 289.6 493.3 250.4 493.3 211.2 493.3 211.2 416.9 248.9 416.9"/><path d="M257.3 494.6q36.7 6.2 71.9 .2"/><path d="M246.4 487.6q-32-44.5-76.1-74.4"/><path d="M251.7 486.5q6-35.6 .2-69.7"/><path d="M256.2 489.5q45.4-30.8 76.5-74.1"/><path d="M510.5 500.1q-22.8 120.5-.2 239.4"/><path d="M513.2 486.5q22.8-120.5 .3-239.4"/><path d="M505.1 492q-123.9-23.5-246.3-.3"/><path d="M518.7 494.6q123.9 23.5 246.3 .3"/><path d="M506.1 497.1q-149.5 98.3-250.8 243.7"/><path d="M517.7 489.5q149.4-98.3 250.8-243.7"/><path d="M507.9 487.6q-102.2-146.7-250.4-244.2"/><path d="M515.8 499q102.3 146.8 250.4 244.2"/><path d="M506.1 497.1q-45.4 30.8-76.5 74.1"/><path d="M510.6 500.1q-6 35.6-.2 69.7"/><path d="M515.9 499q32 44.5 76.1 74.4"/><path d="M505 492q-36.7-6.2-71.9-.2"/><path d="M511.9 416.9C551.1 416.9 551.1 493.3 511.9 493.3 472.7 493.3 472.7 416.9 510.3 416.9"/><path d="M518.7 494.6q36.7 6.2 72 .2"/><path d="M507.9 487.6q-32-44.5-76.1-74.4"/><path d="M513.1 486.5q6-35.6 .3-69.7"/><path d="M517.7 489.5q45.3-30.8 76.4-74.1"/><path d="M772 500.1q-22.8 120.5-.3 239.4"/><path d="M774.6 486.5q22.8-120.5 .3-239.4"/><path d="M766.5 492q-123.9-23.5-246.3-.3"/><path d="M767.5 497.1q-149.4 98.3-250.8 243.7"/><path d="M769.4 487.6q-102.3-146.7-250.4-244.2"/><path d="M767.5 497.1q-45.3 30.8-76.4 74.1"/><path d="M772.1 500.1q-6 35.6-.3 69.7"/><path d="M777.3 499q32 44.5 76.1 74.4"/><path d="M766.5 492q-36.8-6.2-72-.2"/><path d="M780.1 494.6q36.8 6.2 72 .2"/><path d="M769.3 487.6q-32-44.5-76.1-74.4"/><path d="M774.6 486.5q5.9-35.6 .2-69.7"/><path d="M779.1 489.5q45.4-30.8 76.5-74.1"/><path d="M249.1 245.6q-22.8 120.4-.3 239.4"/><path d="M257.2 240.1q123.9 23.5 246.3 .3"/><path d="M254.4 244.5q102.2 146.7 250.4 244.2"/><path d="M244.6 242.6q-45.3 30.8-76.4 74.1"/><path d="M249.2 245.6q-6 35.6-.3 69.7"/><path d="M254.4 244.5q32 44.5 76.1 74.4"/><path d="M243.6 237.5q-36.7-6.2-72-.2"/><path d="M257.3 240q36.7 6.2 71.9 .3"/><path d="M246.4 233.1q-32-44.5-76.1-74.5"/><path d="M251.7 231.9q6-35.5 .2-69.6"/><path d="M256.2 234.9q45.4-30.8 76.5-74"/><path d="M510.5 245.6q-22.8 120.4-.2 239.4"/><path d="M505.1 237.4q-123.9-23.4-246.3-.2"/><path d="M518.7 240.1q123.9 23.5 246.3 .3"/><path d="M506.1 242.6q-149.5 98.3-250.8 243.7"/><path d="M515.8 244.5q102.3 146.7 250.4 244.2"/><path d="M506.1 242.6q-45.4 30.8-76.5 74.1"/><path d="M510.6 245.6q-6 35.6-.2 69.7"/><path d="M515.9 244.5q32 44.5 76.1 74.4"/><path d="M505 237.5q-36.7-6.2-71.9-.2"/><path d="M518.7 240q36.7 6.2 72 .3"/><path d="M507.9 233.1q-32-44.5-76.1-74.5"/><path d="M513.1 231.9q6-35.5 .3-69.6"/><path d="M517.7 234.9q45.3-30.8 76.4-74"/><path d="M772 245.6q-22.8 120.4-.3 239.4"/><path d="M766.5 237.4q-123.9-23.4-246.3-.2"/><path d="M767.5 242.6q-149.4 98.3-250.8 243.7"/><path d="M767.5 242.6q-45.3 30.8-76.4 74.1"/><path d="M772.1 245.6q-6 35.6-.3 69.7"/><path d="M777.3 244.5q32 44.5 76.1 74.4"/><path d="M766.5 237.5q-36.8-6.2-72-.2"/><path d="M780.1 240q36.8 6.2 72 .3"/><path d="M769.3 233.1q-32-44.5-76.1-74.5"/><path d="M774.6 231.9q5.9-35.5 .2-69.6"/><path d="M779.1 234.9q45.4-30.8 76.5-74"/></g><g class="a"><path d="M125.5 871.2q19.4-13.8 32.8-31.6"/><path d="M148.8 869.3q8.5-14 12.4-28.4"/><path d="M170.3 868.2q-.4-14.8-4.3-27.5"/><path d="M192.4 868.9q-9.7-17.5-22.9-30.4"/><path d="M225.8 870.2q13.1-14 21-29.8"/><path d="M248 868.4q3.4-14.2 2.9-27.2"/><path d="M269.5 868.5q-5.3-16.2-14.1-28.9"/><path d="M302.4 871q18.2-13.9 30.4-31.3"/><path d="M325.6 869.1q7.4-14.1 10.4-28.1"/><path d="M347 868.2q-1.4-15-6.2-27.7"/><path d="M369.3 869.1q-10.8-18-25.3-30.9"/><path d="M402.7 869.9q11.9-14 18.7-29.4"/><path d="M424.7 868.3q2.4-14.3 1.1-27.2"/><path d="M446.3 868.6q-6.4-16.5-16.2-29.3"/><path d="M479.4 870.8q16.8-13.9 28-30.9"/><path d="M502.3 868.9q6.4-14.1 8.5-27.8"/><path d="M523.7 868.2q-2.4-15.2-8.1-27.9"/><path d="M546.2 869.2q-12-18.3-27.7-31.2"/><path d="M579.5 869.7q10.8-14 16.6-29"/><path d="M601.3 868.2q1.5-14.4-.6-27.2"/><path d="M623.1 868.7q-7.5-16.9-18.4-29.7"/><path d="M656.3 870.6q15.6-14 25.6-30.6"/><path d="M679 868.7q5.4-14.1 6.6-27.5"/><path d="M700.4 868.3q-3.3-15.6-10.1-28.2"/><path d="M723.1 869.3q-13.2-18.6-30.1-31.6"/><path d="M756.3 869.5q9.7-14 14.5-28.7"/><path d="M778 868.2q.5-14.6-2.5-27.3"/><path d="M799.9 868.8q-8.6-17.2-20.6-30"/><path d="M833.2 870.4q14.4-14 23.3-30.2"/><path d="M855.7 868.5q4.4-14.1 4.7-27.3"/><path d="M877.1 868.4q-4.3-15.9-12-28.6"/><path d="M900 869.5q-14.3-19.1-32.5-32"/><path d="M126.5 849q16.3-4.2 29.5-11.9"/><path d="M150.6 846.4q4.6-3.7 7.4-7"/></g><g class="ax"><path d="M168.6 843.7Q167.8 841.2 167.3 840.2M167.1 846.4L167.3 840.2 172.1 844.1Z"/></g><g class="a"><path d="M190.1 846.2q-9.4-6.9-18.8-10.6"/><path d="M202.5 849.5q21.9-3.6 40.4-12.9"/><path d="M214.7 847.3q-21.2-10.3-43-13.5"/><path d="M227.3 847.9q9.6-4.3 16.6-9.8"/></g><g class="ax"><path d="M248.6 844Q249.3 841.8 249.4 841.1M245.6 846.1L249.4 841.1 251.1 847.1Z"/></g><g class="a"><path d="M266.9 845.3q-4.8-5-9.3-8.1"/><path d="M290.8 846.9q-15.8-8.9-32-12.5"/><path d="M303.6 848.8q14.9-4.2 26.8-11.5"/><path d="M327.4 845.9q3.5-3.4 5.5-6.1"/></g><g class="ax"><path d="M344.9 844Q343.5 841 342.5 839.6M343.2 845.7L342.5 839.6 347.9 842.7Z"/></g><g class="a"><path d="M367.1 846.4q-10.7-7.3-21.4-11.1"/><path d="M379.6 849.4q20.5-3.8 37.7-12.7"/><path d="M404.3 847.6q8.3-4.3 14.1-9.2"/></g><g class="ax"><path d="M424.7 843.7Q425 841.6 425 841.2M422 846.6L425 841.2 427.6 846.8Z"/></g><g class="a"><path d="M443.7 845.5q-5.9-5.5-11.5-8.8"/><path d="M467.9 847q-17.2-9.2-34.8-12.8"/><path d="M480.6 848.6q13.6-4.3 24.2-11.1"/><path d="M504 845.4q2.6-3.1 3.8-5.2"/><path d="M521.3 844.3q-2.1-3.4-3.7-5.4"/><path d="M544.1 846.5q-12-7.7-24.1-11.5"/><path d="M556.7 849.3q19.1-3.9 34.9-12.4"/><path d="M581.3 847.2q6.9-4.1 11.7-8.5"/></g><g class="ax"><path d="M600.7 843.5Q600.7 841.5 600.6 841M598.5 846.9L600.6 841 604 846.2Z"/></g><g class="a"><path d="M620.6 845.8q-7-6-13.9-9.5"/><path d="M644.9 847.1q-18.5-9.6-37.5-13.1"/><path d="M657.7 848.4q12.2-4.3 21.6-10.7"/></g><g class="ax"><path d="M680.5 844.9Q682.2 842.1 683 840.5M678.1 844.4L683 840.5 683.1 846.8Z"/></g><g class="a"><path d="M697.9 844.6q-3-3.9-5.4-6.3"/><path d="M721.1 846.7q-13.2-8.1-26.7-11.9"/><path d="M733.7 849.1q17.8-4 32.3-12.1"/><path d="M758.1 846.8q5.8-3.9 9.6-7.8"/></g><g class="ax"><path d="M776.8 843.6Q776.4 841.4 776.2 840.7M775.1 846.8L776.2 840.7 780.4 845.2Z"/></g><g class="a"><path d="M797.5 846q-8.2-6.4-16.3-10.1"/><path d="M809.7 849.6q23.4-3.4 43.2-13.1"/><path d="M822 847.2q-19.9-10-40.3-13.3"/><path d="M834.7 848.1q10.8-4.3 19-10.2"/></g><g class="ax"><path d="M856.8 844.4Q857.9 842 858.3 840.9M853.9 845.3L858.3 840.9 859.2 847Z"/></g><g class="a"><path d="M874.5 845q-3.8-4.5-7.2-7.3"/><path d="M898.1 846.8q-14.5-8.5-29.3-12.2"/><path d="M126.3 828q14.7 4.5 28.5 4.7"/></g><g class="ax"><path d="M151.1 829.1Q153.8 830.3 155 830.6M150.5 826.3L155 830.6 148.9 831.7Z"/><path d="M165.1 830.4Q164.1 831.5 164.2 831.4M169.6 828.4L164.2 831.4 165 825.2Z"/></g><g class="a"><path d="M188.7 826.2q-9.7 .9-17.5 3.5"/><path d="M202.2 827.9q20.3 5.7 39.7 5.2"/><path d="M214 825.4q-22.4-.7-42.6 4.9"/><path d="M227.4 828.4q7.8 2.8 14.6 3.6"/></g><g class="ax"><path d="M249.7 831.8Q250 832.3 249.4 831.5M247.6 825.6L249.4 831.5 243.5 829.4Z"/></g><g class="a"><path d="M264.7 827.1q-4.1 1-6.6 2"/><path d="M289.9 825.7q-16.8 .1-31.4 4.4"/><path d="M303.4 828.1q13.3 4.1 25.7 4.5"/></g><g class="ax"><path d="M328.1 829.4Q329.5 830.1 329.5 830.1M325.4 825.4L329.5 830.1 323.3 830.6Z"/><path d="M341.4 829.3Q339.4 830.8 338.7 831.6M344.5 829.5L338.7 831.6 340.5 825.6Z"/></g><g class="a"><path d="M365.8 826.1q-11.1 .7-20.2 3.7"/><path d="M379.3 827.9q18.9 5.4 36.9 5.1"/><path d="M391.1 825.4q-23.8-1-45.4 4.9"/><path d="M404.4 828.5q6.5 2.4 11.9 3.2"/></g><g class="ax"><path d="M424.7 832.6Q424.7 832.7 424.1 831.2M424.5 825.1L424.1 831.2 419.4 827.2Z"/></g><g class="a"><path d="M441.7 826.8q-5.4 1-9.2 2.5"/><path d="M467 825.6q-18.2-.1-34.2 4.5"/><path d="M480.5 828.2q11.9 3.7 22.9 4.3"/></g><g class="ax"><path d="M505 829.8Q505.2 829.9 504.1 829.3M500.5 824.2L504.1 829.3 497.9 829.1Z"/><path d="M518.1 828.5Q517.9 828.6 519 828M525.2 827.8L519 828 522.5 822.9Z"/></g><g class="a"><path d="M542.9 825.9q-12.5 .7-23 4"/><path d="M556.4 827.9q17.5 5.1 34.1 5"/><path d="M581.5 828.7q5.2 2 9.1 2.8"/></g><g class="ax"><path d="M599 832.6Q599 832.7 599 831.1M601.8 825.6L599 831.1 596.3 825.6Z"/></g><g class="a"><path d="M618.8 826.5q-6.9 1.1-11.9 2.9"/><path d="M632.4 827.8q23 6.3 45.3 5.4"/><path d="M644.1 825.5q-19.6-.3-37 4.7"/><path d="M657.5 828.2q10.6 3.5 20.2 4.1"/></g><g class="ax"><path d="M681.7 830.3Q683.8 831.6 684.7 832.1M680.8 827.3L684.7 832.1 678.5 832.4Z"/><path d="M695 827.9Q693.5 828.5 693.5 828.5M699.8 828.5L693.5 828.5 697.3 823.5Z"/></g><g class="a"><path d="M720 825.8q-13.9 .5-25.8 4.2"/><path d="M733.5 828q16.1 4.7 31.3 4.8"/><path d="M758.5 828.9q3.9 1.6 6.5 2.2"/></g><g class="ax"><path d="M773.7 831.6Q773.5 832.2 773.9 831.2M778.4 827L773.9 831.2 773.2 825Z"/></g><g class="a"><path d="M795.9 826.4q-8.3 .9-14.7 3.2"/><path d="M809.5 827.8q21.6 6 42.5 5.3"/><path d="M821.2 825.5q-21-.5-39.7 4.7"/><path d="M834.6 828.3q9.2 3.1 17.4 3.9"/></g><g class="ax"><path d="M858.1 831Q859.2 831.9 859.2 831.8M856 826.5L859.2 831.8 853 831.1Z"/><path d="M872 827.4Q869.2 828.3 868 828.8M874.2 829.1L868 828.8 872 824Z"/></g><g class="a"><path d="M897.1 825.8q-15.3 .2-28.6 4.2"/><path d="M124.5 806.2q14.5 14.1 31.2 22.7"/><path d="M147.5 807.7q4.5 10.5 10.4 18.4"/><path d="M148.4 795.1q9.9-19.1 13.5-38.9"/><path d="M167.8 807.7q-3.1 8.8-3.9 16.5"/><path d="M170.6 794.3q.3-20.3-4.8-38.3"/><path d="M189.9 805.2q-12.8 9.3-21.6 20.6"/><path d="M224.8 807q8.6 12.1 18.9 20.5"/><path d="M225.3 795.8q14.6-18.9 22.3-39.9"/><path d="M246.1 808.1q.1 9.1 2 16.4"/><path d="M247.9 794.5q4.6-19.6 3.3-38.2"/><path d="M266.8 806.3q-8 9.2-12.8 18.7"/><path d="M270.1 794.4q-4.9-21.5-15.3-39.3"/><path d="M290.5 804.1q-19.4 9.2-33.9 22.7"/><path d="M301.5 806.3q13.3 13.8 28.6 22.4"/><path d="M324.1 807.8q3.6 10.2 8.6 17.9"/><path d="M325.2 795q8.8-19.3 11.4-38.7"/><path d="M344.3 807.4q-3.9 8.9-5.4 16.9"/><path d="M347.4 794.3q-.7-20.5-6.9-38.5"/><path d="M366.8 804.9q-14 9.4-23.9 21.1"/><path d="M377.9 805.8q18.3 15.3 38.9 23.8"/><path d="M401.6 807.2q7.5 11.7 16.7 20"/><path d="M402.2 795.6q13.4-18.9 20.1-39.6"/><path d="M422.6 808.1q-.7 8.9 .5 16.2"/><path d="M424.7 794.4q3.5-19.8 1.2-38.2"/><path d="M443.6 806q-9.2 9.2-14.9 19.2"/><path d="M446.9 794.5q-6-21.9-17.4-39.6"/><path d="M467.5 803.9q-20.7 9.1-36.5 23.1"/><path d="M478.4 806.5q12.1 13.3 26.1 21.9"/><path d="M500.8 808q2.6 9.8 6.8 17.4"/><path d="M502 794.8q7.7-19.3 9.3-38.5"/><path d="M520.9 807.2q-4.8 8.9-7.1 17.2"/><path d="M524.1 794.3q-1.7-20.8-8.9-38.6"/><path d="M543.8 804.7q-15.3 9.4-26.4 21.6"/><path d="M554.9 805.9q17 14.9 36.3 23.5"/><path d="M578.4 807.3q6.4 11.3 14.5 19.5"/><path d="M579 795.5q12.3-19.1 17.9-39.4"/><path d="M599.1 808q-1.4 8.8-.9 16.2"/><path d="M601.4 794.3q2.5-19.9-.7-38.1"/><path d="M620.4 805.7q-10.3 9.3-17 19.7"/><path d="M623.8 794.5q-7.2-22.1-19.7-39.8"/><path d="M644.6 803.7q-22.1 9.1-39.2 23.4"/><path d="M655.3 806.6q10.9 13 23.7 21.5"/><path d="M677.3 808.1q1.8 9.5 5.2 16.9"/><path d="M678.7 794.7q6.7-19.4 7.4-38.4"/><path d="M697.6 806.9q-5.9 9-8.9 17.7"/><path d="M700.9 794.3q-2.8-21-11-38.8"/><path d="M720.8 804.4q-16.7 9.4-28.9 22"/><path d="M731.9 806q15.8 14.6 33.7 23.2"/><path d="M755.1 807.5q5.5 10.9 12.5 18.9"/><path d="M755.9 795.3q11.1-19.1 15.7-39.1"/><path d="M775.6 807.9q-2.3 8.8-2.4 16.3"/><path d="M778.2 794.3q1.4-20.1-2.8-38.2"/><path d="M797.3 805.4q-11.5 9.4-19.2 20.2"/><path d="M800.6 794.6q-8.2-22.4-22-40.1"/><path d="M832.2 806.8q9.8 12.5 21.3 21"/><path d="M853.9 808.1q1 9.3 3.5 16.7"/><path d="M855.5 794.6q5.6-19.5 5.3-38.3"/><path d="M874.3 806.6q-6.9 9.1-10.7 18.2"/><path d="M877.7 794.3q-3.9-21.2-13.2-39"/><path d="M897.8 804.2q-18 9.4-31.4 22.4"/><path d="M126.1 773.8q17.6-8.2 31-20.2"/><path d="M146 783.5q3.7 22.6 13.3 41.7"/><path d="M149.6 771.4q6.5-8 10.3-15.8"/><path d="M168.3 783.2q-5.9 20.9-5.4 41"/><path d="M169.7 769.7q-1.1-7.9-3.2-14"/><path d="M191.3 771.2q-9.7-11.4-20.8-18.8"/><path d="M202.2 774.5q23.1-7.9 41.5-21.5"/><path d="M226.6 772.6q11.1-8.3 18.8-17.9"/><path d="M245.5 783.5q-1.6 21.5 2.9 40.9"/><path d="M248.2 769.9q2-7.4 2.2-13.6"/><path d="M268 782.5q-11.5 20.4-16 41.8"/><path d="M268.3 770.4q-5.3-9.6-11.9-16.6"/><path d="M291.6 772q-15.7-13.4-33.3-21"/><path d="M303.1 773.6q16.3-8.3 28.4-19.8"/><path d="M322.8 783.5q2.6 22.4 11.2 41.5"/><path d="M326.3 771q5.5-7.8 8.4-15.2"/><path d="M345 783.1q-6.9 20.8-7.4 41.1"/><path d="M346.2 769.7q-1.8-8.1-4.7-14.3"/><path d="M368.2 771.3q-10.9-11.7-23.3-19.2"/><path d="M379.3 774.3q21.7-8 38.8-21.1"/><path d="M403.5 772.3q9.9-8.2 16.5-17.4"/><path d="M422.3 783.4q-2.7 21.3 .8 40.9"/><path d="M424.7 769.8q1.2-7.5 .8-13.5"/><path d="M444.8 782.4q-12.6 20.3-18.1 42"/><path d="M445.1 770.6q-6.4-10.1-14-17.2"/><path d="M468.6 772.1q-17-13.8-35.9-21.3"/><path d="M480.1 773.4q15-8.3 25.9-19.4"/><path d="M499.6 783.5q1.5 22.1 9 41.3"/><path d="M503 770.7q4.4-7.7 6.6-14.7"/><path d="M521.8 783q-8 20.6-9.5 41.2"/><path d="M522.7 769.9q-2.6-8.5-6.3-14.9"/><path d="M545.1 771.5q-12.1-12.2-25.7-19.7"/><path d="M556.3 774.2q20.4-8.1 36.2-20.9"/><path d="M576.7 783.3q5.9 23.2 17.7 42.2"/><path d="M580.4 772q8.7-8.1 14.3-16.9"/><path d="M599.1 783.4q-3.8 21.1-1.3 40.9"/><path d="M601.1 769.7q.5-7.6-.5-13.5"/><path d="M621.9 770.8q-7.5-10.5-16.2-17.7"/><path d="M645.6 772.2q-18.3-14.1-38.5-21.6"/><path d="M657.1 773.1q13.6-8.3 23.5-18.9"/><path d="M676.3 783.5q.5 21.9 7 41.2"/><path d="M679.6 770.4q3.5-7.6 5-14.2"/><path d="M698.7 782.8q-9.2 20.6-11.7 41.4"/><path d="M699.3 770q-3.5-8.8-8-15.4"/><path d="M722 771.7q-13.3-12.6-28.2-20.2"/><path d="M733.4 774q19-8.2 33.5-20.5"/><path d="M753.5 783.4q4.8 22.9 15.5 42"/><path d="M757.2 771.7q7.6-8 12.2-16.3"/><path d="M775.8 783.3q-4.8 21-3.3 40.9"/><path d="M777.6 769.6q-.3-7.7-1.9-13.6"/><path d="M798.7 771q-8.5-10.9-18.4-18.3"/><path d="M822.7 772.3q-19.7-14.5-41.3-21.9"/><path d="M834 772.9q12.4-8.3 21.1-18.5"/><path d="M853.1 783.5q-.6 21.7 4.9 41"/><path d="M856.1 770.2q2.7-7.5 3.6-13.9"/><path d="M875.5 782.7q-10.4 20.5-13.8 41.6"/><path d="M876 770.2q-4.4-9.2-9.9-16"/><path d="M899 771.8q-14.5-13-30.8-20.5"/><path d="M126.6 752.4q15.2 .7 28.5-2.4"/></g><g class="ax"><path d="M151.9 751.3Q154.4 750.9 155.3 750.6M149.2 749.4L155.3 750.6 150.7 754.8Z"/><path d="M164.4 748.3Q163.9 748 164.7 748.3M169.1 752.8L164.7 748.3 170.9 747.5Z"/></g><g class="a"><path d="M188.9 750q-9.2-2.3-17.1-2.4"/><path d="M202.5 752.6q20.8 1.6 39.7-2.7"/><path d="M214.2 750.3q-21.8-5-42.5-3.3"/><path d="M227.9 752q8-.2 14.4-1.8"/></g><g class="ax"><path d="M246.2 751.9Q248.7 750.3 249.5 749.1M244.1 752.1L249.5 749.1 248.7 755.3Z"/></g><g class="a"><path d="M264.9 749.7q-3.7-1-6-1.3"/><path d="M290.1 750.2q-16.2-3.8-31.2-3"/><path d="M303.7 752.4q13.8 .4 25.7-2.4"/></g><g class="ax"><path d="M329 750.9Q330.1 750.7 329.6 750.8M323.5 749.7L329.6 750.8 325.1 755Z"/><path d="M341.2 748.8Q339.4 748.2 339.1 748.1M344 752L339.1 748.1 345.1 746.5Z"/></g><g class="a"><path d="M366 750q-10.6-2.5-19.9-2.5"/><path d="M379.6 752.6q19.4 1.3 36.9-2.7"/><path d="M391.3 750.3q-23.2-5.2-45.3-3.3"/><path d="M405 751.9q6.6-.4 11.6-1.6"/></g><g class="ax"><path d="M423.3 751.9Q424.4 750 424.5 749.4M421 754.5L424.5 749.4 426.5 755.2Z"/></g><g class="a"><path d="M442 749.8q-5.1-1.3-8.8-1.6"/><path d="M467.2 750.2q-17.6-4.1-34-3.1"/><path d="M480.9 752.3q12.3 .3 22.8-2.2"/></g><g class="ax"><path d="M506 750.4Q509 749.4 510.5 748.6M504.3 748.9L510.5 748.6 507 753.7Z"/><path d="M518.2 749.2Q515.1 748.2 513.4 748M518.6 751.4L513.4 748 519.3 745.9Z"/></g><g class="a"><path d="M543.1 750.1q-12-2.9-22.7-2.7"/><path d="M556.7 752.5q18 1.1 34.1-2.6"/><path d="M582.1 751.7q5.2-.4 8.8-1.3"/></g><g class="ax"><path d="M600.4 751.9Q600.1 749.7 599.8 749.2M600.2 755.4L599.8 749.2 605 752.6Z"/></g><g class="a"><path d="M619.1 749.9q-6.5-1.7-11.6-1.9"/><path d="M632.6 752.7q23.7 2 45.3-2.8"/><path d="M644.3 750.2q-19-4.3-36.8-3.1"/><path d="M658 752.2q10.9 .1 20-2.1"/></g><g class="ax"><path d="M682.9 749.7Q684.6 748.9 684.9 748.7M678.7 749.5L684.9 748.7 681.8 754.1Z"/><path d="M695.2 749.4Q694.1 749.1 694.6 749.2M699.3 753.2L694.6 749.2 700.6 747.8Z"/></g><g class="a"><path d="M720.2 750.1q-13.3-3.2-25.5-2.8"/><path d="M733.9 752.5q16.5 .9 31.2-2.5"/><path d="M759.2 751.5q3.8-.4 6-1"/></g><g class="ax"><path d="M777.5 751.9Q775.8 749.5 774.6 748.7M777.8 754L774.6 748.7 780.8 749.4Z"/></g><g class="a"><path d="M796.2 749.9q-7.9-1.9-14.4-2.1"/><path d="M809.7 752.7q22.3 1.7 42.5-2.8"/><path d="M821.4 750.2q-20.3-4.6-39.6-3.2"/><path d="M835.1 752.2q9.5-.2 17.2-2.1"/></g><g class="ax"><path d="M859.5 748.6Q860 748.2 859.3 748.9M853.3 750.5L859.3 748.9 857 754.6Z"/><path d="M872.2 749.6Q869.8 748.9 868.9 748.8M873.9 752.4L868.9 748.8 874.9 746.9Z"/></g><g class="a"><path d="M897.3 750.1q-14.7-3.4-28.4-2.8"/><path d="M125.4 731.3q14.5 9.6 29.7 14.2"/><path d="M148.8 733.1q4.1 5.6 8 9.2"/><path d="M167.2 733.5q-1.6 3.7-2.2 6"/><path d="M189.2 730q-11.2 5.3-19.5 12.2"/><path d="M201.6 730.8q19.8 11.1 40.5 15.5"/><path d="M214.1 728.5q-23.7 4.5-43.4 15.2"/><path d="M225.9 732.1q8.3 7.5 16.9 12"/><path d="M246.7 734.2q.5 3.6 1 5.6"/><path d="M265.9 731.3q-6.2 4.9-10.3 9.8"/><path d="M290.1 729q-18.1 5-32.6 14.2"/><path d="M302.4 731.4q13.3 9.2 27.1 13.9"/><path d="M325.4 733.4q3.2 5.1 6.2 8.4"/><path d="M343.6 733.1q-2.3 3.9-3.4 6.7"/><path d="M366.2 729.8q-12.5 5.2-22.1 12.6"/><path d="M378.6 730.9q18.5 10.8 37.8 15.2"/><path d="M402.8 732.4q7.2 7 14.5 11.3"/></g><g class="ax"><path d="M422.9 734.2Q422.9 737.7 423.1 739.5M425.1 733.6L423.1 739.5 419.6 734.4Z"/></g><g class="a"><path d="M442.7 731q-7.4 5-12.4 10.4"/><path d="M467.1 728.8q-19.4 5-35.2 14.5"/><path d="M479.4 731.6q12 8.8 24.5 13.4"/><path d="M502 733.7q2.3 4.6 4.5 7.6"/><path d="M520.1 732.6q-3.1 4.2-4.8 7.5"/><path d="M543.3 729.6q-14 5.2-24.7 13"/><path d="M555.7 731q17.1 10.4 35 14.9"/><path d="M579.6 732.6q6.1 6.5 12.2 10.7"/></g><g class="ax"><path d="M599 734.1Q598.6 737.5 598.6 739.4M601.4 733.8L598.6 739.4 595.8 733.8Z"/></g><g class="a"><path d="M619.6 730.6q-8.6 5.2-14.7 11.1"/><path d="M644.2 728.7q-20.8 4.8-37.9 14.7"/><path d="M656.4 731.7q10.7 8.4 21.9 13.1"/><path d="M678.4 733.9q1.7 4.2 3.2 6.8"/><path d="M696.7 732.2q-4 4.4-6.4 8.2"/><path d="M720.3 729.3q-15.3 5.2-27.3 13.5"/><path d="M732.7 731.2q15.9 9.9 32.4 14.5"/><path d="M756.4 732.9q5.1 6 10 9.9"/><path d="M775.2 733.9q-.9 3.4-1.2 5.5"/><path d="M796.6 730.3q-9.9 5.2-17.1 11.7"/><path d="M808.9 730.7q21.1 11.5 43.2 15.7"/><path d="M821.3 728.6q-22.2 4.6-40.6 14.9"/><path d="M833.3 731.9q9.6 8 19.4 12.6"/><path d="M854.8 734.1q1 3.9 1.9 6.1"/><path d="M873.4 731.8q-5.1 4.6-8.2 9"/><path d="M897.3 729.2q-16.6 5.1-29.8 13.8"/><path d="M125.6 699q19-12.7 32.5-29.3"/><path d="M146.5 709.5q4.2 17.1 12.3 31.1"/><path d="M148.9 696.9q8.2-12.7 12.1-25.7"/><path d="M168.1 709.3q-4.7 15.4-4.9 30"/><path d="M170.2 695.7q-.6-13.4-4.1-24.7"/><path d="M190.7 707.5q-14.8 15.2-23.7 32.7"/><path d="M192.2 696.6q-9.7-16.2-22.5-28"/><path d="M223.7 709.1q8.5 18.5 21 32.5"/><path d="M225.9 697.9q12.8-12.8 20.6-27.3"/><path d="M245.7 709.6q-.7 16 2.6 30"/><path d="M248.1 696q3.1-12.9 2.8-24.5"/><path d="M267.5 708.4q-10 15.2-14.8 31.3"/><path d="M269.3 696.1q-5.4-14.8-13.7-26.3"/><path d="M300.5 708.6q13.1 19.9 30.4 34"/><path d="M292.4 697.3q-15.6-18.2-34.7-30"/><path d="M302.6 698.8q17.7-12.8 30-28.9"/><path d="M323.2 709.5q3.2 16.9 10.3 30.9"/><path d="M325.7 696.7q7-12.7 10.1-25.4"/><path d="M344.8 709.1q-5.7 15.4-6.8 30.2"/><path d="M346.9 695.8q-1.5-13.7-6-25"/><path d="M367.6 707.3q-16 15.2-26 33"/><path d="M369.1 696.8q-10.9-16.7-24.9-28.5"/><path d="M400.5 709.2q7.4 18.1 18.7 32.1"/><path d="M402.8 697.7q11.6-12.9 18.4-27"/><path d="M422.4 709.6q-1.7 15.8 .7 29.9"/><path d="M424.7 695.9q2.2-13 1.1-24.5"/><path d="M444.4 708.2q-11.2 15.2-17 31.6"/><path d="M446.1 696.2q-6.5-15.2-15.9-26.7"/><path d="M477.4 708.7q11.9 19.6 28 33.7"/><path d="M479.5 698.6q16.5-12.8 27.6-28.6"/><path d="M499.9 709.6q2.3 16.6 8.4 30.5"/><path d="M502.4 696.5q6-12.7 8.2-25.1"/><path d="M521.6 709q-6.8 15.3-8.8 30.4"/><path d="M523.5 695.8q-2.4-13.9-7.8-25.2"/><path d="M544.5 707.1q-17.2 15.1-28.3 33.4"/><path d="M546 696.9q-12-17-27.3-28.8"/><path d="M577.3 709.3q6.3 17.8 16.6 31.8"/><path d="M579.7 697.4q10.3-12.8 16.2-26.5"/><path d="M599.1 709.5q-2.7 15.7-1.2 29.9"/><path d="M601.3 695.8q1.3-13.1-.6-24.5"/><path d="M621.2 708q-12.3 15.2-19.1 31.9"/><path d="M622.9 696.3q-7.5-15.5-18-27.1"/><path d="M654.3 708.8q10.7 19.2 25.6 33.3"/><path d="M656.5 698.3q15.2-12.7 25.2-28.1"/><path d="M676.7 709.6q1.2 16.4 6.3 30.3"/><path d="M679.1 696.3q5-12.8 6.4-24.8"/><path d="M698.3 708.8q-7.8 15.3-10.7 30.7"/><path d="M700.2 695.9q-3.4-14.2-9.7-25.6"/><path d="M721.5 706.9q-18.6 15.1-30.8 33.7"/><path d="M722.9 697q-13.2-17.4-29.7-29.2"/><path d="M732.9 699.2q20.4-12.6 35-29.7"/><path d="M754.1 709.4q5.2 17.5 14.4 31.4"/><path d="M756.5 697.2q9.2-12.8 14.1-26.2"/><path d="M775.7 709.4q-3.6 15.5-3 30"/><path d="M777.9 695.7q.4-13.2-2.4-24.5"/><path d="M798.1 707.7q-13.5 15.3-21.4 32.3"/><path d="M799.7 696.5q-8.6-15.9-20.3-27.6"/><path d="M831.1 708.9q9.7 18.9 23.3 33"/><path d="M833.4 698.1q14-12.8 22.9-27.7"/><path d="M853.3 709.6q.3 16.2 4.5 30.2"/><path d="M855.8 696.1q4-12.8 4.5-24.6"/><path d="M875.1 708.6q-8.9 15.3-12.8 30.9"/><path d="M876.9 696q-4.4-14.5-11.7-26"/><path d="M899.8 697.2q-14.4-17.8-32.2-29.6"/><path d="M126.6 676.9q16-3.1 29.2-9.9"/><path d="M150.9 674.4q4.1-2.8 6.6-5.2"/></g><g class="ax"><path d="M168.1 671.5Q167.6 670.2 167.6 670.3M167.7 676.5L167.6 670.3 172.6 674Z"/></g><g class="a"><path d="M189.9 674.1q-9.4-5.8-18.5-8.7"/><path d="M202.5 677.4q21.7-2.6 40.2-10.8"/><path d="M214.6 675.1q-21.3-9.2-42.9-11.4"/><path d="M227.5 675.9q9.2-3.4 16-8"/></g><g class="ax"><path d="M248.8 671.6Q249.1 670.7 248.9 671.3M244.9 676L248.9 671.3 250.2 677.4Z"/></g><g class="a"><path d="M266.5 673.2q-4.6-4-8.6-6.3"/><path d="M290.7 674.8q-15.9-7.8-31.9-10.6"/><path d="M303.6 676.8q14.7-3.3 26.6-9.6"/><path d="M327.7 673.9q3-2.5 4.6-4.3"/></g><g class="ax"><path d="M344.4 671.8Q343.3 670 343 669.6M344 675.7L343 669.6 348.5 672.4Z"/></g><g class="a"><path d="M366.9 674.3q-10.7-6.3-21.1-9.2"/><path d="M379.6 677.3q20.3-2.7 37.5-10.6"/><path d="M391.7 675.2q-22.7-9.5-45.6-11.6"/><path d="M404.5 675.6q7.9-3.3 13.5-7.4"/></g><g class="ax"><path d="M424.7 671.2Q424.8 670.6 424.7 671.5M421.5 676.8L424.7 671.5 427.1 677.2Z"/></g><g class="a"><path d="M443.4 673.5q-5.8-4.5-10.9-7"/><path d="M467.7 674.9q-17.2-8.2-34.6-10.8"/><path d="M480.7 676.6q13.3-3.3 23.9-9.3"/></g><g class="ax"><path d="M504.3 673.3Q506.4 671.2 507.2 670.1M501.7 672.9L507.2 670.1 506.1 676.2Z"/><path d="M520.8 672.2Q519 669.8 518.1 668.8M519.9 674.8L518.1 668.8 523.9 670.9Z"/></g><g class="a"><path d="M543.9 674.5q-12-6.7-23.7-9.7"/><path d="M556.7 677.2q18.9-2.9 34.7-10.4"/><path d="M581.5 675.3q6.5-3.3 11-6.8"/></g><g class="ax"><path d="M600.5 671.1Q600.5 670.4 600.6 671.3M598.4 677.2L600.6 671.3 604 676.6Z"/></g><g class="a"><path d="M620.3 673.7q-6.9-4.9-13.3-7.7"/><path d="M632.7 677.6q24.5-2.2 45.7-11.2"/><path d="M644.8 675q-18.6-8.5-37.3-11"/><path d="M657.8 676.4q11.9-3.4 21.2-8.9"/></g><g class="ax"><path d="M680.8 672.7Q682 671 682.3 670.6M677.1 673.9L682.3 670.6 681.9 676.8Z"/></g><g class="a"><path d="M697.4 672.6q-2.6-3-4.5-4.5"/><path d="M720.9 674.6q-13.2-7.1-26.4-10"/><path d="M733.8 677.1q17.5-3.1 32-10.2"/><path d="M758.4 674.9q5.3-3.1 8.7-6.1"/></g><g class="ax"><path d="M776.4 671.2Q776.2 670.3 776.4 670.9M775.3 677L776.4 670.9 780.7 675.4Z"/></g><g class="a"><path d="M797.2 674q-8.1-5.5-15.8-8.3"/><path d="M809.8 677.5q23.1-2.4 42.9-11"/><path d="M821.9 675.1q-20-8.9-40.1-11.3"/><path d="M834.8 676.2q10.5-3.5 18.6-8.5"/></g><g class="ax"><path d="M857.1 672.1Q857.7 670.9 857.7 671M852.9 675L857.7 671 858 677.2Z"/></g><g class="a"><path d="M874.1 672.9q-3.6-3.5-6.4-5.4"/><path d="M898 674.7q-14.6-7.4-29.2-10.3"/><path d="M126.1 656q14.7 5.4 28.7 6.5"/></g><g class="ax"><path d="M150.7 657.4Q153.6 659.2 155.3 660M151.4 655.2L155.3 660 149.1 660.3Z"/><path d="M165.7 658.6Q164.3 660.7 163.9 661.6M168.8 657.7L163.9 661.6 163.8 655.4Z"/></g><g class="a"><path d="M188.7 654.3q-9.9 1.7-17.7 5.1"/><path d="M202.1 655.8q20.2 6.7 39.8 7.2"/><path d="M214 653.3q-22.7 .3-42.7 6.9"/><path d="M227.1 656.5q7.9 3.6 15 5.1"/></g><g class="ax"><path d="M248.6 659.9Q249.4 661.5 249.5 661.7M248.6 655.6L249.5 661.7 244.1 658.8Z"/></g><g class="a"><path d="M264.8 655.4q-4.4 1.6-7.2 3.1"/><path d="M289.9 653.7q-17 1-31.5 6.2"/><path d="M303.2 656.1q13.3 5.1 25.9 6.3"/></g><g class="ax"><path d="M327.5 657.8Q329.3 659 329.9 659.3M326.4 654.2L329.9 659.3 323.7 659.1Z"/><path d="M342 657.7Q339.5 660.1 338.5 661.7M343.9 658.7L338.5 661.7 339.3 655.6Z"/></g><g class="a"><path d="M365.8 654.1q-11.3 1.7-20.5 5.4"/><path d="M379.2 655.8q18.8 6.4 37 7.1"/><path d="M391.1 653.3q-24.1 .1-45.5 6.9"/><path d="M404.1 656.7q6.7 3.2 12.3 4.6"/></g><g class="ax"><path d="M423.9 660.3Q424.3 661.7 424.2 661.5M424.9 655.4L424.2 661.5 419.7 657.2Z"/></g><g class="a"><path d="M441.9 655q-5.8 1.7-9.8 3.8"/><path d="M467 653.6q-18.4 .8-34.3 6.4"/><path d="M480.3 656.2q11.9 4.7 23.1 6"/></g><g class="ax"><path d="M504.3 658.2Q505.1 658.8 504.6 658.5M501.7 653.1L504.6 658.5 498.5 657.6Z"/><path d="M518.6 657Q517.7 657.6 518.1 657.2M524.2 655.9L518.1 657.2 520.7 651.6Z"/></g><g class="a"><path d="M542.9 654q-12.7 1.5-23.2 5.6"/><path d="M556.3 655.9q17.4 6.1 34.2 6.9"/><path d="M581.1 656.9q5.4 2.8 9.7 4"/></g><g class="ax"><path d="M599 660.2Q599 661.6 598.9 661.4M601.4 655.7L598.9 661.4 595.9 656Z"/></g><g class="a"><path d="M618.9 654.8q-7.1 1.7-12.4 4.2"/><path d="M632.3 655.7q22.9 7.3 45.4 7.4"/><path d="M644.1 653.5q-19.8 .7-37.1 6.6"/><path d="M657.3 656.3q10.6 4.3 20.4 5.7"/></g><g class="ax"><path d="M680.8 658.7Q683.3 661.1 684.9 662.1M681.7 656.8L684.9 662.1 678.7 661.5Z"/><path d="M695.3 656.3Q693.4 657.4 692.9 657.8M699 656.9L692.9 657.8 695.9 652.3Z"/></g><g class="a"><path d="M720 653.9q-14.1 1.3-26 5.9"/><path d="M733.4 655.9q16 5.8 31.4 6.8"/><path d="M758.1 657.1q4.1 2.3 7.1 3.4"/></g><g class="ax"><path d="M774.3 659.6Q773.7 661.2 773.7 661.5M777.6 656.6L773.7 661.5 772.1 655.5Z"/></g><g class="a"><path d="M796 654.5q-8.5 1.8-15.1 4.7"/><path d="M809.4 655.7q21.5 7.1 42.6 7.3"/><path d="M821.2 653.4q-21.2 .5-39.9 6.7"/><path d="M834.4 656.4q9.3 4 17.7 5.4"/></g><g class="ax"><path d="M857.1 659.3Q858.6 661.3 859.3 661.9M857.1 656.1L859.3 661.9 853.3 660.2Z"/><path d="M872.2 655.8Q869.1 657.2 867.5 658.2M873.7 657.6L867.5 658.2 870.8 652.9Z"/></g><g class="a"><path d="M897.1 653.8q-15.6 1.2-28.7 6.1"/><path d="M124.3 633.9q14.5 15.4 31.5 25"/><path d="M147.2 635.4q4.5 11.8 11 20.8"/><path d="M148.5 622.7q9.6-17.8 13.3-36.2"/><path d="M167.8 635.3q-3.4 10.1-4.1 19.2"/><path d="M170.5 621.8q.2-18.9-4.7-35.5"/><path d="M190.1 633q-13.2 10.5-22.1 22.9"/><path d="M192.9 622.4q-9.4-21.5-23.9-38"/><path d="M224.5 634.7q8.6 13.4 19.4 22.8"/><path d="M225.4 623.5q14.3-17.7 22.1-37.4"/><path d="M246 635.7q0 10.5 2.1 19.1"/><path d="M248 622.1q4.2-18.3 3.1-35.5"/><path d="M266.9 634q-8.4 10.4-13.2 21.1"/><path d="M270 622q-5.1-20.2-15-36.7"/><path d="M290.6 631.9q-19.7 10.3-34.3 25"/><path d="M301.3 634.1q13.2 15 28.9 24.6"/><path d="M323.9 635.5q3.5 11.5 9 20.4"/><path d="M325.3 622.6q8.5-17.9 11.2-36"/><path d="M344.5 635.1q-4.4 10.1-5.8 19.5"/><path d="M347.3 621.8q-.9-19.1-6.7-35.7"/><path d="M367 632.7q-14.5 10.5-24.4 23.4"/><path d="M377.8 633.6q18.2 16.5 39.1 26"/><path d="M369.8 622.5q-10.6-21.9-26.3-38.3"/><path d="M401.3 634.9q7.6 12.9 17.2 22.3"/><path d="M402.3 623.3q13.1-17.7 19.8-37.1"/><path d="M422.5 635.7q-.8 10.3 .6 19"/><path d="M424.7 622q3.2-18.4 1.2-35.4"/><path d="M443.8 633.7q-9.6 10.5-15.4 21.6"/><path d="M446.8 622.1q-6.1-20.5-17.2-37"/><path d="M467.6 631.7q-21 10.3-36.8 25.3"/><path d="M478.2 634.2q12.1 14.6 26.5 24.2"/><path d="M500.6 635.6q2.6 11.2 7.1 20"/><path d="M502 622.4q7.5-18 9.2-35.8"/><path d="M521.1 634.8q-5.3 10.2-7.5 19.9"/><path d="M524 621.9q-1.9-19.4-8.7-36"/><path d="M543.9 632.5q-15.7 10.5-26.7 23.8"/><path d="M554.7 633.7q17 16.1 36.6 25.7"/><path d="M578.1 635.1q6.5 12.5 15 21.8"/><path d="M579.1 623.1q12-17.8 17.6-36.8"/><path d="M599.1 635.6q-1.7 10.2-1 18.9"/><path d="M601.4 621.9q2.2-18.5-.7-35.4"/><path d="M620.6 633.5q-10.7 10.4-17.5 22"/><path d="M623.6 622.2q-7.2-20.8-19.4-37.3"/><path d="M644.7 631.5q-22.4 10.2-39.5 25.7"/><path d="M655.1 634.4q10.9 14.2 24.1 23.7"/><path d="M655.9 623.9q16.8-17.6 26.7-38"/><path d="M677.2 635.7q1.7 10.9 5.4 19.6"/><path d="M678.8 622.3q6.4-18.1 7.2-35.7"/><path d="M697.8 634.6q-6.3 10.2-9.4 20.2"/><path d="M700.8 621.9q-3-19.6-10.8-36.2"/><path d="M720.9 632.3q-17 10.4-29.2 24.2"/><path d="M731.7 633.8q15.7 15.8 34 25.4"/><path d="M754.9 635.2q5.4 12.2 12.9 21.4"/><path d="M756 622.9q10.7-17.8 15.4-36.5"/><path d="M775.6 635.4q-2.5 10.2-2.5 19.1"/><path d="M778.2 621.9q1.1-18.8-2.8-35.5"/><path d="M797.5 633.2q-12 10.5-19.7 22.5"/><path d="M800.4 622.3q-8.3-21.2-21.6-37.6"/><path d="M832 634.6q9.7 13.7 21.7 23.3"/><path d="M832.8 623.7q15.5-17.7 24.4-37.7"/><path d="M853.7 635.7q.9 10.7 3.8 19.3"/><path d="M855.6 622.2q5.2-18.2 5.1-35.6"/><path d="M874.5 634.3q-7.3 10.3-11.2 20.7"/><path d="M877.5 621.9q-4-19.9-12.8-36.4"/><path d="M897.9 632.1q-18.3 10.4-31.7 24.6"/><path d="M126.2 601.7q17.3-7.2 30.6-18"/><path d="M149.8 599.2q6.1-6.8 9.7-13.5"/><path d="M168.3 610.8q-6.2 22.2-5.5 43.7"/><path d="M169.5 597.3q-1.1-6.6-2.9-11.3"/><path d="M191 599q-9.7-10.2-20.3-16.6"/><path d="M202.3 602.3q22.8-6.8 41.2-19.3"/><path d="M226.8 600.5q10.7-7.2 18.2-15.8"/><path d="M245.5 611.1q-1.9 22.8 2.9 43.6"/><path d="M248.3 597.5q1.6-6.1 1.9-10.9"/><path d="M268 598.1q-5.3-8.4-11.3-14.2"/><path d="M291.4 599.8q-15.8-12.2-33-18.8"/><path d="M303.2 601.5q16-7.3 28.1-17.7"/><path d="M322.7 611.1q2.4 23.7 11.3 44.2"/><path d="M326.5 598.8q5-6.6 7.8-12.8"/><path d="M345.1 610.7q-7.3 22.1-7.6 43.8"/><path d="M346 597.4q-1.9-6.9-4.3-11.8"/><path d="M367.9 599.1q-10.8-10.5-22.8-17.1"/><path d="M379.4 602.2q21.4-6.9 38.5-19"/><path d="M403.7 600.2q9.5-7.2 15.9-15.3"/><path d="M422.3 611q-3 22.7 .8 43.7"/><path d="M424.7 597.3q.9-6.1 .7-10.7"/><path d="M444.8 598.4q-6.3-8.9-13.4-14.9"/><path d="M468.4 599.9q-17-12.6-35.6-19.1"/><path d="M480.2 601.2q14.6-7.2 25.5-17.2"/><path d="M499.5 611.1q1.3 23.5 9.2 44"/><path d="M503.2 598.4q4-6.4 6.1-12.2"/><path d="M521.9 610.6q-8.4 22-9.7 43.9"/><path d="M522.5 597.5q-2.6-7.2-5.9-12.3"/><path d="M544.8 599.3q-12-11-25.2-17.6"/><path d="M556.4 602q20.1-7 35.9-18.7"/><path d="M580.6 599.8q8.3-7 13.7-14.6"/><path d="M599.1 611q-4.1 22.5-1.3 43.6"/><path d="M601.1 597.2q.2-6.1-.5-10.7"/><path d="M621.6 598.6q-7.4-9.3-15.6-15.5"/><path d="M645.5 600q-18.4-13-38.3-19.4"/><path d="M657.2 601q13.3-7.3 23-16.8"/><path d="M676.3 611.1q.3 23.3 7.1 43.9"/><path d="M679.7 598.1q3.2-6.3 4.6-11.7"/><path d="M698.7 610.5q-9.5 21.8-11.8 44"/><path d="M699 597.7q-3.4-7.6-7.5-13"/><path d="M721.8 599.5q-13.3-11.4-27.8-18"/><path d="M733.5 601.8q18.6-7.1 33.2-18.3"/><path d="M757.4 599.5q7.1-6.9 11.6-14"/><path d="M775.8 610.9q-5 22.3-3.3 43.6"/><path d="M777.4 597.2q-.4-6.3-1.6-10.9"/><path d="M798.4 598.8q-8.5-9.8-17.9-16.1"/><path d="M822.5 600.1q-19.7-13.3-41-19.7"/><path d="M834.2 600.7q12-7.2 20.6-16.2"/><path d="M853.1 611.1q-.8 23 4.9 43.8"/><path d="M856.2 597.8q2.4-6.2 3.2-11.2"/><path d="M875.7 597.9q-4.4-8-9.4-13.6"/><path d="M898.8 599.6q-14.5-11.8-30.4-18.4"/><path d="M126.6 580.5q15 1.5 28.3-.7"/></g><g class="ax"><path d="M151.9 579.9Q154.2 579.8 154.9 579.7M149.1 577.6L154.9 579.7 149.8 583.2Z"/><path d="M163.5 578.1Q163.4 578.1 164.8 578.1M170.4 580.9L164.8 578.1 170.4 575.3Z"/></g><g class="a"><path d="M188.8 578.1q-9.3-1.4-17.1-.9"/><path d="M202.5 580.5q20.6 2.6 39.6-.7"/><path d="M214.1 578.2q-21.9-3.9-42.4-1.3"/><path d="M227.8 580.3q8 .4 14.3-.5"/></g><g class="ax"><path d="M246.2 579.5Q248.5 579.3 249.1 578.9M242.9 579.2L249.1 578.9 245.6 584Z"/></g><g class="a"><path d="M264.7 578.1q-3.7-.4-5.8-.4"/><path d="M290 578.1q-16.3-2.7-31.2-1.1"/><path d="M303.7 580.4q13.6 1.4 25.5-.6"/></g><g class="ax"><path d="M329.1 579.7Q329.9 579.6 329.2 579.7M323.4 577.5L329.2 579.7 324 583.1Z"/><path d="M340.6 578.1Q339.1 578.1 339.1 578.1M344.8 580.5L339.1 578.1 344.5 575Z"/></g><g class="a"><path d="M365.9 578.1q-10.7-1.7-19.9-.9"/><path d="M379.6 580.5q19.2 2.3 36.8-.7"/><path d="M391.2 578.2q-23.3-4.2-45.2-1.3"/><path d="M404.9 580.2q6.6 .3 11.5-.5"/></g><g class="ax"><path d="M423.3 579.5Q424.2 579 423.8 579.4M418.4 582.4L423.8 579.4 423 585.6Z"/></g><g class="a"><path d="M441.8 578.1q-5-.7-8.6-.6"/><path d="M467.1 578.1q-17.7-3-34-1.1"/><path d="M480.8 580.4q12.2 1.1 22.7-.6"/></g><g class="ax"><path d="M506.2 579.4Q509 579 510.4 578.6M504.3 577.6L510.4 578.6 505.9 582.9Z"/><path d="M517.7 578.1Q514.8 577.9 513.4 578M519.2 580.3L513.4 578 518.7 574.7Z"/></g><g class="a"><path d="M543 578.1q-12.1-1.9-22.7-1"/><path d="M556.7 580.5q17.8 2.1 34-.7"/><path d="M582 580.1q5.2 .1 8.7-.4"/></g><g class="ax"><path d="M600.4 579.5Q599.9 578.7 600.3 579M603.5 584.3L600.3 579 606.5 579.7Z"/></g><g class="a"><path d="M618.9 578.1q-6.4-.9-11.4-.7"/><path d="M632.6 580.6q23.5 3.1 45.2-.8"/><path d="M644.2 578.1q-19.1-3.3-36.8-1.1"/><path d="M657.9 580.4q10.8 .8 19.9-.6"/></g><g class="ax"><path d="M683.3 579Q684.7 578.7 684.7 578.7M678.5 577.9L684.7 578.7 680.4 583.1Z"/><path d="M694.8 578.1Q694 578.1 694.7 578.1M700 581.2L694.7 578.1 700.4 575.7Z"/></g><g class="a"><path d="M720.1 578.1q-13.4-2.2-25.5-1"/><path d="M733.8 580.5q16.4 1.8 31.2-.7"/><path d="M759.2 580q3.7 0 5.8-.3"/></g><g class="ax"><path d="M777.5 579.5Q775.6 578.4 774.9 578.3M780.1 581.7L774.9 578.3 780.7 576.2Z"/></g><g class="a"><path d="M796 578.1q-7.8-1.2-14.2-.8"/><path d="M809.7 580.6q22.1 2.8 42.4-.8"/><path d="M821.3 578.2q-20.5-3.7-39.6-1.3"/><path d="M835 580.3q9.4 .7 17.1-.5"/></g><g class="ax"><path d="M860.3 578.2Q860.4 578.2 859 578.7M852.8 578.3L859 578.7 854.9 583.4Z"/><path d="M871.9 578.1Q869.7 577.9 869 577.8M874.4 580.8L869 577.8 874.6 575.2Z"/></g><g class="a"><path d="M897.2 578.1q-14.8-2.5-28.3-1.1"/><path d="M125.2 559.1q14.5 10.7 30 16.3"/><path d="M148.4 560.9q4.2 6.8 8.7 11.4"/><path d="M167.4 561.2q-2 4.9-2.8 8.6"/><path d="M189.4 558q-11.6 6.2-20.1 14.2"/><path d="M201.4 558.7q19.8 12.2 40.8 17.5"/><path d="M214.1 556.3q-23.9 5.6-43.6 17.4"/><path d="M225.6 560q8.4 8.6 17.4 14"/><path d="M246.5 561.8q.5 5 1.3 8.3"/><path d="M266.1 559.3q-6.7 5.8-11 11.8"/><path d="M290.2 556.9q-18.4 6-32.9 16.2"/><path d="M302.2 559.3q13.2 10.3 27.4 15.9"/><path d="M325.1 561.2q3.3 6.3 6.8 10.6"/><path d="M343.8 560.8q-2.7 5.1-4 9.2"/><path d="M366.4 557.7q-12.9 6.3-22.6 14.7"/><path d="M378.5 558.8q18.4 11.8 38 17.2"/><path d="M402.5 560.2q7.3 8.2 15 13.4"/><path d="M422.8 561.8q-.1 4.8 .3 8"/><path d="M442.9 558.9q-7.8 6-13 12.5"/><path d="M467.2 556.7q-19.7 6-35.5 16.6"/><path d="M479.2 559.5q12 9.8 24.8 15.4"/><path d="M501.6 561.4q2.5 5.9 5.2 9.9"/><path d="M520.3 560.4q-3.5 5.3-5.4 9.8"/><path d="M543.4 557.5q-14.3 6.2-25.1 15.1"/><path d="M555.5 558.9q17.1 11.5 35.3 17"/><path d="M579.3 560.5q6.2 7.6 12.8 12.7"/><path d="M599 561.7q-.6 4.7-.6 8"/><path d="M619.8 558.6q-9 6.1-15.3 13.1"/><path d="M644.3 556.6q-21.1 5.8-38.2 16.8"/><path d="M656.1 559.6q10.8 9.5 22.3 15"/><path d="M678.1 561.6q1.7 5.5 3.7 9.2"/><path d="M697 560q-4.6 5.5-7.2 10.5"/><path d="M720.4 557.3q-15.6 6.2-27.6 15.5"/><path d="M732.5 559q15.8 11.1 32.7 16.7"/><path d="M756.1 560.7q5.1 7.2 10.7 12.1"/><path d="M775.4 561.5q-1.3 4.8-1.7 8.2"/><path d="M796.8 558.2q-10.4 6.2-17.7 13.7"/><path d="M808.7 558.6q21.1 12.6 43.5 17.8"/><path d="M821.4 556.4q-22.5 5.7-40.9 17.1"/><path d="M833 559.8q9.6 9 19.9 14.5"/><path d="M854.5 561.8q1.1 5.1 2.5 8.6"/><path d="M873.7 559.6q-5.6 5.7-9 11.2"/><path d="M897.5 557.1q-17 6.1-30.3 15.9"/><path d="M125.7 526.7q18.7-11.5 32.1-26.9"/><path d="M146.3 537.1q4.2 18.5 12.7 33.7"/><path d="M149.1 524.6q7.7-11.5 11.7-23.2"/><path d="M168.1 536.9q-4.9 16.8-5 32.8"/><path d="M170.1 523.3q-.7-12-4-22"/><path d="M190.8 535.2q-15.1 16.4-24 35.2"/><path d="M192 524.3q-9.7-15-22.2-25.6"/><path d="M223.5 536.7q8.4 19.8 21.3 35.1"/><path d="M226.1 525.6q12.3-11.6 20.2-24.9"/><path d="M245.6 537.2q-.9 17.3 2.7 32.7"/><path d="M248.1 523.6q2.8-11.5 2.7-21.8"/><path d="M267.7 536q-10.4 16.6-15.2 33.9"/><path d="M269.1 523.7q-5.4-13.5-13.3-23.8"/><path d="M292.2 525q-15.6-16.9-34.3-27.6"/><path d="M302.7 526.5q17.4-11.5 29.6-26.5"/><path d="M323.1 537.1q3.1 18.3 10.6 33.5"/><path d="M325.8 524.4q6.7-11.5 9.8-22.8"/><path d="M344.9 536.7q-6 16.8-7 33"/><path d="M346.7 523.3q-1.6-12.2-5.7-22.2"/><path d="M367.7 535.1q-16.4 16.3-26.3 35.4"/><path d="M368.9 524.5q-10.9-15.4-24.5-26.1"/><path d="M400.3 536.8q7.3 19.5 19.1 34.7"/><path d="M403 525.4q11.1-11.6 17.9-24.5"/><path d="M422.3 537.1q-1.9 17.2 .8 32.7"/><path d="M424.7 523.4q1.9-11.5 1-21.7"/><path d="M444.5 535.8q-11.5 16.5-17.3 34.2"/><path d="M445.9 523.9q-6.5-13.9-15.5-24.3"/><path d="M477.2 536.4q11.9 20.8 28.3 36.1"/><path d="M469.2 525.2q-16.9-17.4-36.9-28"/><path d="M479.7 526.3q16.1-11.6 27.2-26.1"/><path d="M499.8 537.2q2.1 18 8.6 33.2"/><path d="M502.5 524.1q5.7-11.4 7.9-22.4"/><path d="M521.6 536.6q-7 16.6-8.9 33.1"/><path d="M523.4 523.4q-2.6-12.5-7.5-22.6"/><path d="M544.6 534.9q-17.6 16.3-28.7 35.8"/><path d="M545.8 524.6q-12.1-15.8-26.9-26.5"/><path d="M556 527.1q21.4-11.4 37.2-27.6"/><path d="M577.1 536.9q6.3 19.2 16.9 34.4"/><path d="M579.8 525.1q10-11.6 15.8-24"/><path d="M599.1 537.1q-3 17-1.2 32.6"/><path d="M601.3 523.4q1-11.7-.6-21.8"/><path d="M621.4 535.6q-12.8 16.5-19.5 34.5"/><path d="M622.7 524q-7.6-14.2-17.7-24.7"/><path d="M654.1 536.5q10.7 20.5 26 35.8"/><path d="M656.6 526.1q14.8-11.6 24.8-25.8"/><path d="M676.6 537.2q1 17.7 6.5 33"/><path d="M679.2 523.9q4.7-11.4 6.1-22.1"/><path d="M698.4 536.4q-8.2 16.6-11 33.3"/><path d="M700 523.5q-3.4-12.8-9.4-23"/><path d="M722.7 524.8q-13.3-16.2-29.4-26.9"/><path d="M733 526.9q20.1-11.4 34.7-27.2"/><path d="M753.9 537q5.2 18.8 14.7 34.1"/><path d="M756.6 524.9q8.9-11.6 13.7-23.6"/><path d="M775.8 537q-4 16.9-3.1 32.7"/><path d="M777.9 523.3q.1-11.8-2.3-21.8"/><path d="M798.2 535.4q-13.9 16.5-21.7 34.9"/><path d="M799.5 524.2q-8.6-14.6-19.9-25.2"/><path d="M831 536.6q9.5 20.2 23.6 35.4"/><path d="M833.5 525.9q13.6-11.7 22.5-25.4"/><path d="M853.3 537.2q0 17.5 4.6 32.9"/><path d="M855.8 523.7q3.7-11.4 4.4-21.9"/><path d="M875.2 536.2q-9.3 16.6-13.1 33.6"/><path d="M876.7 523.6q-4.4-13.1-11.3-23.4"/><path d="M899.6 524.9q-14.4-16.6-31.8-27.3"/><path d="M126.6 504.9q15.8-2.2 29-8"/><path d="M151.2 502.6q3.6-2.1 5.7-3.7"/></g><g class="ax"><path d="M167.5 499.3Q167.4 499.1 168.1 500.3M168.5 506.5L168.1 500.3 173.3 503.7Z"/></g><g class="a"><path d="M189.6 502.2q-9.3-4.9-18-7.1"/><path d="M202.5 505.3q21.5-1.5 40.1-8.8"/><path d="M214.5 503q-21.4-8.1-42.7-9.4"/><path d="M227.7 504q8.8-2.6 15.5-6.3"/></g><g class="ax"><path d="M249.1 499.3Q250 496.4 250.2 494.8M246.7 500L250.2 494.8 252.2 500.7Z"/></g><g class="a"><path d="M266.1 501.3q-4.4-3.1-7.8-4.7"/><path d="M290.5 502.7q-16-6.7-31.6-8.6"/><path d="M303.7 504.7q14.4-2.3 26.2-7.7"/></g><g class="ax"><path d="M328.1 502Q330.5 500.3 331.6 499.3M325.6 501L331.6 499.3 329.3 505.1Z"/><path d="M343.7 499.7Q343.1 499 343.5 499.4M344.9 505.4L343.5 499.4 349.2 501.9Z"/></g><g class="a"><path d="M366.6 502.3q-10.6-5.3-20.7-7.5"/><path d="M379.6 505.2q20.1-1.7 37.3-8.6"/><path d="M391.6 503.1q-22.8-8.5-45.5-9.5"/><path d="M404.7 503.7q7.5-2.5 12.9-5.8"/></g><g class="ax"><path d="M424.7 498.8Q425 496.1 424.9 494.9M422.6 500.6L424.9 494.9 428.1 500.2Z"/></g><g class="a"><path d="M443 501.6q-5.6-3.6-10.3-5.5"/><path d="M467.6 502.8q-17.3-7.1-34.4-8.8"/><path d="M480.8 504.6q13-2.4 23.5-7.4"/></g><g class="ax"><path d="M504.7 501.4Q506.2 500.1 506.5 499.8M500.6 502L506.5 499.8 504.7 505.8Z"/><path d="M520.2 500.2Q518.8 498.8 518.6 498.5M520.9 504.3L518.6 498.5 524.6 500.2Z"/></g><g class="a"><path d="M543.7 502.4q-12-5.7-23.4-7.8"/><path d="M556.8 505.1q18.6-1.9 34.4-8.4"/><path d="M581.7 503.4q6.1-2.5 10.4-5.2"/></g><g class="ax"><path d="M600.3 498.7Q599.9 496 599.5 494.8M598.6 500.9L599.5 494.8 603.8 499.2Z"/></g><g class="a"><path d="M619.9 501.8q-6.7-4.1-12.7-6.1"/><path d="M632.7 505.4q24.2-1.1 45.6-9"/><path d="M644.6 502.9q-18.6-7.5-37.1-9"/><path d="M657.9 504.4q11.6-2.5 20.8-7.1"/></g><g class="ax"><path d="M681.2 500.7Q681.9 500 681.5 500.4M676 503.2L681.5 500.4 680.4 506.5Z"/><path d="M696.8 500.6Q694.6 498.6 693.4 497.8M696.3 503.2L693.4 497.8 699.5 498.7Z"/></g><g class="a"><path d="M720.7 502.5q-13.2-6-26.1-8.1"/><path d="M733.9 505q17.2-2 31.7-8.2"/><path d="M758.7 503q4.8-2.3 7.9-4.5"/></g><g class="ax"><path d="M775.9 498.9Q774.9 496 774.1 494.6M774.5 500.8L774.1 494.6 779.3 498.1Z"/></g><g class="a"><path d="M796.9 502q-8-4.5-15.3-6.6"/><path d="M809.8 505.4q22.8-1.4 42.8-8.9"/><path d="M821.7 502.9q-20-7.7-39.9-9.2"/><path d="M834.9 504.2q10.2-2.5 18.2-6.7"/></g><g class="ax"><path d="M857.5 500Q857.6 499.8 856.9 501M851.8 504.5L856.9 501 856.6 507.2Z"/></g><g class="a"><path d="M873.6 501q-3.3-2.6-5.5-3.9"/><path d="M897.8 502.6q-14.6-6.4-28.9-8.3"/><path d="M126 484q14.6 6.4 28.8 8.4"/><path d="M150.2 485.6q3.2 2.6 5.5 3.9"/></g><g class="ax"><path d="M166.3 486.6Q166.2 486.8 166.8 485.6M172 482.1L166.8 485.6 167.2 479.4Z"/></g><g class="a"><path d="M188.8 482.4q-10.2 2.5-18.1 6.7"/><path d="M202 483.7q20 7.8 39.9 9.2"/><path d="M214 481.2q-22.9 1.4-42.8 8.9"/><path d="M226.8 484.6q8.1 4.5 15.4 6.6"/></g><g class="ax"><path d="M247.8 487.7Q248.9 490.6 249.6 492M249.3 485.8L249.6 492 244.4 488.6Z"/></g><g class="a"><path d="M265.1 483.6q-4.9 2.3-8 4.5"/><path d="M289.9 481.6q-17.2 2-31.7 8.2"/><path d="M303 484.1q13.3 6 26.1 8.1"/></g><g class="ax"><path d="M326.9 486Q329.2 488 330.4 488.8M327.4 483.4L330.4 488.8 324.2 487.9Z"/><path d="M342.5 485.9Q341.9 486.6 342.2 486.2M347.8 483.4L342.2 486.2 343.4 480.1Z"/></g><g class="a"><path d="M365.9 482.2q-11.6 2.5-20.8 7.1"/><path d="M379.1 483.7q18.7 7.5 37.1 9.1"/><path d="M391.1 481.2q-24.3 1.1-45.6 9"/><path d="M403.8 484.8q6.8 4.1 12.8 6.1"/></g><g class="ax"><path d="M423.5 487.9Q423.9 490.6 424.2 491.8M425.2 485.7L424.2 491.8 419.9 487.4Z"/></g><g class="a"><path d="M442 483.2q-6.1 2.5-10.3 5.2"/><path d="M467 481.5q-18.6 1.9-34.5 8.4"/><path d="M480.1 484.2q11.9 5.7 23.4 7.8"/></g><g class="ax"><path d="M503.6 486.4Q504.9 487.8 505.2 488.1M502.9 482.3L505.2 488.1 499.2 486.4Z"/><path d="M519 485.2Q517.6 486.5 517.3 486.8M523.1 484.6L517.3 486.8 519.1 480.8Z"/></g><g class="a"><path d="M543 482q-13 2.4-23.6 7.4"/><path d="M556.2 483.8q17.3 7.1 34.4 8.8"/><path d="M580.8 485q5.5 3.6 10.2 5.5"/></g><g class="ax"><path d="M599 487.8Q598.8 490.5 598.9 491.8M601.2 486L598.9 491.8 595.7 486.5Z"/></g><g class="a"><path d="M619.1 482.9q-7.5 2.5-13 5.8"/><path d="M632.2 483.5q22.8 8.5 45.5 9.6"/><path d="M644.1 481.4q-20 1.7-37.3 8.6"/><path d="M657.1 484.3q10.6 5.3 20.7 7.5"/></g><g class="ax"><path d="M680 486.9Q680.6 487.6 680.3 487.2M678.8 481.2L680.3 487.2 674.6 484.7Z"/><path d="M695.7 484.6Q693.2 486.3 692.2 487.3M698.1 485.6L692.2 487.3 694.4 481.5Z"/></g><g class="a"><path d="M720 481.9q-14.3 2.3-26.2 7.7"/><path d="M733.3 483.9q15.9 6.8 31.6 8.6"/><path d="M757.7 485.3q4.3 3.1 7.8 4.7"/></g><g class="ax"><path d="M774.7 487.3Q773.7 490.2 773.5 491.8M777 486.6L773.5 491.8 771.5 485.9Z"/></g><g class="a"><path d="M796.1 482.6q-8.8 2.6-15.5 6.3"/><path d="M809.3 483.6q21.4 8.1 42.7 9.4"/><path d="M821.2 481.3q-21.4 1.5-40 8.8"/><path d="M834.2 484.5q9.3 4.9 18 7"/></g><g class="ax"><path d="M856.2 487.3Q856.3 487.5 855.7 486.3M855.3 480.1L855.7 486.3 850.5 482.9Z"/></g><g class="a"><path d="M872.5 484q-3.6 2.1-5.6 3.7"/><path d="M897.1 481.7q-15.8 2.2-28.9 8"/><path d="M124.1 461.7q14.5 16.6 31.9 27.3"/><path d="M147 463q4.5 13.2 11.3 23.4"/><path d="M148.6 450.4q9.2-16.6 13-33.6"/><path d="M167.9 462.9q-3.7 11.4-4.3 21.9"/><path d="M170.5 449.4q-.1-17.5-4.6-32.8"/><path d="M190.2 460.7q-13.6 11.7-22.5 25.4"/><path d="M192.8 450q-9.6-20.1-23.6-35.4"/><path d="M224.3 462.4q8.6 14.7 19.8 25.2"/><path d="M225.5 451.2q13.9-16.5 21.8-34.9"/><path d="M245.9 463.3q-.2 11.8 2.3 21.8"/><path d="M248 449.6q3.9-16.9 3.1-32.7"/><path d="M267.1 461.7q-8.8 11.6-13.7 23.7"/><path d="M269.8 449.6q-5.1-18.8-14.7-34"/><path d="M290.7 459.7q-20 11.4-34.6 27.3"/><path d="M301.1 461.8q13.2 16.2 29.3 26.9"/><path d="M323.7 463.1q3.5 12.8 9.4 23"/><path d="M325.3 450.2q8.2-16.6 11-33.3"/><path d="M344.6 462.7q-4.7 11.4-6.1 22.2"/><path d="M347.2 449.4q-1.1-17.7-6.6-33"/><path d="M367.1 460.5q-14.8 11.6-24.8 25.8"/><path d="M369.6 450.1q-10.6-20.5-25.9-35.7"/><path d="M401.1 462.6q7.5 14.2 17.6 24.7"/><path d="M402.4 451q12.7-16.5 19.5-34.5"/><path d="M422.5 463.3q-1.1 11.6 .6 21.7"/><path d="M424.7 449.5q2.9-17 1.2-32.6"/><path d="M443.9 461.5q-10 11.6-15.8 24"/><path d="M446.6 449.7q-6.2-19.1-16.9-34.4"/><path d="M467.7 459.5q-21.3 11.4-37.2 27.6"/><path d="M478 462q12 15.8 26.9 26.5"/><path d="M479.1 451.8q17.6-16.3 28.7-35.9"/><path d="M500.4 463.2q2.5 12.5 7.5 22.6"/><path d="M502.1 450q7.1-16.6 9-33.1"/><path d="M521.2 462.5q-5.6 11.4-7.9 22.4"/><path d="M523.9 449.4q-2.1-18-8.5-33.2"/><path d="M544.1 460.3q-16.1 11.6-27.2 26.1"/><path d="M554.6 461.4q16.9 17.4 36.9 28"/><path d="M546.5 450.2q-11.8-20.8-28.3-36.1"/><path d="M577.9 462.7q6.5 13.9 15.4 24.3"/><path d="M579.3 450.8q11.5-16.5 17.3-34.2"/><path d="M599.1 463.2q-2 11.5-1.1 21.7"/><path d="M601.4 449.5q1.9-17.2-.7-32.7"/><path d="M620.8 461.2q-11.2 11.6-18 24.5"/><path d="M623.4 449.8q-7.3-19.5-19.1-34.7"/><path d="M654.9 462.1q10.9 15.4 24.5 26.1"/><path d="M656.1 451.6q16.3-16.4 26.3-35.5"/><path d="M677 463.3q1.6 12.2 5.7 22.2"/><path d="M678.9 449.9q6-16.7 7-32.9"/><path d="M697.9 462.2q-6.6 11.5-9.7 22.8"/><path d="M700.7 449.5q-3.1-18.3-10.6-33.5"/><path d="M721.1 460.1q-17.4 11.5-29.7 26.5"/><path d="M731.5 461.6q15.7 16.9 34.4 27.6"/><path d="M754.6 462.9q5.5 13.5 13.4 23.8"/><path d="M756.1 450.6q10.4-16.6 15.1-33.9"/><path d="M775.7 463q-2.9 11.5-2.7 21.8"/><path d="M778.1 449.4q.9-17.3-2.7-32.7"/><path d="M797.7 461q-12.4 11.6-20.2 24.9"/><path d="M800.3 449.9q-8.5-19.8-21.4-35.1"/><path d="M831.8 462.3q9.7 15 22.1 25.6"/><path d="M833 451.4q15.1-16.4 24-35.2"/><path d="M853.6 463.3q.8 12 4 22"/><path d="M855.6 449.8q5-16.9 5-32.8"/><path d="M874.7 462q-7.8 11.5-11.7 23.2"/><path d="M877.4 449.5q-4.1-18.5-12.6-33.7"/><path d="M898.1 459.9q-18.8 11.5-32.2 26.9"/><path d="M126.3 429.5q17-6.1 30.2-15.9"/><path d="M150.1 427q5.5-5.7 8.9-11.2"/><path d="M169.3 424.9q-1.1-5.2-2.5-8.7"/><path d="M190.7 426.8q-9.6-9-19.8-14.5"/><path d="M202.4 430.2q22.5-5.7 40.9-17.1"/><path d="M215 428q-21-12.5-43.4-17.8"/><path d="M227 428.4q10.3-6.2 17.6-13.7"/><path d="M248.4 425.1q1.3-4.8 1.6-8.2"/><path d="M267.7 425.9q-5.2-7.2-10.7-12"/><path d="M291.2 427.6q-15.8-11.1-32.6-16.6"/><path d="M303.3 429.3q15.6-6.1 27.7-15.5"/><path d="M326.8 426.6q4.5-5.5 7.1-10.5"/><path d="M345.7 425q-1.8-5.5-3.8-9.2"/><path d="M367.6 427q-10.8-9.5-22.3-15"/><path d="M379.5 430q21.1-5.8 38.2-16.8"/><path d="M403.9 428.1q9.1-6.2 15.3-13.1"/><path d="M424.7 424.9q.7-4.7 .6-8"/><path d="M444.5 426.2q-6.3-7.7-12.9-12.8"/><path d="M468.3 427.7q-17.2-11.4-35.4-16.9"/><path d="M480.4 429.1q14.2-6.2 25-15.1"/><path d="M503.4 426.2q3.6-5.3 5.5-9.8"/><path d="M522.1 425.2q-2.5-5.9-5.2-9.9"/><path d="M544.6 427.2q-12-9.9-24.9-15.5"/><path d="M556.5 429.9q19.7-6 35.6-16.6"/><path d="M580.8 427.7q7.8-6 13.1-12.5"/><path d="M601 424.8q.1-4.8-.4-8"/><path d="M621.3 426.4q-7.3-8.1-15.1-13.4"/><path d="M645.3 427.8q-18.4-11.8-38-17.2"/><path d="M657.4 428.9q12.9-6.2 22.5-14.7"/><path d="M679.9 425.8q2.8-5.1 4-9.1"/><path d="M698.7 425.4q-3.3-6.3-6.9-10.6"/><path d="M721.6 427.3q-13.3-10.3-27.5-15.9"/><path d="M733.6 429.7q18.3-6 32.9-16.2"/><path d="M757.6 427.4q6.7-5.9 11-11.9"/><path d="M777.3 424.8q-.5-5-1.4-8.3"/><path d="M798.2 426.6q-8.5-8.6-17.5-14"/><path d="M809.6 430.3q23.9-5.6 43.7-17.4"/><path d="M822.3 427.9q-19.7-12.2-40.7-17.5"/><path d="M834.4 428.6q11.6-6.2 20-14.2"/><path d="M856.4 425.4q1.9-4.9 2.7-8.6"/><path d="M875.3 425.7q-4.2-6.8-8.7-11.4"/><path d="M898.6 427.5q-14.6-10.7-30.1-16.3"/><path d="M126.5 408.5q14.9 2.5 28.4 1.1"/></g><g class="ax"><path d="M151.8 408.5Q154.1 408.7 154.8 408.8M149.3 405.8L154.8 408.8 149.2 411.4Z"/><path d="M163.5 408.4Q163.4 408.4 164.7 407.9M170.9 408.3L164.7 407.9 168.8 403.2Z"/></g><g class="a"><path d="M188.7 406.3q-9.4-.7-17.1 .5"/><path d="M202.4 408.5q20.5 3.6 39.6 1.2"/><path d="M214 406.1q-22-2.9-42.4 .7"/><path d="M227.7 408.5q7.9 1.2 14.3 .8"/></g><g class="ax"><path d="M246.2 407.1Q248.2 408.2 248.9 408.3M243.7 404.9L248.9 408.3 243 410.4Z"/></g><g class="a"><path d="M264.6 406.6q-3.7 0-5.8 .3"/><path d="M289.9 406.1q-16.4-1.8-31.1 .7"/><path d="M303.6 408.5q13.5 2.2 25.5 1"/></g><g class="ax"><path d="M328.9 408.5Q329.8 408.6 329.1 408.5M323.7 405.4L329.1 408.5 323.4 410.9Z"/><path d="M340.5 407.6Q339 408 339 408M345.2 408.7L339 408 343.4 403.5Z"/></g><g class="a"><path d="M365.8 406.3q-10.7-.9-19.9 .5"/><path d="M379.5 408.5q19.1 3.3 36.8 1.2"/><path d="M391.2 406q-23.5-3.1-45.3 .8"/><path d="M404.8 408.5q6.5 .9 11.5 .7"/></g><g class="ax"><path d="M423.3 407.1Q423.9 407.9 423.4 407.6M420.3 402.3L423.4 407.6 417.2 406.9Z"/></g><g class="a"><path d="M441.7 406.5q-5.1-.1-8.6 .4"/><path d="M467 406.1q-17.8-2.1-33.9 .7"/><path d="M480.7 408.5q12.1 2 22.7 1"/></g><g class="ax"><path d="M506 408.5Q508.9 408.7 510.3 408.6M504.5 406.3L510.3 408.6 505 411.9Z"/><path d="M517.6 407.2Q514.7 407.6 513.4 408M519.5 409L513.4 408 517.8 403.7Z"/></g><g class="a"><path d="M542.9 406.2q-12.2-1.1-22.7 .6"/><path d="M556.6 408.5q17.7 3 34 1.1"/><path d="M581.9 408.5q5.1 .7 8.6 .6"/></g><g class="ax"><path d="M600.4 407.1Q599.6 407.6 599.9 407.2M605.3 404.2L599.9 407.2 600.8 401Z"/></g><g class="a"><path d="M618.8 406.4q-6.5-.3-11.4 .5"/><path d="M632.5 408.5q23.3 4.1 45.3 1.2"/><path d="M644.2 406.1q-19.3-2.3-36.8 .7"/><path d="M657.8 408.5q10.7 1.7 19.9 .9"/></g><g class="ax"><path d="M683.1 408.5Q684.6 408.6 684.6 408.6M678.9 406.1L684.6 408.6 679.2 411.7Z"/><path d="M694.7 406.9Q693.8 407 694.5 406.9M700.3 409.1L694.5 406.9 699.7 403.5Z"/></g><g class="a"><path d="M720.1 406.2q-13.6-1.4-25.6 .6"/><path d="M733.7 408.5q16.3 2.8 31.2 1.1"/><path d="M759 408.5q3.7 .5 5.8 .5"/></g><g class="ax"><path d="M777.5 407.1Q775.3 407.4 774.7 407.7M780.9 407.4L774.7 407.7 778.2 402.6Z"/></g><g class="a"><path d="M795.9 406.4q-7.9-.5-14.2 .5"/><path d="M809.6 408.5q21.9 3.8 42.5 1.2"/><path d="M821.3 406.1q-20.7-2.6-39.6 .7"/><path d="M834.9 408.5q9.3 1.4 17.1 .9"/></g><g class="ax"><path d="M860.3 408.5Q860.4 408.5 858.9 408.5M853.3 405.7L858.9 408.5 853.4 411.3Z"/><path d="M871.8 406.8Q869.5 406.8 868.8 406.9M874.7 409L868.8 406.9 874 403.5Z"/></g><g class="a"><path d="M897.2 406.2q-15-1.6-28.4 .6"/><path d="M125 387q14.5 11.8 30.4 18.4"/><path d="M148.1 388.7q4.3 8 9.3 13.6"/><path d="M167.5 388.8q-2.3 6.2-3.2 11.2"/><path d="M170.7 375.5q.8-23-5-43.7"/><path d="M189.6 385.9q-12 7.2-20.6 16.3"/><path d="M201.3 386.5q19.6 13.3 40.9 19.7"/><path d="M225.3 387.8q8.5 9.8 18 16.1"/><path d="M246.3 389.4q.4 6.3 1.6 10.9"/><path d="M247.9 375.7q5.1-22.3 3.4-43.6"/><path d="M266.3 387.1q-7.1 6.9-11.6 14"/><path d="M290.3 384.8q-18.7 7.1-33.3 18.3"/><path d="M302 387.1q13.2 11.4 27.8 18"/><path d="M324.7 388.9q3.5 7.6 7.5 13"/><path d="M325 376.2q9.6-21.9 11.9-44.1"/><path d="M344 388.5q-3.1 6.3-4.6 11.7"/><path d="M347.5 375.5q-.3-23.2-7.1-43.9"/><path d="M366.5 385.6q-13.3 7.3-23 16.8"/><path d="M378.3 386.6q18.4 13 38.3 19.4"/><path d="M402.2 388q7.4 9.3 15.6 15.5"/><path d="M422.7 389.4q-.3 6.1 .4 10.7"/><path d="M424.7 375.7q4-22.5 1.3-43.7"/><path d="M443.2 386.8q-8.3 7-13.7 14.6"/><path d="M467.3 384.6q-20 7-35.8 18.7"/><path d="M478.9 387.3q12.1 11 25.3 17.6"/><path d="M501.3 389.1q2.6 7.2 5.8 12.3"/><path d="M501.8 376q8.4-22 9.7-43.9"/><path d="M520.6 388.2q-4.1 6.5-6.1 12.2"/><path d="M524.3 375.5q-1.4-23.5-9.3-44"/><path d="M543.5 385.4q-14.6 7.2-25.5 17.2"/><path d="M555.3 386.7q17.1 12.6 35.6 19.1"/><path d="M579 388.3q6.3 8.8 13.4 14.9"/><path d="M599 389.3q-.9 6.1-.7 10.7"/><path d="M601.5 375.6q2.9-22.7-.8-43.6"/><path d="M620 386.4q-9.4 7.2-15.9 15.3"/><path d="M644.4 384.4q-21.4 6.9-38.5 19"/><path d="M655.8 387.5q10.9 10.5 22.8 17.1"/><path d="M677.8 389.2q1.8 6.9 4.3 11.8"/><path d="M678.7 375.9q7.2-22.1 7.5-43.8"/><path d="M697.2 387.8q-5 6.7-7.8 12.8"/><path d="M701.1 375.5q-2.5-23.7-11.4-44.2"/><path d="M720.5 385.2q-15.9 7.2-28 17.6"/><path d="M732.3 386.8q15.8 12.3 33 18.8"/><path d="M755.7 388.5q5.3 8.4 11.3 14.2"/><path d="M775.4 389.1q-1.6 6.1-1.9 10.9"/><path d="M778.3 375.6q1.8-22.9-2.9-43.7"/><path d="M796.9 386.1q-10.7 7.3-18.2 15.8"/><path d="M821.4 384.3q-22.8 6.8-41.1 19.3"/><path d="M832.8 387.6q9.6 10.2 20.3 16.7"/><path d="M854.2 389.4q1.1 6.5 2.9 11.2"/><path d="M855.5 375.8q6.1-22.2 5.4-43.7"/><path d="M873.9 387.5q-6 6.8-9.6 13.4"/><path d="M897.6 385q-17.3 7.1-30.7 18"/><path d="M125.8 354.5q18.4-10.4 31.8-24.6"/><path d="M146.2 364.7q4 19.9 12.9 36.4"/><path d="M149.2 352.3q7.4-10.3 11.3-20.7"/><path d="M168.2 364.4q-5.3 18.2-5.2 35.6"/><path d="M170 350.9q-.9-10.7-3.8-19.3"/><path d="M190.9 362.9q-15.5 17.7-24.3 37.7"/><path d="M191.8 352.1q-9.8-13.8-21.8-23.3"/><path d="M223.3 364.3q8.3 21.2 21.7 37.7"/><path d="M226.3 353.4q11.9-10.5 19.7-22.5"/><path d="M245.6 364.7q-1.2 18.8 2.7 35.5"/><path d="M248.1 351.2q2.5-10.2 2.6-19.1"/><path d="M267.8 363.7q-10.8 17.8-15.5 36.5"/><path d="M268.9 351.4q-5.5-12.2-12.9-21.3"/><path d="M292 352.8q-15.7-15.7-34-25.4"/><path d="M302.8 354.3q17-10.4 29.3-24.2"/><path d="M323 364.7q2.9 19.6 10.8 36.2"/><path d="M326 352q6.2-10.2 9.3-20.2"/><path d="M344.9 364.3q-6.3 18.1-7.1 35.7"/><path d="M346.6 350.9q-1.7-10.9-5.5-19.6"/><path d="M367.8 362.8q-16.7 17.5-26.6 38"/><path d="M368.6 352.2q-10.9-14.1-24-23.7"/><path d="M379.1 355.1q22.4-10.2 39.4-25.7"/><path d="M400.1 364.4q7.3 20.9 19.4 37.3"/><path d="M403.1 353.1q10.8-10.4 17.5-22"/><path d="M422.3 364.7q-2.2 18.6 .8 35.4"/><path d="M424.7 351q1.6-10.2 1-18.9"/><path d="M444.6 363.5q-11.9 17.8-17.6 36.8"/><path d="M445.6 351.6q-6.4-12.6-15-21.9"/><path d="M469 352.9q-16.9-16.1-36.6-25.7"/><path d="M479.8 354.1q15.7-10.5 26.8-23.8"/><path d="M499.7 364.8q1.9 19.3 8.8 35.9"/><path d="M502.6 351.8q5.3-10.2 7.6-19.9"/><path d="M521.7 364.2q-7.4 18-9.2 35.8"/><path d="M523.2 351q-2.6-11.2-7.2-20"/><path d="M545.5 352.4q-12-14.6-26.5-24.2"/><path d="M556.1 354.9q21.1-10.2 36.9-25.3"/><path d="M577 364.5q6.1 20.5 17.2 37"/><path d="M580 352.9q9.6-10.4 15.3-21.6"/><path d="M599.1 364.6q-3.3 18.4-1.3 35.4"/><path d="M601.2 350.9q.9-10.3-.6-18.9"/><path d="M621.5 363.3q-13.1 17.7-19.8 37.1"/><path d="M622.4 351.7q-7.5-12.9-17.1-22.3"/><path d="M653.9 364.1q10.6 21.9 26.3 38.3"/><path d="M646 353.1q-18.2-16.6-39.2-26.1"/><path d="M656.8 353.9q14.4-10.5 24.3-23.4"/><path d="M676.5 364.8q.9 19.1 6.7 35.7"/><path d="M679.3 351.5q4.3-10.1 5.8-19.5"/><path d="M698.5 364q-8.5 17.9-11.2 36"/><path d="M699.8 351.1q-3.5-11.5-9-20.4"/><path d="M722.5 352.5q-13.3-14.9-29-24.6"/><path d="M733.2 354.7q19.6-10.3 34.2-25"/><path d="M753.8 364.6q5 20.2 15 36.7"/><path d="M756.8 352.6q8.4-10.4 13.3-21.1"/><path d="M775.8 364.6q-4.3 18.2-3.2 35.4"/><path d="M777.8 350.9q0-10.5-2.2-19.1"/><path d="M798.4 363.1q-14.3 17.7-22.1 37.4"/><path d="M799.2 351.9q-8.6-13.4-19.4-22.8"/><path d="M830.8 364.2q9.5 21.5 23.9 38"/><path d="M833.7 353.7q13.2-10.5 22-23"/><path d="M853.2 364.8q-.1 18.9 4.7 35.6"/><path d="M855.9 351.3q3.4-10.1 4.1-19.2"/><path d="M875.3 363.9q-9.6 17.8-13.3 36.2"/><path d="M876.5 351.3q-4.5-11.9-10.9-20.9"/><path d="M899.4 352.7q-14.5-15.4-31.5-25"/><path d="M126.6 332.9q15.6-1.3 28.8-6.1"/></g><g class="ax"><path d="M151.5 330.8Q154.7 329.4 156.3 328.4M150.1 329L156.3 328.4 153 333.7Z"/><path d="M166.7 327.3Q165.1 325.3 164.4 324.7M166.7 330.5L164.4 324.7 170.4 326.4Z"/></g><g class="a"><path d="M189.3 330.2q-9.2-4-17.6-5.4"/><path d="M202.5 333.2q21.3-.5 39.9-6.7"/><path d="M214.4 330.9q-21.5-7.1-42.6-7.3"/><path d="M227.8 332.1q8.5-1.8 15-4.7"/></g><g class="ax"><path d="M249.4 327Q250 325.4 250.1 325.1M246.2 330L250.1 325.1 251.6 331.2Z"/></g><g class="a"><path d="M265.6 329.5q-4.1-2.3-7-3.4"/><path d="M290.3 330.7q-16-5.8-31.4-6.7"/><path d="M303.7 332.7q14.2-1.3 26-5.8"/></g><g class="ax"><path d="M328.4 330.3Q330.4 329.2 330.9 328.9M324.7 329.7L330.9 328.9 327.9 334.3Z"/><path d="M342.9 327.9Q340.5 325.5 338.9 324.5M342 329.8L338.9 324.5 345.1 325.2Z"/></g><g class="a"><path d="M366.4 330.3q-10.6-4.3-20.4-5.7"/><path d="M379.7 333.1q19.8-.7 37-6.6"/><path d="M391.5 330.9q-22.9-7.3-45.4-7.4"/><path d="M404.8 331.9q7.2-1.8 12.4-4.3"/></g><g class="ax"><path d="M424.7 326.4Q424.8 325 424.8 325.2M422.3 330.9L424.8 325.2 427.9 330.6Z"/></g><g class="a"><path d="M442.6 329.7q-5.3-2.7-9.6-4"/><path d="M467.4 330.7q-17.3-6.1-34.2-6.9"/><path d="M480.8 332.6q12.8-1.5 23.3-5.6"/></g><g class="ax"><path d="M505.2 329.7Q506 329.1 505.6 329.4M499.6 330.7L505.6 329.4 503 335Z"/><path d="M519.5 328.4Q518.7 327.8 519.1 328.1M522 333.6L519.1 328.1 525.2 329Z"/></g><g class="a"><path d="M543.5 330.4q-12-4.7-23.2-6"/><path d="M556.8 333q18.4-.8 34.3-6.4"/><path d="M581.9 331.6q5.8-1.7 9.7-3.8"/></g><g class="ax"><path d="M599.8 326.3Q599.5 324.9 599.5 325.1M598.8 331.2L599.5 325.1 604 329.4Z"/></g><g class="a"><path d="M619.6 329.9q-6.6-3.2-12.3-4.6"/><path d="M632.7 333.3q24 0 45.4-6.9"/><path d="M644.5 330.8q-18.7-6.4-37-7.1"/><path d="M657.9 332.5q11.4-1.7 20.5-5.4"/></g><g class="ax"><path d="M681.8 328.9Q684.2 326.5 685.3 324.9M679.9 327.9L685.3 324.9 684.4 331.1Z"/><path d="M696.2 328.8Q694.4 327.6 693.8 327.3M697.3 332.4L693.8 327.3 700 327.5Z"/></g><g class="a"><path d="M720.5 330.5q-13.3-5.1-25.9-6.3"/><path d="M733.9 333q16.9-1.1 31.5-6.3"/><path d="M758.9 331.2q4.4-1.6 7.2-3.1"/></g><g class="ax"><path d="M775.2 326.7Q774.4 325.1 774.2 324.9M775.1 331L774.2 324.9 779.7 327.8Z"/></g><g class="a"><path d="M796.6 330.1q-7.9-3.6-14.9-5.1"/><path d="M809.8 333.3q22.6-.3 42.6-6.9"/><path d="M821.6 330.8q-20.1-6.7-39.8-7.1"/><path d="M835 332.3q10-1.7 17.8-5.1"/></g><g class="ax"><path d="M858 328Q859.4 325.9 859.8 325M855 328.9L859.8 325 860 331.2Z"/><path d="M873.1 329.2Q870.1 327.4 868.4 326.6M872.4 331.4L868.4 326.6 874.6 326.3Z"/></g><g class="a"><path d="M897.6 330.6q-14.6-5.4-28.6-6.5"/><path d="M125.8 311.9q14.6 7.4 29.1 10.3"/><path d="M149.7 313.7q3.6 3.5 6.4 5.4"/></g><g class="ax"><path d="M166.7 314.5Q166 315.7 166.1 315.6M170.8 311.6L166.1 315.6 165.7 309.4Z"/></g><g class="a"><path d="M188.9 310.5q-10.5 3.4-18.6 8.4"/><path d="M201.9 311.5q19.9 8.9 40.1 11.3"/><path d="M214 309.1q-23.1 2.4-43 11"/><path d="M226.5 312.6q8.2 5.5 15.9 8.3"/></g><g class="ax"><path d="M247.3 315.4Q247.6 316.3 247.4 315.7M248.4 309.6L247.4 315.7 243.1 311.2Z"/></g><g class="a"><path d="M265.3 311.7q-5.2 3.1-8.7 6.1"/><path d="M289.9 309.6q-17.4 3-31.9 10.1"/><path d="M302.8 312q13.3 7.1 26.4 10"/><path d="M326.4 314q2.6 3 4.4 4.5"/></g><g class="ax"><path d="M342.9 313.9Q341.7 315.6 341.4 316M346.6 312.7L341.4 316 341.8 309.8Z"/></g><g class="a"><path d="M366 310.2q-11.9 3.4-21.2 8.9"/><path d="M379 311.6q18.5 8.5 37.3 11.1"/><path d="M391.1 309q-24.5 2.2-45.8 11.2"/><path d="M403.5 312.9q6.9 4.9 13.3 7.7"/></g><g class="ax"><path d="M423.2 315.5Q423.3 316.2 423.2 315.3M425.3 309.4L423.2 315.3 419.8 310.1Z"/></g><g class="a"><path d="M442.3 311.3q-6.6 3.3-11.1 6.8"/><path d="M467 309.4q-18.8 2.9-34.7 10.4"/><path d="M479.9 312.2q11.9 6.6 23.7 9.6"/></g><g class="ax"><path d="M503 314.4Q504.7 316.8 505.7 317.8M503.9 311.9L505.7 317.8 499.8 315.7Z"/><path d="M519.4 313.3Q517.4 315.4 516.5 316.5M522.1 313.7L516.5 316.5 517.6 310.4Z"/></g><g class="a"><path d="M543 310q-13.2 3.4-23.8 9.3"/><path d="M556 311.7q17.3 8.2 34.6 10.8"/><path d="M580.4 313.1q5.7 4.5 10.9 7"/></g><g class="ax"><path d="M599 315.4Q599 316 599 315.1M602.2 309.8L599 315.1 596.7 309.4Z"/></g><g class="a"><path d="M619.2 311q-7.8 3.3-13.5 7.4"/><path d="M632.1 311.4q22.6 9.6 45.6 11.6"/><path d="M644.1 309.3q-20.2 2.7-37.4 10.6"/><path d="M656.9 312.3q10.6 6.3 21 9.2"/></g><g class="ax"><path d="M679.4 314.8Q680.5 316.6 680.8 317.1M679.8 310.9L680.8 317.1 675.3 314.2Z"/></g><g class="a"><path d="M696 312.7q-3 2.5-4.5 4.3"/><path d="M720.1 309.9q-14.6 3.2-26.5 9.5"/><path d="M733.1 311.8q15.9 7.8 31.8 10.6"/><path d="M757.2 313.4q4.7 4 8.6 6.3"/></g><g class="ax"><path d="M774.9 315Q774.7 315.9 774.8 315.3M778.9 310.6L774.8 315.3 773.5 309.2Z"/></g><g class="a"><path d="M796.2 310.7q-9.1 3.4-16 8"/><path d="M809.1 311.5q21.4 9.2 42.9 11.4"/><path d="M821.2 309.2q-21.7 2.6-40.2 10.8"/><path d="M833.9 312.5q9.4 5.8 18.4 8.8"/></g><g class="ax"><path d="M855.6 315.2Q856.2 316.5 856.1 316.3M856.1 310.1L856.1 316.3 851.1 312.6Z"/></g><g class="a"><path d="M872.8 312.2q-4.1 2.8-6.5 5.2"/><path d="M897.2 309.7q-16.1 3.1-29.3 9.9"/><path d="M123.9 289.4q14.4 17.8 32.2 29.6"/><path d="M146.8 290.6q4.4 14.5 11.7 26"/><path d="M148.7 278q8.9-15.3 12.7-30.9"/><path d="M168 290.5q-4.1 12.8-4.6 24.6"/><path d="M170.4 277q-.2-16.2-4.5-30.2"/><path d="M190.4 288.5q-14 12.8-22.9 27.7"/><path d="M192.6 277.7q-9.6-18.9-23.3-32.9"/><path d="M224 290.1q8.6 15.9 20.3 27.6"/><path d="M225.7 278.9q13.5-15.2 21.3-32.3"/><path d="M245.8 290.9q-.3 13.2 2.4 24.5"/><path d="M248 277.2q3.7-15.5 3-29.9"/><path d="M267.3 289.4q-9.3 12.8-14.2 26.2"/><path d="M269.7 277.2q-5.3-17.5-14.5-31.4"/><path d="M290.8 287.5q-20.4 12.6-35 29.6"/><path d="M300.9 289.6q13.2 17.4 29.7 29.2"/><path d="M302.3 279.7q18.5-15.1 30.7-33.7"/><path d="M323.5 290.7q3.4 14.2 9.8 25.6"/><path d="M325.4 277.8q7.9-15.3 10.8-30.6"/><path d="M344.7 290.3q-5.1 12.8-6.4 24.9"/><path d="M347.1 277q-1.2-16.4-6.4-30.3"/><path d="M367.3 288.3q-15.2 12.8-25.2 28.1"/><path d="M369.5 277.8q-10.8-19.2-25.6-33.3"/><path d="M400.9 290.3q7.5 15.5 18 27.1"/><path d="M402.5 278.6q12.4-15.2 19.2-31.9"/><path d="M422.4 290.8q-1.2 13.1 .7 24.5"/><path d="M424.7 277.1q2.7-15.6 1.1-29.9"/><path d="M444.1 289.2q-10.4 12.8-16.2 26.5"/><path d="M446.5 277.3q-6.4-17.8-16.6-31.8"/><path d="M477.8 289.7q12 17 27.3 28.9"/><path d="M479.2 279.5q17.3-15.1 28.4-33.4"/><path d="M500.2 290.8q2.5 13.9 7.8 25.2"/><path d="M502.2 277.7q6.7-15.4 8.7-30.5"/><path d="M521.4 290.1q-6.1 12.8-8.3 25.1"/><path d="M523.8 277q-2.2-16.6-8.3-30.5"/><path d="M544.2 288q-16.5 12.8-27.6 28.6"/><path d="M546.4 277.9q-12-19.6-28-33.6"/><path d="M577.7 290.4q6.4 15.2 15.8 26.7"/><path d="M579.4 278.4q11.1-15.2 17-31.6"/><path d="M599.1 290.7q-2.2 13-1.1 24.5"/><path d="M601.4 277.1q1.7-15.9-.7-30"/><path d="M620.9 289q-11.5 12.8-18.4 26.9"/><path d="M623.3 277.4q-7.4-18.1-18.8-32.1"/><path d="M654.7 289.8q10.8 16.7 24.9 28.5"/><path d="M656.2 279.3q16-15.2 26-33"/><path d="M676.9 290.9q1.5 13.6 5.9 24.9"/><path d="M678.9 277.5q5.7-15.4 6.8-30.2"/><path d="M698.1 289.9q-7.1 12.7-10.1 25.4"/><path d="M700.5 277.1q-3.2-16.9-10.3-30.8"/><path d="M721.2 287.8q-17.8 12.8-30 28.9"/><path d="M731.3 289.3q15.6 18.2 34.7 30"/><path d="M723.3 278q-13.1-19.9-30.4-34"/><path d="M754.4 290.5q5.4 14.8 13.8 26.4"/><path d="M756.2 278.2q10-15.2 14.8-31.2"/><path d="M775.7 290.6q-3.1 12.9-2.8 24.5"/><path d="M778.1 277q.7-16-2.6-30"/><path d="M797.8 288.7q-12.7 12.8-20.6 27.4"/><path d="M800.1 277.6q-8.5-18.5-21-32.6"/><path d="M831.5 290q9.8 16.3 22.6 28"/><path d="M833.1 279.1q14.7-15.2 23.7-32.7"/><path d="M853.5 290.9q.6 13.4 4.2 24.7"/><path d="M855.6 277.3q4.7-15.4 4.9-30"/><path d="M874.8 289.7q-8.1 12.7-12.1 25.7"/><path d="M877.3 277.2q-4.3-17.2-12.4-31.2"/><path d="M898.2 287.6q-19.1 12.7-32.5 29.3"/><path d="M126.4 257.4q16.6-5.1 29.9-13.8"/><path d="M150.3 254.9q5.1-4.7 8.3-9.1"/><path d="M169 252.5q-1-3.9-2-6.1"/><path d="M190.4 254.7q-9.5-7.9-19.3-12.5"/><path d="M202.4 258q22.2-4.6 40.7-14.9"/><path d="M214.9 255.9q-21.2-11.5-43.3-15.7"/><path d="M227.2 256.3q9.9-5.2 17.1-11.7"/><path d="M248.5 252.7q1-3.4 1.2-5.5"/><path d="M267.3 253.8q-5-6.1-10-10"/><path d="M291 255.4q-15.8-9.9-32.3-14.5"/><path d="M303.4 257.3q15.3-5.2 27.3-13.5"/><path d="M327.1 254.4q4-4.4 6.3-8.2"/><path d="M345.3 252.7q-1.6-4.2-3.1-6.8"/><path d="M367.4 254.9q-10.8-8.4-21.9-13.1"/><path d="M379.5 257.9q20.8-4.8 38-14.7"/><path d="M404.1 256q8.7-5.2 14.7-11.1"/></g><g class="ax"><path d="M424.7 252.5Q425.2 249.1 425.2 247.3M422.4 252.8L425.2 247.3 427.9 252.8Z"/></g><g class="a"><path d="M444.1 254q-6.1-6.5-12.2-10.7"/><path d="M468.1 255.6q-17.2-10.4-35.1-14.9"/><path d="M480.5 257.1q13.9-5.3 24.6-13.1"/><path d="M503.7 254q3.1-4.2 4.7-7.5"/><path d="M521.8 252.9q-2.4-4.6-4.6-7.5"/><path d="M544.3 255q-11.9-8.7-24.4-13.4"/><path d="M556.6 257.8q19.4-4.9 35.2-14.5"/><path d="M581 255.6q7.4-5 12.5-10.4"/></g><g class="ax"><path d="M600.9 252.4Q600.9 249 600.6 247.1M598.6 253L600.6 247.1 604.1 252.3Z"/></g><g class="a"><path d="M621 254.3q-7.2-7.1-14.5-11.4"/><path d="M645.1 255.7q-18.5-10.7-37.8-15.2"/><path d="M657.5 256.8q12.6-5.2 22.1-12.6"/><path d="M680.2 253.5q2.2-3.9 3.3-6.7"/><path d="M698.3 253.2q-3.1-5.1-6.1-8.4"/><path d="M721.3 255.2q-13.2-9.2-27-13.9"/><path d="M733.7 257.6q18-5 32.5-14.1"/><path d="M757.9 255.3q6.2-4.9 10.2-9.8"/><path d="M777.1 252.4q-.5-3.6-1.1-5.6"/><path d="M797.8 254.5q-8.3-7.5-16.8-12"/><path d="M809.7 258.2q23.6-4.5 43.4-15.2"/><path d="M822.2 255.8q-19.8-11.1-40.5-15.4"/><path d="M834.5 256.6q11.3-5.3 19.6-12.2"/><path d="M856.6 253.1q1.5-3.7 2.1-6"/><path d="M874.9 253.5q-4-5.6-8-9.2"/><path d="M898.4 255.3q-14.6-9.6-29.8-14.2"/><path d="M126.4 236.5q14.8 3.4 28.4 2.8"/></g><g class="ax"><path d="M151.5 237Q153.9 237.7 154.8 237.9M149.8 234.2L154.8 237.9 148.9 239.7Z"/><path d="M164.2 238Q163.7 238.4 164.4 237.7M170.4 236.1L164.4 237.7 166.7 232Z"/></g><g class="a"><path d="M188.7 234.5q-9.5 .1-17.2 2"/><path d="M202.3 236.4q20.4 4.6 39.7 3.2"/><path d="M214 234q-22.2-1.8-42.5 2.7"/><path d="M227.6 236.7q7.8 1.9 14.3 2.1"/></g><g class="ax"><path d="M246.2 234.7Q247.9 237.1 249.1 237.9M246 232.6L249.1 237.9 243 237.2Z"/></g><g class="a"><path d="M264.6 235.1q-3.9 .4-6.1 1"/><path d="M289.9 234.1q-16.6-.9-31.2 2.6"/><path d="M303.5 236.5q13.4 3.2 25.6 2.8"/></g><g class="ax"><path d="M328.6 237.2Q329.6 237.5 329.2 237.4M324.4 233.4L329.2 237.4 323.2 238.8Z"/><path d="M340.8 236.9Q339.2 237.7 338.9 237.9M345 237.1L338.9 237.9 341.9 232.5Z"/></g><g class="a"><path d="M365.8 234.4q-10.9-.1-20 2.1"/><path d="M379.4 236.4q19 4.3 36.9 3.1"/><path d="M391.1 233.9q-23.6-2-45.3 2.9"/><path d="M404.7 236.7q6.4 1.7 11.5 2"/></g><g class="ax"><path d="M423.3 234.7Q423.6 236.9 423.9 237.4M423.5 231.2L423.9 237.4 418.7 234Z"/></g><g class="a"><path d="M441.7 234.9q-5.3 .4-8.9 1.3"/><path d="M467 234.1q-18-1.1-34 2.6"/><path d="M480.6 236.5q12 2.9 22.8 2.7"/></g><g class="ax"><path d="M505.6 237.4Q508.6 238.4 510.3 238.6M505.1 235.2L510.3 238.6 504.5 240.7Z"/><path d="M517.7 236.2Q514.7 237.2 513.2 238M519.4 237.7L513.2 238 516.7 232.9Z"/></g><g class="a"><path d="M542.9 234.3q-12.3-.3-22.8 2.3"/><path d="M556.5 236.4q17.6 4.1 34.1 3.1"/><path d="M581.7 236.8q5.1 1.3 8.8 1.7"/></g><g class="ax"><path d="M600.4 234.7Q599.3 236.6 599.2 237.2M602.7 232.1L599.2 237.2 597.2 231.4Z"/></g><g class="a"><path d="M618.8 234.7q-6.7 .4-11.6 1.6"/><path d="M632.5 236.3q23.1 5.3 45.2 3.4"/><path d="M644.1 234q-19.4-1.3-36.8 2.7"/><path d="M657.7 236.6q10.6 2.5 20 2.5"/></g><g class="ax"><path d="M682.5 237.8Q684.3 238.4 684.6 238.5M679.7 234.7L684.6 238.5 678.7 240.1Z"/><path d="M694.8 235.7Q693.7 235.9 694.1 235.8M700.2 236.9L694.1 235.8 698.7 231.6Z"/></g><g class="a"><path d="M720 234.2q-13.7-.4-25.6 2.4"/><path d="M733.7 236.4q16.1 3.8 31.2 3"/><path d="M758.8 236.9q3.7 1 6 1.3"/></g><g class="ax"><path d="M777.5 234.7Q775 236.3 774.2 237.5M779.6 234.5L774.2 237.5 775.1 231.3Z"/></g><g class="a"><path d="M795.9 234.6q-8.1 .2-14.4 1.8"/><path d="M809.6 236.4q21.7 4.9 42.4 3.2"/><path d="M821.2 234q-20.8-1.6-39.6 2.7"/><path d="M834.8 236.6q9.2 2.3 17.2 2.4"/></g><g class="ax"><path d="M859.3 238.3Q859.9 238.6 859 238.3M854.7 233.8L859 238.3 852.8 239.1Z"/><path d="M871.8 235.3Q869.4 235.7 868.5 236M874.6 237.2L868.5 236 873.1 231.8Z"/></g><g class="a"><path d="M897.1 234.2q-15.1-.7-28.4 2.4"/><path d="M124.8 214.8q14.5 13 30.7 20.5"/><path d="M147.8 216.4q4.4 9.2 9.9 16"/><path d="M148.3 203.9q10.3-20.5 13.8-41.6"/><path d="M167.7 216.5q-2.8 7.5-3.6 13.8"/><path d="M170.6 203.1q.6-21.7-4.9-41"/><path d="M189.7 213.7q-12.4 8.3-21.1 18.5"/><path d="M201.1 214.3q19.6 14.5 41.2 21.9"/><path d="M225 215.6q8.6 10.9 18.5 18.3"/><path d="M246.2 217q.3 7.7 1.8 13.6"/><path d="M247.9 203.3q4.8-21 3.3-40.9"/><path d="M266.6 214.9q-7.6 8.1-12.3 16.3"/><path d="M270.2 203.2q-4.8-22.9-15.5-41.9"/><path d="M290.4 212.6q-19 8.2-33.6 20.5"/><path d="M301.7 214.9q13.3 12.6 28.2 20.2"/><path d="M324.4 216.6q3.5 8.8 8.1 15.4"/><path d="M325.1 203.8q9.2-20.6 11.6-41.4"/><path d="M344.2 216.2q-3.6 7.6-5.1 14.2"/><path d="M347.4 203.1q-.5-21.9-7-41.2"/><path d="M366.7 213.5q-13.7 8.3-23.5 18.9"/><path d="M378.1 214.4q18.3 14.1 38.6 21.6"/><path d="M401.9 215.8q7.4 10.5 16.1 17.7"/><path d="M422.6 216.9q-.4 7.6 .5 13.5"/><path d="M424.7 203.2q3.7-21.1 1.2-40.9"/><path d="M443.4 214.6q-8.7 8.1-14.3 16.9"/><path d="M447.1 203.3q-5.9-23.2-17.8-42.2"/><path d="M467.4 212.4q-20.3 8.1-36.2 20.9"/><path d="M478.7 215.1q12 12.2 25.7 19.7"/><path d="M501 216.8q2.7 8.4 6.3 14.8"/><path d="M501.9 203.6q8.1-20.6 9.5-41.2"/><path d="M520.8 215.9q-4.5 7.7-6.7 14.7"/><path d="M524.2 203.1q-1.6-22.1-9.1-41.3"/><path d="M543.7 213.2q-15 8.3-26 19.4"/><path d="M555.1 214.5q17.1 13.8 36 21.3"/><path d="M578.7 216q6.4 10.1 13.9 17.2"/><path d="M578.9 204.2q12.7-20.3 18.2-42"/><path d="M599 216.8q-1.1 7.5-.8 13.5"/><path d="M601.5 203.2q2.6-21.3-.8-40.9"/><path d="M620.2 214.3q-9.9 8.2-16.4 17.4"/><path d="M644.5 212.3q-21.8 8-38.8 21.2"/><path d="M655.6 215.3q10.9 11.7 23.2 19.2"/><path d="M677.6 216.9q1.8 8.1 4.7 14.3"/><path d="M678.7 203.5q7-20.7 7.4-41.1"/><path d="M697.4 215.6q-5.4 7.8-8.4 15.2"/><path d="M701 203.1q-2.7-22.3-11.2-41.5"/><path d="M720.7 213q-16.3 8.3-28.5 19.8"/><path d="M732.1 214.7q15.8 13.3 33.3 20.9"/><path d="M755.4 216.2q5.4 9.7 11.9 16.6"/><path d="M755.8 204.1q11.5-20.4 15.9-41.8"/><path d="M775.5 216.7q-1.9 7.4-2.2 13.6"/><path d="M778.2 203.1q1.6-21.4-2.8-40.9"/><path d="M797.1 214q-11.1 8.3-18.7 18"/><path d="M821.5 212.1q-23.1 7.9-41.4 21.5"/><path d="M832.5 215.4q9.7 11.4 20.8 18.8"/><path d="M854 217q1.1 7.9 3.3 13.9"/><path d="M855.5 203.4q5.9-20.9 5.4-41"/><path d="M874.1 215.2q-6.4 8-10.2 15.8"/><path d="M877.8 203.2q-3.7-22.7-13.4-41.8"/><path d="M897.7 212.8q-17.7 8.2-31 20.2"/><path d="M125.9 182.4q18-9.3 31.4-22.4"/><path d="M146.1 192.3q3.8 21.2 13.1 39"/><path d="M149.4 180q6.9-9.1 10.8-18.2"/><path d="M168.2 192q-5.6 19.5-5.2 38.3"/><path d="M169.9 178.5q-1-9.3-3.6-16.6"/><path d="M191.5 179.8q-9.7-12.5-21.3-21"/><path d="M223.2 192q8.2 22.5 21.9 40.2"/><path d="M226.4 181.2q11.6-9.4 19.3-20.2"/><path d="M245.6 192.3q-1.4 20.1 2.7 38.2"/><path d="M248.2 178.8q2.2-8.9 2.4-16.4"/><path d="M267.9 191.3q-11.1 19.1-15.7 39.2"/><path d="M268.6 179.1q-5.4-10.9-12.4-18.9"/><path d="M291.8 180.6q-15.7-14.6-33.6-23.2"/><path d="M303 182.2q16.6-9.4 28.8-22"/><path d="M322.9 192.3q2.8 21 11 38.8"/><path d="M326.1 179.7q5.9-9 8.9-17.7"/><path d="M345 191.9q-6.7 19.4-7.3 38.4"/><path d="M346.4 178.5q-1.8-9.5-5.1-16.9"/><path d="M368.4 180q-10.9-13-23.7-21.5"/><path d="M379.2 182.9q22-9.1 39.1-23.4"/><path d="M400 192.1q7.1 22.1 19.7 39.8"/><path d="M403.3 180.9q10.3-9.3 17-19.7"/><path d="M422.3 192.3q-2.4 19.9 .8 38.1"/><path d="M424.7 178.6q1.4-8.8 .9-16.2"/><path d="M444.7 191.2q-12.3 19-17.9 39.3"/><path d="M445.4 179.3q-6.5-11.3-14.5-19.5"/><path d="M468.8 180.7q-17-14.9-36.2-23.5"/><path d="M479.9 181.9q15.4-9.3 26.4-21.5"/><path d="M499.6 192.3q1.8 20.8 9 38.7"/><path d="M502.8 179.4q4.9-8.9 7.1-17.2"/><path d="M521.8 191.8q-7.8 19.3-9.4 38.5"/><path d="M523 178.6q-2.7-9.8-6.8-17.3"/><path d="M545.3 180.1q-12.1-13.3-26.1-21.9"/><path d="M556.2 182.7q20.7-9.1 36.5-23"/><path d="M576.8 192.1q6 21.9 17.5 39.6"/><path d="M580.2 180.6q9.1-9.2 14.8-19.2"/><path d="M599.1 192.2q-3.5 19.8-1.3 38.2"/><path d="M601.2 178.5q.6-8.9-.6-16.2"/><path d="M621.6 191q-13.5 19-20.1 39.6"/><path d="M622.2 179.4q-7.5-11.7-16.7-19.9"/><path d="M645.8 180.8q-18.3-15.3-38.9-23.8"/><path d="M656.9 181.7q14.1-9.4 24-21.1"/><path d="M676.4 192.3q.7 20.6 6.9 38.5"/><path d="M679.4 179.2q4-8.9 5.5-16.9"/><path d="M698.6 191.6q-8.9 19.3-11.5 38.7"/><path d="M699.6 178.8q-3.5-10.2-8.6-17.9"/><path d="M722.2 180.3q-13.2-13.8-28.5-22.4"/><path d="M733.3 182.6q19.3-9.3 33.9-22.8"/><path d="M753.6 192.2q5 21.6 15.3 39.3"/><path d="M757 180.3q8-9.1 12.7-18.7"/><path d="M775.8 192.1q-4.5 19.7-3.2 38.2"/><path d="M777.7 178.5q-.2-9.1-2-16.4"/><path d="M798.5 190.8q-14.7 18.9-22.4 39.9"/><path d="M799 179.6q-8.6-12.1-18.9-20.5"/><path d="M833.9 181.5q12.7-9.4 21.5-20.7"/><path d="M853.2 192.3q-.4 20.3 4.8 38.4"/><path d="M856 178.9q3-8.8 3.9-16.5"/><path d="M875.4 191.5q-10 19.2-13.6 38.9"/><path d="M876.3 178.9q-4.5-10.5-10.5-18.4"/><path d="M899.2 180.4q-14.5-14.1-31.1-22.7"/><path d="M126.6 160.9q15.4-.3 28.6-4.3"/></g><g class="ax"><path d="M151.8 159.2Q154.5 158.3 155.7 157.8M149.5 157.5L155.7 157.8 151.8 162.6Z"/><path d="M165.6 155.6Q164.5 154.7 164.6 154.8M167.7 160.1L164.6 154.8 170.8 155.5Z"/></g><g class="a"><path d="M189.1 158.3q-9.2-3.1-17.3-3.9"/><path d="M202.5 161.1q21.1 .5 39.8-4.7"/><path d="M214.3 158.8q-21.7-6-42.5-5.3"/><path d="M227.8 160.3q8.3-1 14.7-3.3"/></g><g class="ax"><path d="M250 155Q250.2 154.5 249.9 155.4M245.4 159.6L249.9 155.4 250.6 161.6Z"/></g><g class="a"><path d="M265.3 157.7q-3.9-1.6-6.5-2.2"/><path d="M290.2 158.6q-16.1-4.7-31.3-4.8"/><path d="M303.8 160.8q13.9-.5 25.7-4.1"/></g><g class="ax"><path d="M328.8 158.7Q330.2 158.2 330.2 158.2M324 158.1L330.2 158.2 326.4 163.1Z"/><path d="M342.1 156.3Q339.9 155 339 154.6M343 159.3L339 154.6 345.2 154.2Z"/></g><g class="a"><path d="M366.2 158.4q-10.6-3.5-20.1-4.1"/><path d="M379.7 161.1q19.6 .3 36.9-4.7"/><path d="M391.4 158.8q-23.1-6.3-45.3-5.4"/><path d="M404.9 160.1q6.9-1.1 12-2.9"/></g><g class="ax"><path d="M424.7 154Q424.7 154 424.7 155.5M421.9 161L424.7 155.5 427.5 161.1Z"/></g><g class="a"><path d="M442.3 157.9q-5.2-2-9.2-2.7"/><path d="M467.3 158.7q-17.5-5.1-34.1-5"/><path d="M480.9 160.7q12.5-.7 22.9-4"/></g><g class="ax"><path d="M505.6 158.1Q505.9 158 504.8 158.6M498.6 158.8L504.8 158.6 501.3 163.7Z"/><path d="M518.8 156.9Q518.5 156.7 519.7 157.3M523.3 162.4L519.7 157.3 525.9 157.5Z"/></g><g class="a"><path d="M543.3 158.5q-12-3.8-22.9-4.4"/><path d="M556.8 161q18.1 .1 34.1-4.5"/><path d="M582 159.8q5.5-1 9.2-2.5"/></g><g class="ax"><path d="M599 154Q599 153.9 599.6 155.4M599.2 161.6L599.6 155.4 604.3 159.4Z"/></g><g class="a"><path d="M619.3 158.1q-6.5-2.4-11.8-3.2"/><path d="M632.7 161.2q23.8 1 45.3-4.9"/><path d="M644.4 158.7q-18.8-5.4-36.9-5.1"/><path d="M658 160.6q11.1-.8 20.2-3.8"/></g><g class="ax"><path d="M682.3 157.3Q684.4 155.8 685.1 155.1M679.2 157.1L685.1 155.1 683.2 161Z"/><path d="M695.7 157.2Q694.3 156.6 694.3 156.6M698.4 161.2L694.3 156.6 700.4 156Z"/></g><g class="a"><path d="M720.4 158.5q-13.4-4.1-25.7-4.5"/><path d="M733.9 160.9q16.7-.1 31.3-4.4"/><path d="M759.1 159.6q4.1-1 6.5-2.1"/></g><g class="ax"><path d="M774.1 154.8Q773.7 154.3 774.4 155.1M776.1 161L774.4 155.1 780.2 157.2Z"/></g><g class="a"><path d="M796.4 158.2q-7.9-2.8-14.6-3.6"/><path d="M809.8 161.2q22.4 .7 42.5-4.8"/><path d="M821.5 158.7q-20.2-5.6-39.7-5.1"/><path d="M835.1 160.4q9.7-.9 17.4-3.5"/></g><g class="ax"><path d="M858.7 156.2Q859.6 155.1 859.6 155.2M854.2 158.2L859.6 155.2 858.7 161.4Z"/><path d="M872.6 157.5Q870 156.4 868.7 156M873.2 160.3L868.7 156 874.8 155Z"/></g><g class="a"><path d="M897.5 158.6q-14.7-4.5-28.5-4.7"/><path d="M125.6 139.8q14.6 8.5 29.4 12.2"/><path d="M149.2 141.7q3.9 4.4 7.2 7.2"/></g><g class="ax"><path d="M167 142.2Q165.8 144.7 165.5 145.7M169.9 141.3L165.5 145.7 164.6 139.6Z"/></g><g class="a"><path d="M189.1 138.5q-10.9 4.3-19.1 10.2"/><path d="M201.7 139.4q19.9 10 40.3 13.3"/><path d="M214 137q-23.3 3.4-43.1 13.1"/><path d="M226.2 140.6q8.3 6.4 16.4 10.1"/></g><g class="ax"><path d="M247 143Q247.4 145.3 247.6 145.9M248.7 139.8L247.6 145.9 243.4 141.4Z"/></g><g class="a"><path d="M265.6 139.8q-5.7 3.9-9.5 7.8"/><path d="M290 137.5q-17.7 4-32.3 12.1"/><path d="M302.6 139.9q13.3 8.2 26.7 11.9"/><path d="M325.9 142q2.9 3.9 5.3 6.3"/></g><g class="ax"><path d="M343.3 141.7Q341.5 144.5 340.8 146.1M345.7 142.2L340.8 146.1 340.6 139.9Z"/></g><g class="a"><path d="M366.1 138.2q-12.2 4.3-21.6 10.8"/><path d="M378.8 139.5q18.5 9.6 37.5 13.1"/><path d="M403.1 140.8q7.1 6 13.9 9.5"/></g><g class="ax"><path d="M423 143.1Q423.1 145.1 423.1 145.6M425.2 139.7L423.1 145.6 419.7 140.4Z"/></g><g class="a"><path d="M442.5 139.4q-7 4.1-11.8 8.5"/><path d="M467.1 137.4q-19.2 3.8-35 12.4"/><path d="M479.6 140.1q12 7.7 24.1 11.5"/><path d="M502.4 142.3q2.1 3.5 3.7 5.4"/><path d="M519.8 141.2q-2.6 3.1-3.9 5.2"/><path d="M543.1 138q-13.5 4.3-24.2 11.1"/><path d="M555.9 139.6q17.2 9.2 34.8 12.8"/><path d="M580 141.1q5.9 5.5 11.5 8.8"/></g><g class="ax"><path d="M599 143Q598.8 145 598.8 145.4M601.7 140L598.8 145.4 596.2 139.8Z"/></g><g class="a"><path d="M619.4 139q-8.2 4.3-14.1 9.2"/><path d="M644.2 137.2q-20.6 3.8-37.7 12.7"/><path d="M656.6 140.2q10.7 7.3 21.5 11.1"/></g><g class="ax"><path d="M678.9 142.6Q680.3 145.6 681.2 147M680.5 140.9L681.2 147 675.9 143.9Z"/></g><g class="a"><path d="M696.4 140.7q-3.5 3.4-5.5 6.2"/><path d="M720.2 137.8q-15 4.2-26.9 11.5"/><path d="M732.9 139.7q15.9 8.9 32.1 12.5"/><path d="M756.8 141.4q4.9 5 9.3 8"/></g><g class="ax"><path d="M775.1 142.6Q774.5 144.8 774.4 145.5M778.1 140.5L774.4 145.5 772.6 139.5Z"/></g><g class="a"><path d="M796.4 138.7q-9.5 4.3-16.5 9.8"/><path d="M809 139.3q21.2 10.3 43 13.5"/><path d="M821.3 137.1q-22 3.6-40.5 12.9"/><path d="M833.6 140.4q9.5 6.9 18.9 10.6"/></g><g class="ax"><path d="M855.2 142.9Q856 145.4 856.5 146.4M856.7 140.2L856.5 146.4 851.6 142.6Z"/></g><g class="a"><path d="M873.1 140.2q-4.6 3.7-7.4 7"/><path d="M897.3 137.6q-16.4 4.2-29.6 11.9"/><path d="M123.8 117.2q14.3 19 32.5 31.9"/><path d="M146.6 118.3q4.4 15.8 12.1 28.5"/><path d="M168.1 118.1q-4.4 14.1-4.8 27.3"/><path d="M190.5 116.2q-14.4 14-23.3 30.2"/><path d="M223.8 117.8q8.6 17.2 20.7 30.1"/><path d="M245.7 118.4q-.5 14.6 2.5 27.3"/><path d="M267.4 117.1q-9.6 14-14.5 28.7"/><path d="M300.7 117.3q13.1 18.7 30 31.6"/><path d="M323.4 118.3q3.3 15.6 10 28.2"/><path d="M344.7 117.9q-5.3 14.1-6.6 27.6"/><path d="M367.4 116q-15.6 14-25.6 30.6"/><path d="M400.7 117.9q7.4 16.9 18.4 29.7"/><path d="M422.4 118.4q-1.5 14.4 .7 27.2"/><path d="M444.2 116.9q-10.7 14-16.6 29"/><path d="M477.6 117.4q12 18.3 27.6 31.2"/><path d="M500.1 118.4q2.3 15.3 8.1 27.9"/><path d="M521.5 117.7q-6.4 14.1-8.5 27.8"/><path d="M544.4 115.8q-16.9 13.9-28 30.9"/><path d="M577.5 118.1q6.4 16.4 16.2 29.2"/><path d="M599.1 118.3q-2.5 14.3-1.2 27.2"/><path d="M621.1 116.7q-12 14-18.8 29.4"/><path d="M654.5 117.5q10.8 18 25.2 30.9"/><path d="M676.8 118.4q1.3 15 6.1 27.7"/><path d="M698.2 117.5q-7.4 14.1-10.4 28.1"/><path d="M721.3 115.6q-18.1 13.9-30.4 31.3"/><path d="M754.2 118.2q5.4 16.1 14.1 28.8"/><path d="M775.7 118.2q-3.4 14.2-2.9 27.2"/><path d="M798 116.4q-13.2 14-21.1 29.8"/><path d="M831.3 117.7q9.7 17.5 23 30.4"/><path d="M853.4 118.5q.4 14.7 4.4 27.4"/><path d="M875 117.3q-8.6 14.1-12.5 28.4"/><path d="M898.3 115.4q-19.4 13.8-32.8 31.7"/></g></g><path class="n" stroke="#9edae5" d="M163.3 832.7h0M250.4 832.7h0M337.6 832.7h0M424.7 832.7h0M511.9 832.7h0M599 832.7h0M686.2 832.7h0M773.3 832.7h0M860.5 832.7h0M163.3 747.8h0M250.4 747.8h0M337.6 747.8h0M424.7 747.8h0M511.9 747.8h0M599 747.8h0M686.2 747.8h0M773.3 747.8h0M860.5 747.8h0M163.3 663h0M250.4 663h0M337.6 663h0M424.7 663h0M511.9 663h0M599 663h0M686.2 663h0M773.3 663h0M860.5 663h0M163.3 578.1h0M250.4 578.1h0M337.6 578.1h0M424.7 578.1h0M511.9 578.1h0M599 578.1h0M686.2 578.1h0M773.3 578.1h0M860.5 578.1h0M163.3 493.3h0M250.4 493.3h0M337.6 493.3h0M424.7 493.3h0M511.9 493.3h0M599 493.3h0M686.2 493.3h0M773.3 493.3h0M860.5 493.3h0M163.3 408.5h0M250.4 408.5h0M337.6 408.5h0M424.7 408.5h0M511.9 408.5h0M599 408.5h0M686.2 408.5h0M773.3 408.5h0M860.5 408.5h0M163.3 323.6h0M250.4 323.6h0M337.6 323.6h0M424.7 323.6h0M511.9 323.6h0M599 323.6h0M686.2 323.6h0M773.3 323.6h0M860.5 323.6h0M163.3 238.8h0M250.4 238.8h0M337.6 238.8h0M424.7 238.8h0M511.9 238.8h0M599 238.8h0M686.2 238.8h0M773.3 238.8h0M860.5 238.8h0M163.3 153.9h0M250.4 153.9h0M337.6 153.9h0M424.7 153.9h0M511.9 153.9h0M599 153.9h0M686.2 153.9h0M773.3 153.9h0M860.5 153.9h0M250.4 747.8h0M511.9 747.8h0M773.3 747.8h0M250.4 493.3h0M511.9 493.3h0M773.3 493.3h0M250.4 238.8h0M511.9 238.8h0M773.3 238.8h0"/><path class="n" stroke="#1f77b4" d="M119.7 875.1h0M145 875.1h0M170.3 875.1h0M195.6 875.1h0M220.9 875.1h0M246.2 875.1h0M271.5 875.1h0M296.8 875.1h0M322.1 875.1h0M347.4 875.1h0M372.7 875.1h0M398 875.1h0M423.3 875.1h0M448.6 875.1h0M473.9 875.1h0M499.2 875.1h0M524.5 875.1h0M549.8 875.1h0M575.1 875.1h0M600.4 875.1h0M625.7 875.1h0M651 875.1h0M676.3 875.1h0M701.6 875.1h0M726.9 875.1h0M752.2 875.1h0M777.5 875.1h0M802.8 875.1h0M828.1 875.1h0M853.4 875.1h0M878.7 875.1h0M904 875.1h0M119.7 850.5h0M145 850.5h0M170.3 850.5h0M195.6 850.5h0M220.9 850.5h0M246.2 850.5h0M271.5 850.5h0M296.8 850.5h0M322.1 850.5h0M347.4 850.5h0M372.7 850.5h0M398 850.5h0M423.3 850.5h0M448.6 850.5h0M473.9 850.5h0M499.2 850.5h0M524.5 850.5h0M549.8 850.5h0M575.1 850.5h0M600.4 850.5h0M625.7 850.5h0M651 850.5h0M676.3 850.5h0M701.6 850.5h0M726.9 850.5h0M752.2 850.5h0M777.5 850.5h0M802.8 850.5h0M828.1 850.5h0M853.4 850.5h0M878.7 850.5h0M904 850.5h0M119.7 825.8h0M145 825.8h0M170.3 825.8h0M195.6 825.8h0M220.9 825.8h0M246.2 825.8h0M271.5 825.8h0M296.8 825.8h0M322.1 825.8h0M347.4 825.8h0M372.7 825.8h0M398 825.8h0M423.3 825.8h0M448.6 825.8h0M473.9 825.8h0M499.2 825.8h0M524.5 825.8h0M549.8 825.8h0M575.1 825.8h0M600.4 825.8h0M625.7 825.8h0M651 825.8h0M676.3 825.8h0M701.6 825.8h0M726.9 825.8h0M752.2 825.8h0M777.5 825.8h0M802.8 825.8h0M828.1 825.8h0M853.4 825.8h0M878.7 825.8h0M904 825.8h0M119.7 801.2h0M145 801.2h0M170.3 801.2h0M195.6 801.2h0M220.9 801.2h0M246.2 801.2h0M271.5 801.2h0M296.8 801.2h0M322.1 801.2h0M347.4 801.2h0M372.7 801.2h0M398 801.2h0M423.3 801.2h0M448.6 801.2h0M473.9 801.2h0M499.2 801.2h0M524.5 801.2h0M549.8 801.2h0M575.1 801.2h0M600.4 801.2h0M625.7 801.2h0M651 801.2h0M676.3 801.2h0M701.6 801.2h0M726.9 801.2h0M752.2 801.2h0M777.5 801.2h0M802.8 801.2h0M828.1 801.2h0M853.4 801.2h0M878.7 801.2h0M904 801.2h0M119.7 776.6h0M145 776.6h0M170.3 776.6h0M195.6 776.6h0M220.9 776.6h0M246.2 776.6h0M271.5 776.6h0M296.8 776.6h0M322.1 776.6h0M347.4 776.6h0M372.7 776.6h0M398 776.6h0M423.3 776.6h0M448.6 776.6h0M473.9 776.6h0M499.2 776.6h0M524.5 776.6h0M549.8 776.6h0M575.1 776.6h0M600.4 776.6h0M625.7 776.6h0M651 776.6h0M676.3 776.6h0M701.6 776.6h0M726.9 776.6h0M752.2 776.6h0M777.5 776.6h0M802.8 776.6h0M828.1 776.6h0M853.4 776.6h0M878.7 776.6h0M904 776.6h0M119.7 751.9h0M145 751.9h0M170.3 751.9h0M195.6 751.9h0M220.9 751.9h0M246.2 751.9h0M271.5 751.9h0M296.8 751.9h0M322.1 751.9h0M347.4 751.9h0M372.7 751.9h0M398 751.9h0M423.3 751.9h0M448.6 751.9h0M473.9 751.9h0M499.2 751.9h0M524.5 751.9h0M549.8 751.9h0M575.1 751.9h0M600.4 751.9h0M625.7 751.9h0M651 751.9h0M676.3 751.9h0M701.6 751.9h0M726.9 751.9h0M752.2 751.9h0M777.5 751.9h0M802.8 751.9h0M828.1 751.9h0M853.4 751.9h0M878.7 751.9h0M904 751.9h0M119.7 727.3h0M145 727.3h0M170.3 727.3h0M195.6 727.3h0M220.9 727.3h0M246.2 727.3h0M271.5 727.3h0M296.8 727.3h0M322.1 727.3h0M347.4 727.3h0M372.7 727.3h0M398 727.3h0M423.3 727.3h0M448.6 727.3h0M473.9 727.3h0M499.2 727.3h0M524.5 727.3h0M549.8 727.3h0M575.1 727.3h0M600.4 727.3h0M625.7 727.3h0M651 727.3h0M676.3 727.3h0M701.6 727.3h0M726.9 727.3h0M752.2 727.3h0M777.5 727.3h0M802.8 727.3h0M828.1 727.3h0M853.4 727.3h0M878.7 727.3h0M904 727.3h0M119.7 702.7h0M145 702.7h0M170.3 702.7h0M195.6 702.7h0M220.9 702.7h0M246.2 702.7h0M271.5 702.7h0M296.8 702.7h0M322.1 702.7h0M347.4 702.7h0M372.7 702.7h0M398 702.7h0M423.3 702.7h0M448.6 702.7h0M473.9 702.7h0M499.2 702.7h0M524.5 702.7h0M549.8 702.7h0M575.1 702.7h0M600.4 702.7h0M625.7 702.7h0M651 702.7h0M676.3 702.7h0M701.6 702.7h0M726.9 702.7h0M752.2 702.7h0M777.5 702.7h0M802.8 702.7h0M828.1 702.7h0M853.4 702.7h0M878.7 702.7h0M904 702.7h0M119.7 678h0M145 678h0M170.3 678h0M195.6 678h0M220.9 678h0M246.2 678h0M271.5 678h0M296.8 678h0M322.1 678h0M347.4 678h0M372.7 678h0M398 678h0M423.3 678h0M448.6 678h0M473.9 678h0M499.2 678h0M524.5 678h0M549.8 678h0M575.1 678h0M600.4 678h0M625.7 678h0M651 678h0M676.3 678h0M701.6 678h0M726.9 678h0M752.2 678h0M777.5 678h0M802.8 678h0M828.1 678h0M853.4 678h0M878.7 678h0M904 678h0M119.7 653.4h0M145 653.4h0M170.3 653.4h0M195.6 653.4h0M220.9 653.4h0M246.2 653.4h0M271.5 653.4h0M296.8 653.4h0M322.1 653.4h0M347.4 653.4h0M372.7 653.4h0M398 653.4h0M423.3 653.4h0M448.6 653.4h0M473.9 653.4h0M499.2 653.4h0M524.5 653.4h0M549.8 653.4h0M575.1 653.4h0M600.4 653.4h0M625.7 653.4h0M651 653.4h0M676.3 653.4h0M701.6 653.4h0M726.9 653.4h0M752.2 653.4h0M777.5 653.4h0M802.8 653.4h0M828.1 653.4h0M853.4 653.4h0M878.7 653.4h0M904 653.4h0M119.7 628.8h0M145 628.8h0M170.3 628.8h0M195.6 628.8h0M220.9 628.8h0M246.2 628.8h0M271.5 628.8h0M296.8 628.8h0M322.1 628.8h0M347.4 628.8h0M372.7 628.8h0M398 628.8h0M423.3 628.8h0M448.6 628.8h0M473.9 628.8h0M499.2 628.8h0M524.5 628.8h0M549.8 628.8h0M575.1 628.8h0M600.4 628.8h0M625.7 628.8h0M651 628.8h0M676.3 628.8h0M701.6 628.8h0M726.9 628.8h0M752.2 628.8h0M777.5 628.8h0M802.8 628.8h0M828.1 628.8h0M853.4 628.8h0M878.7 628.8h0M904 628.8h0M119.7 604.1h0M145 604.1h0M170.3 604.1h0M195.6 604.1h0M220.9 604.1h0M246.2 604.1h0M271.5 604.1h0M296.8 604.1h0M322.1 604.1h0M347.4 604.1h0M372.7 604.1h0M398 604.1h0M423.3 604.1h0M448.6 604.1h0M473.9 604.1h0M499.2 604.1h0M524.5 604.1h0M549.8 604.1h0M575.1 604.1h0M600.4 604.1h0M625.7 604.1h0M651 604.1h0M676.3 604.1h0M701.6 604.1h0M726.9 604.1h0M752.2 604.1h0M777.5 604.1h0M802.8 604.1h0M828.1 604.1h0M853.4 604.1h0M878.7 604.1h0M904 604.1h0M119.7 579.5h0M145 579.5h0M170.3 579.5h0M195.6 579.5h0M220.9 579.5h0M246.2 579.5h0M271.5 579.5h0M296.8 579.5h0M322.1 579.5h0M347.4 579.5h0M372.7 579.5h0M398 579.5h0M423.3 579.5h0M448.6 579.5h0M473.9 579.5h0M499.2 579.5h0M524.5 579.5h0M549.8 579.5h0M575.1 579.5h0M600.4 579.5h0M625.7 579.5h0M651 579.5h0M676.3 579.5h0M701.6 579.5h0M726.9 579.5h0M752.2 579.5h0M777.5 579.5h0M802.8 579.5h0M828.1 579.5h0M853.4 579.5h0M878.7 579.5h0M904 579.5h0M119.7 554.9h0M145 554.9h0M170.3 554.9h0M195.6 554.9h0M220.9 554.9h0M246.2 554.9h0M271.5 554.9h0M296.8 554.9h0M322.1 554.9h0M347.4 554.9h0M372.7 554.9h0M398 554.9h0M423.3 554.9h0M448.6 554.9h0M473.9 554.9h0M499.2 554.9h0M524.5 554.9h0M549.8 554.9h0M575.1 554.9h0M600.4 554.9h0M625.7 554.9h0M651 554.9h0M676.3 554.9h0M701.6 554.9h0M726.9 554.9h0M752.2 554.9h0M777.5 554.9h0M802.8 554.9h0M828.1 554.9h0M853.4 554.9h0M878.7 554.9h0M904 554.9h0M119.7 530.3h0M145 530.3h0M170.3 530.3h0M195.6 530.3h0M220.9 530.3h0M246.2 530.3h0M271.5 530.3h0M296.8 530.3h0M322.1 530.3h0M347.4 530.3h0M372.7 530.3h0M398 530.3h0M423.3 530.3h0M448.6 530.3h0M473.9 530.3h0M499.2 530.3h0M524.5 530.3h0M549.8 530.3h0M575.1 530.3h0M600.4 530.3h0M625.7 530.3h0M651 530.3h0M676.3 530.3h0M701.6 530.3h0M726.9 530.3h0M752.2 530.3h0M777.5 530.3h0M802.8 530.3h0M828.1 530.3h0M853.4 530.3h0M878.7 530.3h0M904 530.3h0M119.7 505.6h0M145 505.6h0M170.3 505.6h0M195.6 505.6h0M220.9 505.6h0M246.2 505.6h0M271.5 505.6h0M296.8 505.6h0M322.1 505.6h0M347.4 505.6h0M372.7 505.6h0M398 505.6h0M423.3 505.6h0M448.6 505.6h0M473.9 505.6h0M499.2 505.6h0M524.5 505.6h0M549.8 505.6h0M575.1 505.6h0M600.4 505.6h0M625.7 505.6h0M651 505.6h0M676.3 505.6h0M701.6 505.6h0M726.9 505.6h0M752.2 505.6h0M777.5 505.6h0M802.8 505.6h0M828.1 505.6h0M853.4 505.6h0M878.7 505.6h0M904 505.6h0M119.7 481h0M145 481h0M170.3 481h0M195.6 481h0M220.9 481h0M246.2 481h0M271.5 481h0M296.8 481h0M322.1 481h0M347.4 481h0M372.7 481h0M398 481h0M423.3 481h0M448.6 481h0M473.9 481h0M499.2 481h0M524.5 481h0M549.8 481h0M575.1 481h0M600.4 481h0M625.7 481h0M651 481h0M676.3 481h0M701.6 481h0M726.9 481h0M752.2 481h0M777.5 481h0M802.8 481h0M828.1 481h0M853.4 481h0M878.7 481h0M904 481h0M119.7 456.4h0M145 456.4h0M170.3 456.4h0M195.6 456.4h0M220.9 456.4h0M246.2 456.4h0M271.5 456.4h0M296.8 456.4h0M322.1 456.4h0M347.4 456.4h0M372.7 456.4h0M398 456.4h0M423.3 456.4h0M448.6 456.4h0M473.9 456.4h0M499.2 456.4h0M524.5 456.4h0M549.8 456.4h0M575.1 456.4h0M600.4 456.4h0M625.7 456.4h0M651 456.4h0M676.3 456.4h0M701.6 456.4h0M726.9 456.4h0M752.2 456.4h0M777.5 456.4h0M802.8 456.4h0M828.1 456.4h0M853.4 456.4h0M878.7 456.4h0M904 456.4h0M119.7 431.7h0M145 431.7h0M170.3 431.7h0M195.6 431.7h0M220.9 431.7h0M246.2 431.7h0M271.5 431.7h0M296.8 431.7h0M322.1 431.7h0M347.4 431.7h0M372.7 431.7h0M398 431.7h0M423.3 431.7h0M448.6 431.7h0M473.9 431.7h0M499.2 431.7h0M524.5 431.7h0M549.8 431.7h0M575.1 431.7h0M600.4 431.7h0M625.7 431.7h0M651 431.7h0M676.3 431.7h0M701.6 431.7h0M726.9 431.7h0M752.2 431.7h0M777.5 431.7h0M802.8 431.7h0M828.1 431.7h0M853.4 431.7h0M878.7 431.7h0M904 431.7h0M119.7 407.1h0M145 407.1h0M170.3 407.1h0M195.6 407.1h0M220.9 407.1h0M246.2 407.1h0M271.5 407.1h0M296.8 407.1h0M322.1 407.1h0M347.4 407.1h0M372.7 407.1h0M398 407.1h0M423.3 407.1h0M448.6 407.1h0M473.9 407.1h0M499.2 407.1h0M524.5 407.1h0M549.8 407.1h0M575.1 407.1h0M600.4 407.1h0M625.7 407.1h0M651 407.1h0M676.3 407.1h0M701.6 407.1h0M726.9 407.1h0M752.2 407.1h0M777.5 407.1h0M802.8 407.1h0M828.1 407.1h0M853.4 407.1h0M878.7 407.1h0M904 407.1h0M119.7 382.5h0M145 382.5h0M170.3 382.5h0M195.6 382.5h0M220.9 382.5h0M246.2 382.5h0M271.5 382.5h0M296.8 382.5h0M322.1 382.5h0M347.4 382.5h0M372.7 382.5h0M398 382.5h0M423.3 382.5h0M448.6 382.5h0M473.9 382.5h0M499.2 382.5h0M524.5 382.5h0M549.8 382.5h0M575.1 382.5h0M600.4 382.5h0M625.7 382.5h0M651 382.5h0M676.3 382.5h0M701.6 382.5h0M726.9 382.5h0M752.2 382.5h0M777.5 382.5h0M802.8 382.5h0M828.1 382.5h0M853.4 382.5h0M878.7 382.5h0M904 382.5h0M119.7 357.8h0M145 357.8h0M170.3 357.8h0M195.6 357.8h0M220.9 357.8h0M246.2 357.8h0M271.5 357.8h0M296.8 357.8h0M322.1 357.8h0M347.4 357.8h0M372.7 357.8h0M398 357.8h0M423.3 357.8h0M448.6 357.8h0M473.9 357.8h0M499.2 357.8h0M524.5 357.8h0M549.8 357.8h0M575.1 357.8h0M600.4 357.8h0M625.7 357.8h0M651 357.8h0M676.3 357.8h0M701.6 357.8h0M726.9 357.8h0M752.2 357.8h0M777.5 357.8h0M802.8 357.8h0M828.1 357.8h0M853.4 357.8h0M878.7 357.8h0M904 357.8h0M119.7 333.2h0M145 333.2h0M170.3 333.2h0M195.6 333.2h0M220.9 333.2h0M246.2 333.2h0M271.5 333.2h0M296.8 333.2h0M322.1 333.2h0M347.4 333.2h0M372.7 333.2h0M398 333.2h0M423.3 333.2h0M448.6 333.2h0M473.9 333.2h0M499.2 333.2h0M524.5 333.2h0M549.8 333.2h0M575.1 333.2h0M600.4 333.2h0M625.7 333.2h0M651 333.2h0M676.3 333.2h0M701.6 333.2h0M726.9 333.2h0M752.2 333.2h0M777.5 333.2h0M802.8 333.2h0M828.1 333.2h0M853.4 333.2h0M878.7 333.2h0M904 333.2h0M119.7 308.6h0M145 308.6h0M170.3 308.6h0M195.6 308.6h0M220.9 308.6h0M246.2 308.6h0M271.5 308.6h0M296.8 308.6h0M322.1 308.6h0M347.4 308.6h0M372.7 308.6h0M398 308.6h0M423.3 308.6h0M448.6 308.6h0M473.9 308.6h0M499.2 308.6h0M524.5 308.6h0M549.8 308.6h0M575.1 308.6h0M600.4 308.6h0M625.7 308.6h0M651 308.6h0M676.3 308.6h0M701.6 308.6h0M726.9 308.6h0M752.2 308.6h0M777.5 308.6h0M802.8 308.6h0M828.1 308.6h0M853.4 308.6h0M878.7 308.6h0M904 308.6h0M119.7 283.9h0M145 283.9h0M170.3 283.9h0M195.6 283.9h0M220.9 283.9h0M246.2 283.9h0M271.5 283.9h0M296.8 283.9h0M322.1 283.9h0M347.4 283.9h0M372.7 283.9h0M398 283.9h0M423.3 283.9h0M448.6 283.9h0M473.9 283.9h0M499.2 283.9h0M524.5 283.9h0M549.8 283.9h0M575.1 283.9h0M600.4 283.9h0M625.7 283.9h0M651 283.9h0M676.3 283.9h0M701.6 283.9h0M726.9 283.9h0M752.2 283.9h0M777.5 283.9h0M802.8 283.9h0M828.1 283.9h0M853.4 283.9h0M878.7 283.9h0M904 283.9h0M119.7 259.3h0M145 259.3h0M170.3 259.3h0M195.6 259.3h0M220.9 259.3h0M246.2 259.3h0M271.5 259.3h0M296.8 259.3h0M322.1 259.3h0M347.4 259.3h0M372.7 259.3h0M398 259.3h0M423.3 259.3h0M448.6 259.3h0M473.9 259.3h0M499.2 259.3h0M524.5 259.3h0M549.8 259.3h0M575.1 259.3h0M600.4 259.3h0M625.7 259.3h0M651 259.3h0M676.3 259.3h0M701.6 259.3h0M726.9 259.3h0M752.2 259.3h0M777.5 259.3h0M802.8 259.3h0M828.1 259.3h0M853.4 259.3h0M878.7 259.3h0M904 259.3h0M119.7 234.7h0M145 234.7h0M170.3 234.7h0M195.6 234.7h0M220.9 234.7h0M246.2 234.7h0M271.5 234.7h0M296.8 234.7h0M322.1 234.7h0M347.4 234.7h0M372.7 234.7h0M398 234.7h0M423.3 234.7h0M448.6 234.7h0M473.9 234.7h0M499.2 234.7h0M524.5 234.7h0M549.8 234.7h0M575.1 234.7h0M600.4 234.7h0M625.7 234.7h0M651 234.7h0M676.3 234.7h0M701.6 234.7h0M726.9 234.7h0M752.2 234.7h0M777.5 234.7h0M802.8 234.7h0M828.1 234.7h0M853.4 234.7h0M878.7 234.7h0M904 234.7h0M119.7 210h0M145 210h0M170.3 210h0M195.6 210h0M220.9 210h0M246.2 210h0M271.5 210h0M296.8 210h0M322.1 210h0M347.4 210h0M372.7 210h0M398 210h0M423.3 210h0M448.6 210h0M473.9 210h0M499.2 210h0M524.5 210h0M549.8 210h0M575.1 210h0M600.4 210h0M625.7 210h0M651 210h0M676.3 210h0M701.6 210h0M726.9 210h0M752.2 210h0M777.5 210h0M802.8 210h0M828.1 210h0M853.4 210h0M878.7 210h0M904 210h0M119.7 185.4h0M145 185.4h0M170.3 185.4h0M195.6 185.4h0M220.9 185.4h0M246.2 185.4h0M271.5 185.4h0M296.8 185.4h0M322.1 185.4h0M347.4 185.4h0M372.7 185.4h0M398 185.4h0M423.3 185.4h0M448.6 185.4h0M473.9 185.4h0M499.2 185.4h0M524.5 185.4h0M549.8 185.4h0M575.1 185.4h0M600.4 185.4h0M625.7 185.4h0M651 185.4h0M676.3 185.4h0M701.6 185.4h0M726.9 185.4h0M752.2 185.4h0M777.5 185.4h0M802.8 185.4h0M828.1 185.4h0M853.4 185.4h0M878.7 185.4h0M904 185.4h0M119.7 160.8h0M145 160.8h0M170.3 160.8h0M195.6 160.8h0M220.9 160.8h0M246.2 160.8h0M271.5 160.8h0M296.8 160.8h0M322.1 160.8h0M347.4 160.8h0M372.7 160.8h0M398 160.8h0M423.3 160.8h0M448.6 160.8h0M473.9 160.8h0M499.2 160.8h0M524.5 160.8h0M549.8 160.8h0M575.1 160.8h0M600.4 160.8h0M625.7 160.8h0M651 160.8h0M676.3 160.8h0M701.6 160.8h0M726.9 160.8h0M752.2 160.8h0M777.5 160.8h0M802.8 160.8h0M828.1 160.8h0M853.4 160.8h0M878.7 160.8h0M904 160.8h0M119.7 136.1h0M145 136.1h0M170.3 136.1h0M195.6 136.1h0M220.9 136.1h0M246.2 136.1h0M271.5 136.1h0M296.8 136.1h0M322.1 136.1h0M347.4 136.1h0M372.7 136.1h0M398 136.1h0M423.3 136.1h0M448.6 136.1h0M473.9 136.1h0M499.2 136.1h0M524.5 136.1h0M549.8 136.1h0M575.1 136.1h0M600.4 136.1h0M625.7 136.1h0M651 136.1h0M676.3 136.1h0M701.6 136.1h0M726.9 136.1h0M752.2 136.1h0M777.5 136.1h0M802.8 136.1h0M828.1 136.1h0M853.4 136.1h0M878.7 136.1h0M904 136.1h0M119.7 111.5h0M145 111.5h0M170.3 111.5h0M195.6 111.5h0M220.9 111.5h0M246.2 111.5h0M271.5 111.5h0M296.8 111.5h0M322.1 111.5h0M347.4 111.5h0M372.7 111.5h0M398 111.5h0M423.3 111.5h0M448.6 111.5h0M473.9 111.5h0M499.2 111.5h0M524.5 111.5h0M549.8 111.5h0M575.1 111.5h0M600.4 111.5h0M625.7 111.5h0M651 111.5h0M676.3 111.5h0M701.6 111.5h0M726.9 111.5h0M752.2 111.5h0M777.5 111.5h0M802.8 111.5h0M828.1 111.5h0M853.4 111.5h0M878.7 111.5h0M904 111.5h0"/></g><path class="t" d="M120.5 955.5v4.86M242.5 955.5v4.86M365.5 955.5v4.86M487.5 955.5v4.86M610.5 955.5v4.86M732.5 955.5v4.86M855.5 955.5v4.86M978.5 955.5v4.86M37.5 875.5h-4.86M37.5 756.5h-4.86M37.5 636.5h-4.86M37.5 517.5h-4.86M37.5 398.5h-4.86M37.5 279.5h-4.86M37.5 159.5h-4.86M37.5 40.5h-4.86"/><rect class="t" x="37.5" y="31.5" width="949" height="924"/><text x="120.45" y="977" font-size="13.89" text-anchor="middle">0</text><text x="242.51" y="977" font-size="13.89" text-anchor="middle">5</text><text x="365.06" y="977" font-size="13.89" text-anchor="middle">10</text><text x="487.36" y="977" font-size="13.89" text-anchor="middle">15</text><text x="609.67" y="977" font-size="13.89" text-anchor="middle">20</text><text x="732.72" y="977" font-size="13.89" text-anchor="middle">25</text><text x="854.02" y="977" font-size="13.89" text-anchor="middle">30</text><text x="977.33" y="977" font-size="13.89" text-anchor="middle">35</text><text x="28.88" y="881.6" font-size="13.89" text-anchor="end">0</text><text x="27.88" y="762.29" font-size="13.89" text-anchor="end">5</text><text x="27.88" y="642.98" font-size="13.89" text-anchor="end">10</text><text x="28.12" y="523.67" font-size="13.89" text-anchor="end">15</text><text x="27.62" y="404.36" font-size="13.89" text-anchor="end">20</text><text x="27.62" y="285.05" font-size="13.89" text-anchor="end">25</text><text x="26.88" y="165.73" font-size="13.89" text-anchor="end">30</text><text x="27.12" y="46.42" font-size="13.89" text-anchor="end">35</text><text transform="translate(512.12 24) scale(1 1.07)" font-size="16.67" text-anchor="middle">Full graph</text><path d="M853.5 126.22L976.68 126.22Q979.46 126.22 979.46 123.44L979.46 41.06Q979.46 38.28 976.68 38.28L853.5 38.28Q850.72 38.28 850.72 41.06L850.72 123.44Q850.72 126.22 853.5 126.22Z" fill="#fff" fill-opacity=".96" stroke="#ccc" stroke-opacity=".96" stroke-width="1.39"/><path d="M878 71H906" stroke="#1f77b4" stroke-width="2.08" stroke-linecap="square" fill="none"/><path d="M878 92H906" stroke="#8c564b" stroke-width="2.08" stroke-linecap="square" fill="none"/><path d="M878 113H906" stroke="#9edae5" stroke-width="2.08" stroke-linecap="square" fill="none"/><text x="856.03" y="55.83" font-size="13.89">edge component</text><text x="916.16" y="76.78" font-size="13.89">g2m</text><text x="916.16" y="97.72" font-size="13.89">m2g</text><text x="916.16" y="118.67" font-size="13.89">m2m</text><path d="M47.07 105.28L129.39 105.28Q132.17 105.28 132.17 102.5L132.17 41.06Q132.17 38.28 129.39 38.28L47.07 38.28Q44.29 38.28 44.29 41.06L44.29 102.5Q44.29 105.28 47.07 105.28Z" fill="#fff" fill-opacity=".8" stroke="#ccc" stroke-opacity=".8" stroke-width="1.39"/><circle cx="64.5" cy="71.5" r="3.47" fill="#1f77b4"/><circle cx="64.5" cy="92.5" r="3.47" fill="#9edae5"/><text x="52.92" y="55.83" font-size="13.89">node type</text><text x="88.24" y="76.78" font-size="13.89">grid</text><text x="88.24" y="97.72" font-size="13.89">mesh</text><g clip-path="url(#k1)"><g class="e"><g class="c"><path d="M1248 749.6q-10.1 56.3-.3 111"/><path d="M1250.5 735.9q10.1-56.3 .3-111"/><path d="M1242.4 741.5q-58-10.4-114.5-.3"/><path d="M1256.1 744q58 10.4 114.5 .3"/><path d="M1243.5 746.6q-70.8 47.2-119.1 115.4"/><path d="M1255.1 738.9q70.7-47.2 119-115.4"/><path d="M1245.3 737q-49.2-69.4-118.6-115.8"/><path d="M1253.2 748.4q49.2 69.5 118.6 115.9"/><path d="M1243.5 746.6q-70.8 47.2-119.1 115.4"/></g><g class="b"><path d="M1246.8 749.2q-21 57.6-20.7 117.4"/><path d="M1248.7 749.7q-4.1 60.5 12.7 117.3"/><path d="M1243.5 746.6q-52.1 35.1-87.7 84.9"/><path d="M1244.5 747.8q-34.1 37.4-52.7 82.8"/><path d="M1246.4 749.1q-17 39.5-19.7 80.9"/><path d="M1249 749.7q-.7 42.2 12.1 80.7"/><path d="M1251.4 749.3q15.6 45.9 44.8 82.6"/><path d="M1253 748.6q32.6 50.1 79.3 84.8"/><path d="M1242.7 745.2q-47.8 18.3-85.4 51"/><path d="M1243.5 746.6q-29.6 20.5-50 48.3"/><path d="M1245.6 748.7q-12.6 21.7-17.7 44.8"/><path d="M1249.7 749.7q2.1 23.7 10.8 44.3"/><path d="M1252.8 748.7q17.6 28 42.1 47.8"/><path d="M1254.3 747.6q34.7 32.6 77.1 50.9"/><path d="M1254.9 746.8q52.8 37.1 113.7 52.9"/><path d="M1242.3 742.6q-63.1-1-121 19.6"/><path d="M1242.3 743q-44.2 2.4-83.5 18.8"/><path d="M1242.4 744q-25.3 5-46.5 16.9"/><path d="M1243.6 746.8q-7.3 5.6-12.2 11.6"/><path d="M1252.2 749.1q3 5.7 6.1 9.6"/><path d="M1255.1 746.5q18.5 11.6 38.2 16.7"/><path d="M1255.6 745.6q36.7 16.1 75.1 19"/><path d="M1255.7 745.2q55.3 20.2 112.6 20"/><path d="M1242.6 740.7q-60-17.4-120.8-12.9"/><path d="M1242.7 740.5q-41.4-13.5-83.3-12.3"/><path d="M1242.9 740q-22.8-9.3-45.8-11"/><path d="M1244 738.3q-5.4-4.1-10-6.4"/></g><g class="bx"><path d="M1254.8 738.6Q1257.4 736.4 1258.6 735.1M1252.8 737.4L1258.6 735.1 1256.9 741.1Z"/></g><g class="b"><path d="M1256.2 742.1q20.3-2.4 37.6-10"/><path d="M1256.2 742.9q39.3 .5 75-11.6"/><path d="M1256.2 743.3q58.1 3.8 112.5-12.3"/><path d="M1243.8 738.5q-39.2-29.9-84.7-44.2"/><path d="M1244.8 737.4q-21.6-25.2-48.8-41.3"/><path d="M1247.5 736q-5.8-20.5-16.5-37.1"/><path d="M1252.3 736.5q8.2-18.1 10.6-36.2"/><path d="M1255 738.9q24.6-17.3 41.6-40.2"/><path d="M1255.8 740.5q42.9-15.3 76.9-43.2"/><path d="M1256.1 741.4q61.6-12.6 113.6-45"/><path d="M1245 737.2q-37-47.1-86.8-77.6"/><path d="M1246.4 736.4q-19.8-42.8-51.8-75.2"/><path d="M1248.7 735.8q-3.4-38.8-18.9-72.9"/><path d="M1251.6 736.2q12.5-36 12.4-72.5"/><path d="M1253.8 737.5q29.3-34 44.8-74.3"/><path d="M1255 738.9q47.1-31.9 79.3-76.8"/><path d="M1247.4 736q-17.2-60.9-53.7-110.7"/><path d="M1249.3 735.8q-.4-57.2-20-109.3"/><path d="M1251.3 736.1q16.4-54.1 13.2-109.1"/><path d="M1253.1 737q33.5-51.6 46.7-110.2"/></g><g class="c"><path d="M1377.6 749.6q-10 56.3-.2 111"/><path d="M1380.2 735.9q10.1-56.3 .3-111"/><path d="M1372.1 741.5q-58-10.4-114.5-.3"/><path d="M1385.8 744q58 10.4 114.5 .3"/><path d="M1373.1 746.6q-70.7 47.2-119 115.4"/><path d="M1384.7 738.9q70.8-47.2 119-115.4"/><path d="M1375 737q-49.2-69.4-118.6-115.8"/><path d="M1382.9 748.4q49.2 69.5 118.6 115.9"/><path d="M1382.9 748.4q49.2 69.5 118.6 115.9"/></g><g class="b"><path d="M1375.7 748.9q-28.6 56.4-35.6 117.8"/><path d="M1379.5 749.7q5.2 62.4 31.3 117.7"/><path d="M1373.6 747.2q-41.9 36.5-68 83.8"/><path d="M1375.1 748.6q-24.4 38.5-34.1 81.5"/><path d="M1377.5 749.5q-7.9 40.9-2 80.6"/><path d="M1380.1 749.6q8.2 44.1 30 81.5"/><path d="M1382.1 748.9q24.9 48.2 63.7 83.9"/><path d="M1383.2 748.2q42.4 52.5 99.2 86"/><path d="M1372.3 744.7q-56.2 17.2-101.7 51.9"/><path d="M1372.7 745.9q-37.6 19.6-65.4 49.6"/><path d="M1374.1 747.7q-19.9 21.3-31.5 46.3"/><path d="M1377.5 749.5q-4.3 22.6-1.8 43.9"/><path d="M1381.4 749.2q10.5 26 27.5 46.2"/><path d="M1383.5 748q26.9 30.6 61.2 49.7"/><path d="M1384.4 747.1q44.7 35.1 97.3 52.1"/><path d="M1372 742.8q-52.6 .9-100.2 19.2"/><path d="M1372 743.4q-33.7 4-62.8 18"/><path d="M1372.4 745.1q-15 5.9-26.6 14.7"/><path d="M1377.3 749.5q-.7 4.3-.7 7.2"/><path d="M1384.1 747.4q11 9.1 22.6 14.4"/><path d="M1385.1 745.9q28.6 14.2 58.6 18.2"/><path d="M1385.4 745.4q47 18.4 95.9 19.6"/><path d="M1385.5 745.1q65.6 22.4 133.4 20.4"/><path d="M1372.3 740.6q-49.6-15.2-99.9-12.6"/><path d="M1372.4 740.3q-31-11.2-62.4-11.8"/><path d="M1372.9 739.4q-12.8-6.7-25.4-9.4"/></g><g class="bx"><path d="M1378.6 735.8Q1378.6 735.5 1378.8 736.8M1376.9 742.7L1378.8 736.8 1382.4 741.8Z"/></g><g class="b"><path d="M1385.7 741.2q12-3.1 21.5-8.4"/><path d="M1385.9 742.7q30.8-1 58.3-11.1"/><path d="M1385.9 743.1q49.7 2.3 95.8-12"/><path d="M1373.2 738.8q-47.2-31.8-101-45"/><path d="M1373.9 737.9q-29.3-27.3-64.5-42.7"/><path d="M1375.7 736.6q-12.5-22.5-30.2-39.1"/><path d="M1379.8 735.9q2-18.8-1.2-35.7"/><path d="M1383.8 737.8q17-17.6 27.1-38.3"/><path d="M1385.3 739.9q34.6-16.3 60.8-42"/><path d="M1385.7 741.1q53.2-13.9 97.1-44.4"/><path d="M1374.3 737.6q-44.9-49.1-102.8-78.6"/><path d="M1375.4 736.8q-27.4-44.7-67.2-76.4"/><path d="M1377.3 736q-10.6-40.5-33.3-73.8"/><path d="M1380 735.9q5.4-37.1-1.4-72.4"/><path d="M1382.7 736.9q21.6-34.9 30.1-73.4"/><path d="M1384.3 738.3q39-32.8 63.7-75.7"/><path d="M1385.1 739.5q57.2-30.5 99.1-77.9"/><path d="M1378.1 735.8q-7.8-58.7-34.9-109.8"/><path d="M1380.1 735.9q8.9-55.4-1.6-109"/><path d="M1382.1 736.5q25.8-52.7 31.6-109.5"/></g><g class="c"><path d="M1507.3 749.6q-10 56.3-.3 111"/><path d="M1509.9 735.9q10-56.3 .3-111"/><path d="M1501.8 741.5q-58-10.4-114.5-.3"/><path d="M1515.4 744q58.1 10.4 114.5 .3"/><path d="M1502.8 746.6q-70.7 47.2-119 115.4"/><path d="M1514.4 738.9q70.8-47.2 119-115.4"/><path d="M1504.6 737q-49.1-69.4-118.6-115.8"/><path d="M1512.6 748.4q49.1 69.5 118.6 115.9"/><path d="M1507.3 749.6q-10 56.3-.3 111"/></g><g class="b"><path d="M1506.4 749.3q-19.2 57.9-17 117.3"/><path d="M1508.3 749.7q-2.2 60.9 16.4 117.4"/><path d="M1502.9 746.7q-50 35.4-83.7 84.7"/><path d="M1504 748q-32.1 37.6-48.9 82.5"/><path d="M1506 749.2q-15.1 39.8-16.1 80.7"/><path d="M1508.7 749.7q1 42.5 15.6 80.8"/><path d="M1511 749.3q17.4 46.3 48.5 82.7"/><path d="M1512.5 748.5q34.5 50.6 83.3 85.1"/><path d="M1502.1 745.3q-45.8 18.6-81.4 50.7"/><path d="M1503 746.8q-27.6 20.7-46.2 47.9"/><path d="M1505.4 748.9q-10.9 21.9-14.5 44.5"/><path d="M1509.5 749.6q3.8 24.2 14 44.7"/><path d="M1512.4 748.5q19.4 28.6 45.8 48.3"/><path d="M1513.7 747.5q36.7 33.1 81.1 51.2"/><path d="M1501.7 742.6q-61-.6-116.9 19.6"/><path d="M1501.7 743.1q-42.1 2.7-79.4 18.6"/><path d="M1501.8 744.1q-23.2 5.3-42.4 16.6"/><path d="M1503.4 747.3q-5.6 5.4-9.1 10.6"/><path d="M1512.2 748.7q4.4 6.4 8.9 10.8"/><path d="M1514.5 746.4q20.6 12.1 42.3 17"/><path d="M1515 745.6q38.7 16.5 79.2 19.1"/><path d="M1515.1 745.2q57.4 20.6 116.8 20.1"/><path d="M1502 740.7q-58-17-116.7-12.9"/><path d="M1502 740.5q-39.2-13-79-12.3"/><path d="M1502.3 739.9q-20.8-8.8-41.7-10.8"/><path d="M1503.7 737.8q-3.7-3.3-6.5-5.1"/><path d="M1514.7 739.4q4.2-2.7 6.7-4.9"/><path d="M1515.5 742.2q22.5-2.1 41.8-10.3"/><path d="M1515.6 743q41.3 .8 79.1-11.7"/><path d="M1515.5 743.3q60.3 4.2 116.7-12.4"/><path d="M1502.7 739.1q-55.4-33.8-117.5-45.7"/><path d="M1503.2 738.4q-37.2-29.4-80.6-43.9"/><path d="M1504.4 737.2q-19.8-24.6-45.1-40.9"/><path d="M1507.4 735.9q-4.2-20.1-13.4-36.7"/><path d="M1512.1 736.7q9.9-17.9 13.8-36.5"/><path d="M1514.5 739.1q26.6-17.1 45.4-40.6"/><path d="M1515.2 740.6q45-15 80.9-43.4"/><path d="M1515.4 741.5q63.7-12.2 117.8-45.2"/><path d="M1504.5 737.2q-35.1-46.7-82.8-77.5"/><path d="M1506 736.3q-17.9-42.3-48-74.9"/><path d="M1508.4 735.8q-1.7-38.5-15.4-72.8"/><path d="M1511.3 736.3q14.2-35.7 15.9-72.6"/><path d="M1513.4 737.7q31.1-33.8 48.5-74.7"/><path d="M1514.5 739q49-31.6 83.2-77"/><path d="M1507 736q-15.4-60.5-50-110.5"/><path d="M1508.9 735.8q1.4-56.8-16.3-109.2"/><path d="M1510.9 736.2q18.3-53.9 16.8-109.2"/><path d="M1512.6 737.1q35.5-51.4 50.5-110.3"/></g><g class="c"><path d="M1248 623.3q-10.1 56.3-.3 111.1"/><path d="M1250.5 609.7q10.1-56.3 .3-111.1"/><path d="M1242.4 615.2q-58-10.4-114.5-.3"/><path d="M1256.1 617.8q58 10.4 114.5 .3"/><path d="M1243.5 620.3q-70.8 47.3-119.1 115.5"/><path d="M1255.1 612.7q70.7-47.3 119-115.5"/><path d="M1245.3 610.8q-49.2-69.5-118.6-115.9"/><path d="M1253.2 622.2q49.2 69.4 118.6 115.9"/><path d="M1245.3 610.8q-49.2-69.5-118.6-115.9"/></g><g class="b"><path d="M1244.9 621.9q-36 45.1-53.7 98.5"/><path d="M1246.6 622.9q-18.8 47.6-20.2 97.1"/><path d="M1248.9 623.4q-2.3 50.4 12.4 97"/><path d="M1251 623.2q14.4 54 45.6 98.4"/><path d="M1252.5 622.6q31.5 58.1 80.2 100.4"/><path d="M1243.1 619.6q-49.7 25.8-86.5 65.9"/><path d="M1244 621q-31.6 27.9-51.4 63.4"/><path d="M1246.1 622.7q-14.7 29.5-18.8 60.7"/><path d="M1249.3 623.4q1 32 11.5 60.5"/><path d="M1252.1 622.8q16.8 35.9 43.4 63"/><path d="M1253.7 621.9q33.8 40.3 78.1 65.8"/><path d="M1242.3 617.1q-64.5 6.4-121.4 34.3"/><path d="M1242.4 617.8q-45.7 9.4-84.2 32.9"/><path d="M1242.8 619.1q-27.1 11.7-47.9 30.3"/><path d="M1244.8 621.8q-9.9 12.3-15.4 25.5"/><path d="M1250.6 623.3q3.2 13.6 9.1 24.5"/><path d="M1254 621.5q18.3 18.6 39.9 29.9"/><path d="M1255 620.4q35.9 23.3 75.9 32.9"/><path d="M1255.4 619.7q54.2 27.7 113 34.6"/><path d="M1242.4 615.4q-42.5-6.4-83.1 1.4"/><path d="M1242.4 615.5q-23.6-2.8-45.5 1.3"/><path d="M1242.3 616.1q-4.7 .1-7.8 .6"/></g><g class="bx"><path d="M1256 618.2Q1256.5 618.3 1255.4 618.1M1250.2 614.7L1255.4 618.1 1249.6 620.2Z"/></g><g class="b"><path d="M1256 618q19.2 3.6 37.1 1.6"/><path d="M1256.1 617.9q37.9 7.3 74.7 2"/><path d="M1256.1 617.9q56.8 11.1 112.4 2.1"/><path d="M1243 613.6q-58.6-26.7-121.2-31.2"/><path d="M1243.2 613q-40.1-22.4-83.9-29.8"/><path d="M1243.9 612q-22.1-17.8-47.3-27.3"/><path d="M1246.4 610.2q-6.1-12.7-14.4-22.1"/><path d="M1253 610.6q6-10.4 8.8-20.5"/><path d="M1255.6 613.7q22.6-10.3 39.8-26"/><path d="M1256.1 615.2q41.1-8.2 75.8-28.9"/><path d="M1256.2 616q60-5.3 113-30.4"/><path d="M1244.5 611.5q-38-39.4-85.9-62.6"/><path d="M1245.8 610.5q-20.7-34.9-50.6-59.9"/><path d="M1248.3 609.6q-4.6-30.7-18.1-56.9"/><path d="M1251.8 610.1q10.7-28 11.9-56.4"/><path d="M1254.3 611.7q27.2-26.4 43.5-58.8"/><path d="M1255.4 613.3q45.2-24.4 78.2-61.7"/><path d="M1245.6 610.6q-35.7-57-87.9-96.9"/><path d="M1247 609.9q-18.4-52.8-52.9-94.8"/><path d="M1249.1 609.6q-1.8-49.1-19.6-93.2"/><path d="M1251.4 609.9q14.7-46.1 12.9-92.8"/><path d="M1253.4 610.9q31.6-43.7 45.9-94.1"/><path d="M1254.6 612.1q49.4-41.4 80.5-96.1"/><path d="M1249.5 609.6q1.4-67.5-20.4-129.7"/></g><g class="c"><path d="M1377.6 623.3q-10 56.3-.2 111.1"/><path d="M1380.2 609.7q10.1-56.3 .3-111.1"/><path d="M1372.1 615.2q-58-10.4-114.5-.3"/><path d="M1385.8 617.8q58 10.4 114.5 .3"/><path d="M1373.1 620.3q-70.7 47.3-119 115.5"/><path d="M1384.7 612.7q70.8-47.3 119-115.5"/><path d="M1375 610.8q-49.2-69.5-118.6-115.9"/><path d="M1382.9 622.2q49.2 69.4 118.6 115.9"/><path d="M1384.7 612.7q70.8-47.3 119-115.5"/></g><g class="b"><path d="M1374 621.4q-43.9 44.1-69 99.3"/><path d="M1375.4 622.5q-26.3 46.4-34.9 97.6"/><path d="M1377.5 623.3q-9.5 49-2.1 96.8"/><path d="M1379.8 623.4q6.9 52.3 30.7 97.6"/><path d="M1381.6 622.9q23.8 56.2 64.7 99.5"/><path d="M1372.5 619.2q-57.9 24.5-102.5 66.7"/><path d="M1373.1 620.3q-39.5 27-66.6 64.6"/><path d="M1374.6 622q-22 28.8-32.8 61.7"/><path d="M1377.5 623.3q-5.9 30.7-1.9 60.1"/><path d="M1380.7 623.2q9.6 34 28.9 61.7"/><path d="M1382.8 622.3q26.1 38.3 62.4 64.6"/><path d="M1383.8 621.4q43.8 42.8 98.2 67"/><path d="M1372.1 617.5q-54.1 8.1-100.8 33.5"/><path d="M1372.3 618.4q-35.4 10.8-64 31.7"/><path d="M1373.2 620.4q-17.2 12.3-29 27.9"/><path d="M1377.4 623.3q-2.3 12.4-1.4 23.4"/><path d="M1382.7 622.3q11 16.3 25.1 27.7"/><path d="M1384.4 620.8q27.9 21.3 59.6 31.8"/><path d="M1385 620q45.9 25.7 96.4 33.9"/><path d="M1372.1 615.3q-50.9-8-99.9 1.5"/><path d="M1372.1 615.4q-32-4.4-62.2 1.4"/><path d="M1372 615.7q-13.1-1-24.5 1.1"/></g><g class="bx"><path d="M1378.9 616.5Q1377.7 617.3 1377.7 617.3M1383.2 614.2L1377.7 617.3 1378.6 611.1Z"/></g><g class="b"><path d="M1385.7 618q10.9 2 20.3 1.3"/><path d="M1385.7 617.9q29.7 5.7 58 1.9"/><path d="M1385.7 617.9q48.5 9.4 95.7 2"/><path d="M1372.8 613.3q-48.3-24.4-100.5-30.5"/><path d="M1373.2 612.6q-30-20-63.4-28.7"/><path d="M1374.6 611.1q-12.9-15-28.2-24.8"/><path d="M1379.6 609.6q.7-10.6-1-19.4"/><path d="M1384.7 612.6q14.6-10.7 24.8-23.9"/><path d="M1385.6 614.7q32.9-9.3 59.6-27.9"/><path d="M1385.8 615.7q51.6-6.7 96.5-29.8"/><path d="M1373.8 611.8q-45.9-41.3-102-63.5"/><path d="M1374.8 610.9q-28.3-36.8-66.1-61.1"/><path d="M1376.7 609.9q-11.6-32.4-32.1-58.1"/><path d="M1380 609.6q3.8-28.9-1.4-56.1"/><path d="M1383.1 610.9q19.6-27 29-57.5"/><path d="M1384.7 612.6q37.1-25.3 62.5-60.4"/><path d="M1385.4 613.9q55.4-23 98.2-62.8"/><path d="M1376 610.2q-26-54.6-68.3-95.7"/><path d="M1377.8 609.6q-9.2-50.6-34.3-93.7"/><path d="M1380.1 609.6q7.3-47.2-1.6-92.7"/><path d="M1382.3 610.4q24-44.7 31.1-93.4"/><path d="M1383.8 611.6q41.5-42.5 64.9-95.2"/></g><g class="c"><path d="M1507.3 623.3q-10 56.3-.3 111.1"/><path d="M1509.9 609.7q10-56.3 .3-111.1"/><path d="M1501.8 615.2q-58-10.4-114.5-.3"/><path d="M1515.4 617.8q58.1 10.4 114.5 .3"/><path d="M1502.8 620.3q-70.7 47.3-119 115.5"/><path d="M1514.4 612.7q70.8-47.3 119-115.5"/><path d="M1504.6 610.8q-49.1-69.5-118.6-115.9"/><path d="M1512.6 622.2q49.1 69.4 118.6 115.9"/><path d="M1509.9 609.7q10-56.3 .3-111.1"/></g><g class="b"><path d="M1504.4 622q-34.1 45.4-49.9 98.3"/><path d="M1506.2 623q-16.9 47.8-16.6 97"/><path d="M1508.5 623.4q-.4 50.8 16 97.1"/><path d="M1510.5 623.2q16.3 54.4 49.4 98.5"/><path d="M1512 622.6q33.5 58.5 84.2 100.5"/><path d="M1502.5 619.8q-47.7 26-82.5 65.6"/><path d="M1503.5 621.2q-29.6 28.1-47.6 63"/><path d="M1505.7 622.8q-12.8 29.8-15.3 60.6"/><path d="M1509.1 623.4q2.6 32.3 14.9 60.7"/><path d="M1511.7 622.7q18.6 36.4 47.1 63.4"/><path d="M1513.1 621.8q35.8 40.8 82.1 66"/><path d="M1501.7 617.2q-62.5 6.7-117.3 34.1"/><path d="M1501.8 617.9q-43.6 9.7-80.2 32.7"/><path d="M1502.3 619.3q-25.1 11.9-44.1 29.9"/><path d="M1504.6 622.2q-8.2 12.3-12.4 24.8"/><path d="M1510.6 623.2q4.6 14 11.9 25"/><path d="M1513.6 621.4q20.1 19.1 43.7 30.3"/><path d="M1514.4 620.3q37.9 23.8 80 33.1"/><path d="M1514.8 619.7q56.2 28.1 117.1 34.6"/><path d="M1501.8 615.3q-59.3-9.7-116.6 1.5"/><path d="M1501.8 615.4q-40.4-6-79 1.4"/><path d="M1501.7 615.5q-21.5-2.4-41.2 1.3"/></g><g class="bx"><path d="M1501.7 616.4Q1499.1 616.5 1498.1 616.7M1504 618.5L1498.1 616.7 1503.1 613Z"/><path d="M1515.4 618.1Q1517.9 618.5 1518.9 618.6M1513.5 615.5L1518.9 618.6 1513.2 621.1Z"/></g><g class="b"><path d="M1515.4 617.9q21.3 4.1 41.3 1.8"/><path d="M1515.4 617.9q40.1 7.8 78.9 2"/><path d="M1515.4 617.9q58.9 11.5 116.6 2.1"/><path d="M1502.3 613.5q-56.4-26.2-117-31"/><path d="M1502.6 612.9q-38-21.9-79.7-29.6"/><path d="M1503.4 611.9q-20.2-17.3-43.4-26.9"/><path d="M1506.3 609.9q-4.6-12.1-11.3-21.3"/><path d="M1512.9 611q7.6-10.5 11.7-21.1"/><path d="M1515.1 614q24.6-10.2 43.6-26.5"/><path d="M1515.5 615.3q43.2-7.9 79.9-29.1"/><path d="M1515.5 616q62.1-4.9 117.2-30.5"/><path d="M1503.9 611.4q-36-38.9-81.8-62.4"/><path d="M1505.4 610.4q-18.9-34.4-46.9-59.6"/><path d="M1508.1 609.6q-3-30.3-14.7-56.7"/><path d="M1511.6 610.2q12.4-27.8 15.1-56.5"/><path d="M1513.8 611.9q29.2-26.2 47.3-59.2"/><path d="M1514.8 613.4q47.2-24.1 82.2-61.9"/><path d="M1505.1 610.5q-33.7-56.5-83.9-96.7"/><path d="M1506.6 609.9q-16.6-52.4-49.2-94.6"/><path d="M1508.7 609.6q0-48.7-16-93.1"/><path d="M1511 610q16.6-45.8 16.5-92.9"/><path d="M1512.9 611.1q33.6-43.5 49.7-94.4"/><path d="M1514.1 612.2q51.4-41.1 84.3-96.3"/></g><g class="c"><path d="M1248 497.1q-10.1 56.3-.3 111"/><path d="M1250.5 483.4q10.1-56.3 .3-111"/><path d="M1242.4 489q-58-10.4-114.5-.3"/><path d="M1256.1 491.5q58 10.4 114.5 .3"/><path d="M1243.5 494.1q-70.8 47.2-119.1 115.4"/><path d="M1255.1 486.4q70.7-47.2 119-115.4"/><path d="M1245.3 484.6q-49.2-69.5-118.6-115.9"/><path d="M1253.2 495.9q49.2 69.5 118.6 115.9"/><path d="M1242.4 489q-58-10.4-114.5-.3"/></g><g class="b"><path d="M1246.8 496.7q-20.6 55.6-20.6 113.3"/><path d="M1248.7 497.2q-3.7 58.5 12.7 113.2"/><path d="M1250.6 497.1q13.2 62 46.3 114.3"/><path d="M1243.4 494q-51.6 33.2-87.4 81"/><path d="M1244.4 495.2q-33.6 35.5-52.5 78.9"/><path d="M1246.4 496.6q-16.6 37.5-19.6 76.8"/><path d="M1249.1 497.2q-.4 40.1 12 76.7"/><path d="M1251.5 496.8q15.8 43.9 44.6 78.6"/><path d="M1253.1 496q32.9 48.2 79.1 81"/><path d="M1242.7 492.5q-47.5 16.5-85.2 47.3"/><path d="M1243.4 493.9q-29.1 18.7-49.6 44.6"/><path d="M1245.5 496.1q-12.1 19.8-17.4 40.8"/><path d="M1249.9 497.2q2.3 21.7 10.5 40.3"/><path d="M1253.1 496.1q17.7 26 41.6 44.1"/><path d="M1254.4 494.9q35 30.7 76.9 47.3"/><path d="M1255 494.1q53.1 35.2 113.5 49.3"/><path d="M1242.3 489.9q-62.7-2.8-120.9 16"/><path d="M1242.3 490.3q-43.8 .5-83.4 15.2"/><path d="M1242.4 491.1q-25 3.4-46.2 13.7"/><path d="M1243.2 493.7q-6.6 4.2-11.1 8.7"/><path d="M1252.8 496.2q2.7 4.1 5 6.5"/><path d="M1255.3 493.6q18.7 9.9 37.9 13.6"/><path d="M1255.7 492.9q36.9 14.3 75 15.5"/><path d="M1255.8 492.5q55.6 18.4 112.6 16.4"/><path d="M1242.7 488.1q-59.8-19.3-120.9-16.6"/><path d="M1242.8 487.7q-41.1-15.2-83.4-15.8"/><path d="M1243.1 487.1q-22.7-10.9-46.1-14.2"/><path d="M1244.5 485.2q-5.6-5.6-10.9-9"/><path d="M1254.3 485.5q3.3-3.6 5.2-6.3"/><path d="M1256.1 489.1q20.7-3.9 38-13.1"/><path d="M1256.2 490.1q39.6-1.3 75.1-15"/><path d="M1256.2 490.6q58.5 2 112.6-15.9"/><path d="M1243.9 485.8q-38.9-31.7-84.9-47.8"/><path d="M1245 484.7q-21.4-27.1-49.2-44.9"/><path d="M1247.7 483.5q-5.6-22.6-16.9-41.1"/><path d="M1252.2 484q8.7-20.1 10.9-40.3"/><path d="M1254.9 486.2q25.1-19.1 42-43.8"/><path d="M1255.7 487.8q43.4-17.1 77.2-46.9"/><path d="M1256 488.7q62-14.4 113.8-48.7"/><path d="M1245.1 484.7q-36.7-49.1-87-81.5"/><path d="M1246.6 483.9q-19.6-44.8-52.1-79.2"/><path d="M1248.8 483.3q-3.1-40.9-19-76.9"/><path d="M1251.6 483.7q12.9-38 12.5-76.6"/><path d="M1253.7 485q29.8-36 45-78.4"/><path d="M1255 486.3q47.5-33.8 79.5-80.6"/><path d="M1249.3 483.3q0-59.3-20-113.4"/><path d="M1251.3 483.6q16.8-56.2 13.2-113.2"/><path d="M1253 484.4q34-53.6 46.8-114.1"/></g><g class="c"><path d="M1377.6 497.1q-10 56.3-.2 111"/><path d="M1380.2 483.4q10.1-56.3 .3-111"/><path d="M1372.1 489q-58-10.4-114.5-.3"/><path d="M1385.8 491.5q58 10.4 114.5 .3"/><path d="M1373.1 494.1q-70.7 47.2-119 115.4"/><path d="M1384.7 486.4q70.8-47.2 119-115.4"/><path d="M1375 484.6q-49.2-69.5-118.6-115.9"/><path d="M1382.9 495.9q49.2 69.5 118.6 115.9"/><path d="M1385.8 491.5q58 10.4 114.5 .3"/></g><g class="b"><path d="M1375.7 496.4q-28.2 54.4-35.5 113.7"/><path d="M1379.5 497.2q5.6 60.4 31.2 113.7"/><path d="M1373.5 494.6q-41.4 34.6-67.8 79.9"/><path d="M1375.1 496q-24 36.6-34 77.6"/><path d="M1377.5 497q-7.5 38.9-2 76.5"/><path d="M1380.2 497.1q8.5 42.1 29.8 77.5"/><path d="M1382.2 496.4q25.2 46.2 63.5 79.9"/><path d="M1383.4 495.6q42.6 50.6 98.9 82.2"/><path d="M1372.2 492q-55.7 15.4-101.4 48.2"/><path d="M1372.6 493.2q-37.1 17.8-65.1 45.9"/><path d="M1373.9 495.1q-19.3 19.4-31 42.5"/><path d="M1377.5 497q-3.9 20.6-1.8 39.8"/><path d="M1381.6 496.7q10.6 23.9 27.1 42.3"/><path d="M1383.6 495.4q27.2 28.7 60.9 46"/><path d="M1384.5 494.4q44.9 33.3 97.1 48.5"/><path d="M1372 490.1q-52.2-.9-100.1 15.6"/><path d="M1372 490.6q-33.3 2.3-62.7 14.6"/><path d="M1372.2 492.1q-14.5 4.4-26 11.7"/></g><g class="bx"><path d="M1377.3 497Q1376.9 499.3 1376.9 500.1M1380 494.7L1376.9 500.1 1374.4 494.4Z"/></g><g class="b"><path d="M1384.5 494.4q10.9 7.6 21.9 11.5"/><path d="M1385.3 493.1q28.7 12.4 58.4 14.9"/><path d="M1385.5 492.6q47.2 16.6 95.8 16.1"/><path d="M1372.4 487.9q-49.4-17-100-16.2"/><path d="M1372.6 487.5q-30.8-12.9-62.6-15.1"/><path d="M1373.2 486.3q-12.8-8.1-25.8-12.1"/></g><g class="bx"><path d="M1379 483.3Q1378.9 481 1378.7 480.2M1376.9 486.1L1378.7 480.2 1382.4 485.2Z"/></g><g class="b"><path d="M1385.5 488.1q12.5-4.5 22.1-11.1"/><path d="M1385.9 489.8q31.2-2.6 58.5-14.4"/><path d="M1385.9 490.4q50.1 .5 95.9-15.6"/><path d="M1385.9 490.7q69 3.9 133.4-16.2"/><path d="M1373.3 486.1q-46.9-33.7-101.2-48.6"/><path d="M1374.1 485.3q-29.1-29.2-64.9-46.4"/><path d="M1375.9 484q-12.3-24.5-30.6-42.8"/><path d="M1379.9 483.4q2.3-20.8-1.3-39.8"/><path d="M1383.7 485.2q17.5-19.5 27.5-42.1"/><path d="M1385.2 487.2q35.1-18.1 61.2-45.7"/><path d="M1385.6 488.4q53.7-15.7 97.4-48"/><path d="M1374.4 485q-44.6-51.1-103-82.4"/><path d="M1375.5 484.2q-27.1-46.7-67.4-80.2"/><path d="M1377.4 483.5q-10.3-42.5-33.5-77.8"/><path d="M1380 483.4q5.8-39.1-1.4-76.5"/><path d="M1382.6 484.3q22.1-36.8 30.3-77.3"/><path d="M1384.2 485.7q39.5-34.7 63.9-79.6"/><path d="M1385 486.9q57.7-32.4 99.4-81.7"/><path d="M1378.2 483.3q-7.5-60.8-35-113.8"/><path d="M1380.1 483.4q9.3-57.5-1.6-113.1"/><path d="M1382 484q26.3-54.7 31.8-113.6"/></g><g class="c"><path d="M1507.3 497.1q-10 56.3-.3 111"/><path d="M1509.9 483.4q10-56.3 .3-111"/><path d="M1501.8 489q-58-10.4-114.5-.3"/><path d="M1515.4 491.5q58.1 10.4 114.5 .3"/><path d="M1502.8 494.1q-70.7 47.2-119 115.4"/><path d="M1514.4 486.4q70.8-47.2 119-115.4"/><path d="M1504.6 484.6q-49.1-69.5-118.6-115.9"/><path d="M1512.6 495.9q49.1 69.5 118.6 115.9"/><path d="M1508.6 413.9C1547.8 413.9 1547.8 490.3 1508.6 490.3 1469.4 490.3 1469.4 413.9 1507.1 413.9"/></g><g class="b"><path d="M1504.7 496q-36 53.3-50.6 114.3"/><path d="M1506.3 496.8q-18.6 55.9-16.9 113.2"/><path d="M1508.3 497.2q-1.8 58.9 16.4 113.3"/><path d="M1510.2 497q15 62.5 50.1 114.5"/><path d="M1502.8 494.1q-49.5 33.5-83.4 80.8"/><path d="M1503.9 495.4q-31.6 35.7-48.7 78.6"/><path d="M1506 496.7q-14.7 37.7-16 76.7"/><path d="M1508.7 497.2q1.4 40.5 15.6 76.8"/><path d="M1511.1 496.7q17.7 44.3 48.3 78.9"/><path d="M1512.6 495.9q34.8 48.7 83.1 81.3"/><path d="M1501.8 491.7q-64.1 14.1-117.9 48.9"/><path d="M1502.1 492.6q-45.4 16.8-81.2 47.1"/><path d="M1502.8 494.1q-27.1 18.9-45.7 44.2"/><path d="M1505.3 496.3q-10.5 20-14.2 40.5"/><path d="M1509.7 497.1q4 22.1 13.7 40.7"/><path d="M1512.6 495.9q19.6 26.6 45.4 44.6"/><path d="M1513.9 494.8q36.9 31.2 80.8 47.6"/><path d="M1514.4 494.1q55.1 35.6 117.7 49.4"/><path d="M1501.7 489.9q-60.6-2.4-116.8 16"/><path d="M1501.7 490.3q-41.7 .9-79.3 15.2"/><path d="M1501.7 491.2q-22.8 3.7-42 13.4"/><path d="M1503 494.3q-4.9 4-8 7.6"/><path d="M1512.8 495.8q4.1 4.8 7.8 7.7"/><path d="M1514.7 493.5q20.7 10.4 42 13.9"/><path d="M1515.1 492.8q39 14.8 79.1 15.7"/><path d="M1515.2 492.5q57.6 18.8 116.7 16.5"/><path d="M1502 488q-57.6-18.8-116.7-16.5"/><path d="M1502.2 487.7q-39.1-14.8-79.2-15.7"/><path d="M1502.5 487q-20.7-10.4-42-13.9"/><path d="M1504.4 484.7q-4.1-4.8-7.8-7.7"/><path d="M1514.2 486.2q4.9-4 8-7.6"/><path d="M1515.5 489.3q22.8-3.7 42.1-13.4"/><path d="M1515.6 490.2q41.7-.9 79.2-15.2"/><path d="M1515.5 490.6q60.7 2.4 116.8-16"/><path d="M1502.8 486.4q-55.1-35.6-117.6-49.4"/><path d="M1503.4 485.7q-37-31.2-80.9-47.5"/><path d="M1504.6 484.6q-19.6-26.6-45.4-44.6"/><path d="M1507.5 483.4q-3.9-22.1-13.6-40.7"/><path d="M1512 484.2q10.4-19.9 14.1-40.5"/><path d="M1514.4 486.4q27.1-18.9 45.7-44.2"/><path d="M1515.1 487.9q45.4-16.8 81.2-47.1"/><path d="M1515.4 488.8q64.1-14.1 117.9-48.9"/><path d="M1504.6 484.6q-34.8-48.7-83-81.3"/><path d="M1506.1 483.8q-17.6-44.3-48.3-78.9"/><path d="M1508.5 483.3q-1.4-40.5-15.5-76.8"/><path d="M1511.2 483.8q14.7-37.7 16-76.7"/><path d="M1513.3 485.1q31.6-35.7 48.7-78.6"/><path d="M1514.4 486.4q49.5-33.5 83.4-80.8"/><path d="M1507.1 483.5q-15.1-62.5-50.2-114.5"/><path d="M1508.9 483.3q1.8-58.9-16.4-113.3"/><path d="M1510.9 483.7q18.7-55.9 16.9-113.2"/><path d="M1512.5 484.5q36-53.3 50.7-114.3"/></g><g class="c"><path d="M1507.3 497.1q-35.2 182.5-.3 363.6"/><path d="M1509.9 483.4q35.2-182.5 .3-363.6"/><path d="M1501.8 488.9q-187.7-36.2-373.9-.3"/><path d="M1515.4 491.6q187.7 36.2 373.9 .3"/><path d="M1502.8 494q-225.6 147.7-378.4 368"/><path d="M1514.4 486.5q225.7-147.7 378.4-368"/><path d="M1504.7 484.5q-153.7-221.6-378-368.4"/><path d="M1512.6 496q153.6 221.6 377.9 368.4"/><path d="M1502.8 494.1q-70.7 47.2-119 115.4"/><path d="M1507.3 497.1q-10 56.3-.3 111"/><path d="M1512.6 495.9q49.1 69.5 118.6 115.9"/><path d="M1501.8 489q-58-10.4-114.5-.3"/><path d="M1508.6 413.9C1547.8 413.9 1547.8 490.3 1508.6 490.3 1469.4 490.3 1469.4 413.9 1507.1 413.9"/><path d="M1515.4 491.5q58.1 10.4 114.5 .3"/><path d="M1504.6 484.6q-49.1-69.5-118.6-115.9"/><path d="M1509.9 483.4q10-56.3 .3-111"/><path d="M1514.4 486.4q70.8-47.2 119-115.4"/><path d="M1250.5 862.2q10.1-56.3 .3-111.1"/><path d="M1255.1 865.2q70.7-47.3 119-115.5"/></g><g class="b"><path d="M1249 862.1q-2.1-47.1-19.4-89.1"/><path d="M1251.5 862.4q14.2-44 12.8-88.8"/><path d="M1253.5 863.5q31.1-41.8 45.7-90.2"/><path d="M1254.7 864.7q48.9-39.5 80.2-92.2"/><path d="M1249.4 862q1.1-65.4-20.2-125.5"/><path d="M1251.3 862.3q18-62.2 13.3-125.3"/></g><g class="c"><path d="M1380.2 862.2q10.1-56.3 .3-111.1"/><path d="M1384.7 865.2q70.8-47.3 119-115.5"/><path d="M1375 863.3q-49.2-69.5-118.6-115.9"/></g><g class="b"><path d="M1375.9 862.7q-26.3-52.6-68.1-91.8"/><path d="M1377.7 862.2q-9.4-48.6-34.1-89.8"/><path d="M1380.1 862.1q6.9-45.2-1.5-88.6"/><path d="M1382.4 863q23.5-42.8 30.8-89.4"/><path d="M1383.9 864.2q41-40.6 64.7-91.3"/><path d="M1381.9 862.7q27.6-60.7 32.1-125.7"/></g><g class="c"><path d="M1634.3 863.3q-49.1-69.5-118.6-115.9"/><path d="M1126.4 744q58 10.4 114.5 .3"/><path d="M1125.4 738.9q70.7-47.2 119-115.4"/></g><g class="b"><path d="M1126 745.4q44.9 18 91.8 19.5"/><path d="M1126.1 745.1q63.6 22 129.3 20.3"/><path d="M1126.5 743.1q47.7 1.9 91.7-12"/><path d="M1126.3 741q51.1-14.2 93.1-44.2"/><path d="M1125.7 739.4q55.1-30.8 95.1-77.7"/></g><g class="c"><path d="M1126.4 617.8q58 10.4 114.5 .3"/><path d="M1125.4 612.7q70.7-47.3 119-115.5"/><path d="M1123.5 622.2q49.2 69.4 118.7 115.9"/></g><g class="b"><path d="M1124.4 621.5q41.7 42.3 94.1 66.8"/><path d="M1125.6 620q43.9 25.3 92.3 33.8"/><path d="M1126.4 617.9q46.3 9 91.5 2"/><path d="M1126.5 615.6q49.5-7 92.3-29.7"/><path d="M1126.5 616.2q68.4-3.8 129.6-30.8"/><path d="M1126 613.8q53.3-23.3 94.2-62.6"/></g><g class="c"><path d="M1631.5 615.2q-58.1-10.4-114.5-.3"/><path d="M1632.5 620.3q-70.8 47.3-119 115.5"/><path d="M1634.3 610.8q-49.1-69.5-118.6-115.9"/><path d="M1634.3 610.8q-49.1-69.5-118.6-115.9"/><path d="M1631.5 489q-58.1-10.4-114.5-.3"/><path d="M1632.5 494.1q-70.8 47.2-119 115.4"/><path d="M1631.5 489q-58.1-10.4-114.5-.3"/></g><g class="b"><path d="M1631.4 489.8q-69-3.9-133.5 16.2"/></g><g class="c"><path d="M1123.5 369.7q49.2 69.5 118.7 115.9"/><path d="M1377.6 370.8q-10 56.3-.2 111.1"/><path d="M1373.1 367.8q-70.7 47.3-119 115.5"/><path d="M1382.9 369.7q49.2 69.5 118.6 115.9"/><path d="M1382.9 369.7q49.2 69.5 118.6 115.9"/><path d="M1507.3 370.8q-10 56.3-.3 111.1"/><path d="M1502.8 367.8q-70.7 47.3-119 115.5"/><path d="M1507.3 370.8q-10 56.3-.3 111.1"/></g><g class="a"><path d="M1194.4 797.9q29.6-20.5 49.9-48.2"/><path d="M1229.9 795.9q12.6-21.8 17.7-44.8"/><path d="M1263.4 794.9q-2.1-23.8-10.7-44.4"/><path d="M1298 795.9q-17.6-28-42.1-47.9"/><path d="M1344 796.8q19.9-21.2 31.5-46.3"/><path d="M1378.3 795q4.3-22.6 1.8-43.8"/><path d="M1412 795.3q-10.4-26-27.5-46.1"/><path d="M1457.8 797.7q27.6-20.6 46.1-47.9"/><path d="M1493 795.7q10.9-21.9 14.5-44.5"/><path d="M1526.5 794.9q-3.7-24.1-14-44.6"/><path d="M1561.3 796q-19.5-28.5-45.8-48.3"/><path d="M1195.4 763.9q25.3-5 46.5-16.9"/><path d="M1231.9 761.1q7.3-5.6 12.2-11.6"/><path d="M1261 758.8q-3-5.8-6.2-9.7"/><path d="M1295.7 761.3q-18.5-11.5-38.2-16.6"/><path d="M1308.5 764.4q33.6-3.9 62.8-17.9"/><path d="M1332.9 762.3q-36.7-16.1-75.2-19"/><path d="M1345.7 762.8q15-5.9 26.6-14.7"/><path d="M1378.4 758.4q.8-4.3 .8-7.2"/><path d="M1409.3 760.5q-11-9.1-22.5-14.4"/><path d="M1446 762q-28.6-14.2-58.6-18.2"/><path d="M1458.9 763.8q23.3-5.3 42.5-16.6"/><path d="M1495 760.6q5.6-5.4 9.1-10.6"/><path d="M1523.8 759.2q-4.3-6.5-8.8-10.8"/><path d="M1559.2 761.5q-20.6-12.1-42.3-17"/><path d="M1195 731.2q22.8 9.3 45.8 11"/><path d="M1231.5 733q5.4 4 10 6.3"/></g><g class="ax"><path d="M1258.3 732.6Q1255.8 734.8 1254.6 736.1M1260.4 733.9L1254.6 736.1 1256.2 730.1Z"/></g><g class="a"><path d="M1294.6 729.1q-20.3 2.4-37.6 10.1"/><path d="M1308 731q31 11.1 62.4 11.7"/><path d="M1332.3 728.3q-39.3-.4-75 11.6"/><path d="M1345.3 731.9q12.7 6.6 25.3 9.3"/></g><g class="ax"><path d="M1377.1 735.4Q1377.2 735.7 1377 734.5M1378.9 728.6L1377 734.5 1373.4 729.4Z"/></g><g class="a"><path d="M1407.7 730q-12 3.1-21.5 8.4"/><path d="M1445.2 728.6q-30.9 .9-58.3 11.1"/><path d="M1458.5 731.3q20.7 8.8 41.6 10.8"/><path d="M1494.7 733.4q3.7 3.3 6.5 5.1"/><path d="M1521.4 731.9q-4.2 2.6-6.7 4.9"/><path d="M1558.2 729q-22.5 2.1-41.8 10.3"/><path d="M1193 697.2q21.6 25.2 48.9 41.3"/><path d="M1228 698.6q5.8 20.5 16.5 37.1"/><path d="M1229.4 685.7q14.7-29.6 18.8-60.8"/><path d="M1260.9 698.1q-8.3 18.1-10.7 36.2"/><path d="M1263.8 684.9q-.9-32-11.5-60.5"/><path d="M1295.8 695.7q-24.6 17.3-41.6 40.1"/><path d="M1306.6 696.6q29.2 27.4 64.5 42.8"/><path d="M1298.7 685.5q-16.8-35.8-43.4-63"/><path d="M1342.4 698q12.5 22.5 30.2 39.1"/><path d="M1343.5 686.4q22-28.8 32.9-61.8"/><path d="M1375.9 698.7q-1.9 18.8 1.3 35.7"/><path d="M1378.3 685q5.9-30.7 1.9-60.1"/><path d="M1409.6 696.7q-17 17.7-27.1 38.3"/><path d="M1412.7 685.1q-9.6-34-28.8-61.7"/><path d="M1445.8 694.7q-34.6 16.3-60.9 42"/><path d="M1456.4 697.3q19.7 24.7 45 41"/><path d="M1491 698.7q4.2 20.1 13.4 36.7"/><path d="M1492.7 685.5q12.8-29.7 15.3-60.5"/><path d="M1523.9 697.8q-9.8 18-13.7 36.6"/><path d="M1527 684.9q-2.7-32.3-14.9-60.6"/><path d="M1559.2 695.5q-26.6 17.1-45.4 40.5"/><path d="M1195 652.6q27.1-11.7 48-30.4"/><path d="M1226.8 662.1q3.4 38.8 18.9 72.9"/><path d="M1230.7 649.9q9.9-12.4 15.5-25.5"/><path d="M1261.5 661.7q-12.4 36-12.4 72.5"/><path d="M1262.5 648.4q-3.1-13.6-9-24.5"/><path d="M1296.8 650.1q-18.3-18.5-39.9-29.8"/><path d="M1308.2 653.3q35.3-10.8 63.9-31.7"/><path d="M1344.9 651.3q17.2-12.3 29-27.9"/><path d="M1375.7 662q-5.3 37.1 1.5 72.4"/><path d="M1378.3 648.4q2.3-12.4 1.5-23.4"/><path d="M1410.7 649.3q-11-16.2-25.1-27.6"/><path d="M1446.7 650.9q-27.9-21.3-59.7-31.8"/><path d="M1458.5 652.3q25-11.8 44-29.9"/><path d="M1490 662.1q1.7 38.5 15.4 72.8"/><path d="M1493.8 649.5q8.2-12.3 12.4-24.9"/><path d="M1524.8 661.6q-14.3 35.7-15.9 72.7"/><path d="M1525.5 648.5q-4.6-14-12-25.1"/><path d="M1560.1 650.3q-20.1-19.1-43.8-30.3"/><path d="M1195.5 619.5q23.6 2.9 45.4-1.3"/><path d="M1233.2 618.9q4.7 0 7.8-.6"/></g><g class="ax"><path d="M1257.2 616.9Q1256.7 616.8 1257.7 616.9M1262.9 620.4L1257.7 616.9 1263.6 614.9Z"/></g><g class="a"><path d="M1294.8 617.1q-19.2-3.6-37.1-1.7"/><path d="M1308.4 619.6q32 4.4 62.2-1.4"/><path d="M1332.4 617.1q-38-7.3-74.8-1.9"/><path d="M1346.1 619.3q13.1 1.1 24.5-1"/></g><g class="ax"><path d="M1376.8 618.5Q1378.1 617.7 1378.1 617.8M1372.6 620.8L1378.1 617.8 1377.2 623.9Z"/></g><g class="a"><path d="M1407.7 617q-10.8-1.9-20.3-1.3"/><path d="M1445.3 617.1q-29.6-5.7-58-1.9"/><path d="M1459 619.5q21.5 2.5 41.3-1.3"/></g><g class="ax"><path d="M1496.7 618.7Q1499.3 618.5 1500.3 618.4M1494.4 616.5L1500.3 618.4 1495.3 622Z"/><path d="M1520.7 616.9Q1518.1 616.5 1517.1 616.5M1522.5 619.5L1517.1 616.5 1522.8 614Z"/></g><g class="a"><path d="M1558.3 617.1q-21.3-4-41.3-1.7"/><path d="M1193.9 586.3q22.2 17.9 47.4 27.3"/><path d="M1229.1 588.2q6.1 12.7 14.4 22.1"/><path d="M1260.2 587.8q-6.1 10.4-8.9 20.5"/><path d="M1295.2 584.6q-22.6 10.4-39.8 26.1"/><path d="M1307.3 585.8q30 20 63.4 28.7"/><path d="M1343.6 587.3q12.8 15 28.1 24.8"/><path d="M1376.2 588.8q-.7 10.5 .9 19.4"/><path d="M1408.8 585.8q-14.7 10.7-24.8 23.8"/><path d="M1445.4 583.7q-32.8 9.3-59.6 27.9"/><path d="M1457.3 586.5q20.3 17.3 43.4 26.9"/><path d="M1492.1 588.4q4.6 12.1 11.3 21.4"/><path d="M1523.2 587.4q-7.6 10.4-11.8 21.1"/><path d="M1558.6 584.4q-24.6 10.2-43.6 26.5"/><path d="M1194.5 541.6q29.1-18.7 49.6-44.6"/><path d="M1227.2 552.1q4.6 30.7 18.1 56.9"/><path d="M1230 539.4q12.1-19.8 17.4-40.9"/><path d="M1261.3 551.7q-10.6 27.9-11.8 56.3"/><path d="M1263.3 538.3q-2.4-21.7-10.5-40.3"/><path d="M1296.5 550q-27.2 26.4-43.5 58.9"/><path d="M1297.7 539.4q-17.7-26-41.6-44.1"/><path d="M1341.4 551.8q11.6 32.4 32.1 58.1"/><path d="M1344.2 540.4q19.4-19.4 31-42.5"/><path d="M1375.8 552.1q-3.8 28.9 1.4 56.1"/><path d="M1378.3 538.4q3.9-20.5 1.7-39.7"/><path d="M1410.3 550.8q-19.6 27.1-29 57.5"/><path d="M1411.8 538.8q-10.6-24-27.1-42.3"/><path d="M1455.4 551.4q18.8 34.3 46.8 59.5"/><path d="M1447.4 540.1q-27.1-28.7-60.9-46"/><path d="M1457.9 541.4q27.1-18.9 45.8-44.2"/><path d="M1490.3 552.2q3 30.2 14.7 56.6"/><path d="M1493.1 539.1q10.5-19.9 14.2-40.5"/><path d="M1524.5 551.5q-12.4 27.8-15.2 56.5"/><path d="M1526.4 538.4q-4-22.2-13.7-40.7"/><path d="M1559.9 549.8q-29.2 26.2-47.3 59.2"/><path d="M1561.1 539.6q-19.6-26.6-45.4-44.6"/><path d="M1195.5 507.8q24.9-3.5 46.2-13.7"/><path d="M1232.3 505.1q6.6-4.2 11.1-8.7"/><path d="M1260.4 502.6q-2.8-4-5-6.5"/><path d="M1295.5 505.2q-18.7-9.9-37.9-13.5"/><path d="M1308.5 508.2q33.3-2.3 62.6-14.6"/><path d="M1332.8 506q-37-14.3-75.1-15.6"/><path d="M1345.9 506.8q14.5-4.5 26-11.8"/></g><g class="ax"><path d="M1378.5 501.8Q1378.9 499.5 1378.9 498.7M1375.8 504.1L1378.9 498.7 1381.3 504.5Z"/></g><g class="a"><path d="M1408.9 504.4q-10.9-7.5-21.9-11.5"/><path d="M1445.8 505.7q-28.7-12.4-58.4-14.9"/><path d="M1459 507.6q22.8-3.7 42.1-13.4"/><path d="M1495.4 504.5q4.9-3.9 8-7.5"/><path d="M1523.2 503.1q-4.1-4.8-7.7-7.8"/><path d="M1559 505.3q-20.7-10.4-42-13.8"/><path d="M1194.8 475.1q22.6 10.9 46 14.1"/><path d="M1231 477q5.6 5.6 10.9 9"/><path d="M1258.8 476.7q-3.3 3.5-5.1 6.3"/><path d="M1294.7 473.1q-20.7 3.9-38 13"/><path d="M1307.9 474.7q30.8 12.9 62.6 15.1"/><path d="M1332.3 472q-39.7 1.3-75.2 15.1"/><path d="M1344.9 475.8q12.8 8.2 25.8 12.2"/></g><g class="ax"><path d="M1376.8 478.9Q1376.9 481.2 1377 482M1378.9 476L1377 482 1373.4 476.9Z"/></g><g class="a"><path d="M1407.9 474.1q-12.5 4.4-22.1 11.1"/><path d="M1445.2 472.4q-31.2 2.6-58.5 14.4"/><path d="M1458.3 475.2q20.6 10.4 41.9 13.8"/><path d="M1494 477.4q4.1 4.8 7.8 7.8"/><path d="M1521.8 476q-4.9 3.9-8 7.5"/><path d="M1558.2 472.9q-22.8 3.7-42.1 13.4"/><path d="M1192.8 440.8q21.5 27.1 49.2 45"/><path d="M1227.8 442q5.6 22.6 16.9 41.1"/><path d="M1261 441.6q-8.8 20-11 40.2"/><path d="M1295.9 439.4q-25.1 19-42 43.8"/><path d="M1342.2 441.5q12.4 24.5 30.6 42.8"/><path d="M1375.9 442.2q-2.3 20.7 1.3 39.7"/><path d="M1409.7 440.3q-17.5 19.6-27.5 42.1"/><path d="M1445.9 438.4q-35.1 18.1-61.2 45.6"/><path d="M1456.2 440.9q19.5 26.6 45.4 44.6"/><path d="M1490.9 442.1q3.9 22.2 13.6 40.7"/><path d="M1524.1 441.4q-10.4 19.9-14.1 40.5"/><path d="M1559.3 439.1q-27.1 18.9-45.7 44.2"/></g><g class="c"><path d="M1125.4 865.2q70.7-47.3 119-115.5"/></g><g class="b"><path d="M1125.4 865.2q57-38.4 96-93.1"/></g><g class="c"><path d="M1509.9 862.2q10-56.3 .3-111.1"/><path d="M1504.6 863.3q-49.1-69.5-118.6-115.9"/></g><g class="b"><path d="M1505 863.1q-34-54.6-83.7-92.8"/><path d="M1506.5 862.4q-16.9-50.4-49-90.7"/><path d="M1508.6 862q-.3-46.6-15.8-88.9"/><path d="M1509 862.1q3-65.1-16.5-125.5"/></g><g class="c"><path d="M1631.5 741.5q-58.1-10.4-114.5-.3"/><path d="M1634.3 737q-49.1-69.4-118.6-115.8"/></g><g class="b"><path d="M1631.3 742.5q-69.3-2.1-133.5 19.8"/></g><g class="c"><path d="M1126.4 491.5q58 10.4 114.5 .3"/><path d="M1123.5 495.9q49.2 69.5 118.7 115.9"/></g><g class="b"><path d="M1123.9 495.7q40.7 50 95 81.9"/><path d="M1125.1 494.5q42.9 32.8 93 48.3"/><path d="M1126.1 492.7q45.2 16.1 91.7 16"/><path d="M1126.2 492.4q63.9 20.2 129.2 16.7"/></g><g class="c"><path d="M1248 370.8q-10.1 56.3-.3 111.1"/><path d="M1253.2 369.7q49.2 69.5 118.6 115.9"/></g><g class="b"><path d="M1246.9 370.5q-22.3 63.7-20.9 129.6"/></g><g class="c"><path d="M1632.5 367.8q-70.8 47.3-119 115.5"/><path d="M1632.5 367.8q-70.8 47.3-119 115.5"/><path d="M1125.4 865.2q225.6-147.6 378.4-368"/><path d="M1125.4 865.2q70.7-47.3 119-115.5"/><path d="M1509.9 862.2q35.2-182.6 .3-363.6"/><path d="M1504.6 863.3q-49.1-69.5-118.6-115.9"/><path d="M1509.9 862.2q10-56.3 .3-111.1"/><path d="M1893.7 863.3q-153.6-221.6-378-368.4"/><path d="M1126.4 491.6q187.7 36.2 373.9 .3"/><path d="M1123.5 495.9q49.2 69.5 118.7 115.9"/><path d="M1126.4 491.5q58 10.4 114.5 .3"/><path d="M1890.8 488.9q-187.7-36.2-373.8-.3"/><path d="M1123.5 117.2q153.7 221.6 378 368.4"/><path d="M1507.3 118.3q-35.2 182.6-.3 363.6"/><path d="M1891.8 115.3q-225.6 147.6-378.4 368"/></g></g><path class="n" stroke="#9edae5" d="M1119.6 869h0M1249.3 869h0M1378.9 869h0M1508.6 869h0M1638.3 869h0M1119.6 742.7h0M1638.3 742.7h0M1119.6 616.5h0M1638.3 616.5h0M1119.6 490.3h0M1638.3 490.3h0M1119.6 364h0M1249.3 364h0M1378.9 364h0M1508.6 364h0M1638.3 364h0M1119.6 869h0M1508.6 869h0M1897.6 869h0M1119.6 490.3h0M1897.6 490.3h0M1119.6 111.5h0M1508.6 111.5h0M1897.6 111.5h0"/><path class="n" stroke="#1f77b4" d="M1226.2 875.1h0M1263.9 875.1h0M1339.2 875.1h0M1414.5 875.1h0M1489.8 875.1h0M1527.4 875.1h0M1151 838.4h0M1188.6 838.4h0M1226.2 838.4h0M1263.9 838.4h0M1301.5 838.4h0M1339.2 838.4h0M1376.8 838.4h0M1414.5 838.4h0M1452.1 838.4h0M1489.8 838.4h0M1527.4 838.4h0M1565.1 838.4h0M1602.7 838.4h0M1151 801.8h0M1188.6 801.8h0M1226.2 801.8h0M1263.9 801.8h0M1301.5 801.8h0M1339.2 801.8h0M1376.8 801.8h0M1414.5 801.8h0M1452.1 801.8h0M1489.8 801.8h0M1527.4 801.8h0M1565.1 801.8h0M1602.7 801.8h0M1113.3 765.1h0M1151 765.1h0M1188.6 765.1h0M1226.2 765.1h0M1263.9 765.1h0M1301.5 765.1h0M1339.2 765.1h0M1376.8 765.1h0M1414.5 765.1h0M1452.1 765.1h0M1489.8 765.1h0M1527.4 765.1h0M1565.1 765.1h0M1602.7 765.1h0M1640.4 765.1h0M1113.3 728.5h0M1151 728.5h0M1188.6 728.5h0M1226.2 728.5h0M1263.9 728.5h0M1301.5 728.5h0M1339.2 728.5h0M1376.8 728.5h0M1414.5 728.5h0M1452.1 728.5h0M1489.8 728.5h0M1527.4 728.5h0M1565.1 728.5h0M1602.7 728.5h0M1640.4 728.5h0M1151 691.8h0M1188.6 691.8h0M1226.2 691.8h0M1263.9 691.8h0M1301.5 691.8h0M1339.2 691.8h0M1376.8 691.8h0M1414.5 691.8h0M1452.1 691.8h0M1489.8 691.8h0M1527.4 691.8h0M1565.1 691.8h0M1602.7 691.8h0M1640.4 691.8h0M1113.3 655.2h0M1151 655.2h0M1188.6 655.2h0M1226.2 655.2h0M1263.9 655.2h0M1301.5 655.2h0M1339.2 655.2h0M1376.8 655.2h0M1414.5 655.2h0M1452.1 655.2h0M1489.8 655.2h0M1527.4 655.2h0M1565.1 655.2h0M1602.7 655.2h0M1640.4 655.2h0M1151 618.5h0M1188.6 618.5h0M1226.2 618.5h0M1263.9 618.5h0M1301.5 618.5h0M1339.2 618.5h0M1376.8 618.5h0M1414.5 618.5h0M1452.1 618.5h0M1489.8 618.5h0M1527.4 618.5h0M1565.1 618.5h0M1602.7 618.5h0M1640.4 618.5h0M1113.3 581.9h0M1151 581.9h0M1188.6 581.9h0M1226.2 581.9h0M1263.9 581.9h0M1301.5 581.9h0M1339.2 581.9h0M1376.8 581.9h0M1414.5 581.9h0M1452.1 581.9h0M1489.8 581.9h0M1527.4 581.9h0M1565.1 581.9h0M1602.7 581.9h0M1640.4 581.9h0M1151 545.2h0M1188.6 545.2h0M1226.2 545.2h0M1263.9 545.2h0M1301.5 545.2h0M1339.2 545.2h0M1376.8 545.2h0M1414.5 545.2h0M1452.1 545.2h0M1489.8 545.2h0M1527.4 545.2h0M1565.1 545.2h0M1602.7 545.2h0M1640.4 545.2h0M1113.3 508.6h0M1151 508.6h0M1188.6 508.6h0M1226.2 508.6h0M1263.9 508.6h0M1301.5 508.6h0M1339.2 508.6h0M1376.8 508.6h0M1414.5 508.6h0M1452.1 508.6h0M1489.8 508.6h0M1527.4 508.6h0M1565.1 508.6h0M1602.7 508.6h0M1640.4 508.6h0M1113.3 471.9h0M1151 471.9h0M1188.6 471.9h0M1226.2 471.9h0M1263.9 471.9h0M1301.5 471.9h0M1339.2 471.9h0M1376.8 471.9h0M1414.5 471.9h0M1452.1 471.9h0M1489.8 471.9h0M1527.4 471.9h0M1565.1 471.9h0M1602.7 471.9h0M1640.4 471.9h0M1151 435.3h0M1188.6 435.3h0M1226.2 435.3h0M1263.9 435.3h0M1301.5 435.3h0M1339.2 435.3h0M1376.8 435.3h0M1414.5 435.3h0M1452.1 435.3h0M1489.8 435.3h0M1527.4 435.3h0M1565.1 435.3h0M1602.7 435.3h0M1640.4 435.3h0M1151 398.6h0M1188.6 398.6h0M1226.2 398.6h0M1263.9 398.6h0M1301.5 398.6h0M1339.2 398.6h0M1376.8 398.6h0M1414.5 398.6h0M1452.1 398.6h0M1489.8 398.6h0M1527.4 398.6h0M1565.1 398.6h0M1602.7 398.6h0M1226.2 362h0M1263.9 362h0M1301.5 362h0M1339.2 362h0M1376.8 362h0M1414.5 362h0M1452.1 362h0M1489.8 362h0M1527.4 362h0M1565.1 362h0"/><path class="n" stroke="#9edae5" d="M1249.3 742.7h0M1378.9 742.7h0M1508.6 742.7h0M1249.3 616.5h0M1378.9 616.5h0M1508.6 616.5h0M1249.3 490.3h0M1378.9 490.3h0M1508.6 490.3h0M1508.6 490.3h0"/></g><path class="t" d="M1107.5 955.5v4.86M1290.5 955.5v4.86M1472.5 955.5v4.86M1654.5 955.5v4.86M1837.5 955.5v4.86M1031.5 881.5h-4.86M1031.5 703.5h-4.86M1031.5 526.5h-4.86M1031.5 348.5h-4.86M1031.5 171.5h-4.86"/><rect class="t" x="1031.5" y="31.5" width="949" height="924"/><text x="1107.42" y="977" font-size="13.89" text-anchor="middle">5</text><text x="1290.03" y="977" font-size="13.89" text-anchor="middle">10</text><text x="1472.39" y="977" font-size="13.89" text-anchor="middle">15</text><text x="1654.75" y="977" font-size="13.89" text-anchor="middle">20</text><text x="1836.86" y="977" font-size="13.89" text-anchor="middle">25</text><text x="1021.72" y="887.33" font-size="13.89" text-anchor="end">5</text><text x="1020.97" y="709.79" font-size="13.89" text-anchor="end">10</text><text x="1021.22" y="532.26" font-size="13.89" text-anchor="end">15</text><text x="1021.47" y="354.72" font-size="13.89" text-anchor="end">20</text><text x="1021.47" y="177.19" font-size="13.89" text-anchor="end">25</text><text transform="translate(1505.47 24) scale(1 1.07)" font-size="16.67" text-anchor="middle">Subregion: x=[8,16], y=[8,16]</text><path d="M1847.1 126.22L1970.28 126.22Q1973.06 126.22 1973.06 123.44L1973.06 41.06Q1973.06 38.28 1970.28 38.28L1847.1 38.28Q1844.32 38.28 1844.32 41.06L1844.32 123.44Q1844.32 126.22 1847.1 126.22Z" fill="#fff" fill-opacity=".96" stroke="#ccc" stroke-opacity=".96" stroke-width="1.39"/><path d="M1871 71H1899" stroke="#1f77b4" stroke-width="2.08" stroke-linecap="square" fill="none"/><path d="M1871 92H1899" stroke="#8c564b" stroke-width="2.08" stroke-linecap="square" fill="none"/><path d="M1871 113H1899" stroke="#9edae5" stroke-width="2.08" stroke-linecap="square" fill="none"/><text x="1850.12" y="55.83" font-size="13.89">edge component</text><text x="1910.26" y="76.78" font-size="13.89">g2m</text><text x="1910.26" y="97.72" font-size="13.89">m2g</text><text x="1910.26" y="118.67" font-size="13.89">m2m</text><path d="M1040.67 105.28L1122.99 105.28Q1125.77 105.28 1125.77 102.5L1125.77 41.06Q1125.77 38.28 1122.99 38.28L1040.67 38.28Q1037.89 38.28 1037.89 41.06L1037.89 102.5Q1037.89 105.28 1040.67 105.28Z" fill="#fff" fill-opacity=".8" stroke="#ccc" stroke-opacity=".8" stroke-width="1.39"/><circle cx="1057.5" cy="71.5" r="3.47" fill="#1f77b4"/><circle cx="1057.5" cy="92.5" r="3.47" fill="#9edae5"/><text x="1047.02" y="55.83" font-size="13.89">node type</text><text x="1082.34" y="76.78" font-size="13.89">grid</text><text x="1082.34" y="97.72" font-size="13.89">mesh</text></svg></body></html>
